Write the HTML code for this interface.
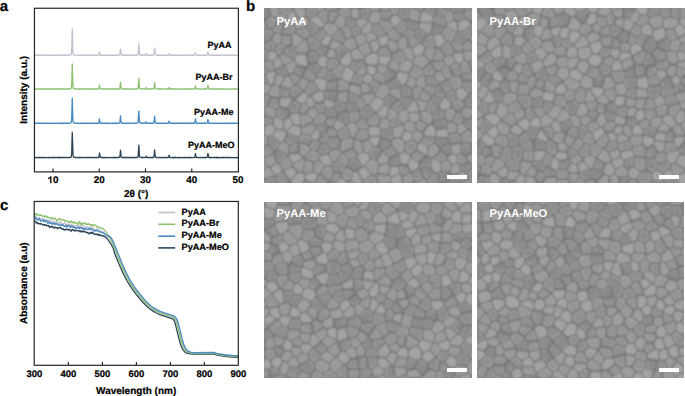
<!DOCTYPE html>
<html><head><meta charset="utf-8"><style>
html,body{margin:0;padding:0;background:#fff;}
body{width:685px;height:396px;position:relative;overflow:hidden;font-family:"Liberation Sans",sans-serif;text-rendering:geometricPrecision;}
svg{position:absolute;left:0;top:0;}
svg text{stroke:#000;stroke-width:0.22px;}
.sem{position:absolute;background:#8b8b8b;overflow:hidden;}
.sem .lab{position:absolute;left:12.5px;top:7.2px;color:#fff;font-weight:bold;font-size:11.2px;line-height:13px;white-space:nowrap;}
.sem .bar{position:absolute;background:#fff;width:20px;height:4px;}
</style></head><body>

<svg width="685" height="396" viewBox="0 0 685 396" font-family="Liberation Sans" font-weight="bold">
<text x="-0.3" y="10.7" font-size="15">a</text>
<text x="245.9" y="10.5" font-size="15">b</text>
<text x="0.1" y="210.1" font-size="15">c</text>
<path d="M34.50 55.04L34.59 55.40L34.68 55.17L35.24 55.27L35.33 54.93L35.79 55.28L36.44 55.08L36.63 55.24L36.90 55.04L37.27 55.27L37.74 55.15L37.83 55.42L37.92 55.12L38.11 55.33L38.75 55.09L39.68 55.18L39.77 55.40L39.86 55.14L40.05 55.33L40.33 55.14L40.42 55.36L40.70 55.11L40.79 55.37L41.16 55.07L41.25 55.29L41.53 55.09L41.81 55.34L41.90 55.06L42.45 55.26L42.64 55.09L42.73 55.32L43.10 55.15L43.29 55.34L43.47 55.10L44.12 55.26L44.58 54.99L44.86 55.36L45.14 55.16L45.23 55.38L45.32 55.10L45.51 55.30L45.97 55.03L46.06 55.21L46.34 55.06L46.80 55.26L46.89 55.08L47.45 55.27L47.63 55.00L48.00 55.30L49.76 55.06L49.85 55.36L49.95 55.13L50.96 55.24L51.06 55.02L51.43 55.23L51.98 55.07L52.54 55.29L53.00 55.07L53.37 55.32L53.83 55.11L54.85 55.37L55.22 55.09L55.31 55.35L55.68 55.15L55.87 55.34L56.79 55.24L56.88 55.05L57.07 55.27L57.35 55.01L57.44 55.21L57.81 55.01L58.27 55.29L58.36 55.05L58.64 55.27L59.10 55.10L59.94 55.22L60.12 55.04L60.21 55.21L60.49 55.09L60.58 55.34L60.95 55.07L61.32 55.31L61.51 55.04L61.60 55.26L61.69 55.04L62.06 55.37L63.17 55.06L63.36 55.27L63.64 55.11L64.38 55.30L64.84 55.19L64.93 54.94L65.12 55.23L65.49 55.08L65.67 55.42L65.95 55.05L66.13 55.26L66.23 55.04L66.32 55.25L66.50 55.05L66.97 55.22L67.24 54.96L67.43 55.22L67.89 55.04L68.17 55.33L68.35 54.99L68.63 55.20L70.20 54.81L70.48 54.99L71.31 54.08L71.59 52.59L72.33 28.85L72.98 52.74L73.26 54.12L73.63 54.62L74.46 55.05L75.11 54.98L75.20 55.19L75.29 55.02L75.38 55.20L76.77 55.03L77.42 55.21L77.79 54.95L78.07 55.34L78.44 55.10L78.53 55.29L78.99 55.09L79.18 55.28L80.01 55.04L80.56 55.28L80.84 55.05L81.58 55.22L81.95 55.03L82.41 55.28L83.15 55.07L83.99 55.29L84.17 55.05L84.63 55.31L84.73 55.06L85.65 55.33L85.74 55.09L86.11 55.27L86.30 55.05L86.58 55.46L86.76 55.11L87.78 55.23L87.96 54.99L88.15 55.37L88.80 55.09L88.89 55.28L88.98 55.11L89.54 55.27L90.55 55.10L90.83 55.30L91.02 55.14L91.11 55.33L91.57 55.00L92.13 55.38L92.22 55.13L93.33 55.23L93.42 55.07L93.88 55.29L94.07 55.11L94.53 55.30L95.27 55.05L95.92 55.35L96.20 55.05L96.57 55.24L96.94 54.97L98.23 55.22L98.69 55.06L98.88 54.67L99.53 51.63L100.08 54.77L100.54 55.21L100.64 54.95L100.73 55.34L100.91 54.96L101.19 55.24L101.28 55.04L101.38 55.26L101.75 55.09L101.84 55.28L102.30 55.10L103.32 55.27L103.50 55.07L103.97 55.31L104.34 55.06L104.89 55.34L105.08 55.06L105.63 55.29L105.91 55.03L106.09 55.28L106.74 55.15L106.93 55.33L107.02 55.09L107.20 55.32L107.94 55.20L108.13 55.43L108.50 55.14L110.16 55.28L110.72 55.02L110.90 55.32L111.00 55.07L111.37 55.32L111.64 55.07L112.11 55.35L112.75 55.07L113.77 55.31L114.42 55.08L114.70 55.36L114.88 55.09L115.62 55.30L116.27 55.08L116.64 55.26L116.73 55.06L116.82 55.32L117.66 55.03L117.93 55.24L118.03 55.07L118.58 55.21L118.67 54.98L118.86 55.19L119.88 54.68L120.52 48.95L121.36 54.96L121.45 54.70L121.73 55.08L122.28 55.18L123.02 55.25L123.11 55.02L123.39 55.21L123.58 55.02L123.85 55.22L123.95 55.02L124.13 55.23L124.22 55.07L124.96 55.25L125.06 55.01L125.80 55.30L126.17 55.14L126.26 55.34L126.35 54.93L126.44 55.25L126.72 55.11L126.91 55.42L127.09 55.12L127.37 55.37L127.46 55.09L127.92 55.27L128.29 55.08L128.76 55.29L128.85 55.10L129.59 55.15L129.77 55.36L130.42 55.08L131.44 55.32L131.62 55.08L131.90 55.31L132.46 55.07L133.29 55.30L133.57 55.06L134.12 55.34L134.58 55.07L136.16 55.06L136.25 55.23L136.43 54.99L136.62 55.25L137.27 55.07L137.45 54.76L137.54 54.94L138.10 54.09L138.84 43.43L139.49 54.11L140.04 55.05L140.13 54.84L140.69 55.15L141.06 54.93L141.15 55.22L141.34 55.02L141.61 55.23L141.80 55.01L142.35 55.22L142.91 54.99L143.09 55.25L143.19 55.08L144.76 55.26L145.31 54.94L145.96 53.55L146.52 54.90L146.89 55.24L147.07 55.03L147.44 55.22L148.00 55.08L148.09 55.29L148.37 55.07L148.55 55.34L148.64 55.14L149.20 55.12L149.29 55.29L149.38 54.99L149.57 55.20L149.85 54.98L150.03 55.20L150.59 55.04L150.96 55.32L151.14 55.11L151.79 55.30L151.88 55.04L151.97 55.22L153.18 54.89L153.36 55.14L153.45 54.90L153.64 55.01L154.10 53.52L154.66 48.14L155.21 54.12L155.49 54.90L156.51 55.17L156.97 54.93L157.25 55.23L157.43 55.03L157.62 55.25L157.89 55.10L158.82 55.28L159.10 55.10L160.02 55.35L160.11 55.12L160.39 55.27L160.67 55.11L160.76 55.30L160.85 55.12L161.78 55.27L162.24 55.08L162.43 55.28L163.07 55.00L163.72 55.38L163.81 55.08L163.91 55.28L165.29 55.24L165.48 55.06L166.31 55.26L166.96 55.13L167.05 55.30L167.33 55.04L167.42 55.27L167.61 55.11L167.70 55.31L168.07 55.30L168.53 54.96L168.99 53.84L169.18 53.84L169.83 55.15L170.20 55.06L170.75 55.33L171.12 55.05L171.31 55.27L171.49 55.06L171.58 55.26L171.86 55.07L173.34 55.26L173.71 55.10L173.90 55.40L174.36 55.07L174.45 55.26L176.58 55.12L176.76 55.32L176.86 55.07L177.50 55.31L177.87 55.04L178.24 55.28L178.52 55.08L178.89 55.30L179.08 55.08L180.19 55.27L180.46 55.08L181.02 55.33L182.13 55.10L182.50 55.34L182.78 55.06L182.87 55.40L183.24 55.18L183.61 55.32L183.89 55.13L183.98 55.33L184.72 55.02L185.00 55.20L185.64 55.01L185.74 55.26L185.83 55.05L187.03 55.34L187.40 55.08L187.68 55.38L187.77 55.15L188.14 55.28L188.33 55.04L188.79 55.18L188.88 55.01L189.34 55.39L189.53 55.07L189.99 55.27L190.08 55.05L190.36 55.41L190.45 55.07L190.73 55.27L191.19 55.01L191.38 55.22L191.56 55.08L191.93 55.26L192.12 55.06L192.21 55.27L193.23 55.19L193.32 55.36L193.41 55.04L193.60 55.25L194.80 54.98L195.45 52.56L195.91 54.52L196.19 55.11L196.47 55.02L196.56 55.22L197.95 55.07L198.04 55.24L198.13 55.03L198.32 55.24L199.15 55.09L199.61 55.31L199.89 55.05L200.07 55.31L200.26 55.13L200.63 55.33L200.81 55.02L201.00 55.31L201.37 55.15L201.83 55.35L202.48 55.26L202.66 55.03L204.24 55.35L204.51 55.02L205.25 55.29L205.62 55.03L205.72 55.32L206.09 55.02L206.18 55.26L207.29 54.87L207.94 51.96L208.58 54.88L208.86 55.06L208.95 54.86L209.05 55.18L209.32 55.08L209.51 55.31L209.60 55.03L211.08 55.24L211.27 55.03L211.82 55.32L212.10 55.12L212.19 55.31L212.28 55.07L212.93 55.38L213.30 55.12L213.86 55.33L215.15 55.08L215.24 55.33L216.08 55.07L216.17 55.30L216.35 54.89L216.72 55.41L216.82 55.07L217.00 55.31L217.09 55.10L217.28 55.28L217.83 55.31L218.02 55.09L218.48 55.27L218.57 55.06L218.94 55.31L219.04 55.04L219.22 55.26L219.87 55.31L220.42 55.05L220.52 55.27L221.07 55.16L221.26 55.37L221.81 55.10L222.46 55.26L223.11 55.02L223.20 55.19L224.49 55.08L224.96 55.28L225.33 55.04L225.42 55.30L226.90 55.10L226.99 55.40L227.73 55.09L228.38 55.30L228.56 55.16L228.66 55.39L228.93 55.14L229.30 55.38L229.67 55.13L229.95 55.31L230.51 55.10L230.78 55.24L231.15 54.97L231.52 55.28L232.17 55.25L232.26 55.05L232.54 55.31L232.63 55.03L233.10 55.23L233.19 55.04L233.56 55.40L233.93 55.02L234.02 55.25L234.67 55.08L235.78 55.29L235.96 55.10L236.06 55.30L238.00 55.18" fill="none" stroke="#c3c2cc" stroke-width="1.3" stroke-linejoin="round"/>
<path d="M34.50 88.97L35.15 89.07L35.24 88.85L35.61 89.21L35.89 88.89L35.98 89.16L36.16 88.84L36.90 89.08L37.00 88.87L37.09 89.13L37.27 88.75L37.55 89.07L38.01 88.85L38.29 89.03L38.85 88.88L39.77 89.08L39.86 88.92L40.14 89.19L40.60 88.97L40.88 89.16L40.97 88.89L41.71 89.01L41.81 88.84L41.90 89.15L42.08 88.92L42.36 89.14L42.45 88.90L42.55 89.15L42.92 88.88L43.29 89.14L43.38 88.93L44.03 89.09L44.12 88.92L44.30 89.21L44.67 88.80L44.86 89.11L45.23 88.90L46.06 89.11L46.52 88.89L46.89 89.18L47.08 88.95L47.91 89.02L48.00 88.80L48.47 89.11L48.65 88.88L48.74 89.11L49.02 88.88L49.11 89.08L49.39 88.87L49.85 89.06L49.95 88.83L50.32 89.14L50.69 88.86L51.24 89.18L51.52 88.82L51.61 89.07L52.35 88.89L52.54 89.11L52.91 88.90L53.65 89.11L54.02 89.07L54.11 88.80L54.29 89.06L54.48 88.89L54.57 89.22L54.76 88.95L55.59 88.92L56.14 89.16L56.61 88.78L56.88 89.06L57.53 88.93L57.62 89.15L57.81 88.92L57.99 89.15L58.09 88.95L58.83 88.92L59.01 89.11L59.20 88.83L59.29 89.09L60.03 88.93L60.12 89.13L60.21 88.94L60.58 89.07L60.68 88.91L60.86 89.12L61.51 88.82L61.60 89.11L61.97 88.82L62.06 89.05L62.90 88.94L63.17 89.21L63.27 88.91L64.38 89.13L64.56 88.92L64.65 89.09L65.30 88.83L65.58 89.08L67.06 88.80L67.24 89.09L67.71 88.79L68.08 89.10L68.17 88.79L68.45 89.05L69.00 88.74L69.19 89.01L69.93 88.92L70.02 88.63L70.20 88.90L70.57 88.49L70.67 88.74L71.41 87.82L71.68 85.22L72.24 64.00L72.98 86.52L73.44 88.33L73.81 88.69L74.64 88.69L74.74 88.96L74.83 88.64L75.11 88.99L75.38 88.79L76.31 89.03L76.86 88.77L76.96 88.97L77.79 89.04L78.25 88.82L78.53 89.12L78.71 88.93L79.08 89.10L79.27 88.82L79.36 89.07L79.45 88.85L79.64 89.09L80.10 88.85L80.56 89.14L80.84 88.96L80.93 89.13L81.12 88.87L81.21 89.14L81.30 88.95L81.77 89.11L81.86 88.88L82.32 89.12L83.06 88.84L83.15 89.05L83.99 88.96L84.08 89.18L84.17 88.88L84.63 89.11L84.82 88.88L85.10 89.04L85.37 88.87L85.65 89.15L86.11 88.73L86.21 88.98L86.58 88.88L86.85 89.17L87.13 88.88L87.22 89.10L87.59 88.86L88.15 89.05L88.24 88.83L88.80 89.13L89.17 88.89L89.26 89.14L89.72 88.88L90.00 89.09L90.09 88.83L90.37 88.82L90.55 89.17L90.83 88.83L90.92 89.11L92.22 89.01L92.31 88.83L92.50 89.08L93.14 88.91L93.61 89.13L94.72 88.94L94.90 89.22L94.99 88.91L95.46 88.76L95.55 88.96L96.38 89.08L96.66 88.84L96.94 89.07L97.49 88.78L97.86 88.95L97.95 88.75L98.23 89.05L98.88 88.43L99.53 85.02L99.99 88.06L100.36 88.87L100.64 88.72L101.47 89.09L101.75 88.84L102.30 89.11L102.39 88.92L103.13 89.07L103.23 88.90L103.50 89.15L103.69 88.80L104.06 89.21L104.24 88.90L104.43 89.17L104.52 88.89L104.98 89.08L105.63 88.91L105.72 89.19L105.91 88.91L106.28 89.09L106.46 88.86L107.11 88.83L107.76 89.15L108.22 88.80L108.41 89.11L109.24 88.95L109.33 89.23L109.79 88.84L111.09 89.20L111.18 88.87L112.20 89.15L112.85 88.87L113.31 88.92L113.40 89.14L113.59 88.84L113.68 89.12L113.96 88.87L114.23 89.09L114.42 88.91L115.25 89.09L115.62 88.80L115.71 89.07L116.08 89.13L116.27 88.91L116.73 89.04L117.38 88.83L117.84 89.09L118.40 88.68L118.77 89.03L118.95 88.71L119.04 88.94L119.23 88.73L119.41 88.97L119.78 88.51L119.97 87.57L120.52 82.03L121.17 88.06L121.54 88.81L121.91 88.77L122.00 89.00L122.93 88.84L123.58 89.10L124.22 88.83L124.96 89.02L125.15 88.84L126.07 89.07L126.17 88.78L126.26 89.02L126.81 88.86L127.55 89.13L128.02 88.90L128.11 89.08L129.03 89.09L129.31 88.85L129.40 89.09L130.14 88.95L130.24 89.12L130.33 88.94L130.42 89.17L130.51 88.85L131.72 89.13L131.81 88.86L132.27 89.16L132.55 88.84L133.01 89.07L133.57 88.82L134.31 89.10L135.60 88.82L136.43 89.04L136.99 88.72L137.27 88.93L137.73 88.75L138.19 87.36L138.75 78.09L139.49 88.03L140.04 88.82L140.41 88.72L140.78 88.94L140.87 88.71L140.97 88.95L141.71 88.83L142.35 89.09L143.09 89.00L143.19 88.76L143.28 89.04L143.93 88.80L144.30 89.07L144.48 88.81L144.85 89.12L144.94 88.81L145.04 89.03L145.50 88.71L146.05 87.59L146.52 88.78L146.70 88.97L147.35 88.88L147.44 89.18L147.72 88.79L148.00 89.06L150.68 88.86L150.86 89.13L151.14 88.83L151.23 89.02L151.97 88.80L152.16 89.13L152.53 88.74L152.71 89.00L153.55 88.62L153.64 88.84L154.10 87.46L154.56 82.32L155.21 87.91L155.49 88.66L155.86 88.70L155.95 88.97L157.71 88.88L158.08 89.09L158.54 88.82L158.82 89.17L159.19 88.89L159.47 89.21L159.56 88.92L160.21 88.82L160.39 89.10L160.58 88.89L161.13 89.15L161.41 88.92L161.78 89.11L161.96 88.77L162.06 89.08L163.81 88.91L163.91 89.10L164.18 88.84L164.55 89.08L165.39 88.87L165.48 89.08L165.76 88.90L166.13 89.12L166.22 88.92L166.31 89.13L166.50 88.90L166.68 89.11L167.05 88.85L167.24 89.09L167.42 88.92L167.70 89.10L168.25 88.81L168.35 89.00L169.18 87.53L169.46 88.53L169.92 89.11L170.20 88.73L170.29 89.17L170.94 88.81L171.03 89.04L171.21 88.85L171.31 89.09L171.49 88.90L171.68 89.10L171.86 88.84L171.95 89.02L173.16 88.89L173.62 89.10L174.08 88.87L174.17 89.11L174.27 88.92L174.45 89.11L174.73 88.90L175.10 89.14L176.21 88.88L176.49 89.12L176.86 88.88L177.32 89.14L177.69 89.01L177.78 89.21L177.97 88.96L178.06 89.19L178.80 88.90L182.22 89.13L182.68 88.85L183.98 89.09L184.07 88.93L184.90 89.05L185.27 88.80L185.55 89.12L187.12 88.89L187.31 89.23L187.59 88.93L188.05 89.05L188.51 88.83L188.88 89.09L190.08 88.83L190.92 89.13L191.01 88.79L191.19 89.15L191.29 88.96L191.47 89.16L191.84 88.90L191.93 89.05L192.49 88.88L192.67 89.10L192.77 88.84L193.23 89.00L193.88 88.81L194.34 89.08L194.80 88.66L195.45 85.88L196.10 88.70L196.28 88.63L196.47 88.93L196.65 88.79L196.84 89.01L197.30 88.75L197.67 89.02L197.85 88.86L199.24 89.04L199.33 88.88L200.07 89.09L200.35 88.86L200.91 89.10L202.02 88.96L202.29 89.17L203.68 88.90L203.87 89.06L204.24 88.94L204.33 89.21L204.51 88.84L204.70 89.13L204.88 88.79L205.07 89.06L205.44 88.88L205.62 89.14L205.90 88.82L206.36 89.08L206.46 88.84L207.20 88.71L207.94 85.29L208.58 88.55L209.51 89.11L209.88 88.91L211.27 89.03L211.45 88.78L212.10 89.06L212.19 88.81L212.65 89.13L212.75 88.84L213.02 89.08L213.39 88.83L213.95 89.13L214.78 88.92L214.97 89.11L215.06 88.90L215.15 89.11L216.08 89.05L216.17 88.89L216.35 89.12L216.72 88.83L216.82 89.04L217.65 88.87L217.74 89.14L217.83 88.91L218.30 89.14L218.39 88.90L218.85 89.10L219.13 88.87L219.41 89.14L219.59 88.87L220.05 89.14L220.15 88.85L220.42 89.00L220.52 88.84L220.89 89.10L222.00 88.89L223.20 89.08L223.29 88.84L223.75 89.15L224.31 88.86L224.86 89.06L225.88 88.93L226.07 89.18L226.53 88.89L226.62 89.07L227.92 89.08L228.47 88.89L228.75 89.14L230.51 88.96L230.69 89.14L230.97 88.86L231.43 89.13L232.36 88.90L232.45 89.16L233.00 88.95L233.47 89.21L234.21 88.83L234.48 89.09L235.04 88.83L235.22 89.09L236.52 88.84L236.98 89.19L237.07 88.88L237.72 88.85L238.00 89.13" fill="none" stroke="#8fc173" stroke-width="1.3" stroke-linejoin="round"/>
<path d="M34.50 123.18L34.78 123.44L34.96 123.14L35.24 123.46L35.33 123.07L35.52 123.42L35.79 123.17L36.90 123.42L37.27 123.12L37.55 123.31L38.01 123.17L38.11 123.36L38.48 123.17L39.31 123.37L39.59 123.16L39.86 123.43L40.05 123.21L40.23 123.37L40.88 123.15L41.25 123.36L41.34 123.17L41.44 123.41L42.08 123.19L42.18 123.45L42.92 123.12L43.19 123.39L43.29 123.21L43.93 123.41L44.40 123.15L44.77 123.37L45.23 123.18L46.43 123.44L46.80 123.22L48.37 123.40L48.65 123.16L49.11 123.41L49.21 123.20L49.76 123.22L49.85 123.43L50.13 123.42L50.32 123.11L50.41 123.40L50.59 123.21L51.61 123.26L51.89 123.48L52.44 123.20L52.81 123.44L53.00 123.19L53.18 123.38L54.48 123.19L54.85 123.40L55.68 123.37L55.87 123.01L56.24 123.40L56.33 123.19L56.88 123.40L57.44 123.24L57.53 123.42L58.18 123.23L58.36 123.43L58.46 123.24L58.55 123.42L58.64 123.16L59.01 123.34L59.57 123.09L59.84 123.35L59.94 123.14L60.40 123.36L60.68 123.23L60.77 123.46L60.86 123.21L61.05 123.50L61.32 123.17L61.42 123.51L61.60 123.28L62.06 123.41L62.71 123.15L62.80 123.42L62.99 123.23L63.17 123.50L63.45 123.09L63.91 123.51L64.47 123.15L64.56 123.39L65.86 123.10L65.95 123.38L66.50 123.08L66.60 123.45L66.69 123.20L66.97 123.40L67.24 123.15L67.43 123.32L67.52 123.08L68.35 123.38L68.45 123.15L68.82 123.29L69.09 123.06L69.56 123.26L69.74 123.03L70.67 122.95L71.31 122.33L71.68 119.42L72.24 98.08L72.98 120.94L73.26 122.27L74.09 123.06L74.37 122.85L74.46 123.18L74.64 122.99L75.48 123.29L75.85 123.28L75.94 123.06L76.03 123.36L77.79 123.12L78.16 123.38L78.25 123.13L78.62 123.34L80.29 123.21L80.38 123.37L80.56 123.10L80.66 123.32L82.41 123.23L82.51 123.46L83.52 123.13L83.80 123.36L84.54 123.19L84.82 123.46L85.00 123.08L85.10 123.35L85.28 123.16L85.74 123.42L85.93 123.16L86.02 123.36L86.21 123.21L86.76 123.43L87.32 123.14L88.24 123.41L88.33 123.15L88.43 123.39L88.52 123.15L88.80 123.18L88.89 123.43L88.98 123.16L89.44 123.42L89.54 123.15L90.09 123.36L90.74 123.19L90.92 123.37L91.29 123.19L92.77 123.38L92.96 123.15L93.42 123.40L93.51 123.19L94.62 123.35L94.81 123.20L95.36 123.41L95.46 123.17L96.10 123.40L96.20 123.18L96.47 123.35L96.57 123.15L96.66 123.39L96.75 123.12L97.40 123.33L97.86 123.10L98.14 123.28L98.23 123.06L98.60 123.29L99.06 121.78L99.43 118.85L99.99 122.28L100.45 123.23L101.75 123.19L102.12 123.39L102.58 123.11L102.86 123.45L103.04 123.13L103.41 123.44L103.78 123.14L104.06 123.46L104.43 123.14L105.08 123.20L105.26 123.42L105.45 123.06L106.09 123.45L106.56 123.17L107.02 123.34L107.11 123.13L107.20 123.38L107.48 123.17L107.57 123.38L107.94 123.22L108.04 123.50L108.22 123.27L108.68 123.44L108.78 123.22L108.87 123.49L109.70 123.20L110.26 123.50L110.35 123.32L111.55 123.37L111.83 123.17L112.11 123.38L112.38 123.27L112.48 123.49L112.66 123.26L112.75 123.41L113.12 123.19L113.22 123.40L113.59 123.16L113.86 123.48L113.96 123.25L114.14 123.40L114.42 123.17L114.79 123.34L115.07 123.19L115.25 123.51L115.44 123.23L116.18 123.18L117.38 123.35L117.56 123.10L118.03 123.33L118.49 123.05L118.67 123.29L119.69 122.91L119.88 122.39L120.52 115.72L121.08 121.87L121.63 123.24L121.82 123.03L122.56 123.45L122.65 123.20L123.11 123.12L123.39 123.42L123.67 123.21L124.78 123.40L124.87 123.18L125.43 123.40L125.98 123.15L126.17 123.41L126.35 123.16L126.44 123.33L127.18 123.18L127.37 123.46L127.46 123.16L127.65 123.39L128.02 123.16L128.20 123.35L128.85 123.22L128.94 123.42L129.13 123.12L129.40 123.52L129.59 123.20L129.87 123.39L130.33 123.18L130.98 123.41L131.25 123.20L131.72 123.43L133.01 123.14L133.84 123.19L133.94 123.38L134.86 123.17L135.23 123.33L135.69 123.10L135.97 123.38L136.06 123.16L137.45 123.03L138.01 122.48L138.84 111.00L139.58 122.49L140.13 123.08L140.60 122.94L141.52 123.35L141.71 123.08L142.26 123.50L142.35 123.20L142.91 123.14L143.46 123.42L143.56 123.12L143.83 123.39L143.93 123.16L144.76 123.31L145.04 123.06L145.13 123.24L145.50 122.99L145.96 121.76L146.79 123.36L147.07 123.06L147.81 123.32L148.00 123.11L148.55 123.35L149.29 123.15L149.75 123.40L150.12 123.18L150.59 123.45L150.77 123.20L150.86 123.41L150.96 123.20L151.51 123.14L152.34 123.38L152.90 123.02L152.99 123.33L153.45 122.94L153.73 123.00L154.10 121.59L154.56 116.21L155.30 122.59L155.95 123.20L156.88 123.34L157.15 123.17L157.43 123.42L157.62 123.19L158.26 123.25L158.54 123.50L158.91 123.22L159.65 123.16L159.74 123.38L160.39 123.17L161.22 123.30L161.32 123.11L161.87 123.38L163.07 123.26L163.26 123.52L163.54 123.15L163.91 123.38L164.37 123.19L164.46 123.39L164.65 123.14L164.92 123.34L165.02 123.12L165.29 123.44L166.03 123.14L166.22 123.43L166.59 123.18L166.87 123.42L167.24 123.40L167.33 123.15L168.07 123.30L168.16 123.10L168.44 123.18L169.09 121.06L169.83 123.23L170.01 123.03L170.20 123.31L170.38 123.05L171.03 123.45L171.49 123.17L171.77 123.33L172.05 123.17L172.14 123.36L172.60 123.14L173.16 123.44L173.34 123.13L173.71 123.45L173.99 123.19L174.27 123.43L175.19 123.14L175.56 123.49L175.65 123.23L176.12 123.42L176.58 123.22L176.76 123.46L177.50 123.17L178.24 123.45L178.34 123.20L178.61 123.26L178.89 123.49L179.35 123.19L179.45 123.38L179.54 122.97L179.72 123.39L180.00 123.19L180.28 123.39L180.46 123.17L181.20 123.42L181.48 123.16L181.67 123.39L182.31 123.23L182.41 123.45L182.50 123.11L182.68 123.42L182.96 123.19L183.15 123.35L183.70 123.23L183.79 123.48L183.98 123.20L184.53 123.46L184.63 123.27L184.90 123.47L185.18 123.22L185.37 123.43L185.55 123.15L186.11 123.42L186.29 123.22L187.22 123.36L187.59 123.16L187.68 123.36L188.23 123.23L188.33 123.42L188.51 123.16L188.70 123.36L189.16 123.21L189.25 123.48L189.44 123.27L189.62 123.49L189.81 123.25L190.18 123.41L190.45 123.01L190.55 123.35L191.01 123.19L191.10 123.43L191.38 123.16L191.75 123.39L191.84 123.21L191.93 123.41L192.58 123.13L192.67 123.35L192.77 123.16L193.14 123.35L193.23 123.12L193.51 123.36L193.78 123.11L193.88 123.37L194.80 122.87L195.45 118.96L196.19 122.98L196.37 123.19L196.47 122.92L196.56 123.23L197.58 123.11L197.67 123.37L198.22 123.17L199.15 123.40L199.43 123.15L199.52 123.39L199.89 123.18L200.91 123.37L201.00 123.17L201.18 123.49L201.37 123.22L201.83 123.41L202.48 123.14L202.94 123.47L204.14 123.11L204.33 123.37L204.70 123.12L204.88 123.40L205.25 123.15L205.44 123.40L205.53 123.10L205.72 123.29L205.90 123.07L206.83 123.21L207.20 123.03L207.47 122.17L207.84 119.56L208.03 119.60L208.49 122.61L208.95 123.30L209.42 123.11L209.69 123.39L210.16 123.13L210.80 123.41L211.27 123.44L211.54 123.19L212.56 123.41L212.93 123.09L213.02 123.39L213.58 123.14L213.67 123.38L214.97 123.26L215.06 123.46L215.15 123.18L215.52 123.41L216.54 123.17L217.56 123.41L217.74 123.16L217.83 123.35L218.48 123.40L219.22 123.13L221.07 123.39L221.63 123.36L221.72 123.10L222.09 123.44L222.46 123.25L222.55 123.45L222.83 123.20L223.01 123.41L223.57 123.19L223.85 123.42L224.68 123.38L224.77 123.18L225.14 123.48L225.23 123.26L225.60 123.42L225.88 123.14L225.97 123.38L226.44 123.19L226.53 123.40L226.71 123.18L227.08 123.40L227.82 123.15L228.10 123.47L228.38 123.17L228.47 123.37L228.56 123.21L229.49 123.41L230.04 123.17L230.41 123.50L230.88 123.15L231.34 123.34L231.52 123.13L231.89 123.54L232.36 123.23L232.91 123.36L233.28 123.13L233.47 123.39L234.11 123.21L234.30 123.44L234.76 123.15L235.32 123.39L235.59 123.13L235.69 123.44L236.70 123.18L236.98 123.40L238.00 123.37" fill="none" stroke="#4a8ac2" stroke-width="1.3" stroke-linejoin="round"/>
<path d="M34.50 157.67L34.78 157.45L35.24 157.71L35.61 157.46L35.98 157.80L36.07 157.55L36.26 157.72L37.00 157.48L37.55 157.65L37.83 157.51L38.20 157.75L39.03 157.43L39.59 157.71L39.68 157.44L39.77 157.73L40.51 157.47L40.79 157.73L41.16 157.45L41.62 157.75L41.99 157.47L42.36 157.67L42.64 157.54L42.73 157.74L42.82 157.56L43.66 157.70L43.75 157.49L43.84 157.79L43.93 157.49L44.12 157.64L44.21 157.46L44.49 157.64L44.77 157.48L45.78 157.58L45.88 157.78L45.97 157.61L46.06 157.79L46.25 157.55L48.37 157.66L48.47 157.41L48.84 157.75L49.21 157.50L49.58 157.70L49.67 157.48L50.13 157.68L50.87 157.53L50.96 157.78L51.24 157.49L51.70 157.46L51.80 157.63L52.44 157.47L53.18 157.64L53.37 157.44L53.55 157.68L53.83 157.49L53.92 157.71L54.11 157.45L54.29 157.69L54.48 157.48L55.87 157.67L56.33 157.40L56.70 157.70L57.07 157.38L57.44 157.71L58.09 157.49L58.18 157.68L58.36 157.47L58.55 157.65L58.64 157.38L58.73 157.82L59.01 157.55L59.10 157.70L59.38 157.50L59.47 157.74L59.84 157.44L60.40 157.65L60.86 157.39L60.95 157.72L61.42 157.59L61.51 157.34L61.88 157.65L61.97 157.39L62.16 157.71L62.43 157.47L62.90 157.65L63.45 157.43L63.64 157.65L64.75 157.47L65.30 157.68L66.13 157.50L66.32 157.70L67.52 157.42L68.63 157.62L70.02 157.31L70.11 157.50L70.67 157.03L70.76 157.21L71.22 156.85L71.41 156.28L71.68 153.65L72.24 132.17L73.07 155.82L73.72 157.30L73.81 157.02L74.09 157.31L75.20 157.51L75.38 157.36L75.66 157.67L75.75 157.35L76.40 157.61L76.68 157.36L77.05 157.69L77.42 157.47L77.51 157.63L78.81 157.47L79.27 157.75L79.45 157.46L79.55 157.71L79.73 157.48L79.82 157.70L80.84 157.47L81.49 157.71L81.95 157.48L82.32 157.74L82.97 157.48L83.25 157.70L84.36 157.44L84.54 157.69L84.91 157.49L85.84 157.71L86.95 157.51L87.13 157.73L87.96 157.44L88.24 157.71L88.89 157.48L89.54 157.68L89.63 157.43L89.72 157.74L90.28 157.44L90.55 157.67L90.65 157.36L90.83 157.67L91.11 157.52L91.29 157.73L91.85 157.50L92.13 157.64L92.22 157.45L92.96 157.66L93.05 157.45L93.24 157.63L93.70 157.52L93.98 157.78L94.07 157.55L94.62 157.67L94.90 157.51L94.99 157.69L95.09 157.35L95.27 157.71L96.66 157.45L96.75 157.64L97.31 157.44L98.42 157.57L98.97 156.63L99.53 152.87L100.17 157.15L100.73 157.62L101.19 157.45L101.38 157.78L101.47 157.41L101.65 157.69L102.76 157.51L102.95 157.72L103.32 157.49L103.41 157.68L103.60 157.40L103.87 157.73L104.43 157.48L104.89 157.70L104.98 157.47L105.26 157.74L105.72 157.42L105.82 157.68L106.00 157.43L107.20 157.74L108.04 157.51L108.13 157.69L110.81 157.51L111.46 157.71L112.57 157.46L113.03 157.73L113.40 157.43L113.86 157.74L113.96 157.45L114.14 157.66L114.88 157.48L115.07 157.82L115.34 157.37L115.44 157.59L115.90 157.66L116.08 157.47L116.18 157.68L117.29 157.47L117.56 157.70L118.03 157.39L118.21 157.62L118.86 157.36L118.95 157.50L119.32 157.24L119.60 157.34L119.88 156.66L120.52 150.06L121.08 156.16L121.36 157.14L121.91 157.53L122.19 157.64L122.56 157.33L122.65 157.67L123.39 157.38L123.48 157.58L124.13 157.63L124.32 157.44L124.50 157.64L125.24 157.48L125.33 157.71L125.80 157.43L126.44 157.47L126.54 157.67L126.72 157.41L126.91 157.67L127.18 157.48L127.74 157.69L128.66 157.49L129.13 157.77L129.22 157.51L129.77 157.65L129.87 157.44L130.61 157.73L130.88 157.51L131.25 157.67L131.62 157.48L131.81 157.75L131.99 157.50L132.73 157.68L133.01 157.40L133.20 157.74L133.47 157.57L133.57 157.73L133.66 157.51L134.03 157.68L134.31 157.44L134.40 157.60L134.95 157.48L135.05 157.70L135.14 157.43L136.06 157.58L136.25 157.35L136.43 157.54L137.08 157.19L137.17 157.50L137.64 157.16L137.73 157.35L138.10 156.41L138.84 145.09L139.49 156.30L139.76 157.17L139.86 157.04L140.13 157.34L140.60 157.30L140.97 157.56L141.71 157.43L142.17 157.67L142.63 157.43L143.28 157.63L143.56 157.41L144.85 157.68L145.50 157.28L146.05 156.07L146.33 156.98L146.98 157.66L147.35 157.45L147.53 157.64L147.72 157.37L147.81 157.61L148.46 157.44L149.01 157.71L149.48 157.51L149.66 157.76L150.22 157.41L151.05 157.70L152.07 157.46L152.16 157.76L152.34 157.47L152.81 157.61L152.90 157.43L153.64 157.35L154.10 155.80L154.56 149.99L155.30 156.88L155.67 157.41L156.41 157.55L156.78 157.40L158.26 157.61L158.91 157.43L160.76 157.73L161.78 157.50L161.96 157.73L162.24 157.45L162.52 157.70L163.17 157.52L163.63 157.73L164.28 157.59L164.37 157.35L165.02 157.70L165.11 157.43L165.20 157.72L165.66 157.46L165.85 157.75L166.40 157.50L166.68 157.69L166.87 157.38L166.96 157.64L167.05 157.49L167.33 157.68L167.88 157.32L168.16 157.57L168.62 156.87L169.09 155.22L169.64 157.25L170.01 157.63L170.20 157.42L170.66 157.74L171.12 157.49L171.86 157.67L173.06 157.45L173.34 157.76L173.53 157.52L173.62 157.86L173.71 157.51L174.08 157.74L174.54 157.45L174.64 157.73L174.82 157.39L175.28 157.66L175.75 157.39L175.84 157.72L176.39 157.49L177.13 157.75L177.41 157.50L177.60 157.74L178.24 157.48L179.08 157.78L179.26 157.52L179.82 157.51L179.91 157.71L180.09 157.47L180.28 157.71L181.48 157.54L182.13 157.72L182.31 157.51L183.70 157.71L183.98 157.40L184.44 157.71L184.72 157.44L184.90 157.66L185.37 157.46L185.83 157.71L186.66 157.50L187.40 157.73L187.86 157.49L188.14 157.70L188.42 157.45L188.70 157.77L188.88 157.49L189.16 157.73L189.34 157.51L189.90 157.71L190.64 157.49L191.47 157.68L191.56 157.43L191.75 157.71L191.84 157.54L192.30 157.68L193.23 157.41L193.51 157.65L194.80 157.26L195.45 153.51L196.00 156.95L196.37 157.53L197.02 157.44L197.39 157.63L197.58 157.44L197.76 157.69L198.41 157.70L198.87 157.49L199.15 157.69L199.80 157.47L199.98 157.67L200.54 157.40L200.63 157.74L200.72 157.53L201.37 157.62L201.46 157.46L201.92 157.71L202.66 157.47L203.40 157.79L203.50 157.44L204.51 157.69L204.61 157.44L205.16 157.73L205.44 157.40L205.53 157.68L205.62 157.49L206.36 157.61L206.55 157.37L206.73 157.55L206.92 157.31L207.10 157.41L207.38 156.97L207.94 153.47L208.58 157.15L209.14 157.65L209.79 157.39L209.88 157.77L210.06 157.50L210.62 157.58L210.71 157.37L210.80 157.59L211.73 157.65L211.91 157.43L212.01 157.73L212.28 157.51L212.93 157.65L213.86 157.44L214.13 157.65L214.23 157.44L214.32 157.62L214.50 157.48L214.60 157.82L214.69 157.62L215.06 157.71L215.24 157.40L215.71 157.68L216.17 157.48L216.45 157.76L216.54 157.39L216.72 157.62L217.09 157.41L217.83 157.72L218.11 157.50L218.30 157.71L218.39 157.45L218.48 157.76L218.57 157.36L219.31 157.79L219.41 157.56L219.78 157.72L220.33 157.49L220.61 157.76L221.53 157.68L221.81 157.44L221.90 157.68L222.37 157.46L222.83 157.73L222.92 157.46L223.48 157.48L223.57 157.74L223.66 157.49L224.68 157.67L225.14 157.46L225.70 157.69L225.79 157.39L226.07 157.74L226.71 157.50L226.99 157.71L227.27 157.43L227.36 157.68L228.29 157.49L228.47 157.75L228.75 157.43L228.84 157.70L229.40 157.45L230.41 157.75L231.25 157.48L231.52 157.71L231.71 157.56L232.45 157.74L233.00 157.53L233.47 157.73L234.02 157.51L234.21 157.73L234.58 157.51L234.67 157.72L235.78 157.54L235.87 157.77L236.15 157.44L237.26 157.73L237.72 157.48L237.81 157.79L238.00 157.49" fill="none" stroke="#2c4458" stroke-width="1.3" stroke-linejoin="round"/>
<rect x="34.45" y="8.25" width="203.95" height="163.65" fill="none" stroke="#262626" stroke-width="1.2"/>
<line x1="53.00" y1="171.9" x2="53.00" y2="168.4" stroke="#262626" stroke-width="1.15"/>
<line x1="99.25" y1="171.9" x2="99.25" y2="168.4" stroke="#262626" stroke-width="1.15"/>
<line x1="145.50" y1="171.9" x2="145.50" y2="168.4" stroke="#262626" stroke-width="1.15"/>
<line x1="191.75" y1="171.9" x2="191.75" y2="168.4" stroke="#262626" stroke-width="1.15"/>
<text x="99.25" y="183.2" font-size="9.8" text-anchor="middle">20</text>
<text x="145.50" y="183.2" font-size="9.8" text-anchor="middle">30</text>
<text x="191.75" y="183.2" font-size="9.8" text-anchor="middle">40</text>
<text x="238.00" y="183.2" font-size="9.8" text-anchor="middle">50</text>
<path transform="translate(47.55 183.2) scale(0.004785 -0.004785)" d="M818 0L537 0L537 1055L470 990L310 905L95 835L95 1085L300 1180L470 1300L590 1466L818 1466Z"/>
<text x="53.00" y="183.2" font-size="9.8">0</text>
<text x="136.2" y="197" font-size="10" text-anchor="middle">2θ (°)</text>
<text transform="translate(27.3 89.8) rotate(-90)" font-size="10" text-anchor="middle">Intensity (a.u.)</text>
<text x="231.4" y="48.0" font-size="9" text-anchor="end">PyAA</text>
<text x="232.4" y="80.0" font-size="9" text-anchor="end">PyAA-Br</text>
<text x="233.6" y="115.1" font-size="9" text-anchor="end">PyAA-Me</text>
<text x="234.4" y="147.9" font-size="9" text-anchor="end">PyAA-MeO</text>
<path d="M34.40 216.41L34.65 216.58L34.90 217.38L35.15 216.88L35.40 217.47L35.90 217.04L36.65 217.25L37.15 218.40L37.40 217.84L37.90 218.29L38.15 217.51L38.40 217.59L38.65 217.21L39.15 217.65L39.40 218.54L39.65 218.64L39.90 219.13L40.40 218.89L40.65 218.46L40.90 219.01L41.15 218.87L41.90 218.93L42.40 218.12L42.65 218.46L42.90 218.36L43.15 219.67L43.65 219.91L44.15 218.86L45.15 220.52L45.40 220.33L45.65 219.63L45.90 219.47L46.15 219.59L46.40 220.10L46.65 220.09L46.90 220.50L47.15 220.46L47.40 220.91L47.65 220.21L48.40 220.62L48.65 220.24L49.15 220.86L49.65 220.48L49.90 220.65L50.40 220.13L50.65 220.19L50.90 221.01L51.15 220.60L51.40 220.62L51.65 221.44L52.40 222.03L52.90 222.67L53.15 222.60L53.40 221.68L53.90 221.87L54.15 221.07L54.40 222.26L54.90 222.22L55.40 222.74L55.65 222.21L55.90 222.20L56.15 221.72L56.40 221.60L56.90 221.67L57.15 222.08L57.40 221.96L57.65 222.49L58.15 222.31L58.40 222.49L59.15 222.57L59.40 223.36L59.65 223.36L59.90 223.05L60.15 222.03L60.65 221.81L61.15 223.69L61.65 224.19L61.90 223.47L62.15 223.79L62.65 223.98L62.90 223.88L63.15 224.05L63.65 223.34L63.90 223.47L64.15 222.86L64.40 223.17L64.65 223.16L64.90 222.76L65.40 224.27L65.65 224.20L65.90 224.80L66.15 224.37L66.40 224.60L66.65 224.20L67.15 224.65L67.40 224.47L67.65 224.92L67.90 224.90L68.15 224.21L68.65 223.95L68.90 224.50L69.15 224.40L69.40 225.10L69.65 225.36L69.90 225.04L70.15 225.09L70.40 225.39L70.65 224.85L71.15 224.80L71.40 224.11L71.90 225.14L72.15 224.69L72.65 225.85L73.15 226.38L73.40 225.71L73.65 225.63L73.90 225.09L74.65 226.00L74.90 226.55L75.40 225.91L75.90 225.64L76.65 225.98L77.15 225.47L77.40 225.94L77.90 225.45L78.15 225.50L78.40 225.81L78.65 225.58L79.40 227.79L80.15 225.69L80.40 225.51L80.65 225.86L81.15 225.33L81.65 226.35L82.15 226.73L82.65 226.81L82.90 227.73L83.90 226.12L84.40 226.67L84.90 226.73L85.15 227.02L85.40 226.84L86.15 227.15L86.40 227.66L86.65 227.82L86.90 227.09L87.40 227.56L87.65 227.07L88.15 227.75L88.40 227.17L89.15 228.20L89.40 227.85L90.15 228.61L90.40 227.79L90.65 228.05L90.90 227.63L91.40 227.66L91.65 226.90L91.90 227.71L92.15 227.57L92.40 227.65L92.90 228.22L93.15 228.78L93.40 228.64L93.90 228.97L94.15 229.47L94.40 229.51L94.65 230.25L95.40 229.80L95.65 229.19L95.90 229.58L96.40 229.73L96.65 228.97L96.90 229.09L97.15 228.48L97.40 228.32L97.90 228.96L98.40 229.30L99.15 230.49L99.65 230.19L100.15 230.29L100.65 230.87L101.15 231.12L102.90 232.99L105.65 235.22L106.92 236.67L107.46 236.99L108.27 237.11L109.09 237.47L109.89 238.15L110.41 238.88L111.67 241.12L113.18 244.46L118.18 257.19L122.17 266.75L127.66 278.18L130.40 282.90L133.89 288.12L137.89 293.42L142.63 299.24L145.87 302.81L148.85 305.64L151.82 308.00L155.05 310.09L158.03 311.72L161.01 313.00L172.77 316.86L174.08 317.63L175.14 318.69L176.17 320.46L176.69 321.82L180.94 338.97L182.43 344.06L183.42 346.65L184.16 348.09L185.14 349.62L186.33 350.91L187.98 352.05L190.44 352.84L192.41 353.20L213.66 353.06L216.43 354.03L224.67 355.36L231.91 356.11L238.40 356.35" fill="none" stroke="#c3c2cc" stroke-width="1.3" stroke-linejoin="round"/>
<path d="M34.40 221.30L34.90 220.90L35.15 220.89L35.40 221.46L35.65 221.39L35.90 222.44L36.15 222.81L36.40 222.81L36.65 223.04L36.90 222.44L37.15 223.35L37.40 222.88L37.65 223.60L37.90 223.75L38.15 223.34L38.40 223.62L38.90 223.43L39.40 223.76L39.65 223.43L39.90 223.46L40.15 224.23L40.40 223.65L40.65 223.72L40.90 224.08L41.15 223.79L41.65 223.80L41.90 224.36L42.40 224.33L42.65 224.96L42.90 224.61L43.15 224.61L43.40 224.88L43.90 224.44L44.40 224.80L44.65 225.48L44.90 225.56L45.15 224.92L45.65 225.15L46.15 224.91L46.40 225.07L46.65 225.74L46.90 225.82L47.15 225.58L47.65 225.92L47.90 225.90L48.40 225.50L48.65 226.24L48.90 225.83L49.15 226.33L49.40 226.47L49.65 227.59L49.90 227.39L50.15 226.80L50.40 227.04L50.65 226.68L50.90 226.69L51.40 226.19L51.65 226.57L51.90 226.16L52.15 226.78L52.40 226.72L52.65 227.25L52.90 226.92L53.15 227.73L53.65 227.17L53.90 227.91L54.15 227.73L54.40 228.03L54.90 227.14L55.65 227.66L55.90 227.20L56.15 227.81L56.65 227.50L56.90 227.83L57.15 227.85L57.65 228.72L57.90 228.79L58.40 227.65L58.65 227.55L59.40 227.74L59.90 227.43L60.15 227.59L60.40 227.20L60.65 227.93L60.90 228.32L61.15 228.08L61.40 228.76L61.90 228.62L62.15 229.09L62.40 229.20L62.90 228.73L63.15 228.75L64.15 230.14L64.40 229.90L64.90 230.14L65.15 229.40L65.40 229.39L65.65 229.12L66.40 229.67L66.65 229.20L66.90 229.51L67.90 229.35L68.40 230.02L68.65 229.82L68.90 229.84L69.15 229.24L69.65 229.44L69.90 229.73L70.40 230.83L70.65 230.93L71.15 230.75L71.40 231.14L71.90 229.68L72.15 229.52L72.65 229.76L72.90 229.35L73.40 229.89L73.65 230.67L73.90 230.29L74.15 230.54L74.40 230.42L74.65 230.83L74.90 230.64L75.15 230.82L75.40 230.24L75.65 230.87L75.90 230.87L76.15 230.77L76.40 230.04L76.90 230.69L77.65 230.91L78.40 230.71L78.65 230.81L78.90 230.61L79.15 230.68L79.65 231.41L79.90 231.46L80.15 232.02L80.40 231.10L80.65 231.30L81.15 230.53L81.90 232.02L82.15 231.68L82.40 232.02L82.65 231.58L83.40 231.09L83.65 231.76L83.90 230.99L84.15 231.39L84.40 231.12L84.65 231.51L84.90 231.36L85.40 232.34L85.65 232.12L85.90 232.37L86.15 232.15L86.90 232.54L87.15 232.43L87.65 232.94L87.90 232.66L88.15 232.94L88.40 232.84L89.15 234.02L89.40 233.60L89.65 233.63L90.15 232.61L90.40 232.73L90.65 232.44L90.90 232.41L91.40 233.26L91.65 233.43L91.90 232.31L92.15 233.18L92.65 232.28L92.90 232.44L93.40 233.66L93.65 233.47L93.90 233.90L94.15 233.96L94.40 234.31L94.90 234.13L95.15 234.31L95.40 234.14L95.90 234.36L96.40 234.06L96.90 234.66L97.15 234.23L97.65 234.85L97.90 234.18L98.15 234.05L98.65 234.36L98.90 235.24L99.15 235.52L99.40 235.31L99.65 235.50L99.90 234.81L100.40 235.04L100.65 234.99L101.40 235.39L101.90 235.97L102.15 235.71L102.90 235.58L103.65 236.17L103.90 236.08L104.65 236.41L106.90 238.45L108.40 240.26L110.65 243.55L112.78 247.26L113.32 248.61L114.66 253.47L119.17 264.57L123.21 273.50L126.75 280.48L129.30 284.71L132.35 289.22L135.64 293.63L139.67 298.67L143.22 302.77L146.57 306.15L149.68 308.78L153.05 311.09L156.41 313.03L159.82 314.57L172.02 318.61L173.10 319.28L173.81 320.11L174.65 321.73L175.11 323.21L179.10 339.43L180.38 343.91L181.97 348.02L183.05 349.93L184.29 351.46L185.80 352.63L187.12 353.29L192.06 354.11L213.59 354.00L216.23 354.96L224.54 356.30L231.84 357.06L238.40 357.30" fill="none" stroke="#2c4458" stroke-width="1.3" stroke-linejoin="round"/>
<path d="M34.40 214.10L34.90 214.63L35.15 213.80L35.40 213.50L35.65 214.35L35.90 214.29L36.15 215.11L36.40 215.01L36.90 214.40L37.15 213.71L37.65 214.88L37.90 215.11L38.40 215.27L38.90 214.87L39.90 215.26L40.15 214.63L40.40 214.89L40.65 214.90L40.90 215.39L41.15 215.48L41.40 215.24L41.65 215.37L42.15 216.10L42.90 216.04L43.65 216.26L43.90 216.01L44.15 216.12L44.40 216.92L44.65 216.08L44.90 216.29L45.15 216.12L45.40 216.40L45.90 216.00L46.40 216.12L47.15 217.63L47.40 216.98L47.65 216.90L47.90 217.74L48.15 217.08L48.40 217.45L48.65 217.33L49.15 217.77L49.40 217.75L50.40 218.65L51.15 217.77L51.40 217.76L51.65 217.44L52.15 217.99L52.40 217.81L52.65 218.35L52.90 218.22L53.15 219.29L53.40 218.70L53.65 218.68L53.90 218.16L54.40 218.57L54.90 217.92L55.40 218.53L55.65 219.16L55.90 219.08L56.15 219.94L56.40 219.85L56.65 220.32L56.90 220.28L57.15 219.99L57.40 220.19L57.65 219.48L57.90 219.47L58.15 219.15L58.40 219.53L58.65 219.40L58.90 219.51L59.15 218.76L59.40 219.06L59.65 218.75L59.90 219.26L60.40 218.90L60.65 219.91L60.90 219.74L61.15 220.02L61.90 219.81L62.15 220.00L62.65 219.80L62.90 219.23L63.15 219.86L63.40 219.89L63.65 219.69L63.90 220.08L64.40 220.05L64.65 220.81L64.90 220.66L65.15 221.26L65.90 220.42L66.40 220.89L66.65 220.67L66.90 220.93L67.40 220.85L67.65 221.50L67.90 221.34L68.40 221.59L68.65 222.30L68.90 221.75L69.15 222.50L69.40 222.45L69.65 221.55L70.15 222.25L70.65 221.29L70.90 221.43L71.15 220.97L71.65 221.43L72.15 222.79L72.40 222.78L72.65 222.32L73.15 222.26L73.40 223.00L73.65 221.95L73.90 222.14L74.15 221.85L74.40 222.85L74.65 222.44L74.90 222.96L75.15 223.01L75.40 222.71L75.65 223.20L75.90 222.72L76.15 222.89L76.40 222.60L76.65 222.57L76.90 223.12L77.65 223.74L77.90 224.41L78.15 224.07L78.40 224.09L78.90 223.31L79.40 221.34L80.40 224.19L80.65 224.11L80.90 223.02L81.40 223.33L81.65 224.55L81.90 224.08L82.15 224.80L82.40 224.51L82.65 223.59L82.90 223.23L83.15 223.50L83.40 222.84L83.90 223.99L84.15 223.50L84.40 223.49L84.65 223.72L84.90 223.63L85.15 223.18L85.40 224.00L85.65 224.19L85.90 224.21L86.40 223.74L86.90 224.25L87.65 224.46L88.15 223.79L88.40 224.16L88.90 223.87L89.15 224.40L89.65 224.37L90.15 225.17L90.40 224.59L90.90 224.93L91.15 224.66L91.40 225.02L91.65 224.60L92.15 225.69L92.40 225.12L92.65 225.23L92.90 224.68L93.65 225.78L93.90 225.53L94.15 225.67L94.65 224.85L95.15 225.18L95.65 225.04L96.40 226.18L96.90 226.27L97.40 227.23L97.65 227.24L97.90 226.88L98.65 227.13L99.15 227.52L100.15 227.48L100.40 227.97L100.65 227.76L100.90 228.05L101.90 228.26L102.40 228.66L102.65 228.42L103.65 229.40L104.65 230.06L106.40 232.29L111.40 241.26L113.65 246.36L117.40 256.06L121.40 265.72L124.90 273.34L127.65 278.79L129.90 282.65L132.65 286.86L138.90 295.19L142.90 300.01L146.15 303.52L149.40 306.51L152.65 308.93L156.40 311.21L159.90 312.88L172.90 317.25L174.15 318.07L175.15 319.23L176.15 321.16L176.65 322.79L180.65 339.04L182.15 344.16L183.15 346.77L183.90 348.23L184.90 349.80L185.90 350.88L186.90 351.71L187.90 352.26L190.40 353.00L192.40 353.34L213.65 353.21L216.40 354.18L224.65 355.51L231.90 356.26L238.40 356.50" fill="none" stroke="#8fc173" stroke-width="1.3" stroke-linejoin="round"/>
<path d="M34.40 215.58L34.90 217.03L35.40 217.57L35.65 218.41L36.40 219.27L36.65 219.11L36.90 219.73L37.15 219.71L37.40 219.98L37.65 219.59L37.90 219.87L38.65 219.27L39.15 219.24L39.65 218.56L40.15 220.29L40.40 220.32L40.65 221.22L41.15 220.47L41.40 220.91L41.65 220.91L42.40 220.41L42.65 220.64L42.90 220.34L43.40 221.05L43.65 220.19L44.15 221.37L44.40 220.58L45.40 221.91L45.90 220.62L46.15 221.26L46.40 220.95L47.15 221.34L47.90 223.53L48.15 222.45L48.40 222.37L48.65 221.57L49.40 222.26L49.90 223.20L50.15 222.84L50.40 223.40L50.65 222.99L51.40 223.07L51.65 223.19L51.90 223.99L52.15 223.35L52.40 223.90L53.15 223.27L53.40 223.52L53.65 223.28L53.90 224.18L54.15 224.51L54.40 224.03L54.65 224.15L54.90 223.49L55.15 224.08L55.65 224.11L55.90 223.65L56.15 224.20L56.40 223.93L56.90 224.01L57.40 223.76L57.65 224.13L57.90 224.10L58.15 224.78L58.40 224.52L58.90 225.27L59.15 225.05L59.40 225.47L59.90 225.47L60.65 224.84L61.15 224.95L61.40 224.66L61.65 225.14L61.90 225.22L62.15 224.60L62.40 225.06L62.65 224.69L63.15 225.69L63.40 225.28L63.90 226.12L64.15 225.99L64.40 226.07L64.65 226.46L64.90 226.29L65.15 226.44L65.65 225.34L65.90 225.79L66.15 225.82L66.40 226.63L66.65 226.54L66.90 227.29L67.15 225.93L67.40 225.82L67.65 226.08L67.90 225.60L68.15 225.46L68.65 225.73L68.90 225.28L69.40 226.12L69.90 226.31L70.40 227.49L70.65 226.71L70.90 227.05L71.15 226.80L71.40 225.99L71.65 226.40L72.15 226.42L72.40 226.72L72.65 226.59L72.90 227.34L73.15 227.32L73.40 226.77L73.65 226.76L73.90 227.27L74.15 227.08L74.40 227.80L74.65 227.58L75.15 227.95L75.40 227.63L75.90 227.89L76.15 228.37L76.40 227.59L76.65 227.67L76.90 227.48L77.15 227.88L77.65 227.96L78.15 227.11L78.90 227.27L79.15 228.50L79.40 228.80L79.90 227.93L80.40 227.93L80.65 227.44L80.90 227.35L81.15 228.04L81.40 227.62L81.65 228.10L81.90 228.02L82.15 228.18L82.40 228.73L82.65 228.37L82.90 229.10L83.15 228.88L83.40 229.18L83.65 228.58L83.90 228.50L84.40 228.79L84.65 229.19L84.90 228.51L85.15 229.25L85.40 228.76L85.90 228.47L86.15 228.79L86.65 228.74L87.15 229.63L87.40 229.77L87.65 229.67L87.90 229.85L88.65 229.61L89.15 228.30L89.40 228.17L90.15 229.43L90.40 229.39L90.65 229.76L90.90 229.33L91.15 229.36L91.40 229.11L91.65 229.08L91.90 228.76L92.40 229.79L92.65 229.60L92.90 230.36L93.65 230.48L93.90 230.96L94.15 230.68L94.65 230.95L94.90 230.72L95.15 230.92L95.40 230.76L95.65 231.19L96.15 230.36L96.40 230.79L96.65 230.45L97.40 230.54L97.90 230.98L98.15 230.73L98.90 231.38L99.40 231.30L99.90 232.21L101.15 232.13L101.40 232.46L101.65 232.28L101.90 232.37L102.40 232.15L102.90 232.20L103.65 233.04L104.40 233.15L106.71 235.19L107.34 235.56L108.74 235.92L109.85 236.54L111.16 237.84L113.26 241.66L122.78 265.13L126.00 272.17L128.72 277.62L131.18 281.86L134.13 286.37L137.34 290.77L141.31 295.79L144.77 299.86L147.94 303.18L151.08 305.94L154.21 308.16L157.60 310.15L160.71 311.59L173.55 315.89L175.13 316.94L176.40 318.40L177.55 320.64L178.10 322.40L182.11 338.67L183.57 343.66L184.52 346.16L185.44 347.90L186.44 349.40L187.64 350.67L188.30 351.20L189.89 351.94L191.29 352.40L192.47 352.60L213.71 352.46L214.65 352.68L216.56 353.45L224.75 354.76L231.95 355.51L238.40 355.75" fill="none" stroke="#4a8ac2" stroke-width="1.3" stroke-linejoin="round"/>
<rect x="34.2" y="201.45" width="204.1" height="163.85" fill="none" stroke="#262626" stroke-width="1.2"/>
<line x1="68.40" y1="365.3" x2="68.40" y2="361.9" stroke="#262626" stroke-width="1.15"/>
<line x1="102.40" y1="365.3" x2="102.40" y2="361.9" stroke="#262626" stroke-width="1.15"/>
<line x1="136.40" y1="365.3" x2="136.40" y2="361.9" stroke="#262626" stroke-width="1.15"/>
<line x1="170.40" y1="365.3" x2="170.40" y2="361.9" stroke="#262626" stroke-width="1.15"/>
<line x1="204.40" y1="365.3" x2="204.40" y2="361.9" stroke="#262626" stroke-width="1.15"/>
<text x="34.40" y="377.0" font-size="9.5" text-anchor="middle">300</text>
<text x="68.40" y="377.0" font-size="9.5" text-anchor="middle">400</text>
<text x="102.40" y="377.0" font-size="9.5" text-anchor="middle">500</text>
<text x="136.40" y="377.0" font-size="9.5" text-anchor="middle">600</text>
<text x="170.40" y="377.0" font-size="9.5" text-anchor="middle">700</text>
<text x="204.40" y="377.0" font-size="9.5" text-anchor="middle">800</text>
<text x="238.40" y="377.0" font-size="9.5" text-anchor="middle">900</text>
<text x="136.2" y="393.9" font-size="10" text-anchor="middle">Wavelength (nm)</text>
<text transform="translate(27.3 283.2) rotate(-90)" font-size="10" text-anchor="middle">Absorbance (a.u)</text>
<line x1="158.2" y1="212.5" x2="175.2" y2="212.5" stroke="#c3c2cc" stroke-width="1.6"/>
<text x="181.5" y="214.6" font-size="9.2">PyAA</text>
<line x1="158.2" y1="224.3" x2="175.2" y2="224.3" stroke="#8fc173" stroke-width="1.6"/>
<text x="181.5" y="226.4" font-size="9.2">PyAA-Br</text>
<line x1="158.2" y1="236.2" x2="175.2" y2="236.2" stroke="#4a8ac2" stroke-width="1.6"/>
<text x="181.5" y="238.3" font-size="9.2">PyAA-Me</text>
<line x1="158.2" y1="247.9" x2="175.2" y2="247.9" stroke="#2c4458" stroke-width="1.6"/>
<text x="181.5" y="250.0" font-size="9.2">PyAA-MeO</text>
</svg>
<svg width="0" height="0" style="position:absolute"><defs><filter id="bl" x="0" y="0" width="1" height="1"><feGaussianBlur stdDeviation="0.8"/></filter></defs></svg>
<div class="sem" style="left:264px;top:8px;width:208px;height:174.6px"><svg width="209" height="175" style="position:absolute;left:0;top:0"><g filter="url(#bl)"><g transform="scale(0.5)"><rect x="-10" y="-10" width="440" height="380" fill="#959595"/><path fill="#8a8a8a" d="M314 322L333 319L342 329L326 343L321 341ZM324 296L327 296L335 300L333 319L314 322L310 320L310 309ZM348 330L352 349L354 350L370 346L373 331L371 329L354 326ZM351 285L367 296L375 291L373 273L369 270L351 281ZM351 281L369 270L367 260L343 259L342 270ZM414 289L413 271L396 269L395 270L393 290L405 295ZM420 259L417 268L430 275L442 270L444 263L435 252ZM415 322L431 330L432 333L429 341L417 347L408 342L406 329ZM393 326L406 329L415 322L413 311L408 308L393 314ZM414 366L417 347L429 341L437 356L429 371ZM251 299L248 311L252 316L269 316L272 312L270 292L268 291ZM415 218L423 232L411 243L409 243L398 230L401 222ZM237 286L236 286L227 278L234 258L254 265L253 273ZM416 169L422 174L427 189L418 201L402 196L398 186L411 170ZM254 265L260 260L256 241L253 239L234 244L233 256L234 258ZM196 351L202 358L201 382L194 382L180 367L187 354ZM338 226L336 232L344 243L365 240L368 228L362 222ZM377 163L363 171L361 178L374 189L386 181L383 165ZM358 180L349 200L348 200L333 183L336 177L339 175ZM238 183L241 193L250 199L253 199L269 183L250 171ZM300 183L284 202L282 202L270 183L275 177L296 179ZM336 211L338 226L362 222L360 205L349 200L348 200ZM236 286L227 278L219 278L208 291L213 302L225 305ZM205 194L191 205L194 218L205 222L222 209L210 194ZM408 107L423 100L430 103L434 120L417 126L416 126ZM179 326L166 318L166 318L170 303L185 298L195 317L186 326ZM244 151L251 162L275 159L277 156L263 138L245 149ZM245 149L263 138L266 129L248 121L240 133ZM281 155L295 161L296 179L275 177L275 159L277 156ZM166 318L166 318L144 307L137 309L133 315L139 327L155 330ZM350 153L363 171L361 178L358 180L339 175L344 157ZM169 166L168 188L182 189L191 176ZM164 190L163 204L168 208L190 204L182 189L168 188ZM147 210L145 218L146 221L165 233L165 233L171 229L168 208L163 204ZM414 29L440 36L441 42L431 53L417 50L411 38L414 30ZM406 64L397 74L378 65L385 49L388 47L392 48ZM126 271L116 271L110 264L113 249L124 248L132 259ZM146 183L142 186L140 200L147 210L163 204L164 190ZM123 202L119 210L125 219L145 218L147 210L140 200ZM122 228L130 238L124 248L113 249L105 241L104 235ZM312 70L301 56L303 45L309 40L328 53L316 71ZM134 282L126 271L116 271L106 287L112 295L129 291ZM40 266L52 274L69 267L69 258L45 250ZM361 38L338 30L334 52L337 54L356 51ZM380 24L388 28L402 20L400 9L378 8ZM123 164L120 167L122 181L142 186L146 183L148 169L145 167ZM22 286L18 292L25 308L31 311L48 296L48 294L27 283ZM73 193L60 183L58 183L48 201L53 211L70 210ZM282 24L287 21L310 29L309 40L303 45L287 41ZM373 3L378 -11L385 -16L397 -15L401 6L400 9L378 8ZM320 5L326 -8L347 -10L347 -9L344 14L340 17ZM31 198L25 203L23 217L39 224L51 217L53 211L48 201ZM39 91L44 77L56 74L63 79L67 91L60 101ZM8 272L22 286L27 283L33 269L16 256L8 258ZM127 148L122 141L128 123L135 124L147 143L147 144ZM106 110L88 113L85 92L92 86L103 87L110 95ZM2 81L-17 91L-18 100L-11 108L-3 109L6 104L8 86ZM23 336L23 336L0 343L8 359L27 358L28 355ZM124 96L131 80L129 77L114 73L103 87L110 95ZM114 119L103 134L86 118L88 113L106 110ZM85 118L66 114L59 129L76 138L76 138ZM151 105L146 101L143 84L158 72L169 85ZM208 24L193 19L191 4L207 -3L214 6ZM184 35L185 23L172 17L165 21L163 35L174 40ZM6 149L-14 156L-17 133L3 133ZM282 24L287 21L291 4L273 -4L267 13L278 24ZM-10 189L-25 180L-26 176L-15 159L-2 173ZM181 59L176 57L174 40L184 35L194 42L195 50ZM15 64L25 74L22 86L8 86L2 81L2 69ZM93 56L85 38L91 26L112 40L97 56ZM42 115L50 133L49 135L43 137L24 130L22 125L22 124L39 114ZM2 25L14 16L10 -1L7 -2L-10 10L-8 19ZM194 -19L207 -4L207 -3L191 4L183 0L185 -20ZM164 -15L180 -24L185 -20L183 0L174 4L162 -5ZM30 -1L24 -6L25 -23L32 -25L45 -20L47 -8Z"/><path fill="#8f8f8f" d="M355 310L365 303L367 296L351 285L338 299ZM326 343L342 329L348 330L352 349L335 359L331 358ZM293 293L280 287L282 269L297 264L308 271L305 283ZM392 351L393 349L387 332L373 331L370 346L376 352ZM429 295L432 291L430 275L417 268L413 271L414 289ZM295 329L300 347L302 349L321 341L314 322L310 320L295 328ZM331 358L335 359L344 372L337 386L336 386L322 380L321 366ZM369 270L367 260L370 252L386 250L393 255L396 269L395 270L373 273ZM295 329L276 334L272 331L269 316L272 312L287 314L295 328ZM314 268L320 256L343 259L343 259L342 270L328 277ZM391 208L385 208L376 226L387 233L398 230L401 222ZM413 311L429 301L439 311L431 330L415 322ZM419 205L442 216L437 233L423 232L415 218ZM402 196L398 186L386 181L374 189L374 199L385 208L391 208ZM416 169L422 174L443 165L444 161L428 148L422 148ZM197 346L216 333L223 334L228 353L220 359L202 358L196 351ZM256 241L253 239L251 225L267 218L278 232ZM282 202L268 210L253 199L269 183L270 183ZM377 163L363 171L350 153L350 152L364 143L369 143ZM130 347L131 347L142 349L152 365L139 377L137 376L124 357ZM397 146L420 146L422 148L416 169L411 170L395 158ZM322 205L327 187L333 183L348 200L336 211ZM420 146L417 126L434 120L437 122L442 133L428 148L422 148ZM397 146L392 136L394 133L416 126L417 126L420 146ZM378 137L371 117L383 109L392 112L394 133L392 136ZM151 280L155 264L147 256L132 259L126 271L134 282ZM165 233L173 259L155 264L147 256L147 247L165 233ZM372 68L380 89L377 94L362 96L353 79L365 68ZM323 137L320 134L317 122L332 107L335 107L344 126L338 135ZM350 153L344 157L325 153L323 137L338 135L350 152ZM116 271L106 287L93 283L90 276L96 265L110 264ZM90 276L70 268L69 267L69 258L75 250L92 255L96 265ZM287 41L303 45L301 56L287 62L277 56L276 53ZM269 83L256 92L255 95L256 100L271 111L285 103L275 84ZM221 171L234 152L219 142L210 152L217 168ZM282 24L287 41L276 53L261 40L278 24ZM118 188L105 190L101 198L109 211L119 210L123 202ZM53 347L38 327L23 336L28 355L53 348ZM69 267L52 274L50 292L69 289L70 268ZM53 348L28 355L27 358L29 366L43 372L56 360L57 354ZM411 38L392 48L406 64L410 63L417 50ZM316 71L328 53L334 52L337 54L345 79L322 79ZM172 151L182 129L182 129L197 137L198 150L193 155ZM110 165L99 146L91 147L80 167L89 176L94 176ZM170 117L182 129L182 129L203 111L201 104L178 105ZM251 299L237 286L253 273L268 291ZM365 32L363 36L361 38L338 30L338 29L340 17L344 14L360 16ZM52 177L58 183L60 183L79 167L64 154L60 154L51 162ZM315 7L320 5L326 -8L319 -21L299 -18L299 0ZM414 29L428 10L430 10L444 25L440 36ZM127 148L147 144L145 167L123 164ZM244 52L228 30L217 32L216 47L227 59ZM251 25L256 15L251 5L232 5L234 23ZM93 56L86 63L92 86L103 87L114 73L113 68L97 56ZM360 16L344 14L347 -9L370 4ZM153 111L135 124L128 123L124 119L128 101L146 101L151 105ZM-23 315L-2 302L-1 298L-10 285L-32 294ZM7 196L-1 199L-8 197L-10 189L-2 173L9 172L13 177ZM152 41L163 62L158 72L137 61L136 57L150 41ZM31 198L25 203L7 196L13 177L30 180ZM-8 197L-23 208L-24 214L-19 226L-8 226L2 215L-1 199ZM25 74L35 70L44 77L39 91L30 96L22 86ZM33 156L51 162L52 177L31 180L32 157ZM97 56L112 40L118 39L125 52L113 68ZM109 8L107 14L90 23L85 18L84 0L86 -2L100 -3ZM62 49L55 54L37 53L36 52L40 32L47 28L60 34L64 42ZM15 64L21 50L15 43L5 40L-11 51L-9 60L2 69ZM58 2L45 16L32 11L30 -1L47 -8L58 1ZM164 -15L150 -26L142 -25L136 -20L150 3L162 -5Z"/><path fill="#949494" d="M354 326L371 329L376 313L365 303L355 310ZM393 314L408 308L405 295L393 290L387 294L387 310ZM392 351L393 349L408 342L417 347L414 366L413 367L395 358ZM411 243L420 259L417 268L413 271L396 269L393 255L409 243ZM335 359L344 372L362 372L354 350L352 349ZM324 296L305 283L293 293L294 298L310 309ZM423 232L411 243L420 259L435 252L439 236L437 233ZM318 250L328 234L312 225L304 230L304 244ZM187 354L180 367L167 370L161 365L166 347L172 346ZM205 222L211 236L228 236L233 221L224 209L222 209ZM180 262L180 262L190 243L207 243L210 258L208 262L196 267ZM327 187L308 182L318 163L336 177L333 183ZM130 347L113 331L109 332L101 351L102 355L114 361L124 357ZM130 347L131 347L139 327L133 315L122 317L113 331ZM194 175L205 194L191 205L190 204L182 189L191 176ZM179 326L166 318L155 330L155 339L166 347L172 346ZM304 156L295 161L296 179L300 183L304 184L308 182L318 163L318 162ZM170 303L158 288L156 288L144 307L166 318ZM408 107L416 126L394 133L392 112L401 105ZM397 146L392 136L378 137L369 143L377 163L383 165L395 158ZM207 243L211 236L205 222L194 218L182 229L190 243ZM155 339L142 349L131 347L139 327L155 330ZM191 205L194 218L182 229L171 229L168 208L190 204ZM344 157L339 175L336 177L318 163L318 162L325 153ZM378 137L371 117L363 115L354 126L364 143L369 143ZM83 303L98 309L110 303L112 295L106 287L93 283L80 299L80 300ZM335 107L337 106L358 105L363 115L354 126L344 126ZM187 293L185 298L170 303L158 288L177 280ZM218 136L226 128L240 133L245 149L244 151L234 152L219 142ZM101 351L82 343L76 353L84 368L88 370L102 355ZM410 63L406 64L397 74L399 86L419 84L424 75ZM317 122L299 114L289 131L291 135L304 142L320 134ZM358 105L362 96L353 79L345 79L337 106ZM399 86L397 74L378 65L372 68L380 89L398 87ZM147 256L132 259L124 248L130 238L138 237L147 247ZM84 368L67 374L56 360L57 354L76 353ZM259 40L261 40L276 53L277 56L266 69L250 62L245 52ZM98 229L104 235L122 228L125 219L119 210L109 211L98 223ZM385 49L363 36L361 38L356 51L365 68L372 68L378 65ZM147 144L147 143L153 142L172 151L169 165L148 169L145 167ZM414 29L428 10L421 2L401 6L400 9L402 20L414 30ZM225 90L229 95L255 95L256 92L245 75L232 78ZM125 219L122 228L130 238L138 237L146 221L145 218ZM445 -13L421 -14L421 2L428 10L430 10L448 -4L447 -11ZM57 317L38 326L31 311L48 296L58 312ZM64 386L67 374L56 360L43 372L46 385L63 387ZM312 70L301 56L287 62L289 77L295 80ZM244 52L245 52L259 40L251 25L234 23L228 30ZM86 118L103 134L103 139L99 146L91 147L76 138L85 118ZM153 111L135 124L147 143L153 142L162 117ZM91 200L85 212L73 213L70 210L73 193L83 190ZM421 -14L415 -21L405 -21L397 -15L401 6L421 2ZM122 141L103 139L103 134L114 119L124 119L128 123ZM370 4L347 -9L347 -10L349 -16L360 -22L378 -11L373 3ZM6 104L17 107L22 124L22 125L7 128L-3 109ZM-15 275L-8 254L-2 253L8 258L8 272L-10 283ZM-10 285L-10 283L8 272L22 286L18 292L-1 298ZM37 53L55 54L56 74L44 77L35 70ZM76 138L64 154L60 154L49 135L50 133L59 129ZM174 40L163 35L152 41L163 62L176 57ZM148 6L150 12L140 30L127 29L129 7ZM93 56L85 38L64 42L62 49L81 63L86 63ZM36 52L40 32L26 28L15 43L21 50ZM162 -5L174 4L172 17L165 21L150 12L148 6L150 3ZM109 8L107 14L122 31L127 29L129 7L123 2ZM-3 109L-11 108L-20 130L-17 133L3 133L7 128ZM2 235L17 231L19 221L2 215L-8 226ZM150 3L148 6L129 7L123 2L124 -13L130 -19L136 -20ZM2 25L14 16L23 19L26 28L15 43L5 40ZM256 15L267 13L273 -4L273 -6L257 -7L251 5Z"/><path fill="#999999" d="M376 352L370 346L354 350L362 372L363 372L371 367ZM327 296L335 300L338 299L351 285L351 281L342 270L328 277ZM302 349L307 362L321 366L331 358L326 343L321 341ZM408 308L405 295L414 289L429 295L429 301L413 311ZM295 329L276 334L277 354L279 356L300 347ZM308 271L297 264L297 249L304 244L318 250L320 256L314 268ZM279 233L289 226L304 230L304 244L297 249L282 244ZM387 233L386 250L370 252L365 240L368 228L376 226ZM268 291L270 292L280 287L282 269L273 260L260 260L254 265L253 273ZM374 199L385 208L376 226L368 228L362 222L360 205ZM419 205L415 218L401 222L391 208L402 196L418 201ZM302 349L307 362L299 371L280 367L279 356L300 347ZM228 236L233 221L245 220L251 225L253 239L234 244ZM254 338L253 348L234 355L228 353L223 334L227 331L250 334ZM322 205L312 208L312 225L328 234L336 232L338 226L336 211ZM219 278L208 262L196 267L199 288L208 291ZM225 305L213 302L201 316L216 333L223 334L227 331L230 313ZM221 171L234 152L244 151L251 162L250 171L238 183L224 177ZM250 171L269 183L270 183L275 177L275 159L251 162ZM267 218L251 225L245 220L250 199L253 199L268 210ZM187 293L177 280L180 262L196 267L199 288ZM177 280L158 288L156 288L151 280L155 264L173 259L180 262L180 262ZM144 307L137 309L129 291L134 282L151 280L156 288ZM408 107L423 100L419 84L399 86L398 87L401 105ZM109 332L99 327L98 309L110 303L122 317L113 331ZM304 142L291 135L281 155L295 161L304 156ZM350 152L364 143L354 126L344 126L338 135ZM195 173L217 168L221 171L224 177L210 194L205 194L194 175ZM325 153L318 162L304 156L304 142L320 134L323 137ZM99 327L98 309L83 303L78 329L81 331ZM332 107L318 93L322 79L345 79L345 79L337 106L335 107ZM270 126L271 111L256 100L247 116L248 121L266 129ZM78 329L83 303L80 300L58 312L57 317L67 328ZM301 98L295 80L289 77L275 84L285 103L297 106ZM332 107L318 93L301 98L297 106L299 114L317 122ZM169 165L148 169L146 183L164 190L168 188L169 166ZM195 173L217 168L210 152L198 150L193 155ZM269 83L266 69L277 56L287 62L289 77L275 84ZM250 62L266 69L269 83L256 92L245 75ZM90 276L70 268L69 289L80 299L93 283ZM383 109L377 94L362 96L358 105L363 115L371 117ZM98 229L104 235L105 241L92 255L75 250L75 238ZM73 213L73 236L75 238L98 229L98 223L85 212ZM91 200L85 212L98 223L109 211L101 198ZM240 133L248 121L247 116L229 111L224 116L226 128ZM205 68L210 70L217 89L202 98L187 80L189 77ZM380 24L378 8L373 3L370 4L360 16L365 32ZM27 283L48 294L50 292L52 274L40 266L33 269ZM287 21L291 4L299 0L315 7L310 29L310 29ZM197 137L207 131L204 113L203 111L182 129ZM32 157L19 153L15 154L9 172L13 177L30 180L31 180ZM205 68L202 54L195 50L181 59L189 77ZM173 86L187 80L189 77L181 59L176 57L163 62L158 72L158 72L169 85ZM42 115L50 133L59 129L66 114L60 103ZM291 4L299 0L299 -18L296 -21L276 -16L273 -6L273 -4ZM7 196L-1 199L2 215L19 221L23 217L25 203ZM-8 254L-20 248L-22 233L-19 226L-8 226L2 235L-2 253ZM-2 302L6 317L11 318L25 308L18 292L-1 298ZM76 138L76 138L64 154L79 167L80 167L91 147ZM86 63L81 63L63 79L67 91L85 92L92 86ZM15 64L21 50L36 52L37 53L35 70L25 74ZM-23 315L-24 317L-23 319L-4 328L6 317L-2 302ZM165 21L163 35L152 41L150 41L140 30L150 12ZM2 69L-9 60L-25 75L-25 77L-17 91L2 81ZM9 172L15 154L6 149L-14 156L-16 158L-15 159L-2 173ZM150 41L136 57L125 52L118 39L122 31L127 29L140 30ZM30 96L39 91L60 101L60 103L42 115L39 114L30 96ZM86 -24L69 -22L67 -4L84 0L86 -2L87 -22ZM32 11L23 19L14 16L10 -1L24 -6L30 -1ZM0 -15L7 -2L-10 10L-23 -1L-24 -2L-4 -16Z"/><path fill="#9e9e9e" d="M373 331L387 332L393 326L393 314L387 310L376 313L371 329ZM387 332L393 349L408 342L406 329L393 326ZM373 273L395 270L393 290L387 294L375 291ZM398 230L387 233L386 250L393 255L409 243ZM312 208L290 209L289 226L304 230L312 225L312 208ZM273 260L282 244L279 233L278 232L256 241L260 260ZM248 311L252 316L250 334L227 331L230 313ZM322 205L312 208L312 208L304 184L308 182L327 187ZM220 359L221 376L202 383L201 382L202 358ZM419 205L442 216L447 212L447 210L439 190L427 189L418 201ZM278 232L267 218L268 210L282 202L284 202L290 209L289 226L279 233ZM234 355L241 371L229 381L221 376L220 359L228 353ZM251 299L248 311L230 313L225 305L236 286L237 286ZM114 361L111 377L91 377L88 370L102 355ZM429 74L446 92L430 103L423 100L419 84L424 75ZM190 243L182 229L171 229L165 233L173 259L180 262ZM299 114L289 131L270 126L271 111L285 103L297 106ZM172 151L169 165L169 166L191 176L194 175L195 173L193 155L172 151ZM198 150L210 152L219 142L218 136L207 131L197 137ZM105 190L101 198L91 200L83 190L89 176L94 176ZM309 40L328 53L334 52L338 30L338 29L310 29L310 29ZM210 70L217 89L225 90L232 78L226 62ZM118 188L123 202L140 200L142 186L122 181ZM178 105L201 104L202 98L187 80L173 86ZM33 156L43 137L49 135L60 154L51 162ZM33 156L43 137L24 130L19 153L32 157ZM227 59L226 62L210 70L205 68L202 54L216 47ZM30 96L17 107L22 124L39 114ZM216 47L202 54L195 50L194 42L209 27L217 32ZM228 30L234 23L232 5L232 5L214 6L208 24L209 27L217 32ZM165 233L146 221L138 237L147 247ZM6 317L11 318L23 336L0 343L-2 342L-4 328ZM214 6L207 -3L207 -4L221 -21L234 -12L232 5ZM146 101L128 101L124 96L131 80L143 84ZM109 8L123 2L124 -13L107 -16L100 -3ZM143 84L131 80L129 77L137 61L158 72L158 72ZM84 0L85 18L69 21L58 2L58 1L67 -4ZM69 -22L59 -33L45 -20L47 -8L58 1L67 -4ZM184 35L185 23L193 19L208 24L209 27L194 42ZM2 25L5 40L-11 51L-21 44L-26 32L-8 19ZM0 -15L7 -2L10 -1L24 -6L25 -23L15 -28ZM185 23L172 17L174 4L183 0L191 4L193 19ZM81 63L63 79L56 74L55 54L62 49Z"/><path fill="#a3a3a3" d="M342 329L333 319L335 300L338 299L355 310L354 326L348 330ZM367 296L375 291L387 294L387 310L376 313L365 303ZM324 296L327 296L328 277L314 268L308 271L305 283ZM307 362L299 371L300 381L315 387L322 380L321 366ZM392 351L376 352L371 367L387 370L395 358ZM310 309L310 320L295 328L287 314L294 298ZM277 354L258 353L255 374L259 380L272 380L280 367L279 356ZM343 259L344 243L365 240L370 252L367 260L343 259ZM343 259L344 243L336 232L328 234L318 250L320 256ZM253 348L258 353L255 374L241 371L234 355ZM277 354L258 353L253 348L254 338L272 331L276 334ZM293 293L280 287L270 292L272 312L287 314L294 298ZM297 264L297 249L282 244L273 260L282 269ZM210 258L233 256L234 244L228 236L211 236L207 243ZM395 358L413 367L403 383L390 379L387 370ZM254 338L272 331L269 316L252 316L250 334ZM245 220L233 221L224 209L241 193L250 199ZM197 346L216 333L201 316L195 317L186 326ZM166 347L161 365L152 365L142 349L155 339ZM422 174L443 165L450 181L439 190L427 189ZM197 346L186 326L179 326L172 346L187 354L196 351ZM224 177L238 183L241 193L224 209L222 209L210 194ZM124 357L137 376L130 382L114 380L111 377L114 361ZM304 184L300 183L284 202L290 209L312 208ZM395 158L383 165L386 181L398 186L411 170ZM213 302L201 316L195 317L185 298L187 293L199 288L208 291ZM361 178L374 189L374 199L360 205L349 200L358 180ZM137 309L133 315L122 317L110 303L112 295L129 291ZM270 126L289 131L291 135L281 155L277 156L263 138L266 129ZM109 332L99 327L81 331L82 343L101 351ZM401 105L398 87L380 89L377 94L383 109L392 112ZM417 50L410 63L424 75L429 74L433 68L431 53ZM365 68L353 79L345 79L345 79L337 54L356 51ZM82 343L76 353L57 354L53 348L53 347L67 328L78 329L81 331ZM318 93L322 79L316 71L312 70L295 80L301 98ZM110 264L113 249L105 241L92 255L96 265ZM234 258L233 256L210 258L208 262L219 278L227 278ZM73 236L59 233L44 247L45 250L69 258L75 250L75 238ZM80 300L80 299L69 289L50 292L48 294L48 296L58 312ZM414 30L402 20L388 28L388 47L392 48L411 38ZM118 188L105 190L94 176L110 165L120 167L122 181ZM73 213L70 210L53 211L51 217L59 233L73 236ZM247 116L229 111L229 95L255 95L256 100ZM83 190L73 193L60 183L79 167L80 167L89 176ZM218 136L226 128L224 116L204 113L207 131ZM201 104L203 111L204 113L224 116L229 111L229 95L225 90L217 89L202 98ZM67 328L57 317L38 326L38 327L53 347ZM127 148L122 141L103 139L99 146L110 165L120 167L123 164ZM21 379L12 381L2 369L8 359L27 358L29 366ZM162 117L153 142L172 151L172 151L182 129L170 117ZM380 24L388 28L388 47L385 49L363 36L365 32ZM244 52L245 52L250 62L245 75L232 78L226 62L227 59ZM31 180L30 180L31 198L48 201L58 183L52 177ZM310 29L338 29L340 17L320 5L315 7ZM60 101L67 91L85 92L88 113L86 118L85 118L66 114L60 103ZM24 243L17 231L19 221L23 217L39 224L39 243ZM23 336L23 336L11 318L25 308L31 311L38 326L38 327ZM8 258L16 256L24 243L17 231L2 235L-2 253ZM51 217L39 224L39 243L44 247L59 233ZM153 111L162 117L170 117L178 105L173 86L169 85L151 105ZM16 256L24 243L39 243L44 247L45 250L40 266L33 269ZM114 73L129 77L137 61L136 57L125 52L113 68ZM251 25L256 15L267 13L278 24L261 40L259 40ZM8 359L2 369L-14 370L-17 366L-13 347L-2 342L0 343ZM124 119L128 101L124 96L110 95L106 110L114 119ZM251 5L257 -7L249 -18L248 -19L234 -12L232 5L232 5ZM-23 319L-28 338L-13 347L-2 342L-4 328ZM8 86L6 104L17 107L30 96L30 96L22 86ZM22 125L24 130L19 153L15 154L6 149L3 133L7 128ZM90 23L107 14L122 31L118 39L112 40L91 26ZM32 11L23 19L26 28L40 32L47 28L45 16ZM85 38L91 26L90 23L85 18L69 21L60 34L64 42ZM58 2L69 21L60 34L47 28L45 16ZM100 -3L86 -2L87 -22L104 -20L107 -16Z"/><path fill="none" stroke="#b8b8b8" stroke-opacity="0.85" stroke-width="2.2" stroke-linejoin="round" stroke-linecap="round" d="M370 327L373 314L365 306L358 312L356 324L370 327M343 327L336 318L336 302L339 301L353 311L352 324L347 327L343 327M340 329L327 340L323 338L317 324L332 321M386 312L377 315L373 328L375 329L386 330L391 325M341 299L355 307L363 302L364 296L352 287M333 301L331 317L316 320L312 318M350 348L336 356L333 355L329 343L342 332L346 332M356 352L363 369L364 370L370 365L374 354L370 348M375 293L385 295L385 308L376 311M369 330L355 328L350 331L354 347M394 293L389 296L389 308L393 312L406 307M325 294L326 278L315 270L310 273L308 283L323 294L325 294M329 294L336 297L338 296L348 285L349 282L341 273L330 278L329 294M325 345L321 343L304 349L309 360L320 363L329 357M284 270L296 267L306 272L303 282L293 290L282 286L284 270M373 289L372 275L368 272L354 281M301 372L302 380L314 384L320 379M392 358L390 353L378 354M308 319L296 325L290 314L295 300L308 310L308 319M367 269L365 261L345 260L344 270M390 349L390 348L386 334L374 333L373 345M405 341L404 331L394 329L390 333M416 287L428 293L430 289L428 277L418 271M391 289L387 292L377 289L375 275L394 272L391 289M297 329L297 330L301 345L302 346L319 340M407 345L415 348L412 364L412 365L397 357L395 351M427 296L427 301L414 309L410 306L407 296M412 287L411 273L398 272L397 272L395 289M412 268L398 268L396 256L409 246L410 246L418 259L415 266L412 268M280 354L297 347L293 331M336 383L336 383L324 378L323 367M299 263L299 251L305 247L316 252M370 260L372 254L385 253L391 256L394 268M260 355L257 372L260 378L271 378L278 367M442 263L434 255L423 260L420 268L430 273M427 339L418 344L410 341L409 330L416 325L429 331M345 369L360 370L353 353M395 315L395 325L406 327L413 321L411 313M292 328L277 331L274 329L271 317L273 314M345 258L345 258L346 245L363 242L368 252L365 258M295 293L297 297L309 306M340 260L340 269L329 274L317 267L322 257L340 260M322 254L341 257L341 244L335 234M398 232L389 235L388 249M421 256L433 250L436 237L435 235L424 234L413 243M302 243L296 247L285 242L282 234L290 228L301 232M385 234L385 248L371 250L367 240L370 230M434 356L428 369L416 365L419 349L429 343M242 369L236 356L252 350L256 355M325 234L312 228L306 232L306 243M254 314L267 314L270 310L269 294L267 294M414 221L421 232L410 241L409 241L401 230M270 289L278 285L279 270L272 263L261 262M252 266L251 273L238 283L237 283M304 228L310 224L311 210L310 210L293 211L292 225L304 228M386 211L379 225L388 230L396 228L399 222L390 210L386 211M428 304L436 312L430 328L417 321L415 312L428 304M275 352L259 351L256 347L256 339L270 333L274 335M272 293L274 310L286 311L292 298M362 207L373 201L383 209L375 223M416 203L416 205L413 216L402 220M282 366L281 356L299 350L300 351M283 266L295 263L295 251M440 216L435 231L424 229L417 219M278 235L277 235L259 242L262 258L273 258L280 244M212 256L231 255L231 244L226 238L213 238M392 377L390 371L395 360L411 367M235 223L244 222L249 226L251 238L235 241M415 172L420 176L425 188L417 199L403 194M229 329L232 314L247 313L250 317L249 332M325 188L321 203L313 205L312 205L305 186L309 184M203 381L203 380L204 360L219 361L218 375L203 381M229 333L248 335L251 339L251 347L235 353M399 196L396 188L387 184L377 190M255 336L269 330L267 318L254 318L252 332L255 336M438 192L428 191L420 202L421 204L441 213L445 210L445 209M279 230L269 217L270 211L282 204L283 205L288 211L288 224M336 225L334 213L323 208L314 210M258 258L255 243L252 241L236 245L235 256L236 257L253 263L258 258M222 361L228 355L233 358L238 370M423 171L440 164L441 161L429 150M200 346L216 336L222 336L225 352L219 357L204 356L199 351L200 346M198 269L200 286L207 289L216 278L208 265M266 220L276 232L257 239L255 237L254 226L266 220M248 300L246 309L232 310L227 304L236 288L237 288L248 300M188 357L196 354L201 360L200 380M363 239L366 228L360 224L341 227M240 195L248 201L244 218L234 219M172 348L185 355L179 365L168 368L163 363L167 350L172 348M363 178L374 186L384 180L382 167L376 166L366 172M348 198L347 198L336 184L337 178L340 177L356 181L348 198M270 185L280 201L268 208L256 198L269 186L270 185M214 305L204 317L217 331L223 331L225 329L228 314L224 307L214 305M250 174L240 184L243 192L250 197L253 197M198 343L214 332L201 319M248 170L238 180L226 176L223 170L235 155L243 153L248 163L248 170M155 342L164 349L160 362L153 362L145 350L155 342M274 161L253 164L253 171L268 180L269 180L273 176M282 199L272 184L277 179L294 180L297 184L284 199L282 199M442 167L447 181L439 187L429 187L424 175L442 167M349 203L348 203L338 211L340 224L360 220L357 207M187 352L194 349L195 345L186 328L180 328L174 345M223 206L213 194L224 180L236 185L238 193L224 206L223 206M208 222L213 234L226 233L231 221L223 211L222 211M115 378L114 376L116 363L124 360L134 376L128 380L115 378M299 186L286 201L292 207L310 206M388 179L398 184L409 170L395 161L386 167L388 179M109 375L93 376L90 370L102 357L112 362M368 145L375 162L363 168L352 153M131 350L132 349L141 352L150 364M247 218L251 202L254 202L266 211L265 216L252 222L247 218M183 262L182 261L191 246L205 245L208 258L206 261M188 298L189 294L199 291L206 293L210 302L201 314L195 314M234 287L226 280L220 281L210 291L214 300L224 302M361 181L372 190L371 197L360 203L352 199L359 182M331 182L326 184L311 181L319 165L333 177M399 147L418 148L420 149L415 167L411 167L397 158L399 147M194 205L196 216L205 220L219 208L209 196L205 196L194 205M103 350L104 353L114 358L122 356M325 204L328 189L333 186L345 200L335 209L325 204M429 145L423 146L422 144L419 128L433 123L435 124L439 133M417 123L410 109L422 103L429 105M123 320L115 331L130 345L130 344L137 327L132 318L123 320M184 189L191 178L194 177L203 193L191 202L191 202L184 189M170 343L177 327L166 321L157 331L158 338L166 345M396 133L414 127L415 128L418 145M301 181L304 181L308 179L316 164L316 164L304 159M182 265L195 269L197 286L187 290M168 318L171 305L184 300L192 316M247 151L252 160L273 158L275 156L263 141M158 291L157 290L146 306L165 316L167 303L158 291M414 124L395 131L394 113L401 108L407 110M394 146L390 139L379 139L371 144L378 161L384 163L393 156L394 146M249 123L243 133L246 147M159 286L158 285L153 279L157 266L172 262L178 263L178 264L175 279M185 230L191 241L205 241L209 235M153 339L143 347L133 346M374 118L384 112L391 114L392 131L390 134L379 135M192 217L182 227L173 227L170 209L189 206L189 207M123 315L113 304L114 297L128 293L135 308L131 313M277 160L279 158L282 158L292 162L294 177L276 175L277 160M134 261L129 271L135 279L149 278M153 328L163 318L163 318L145 310L139 311L135 316L141 325L153 328M154 288L144 305L138 307L132 291M400 88L400 88L403 103L408 105L420 99L417 85L400 88M110 306L120 318L112 329L109 330L101 325M361 170L359 177L357 177L341 174L346 159L350 156M295 159L302 155L302 144L291 137M340 135L350 149L361 142L353 128M424 98L421 85L425 78L429 77L443 92M188 176L170 168L170 186L180 186L188 176M169 205L188 203L180 190L169 190L166 192L165 202M187 243L181 232L172 231L167 235L173 257M320 163L320 163L326 155L342 158L337 173M370 119L364 117L357 127L364 140L369 140L376 135M164 236L164 236L171 258L156 261L150 254L150 247L164 236M288 136L280 152L277 153L266 139M97 307L108 302L109 295L104 289L93 286L83 298M98 329L83 332L85 342L100 348L106 333M379 95L384 107L391 109L399 104L397 89M337 108L339 107L356 107L361 115L353 124L345 123L337 108M184 293L183 296L171 301L160 289M221 178L210 191L206 191L197 175L198 174M222 142L221 137L227 131L238 135L243 148M272 125L273 111L285 106L295 107L297 114L288 128M323 151L317 160L306 155L306 143L319 137L322 139M79 353L85 366L88 367L99 355L98 352M149 221L164 231L164 231L169 227L166 210M84 306L80 328L82 329L97 325L96 311L84 306M366 71L371 71L377 88L375 92L363 93L355 79L366 71M341 125L336 132L324 134L322 132L320 122M324 81L343 81L344 81L336 103L335 104L332 104M407 66L400 74L400 84L417 82L422 75M265 127L268 125L269 112L257 102M428 72L431 67L430 55L418 52M292 130L293 134L304 139L317 134L315 123L300 117M346 81L339 104L357 103M430 50L419 48L414 38L416 31L416 31L437 37L439 41L430 50M396 85L396 85L395 75L379 67L374 70M348 151L347 152L343 155L327 152L325 138L338 137L348 151M68 326L77 327L81 305L79 302L61 313L60 317M294 82L289 80L277 85L286 101L296 103L299 97L294 82M396 72L380 63L386 51L389 50L392 50L403 63M115 251L123 251L129 259L125 269L117 268L113 263M316 119L329 107L317 95L303 100L299 106L301 113M142 199L148 207L161 203L162 191L147 185L143 188L142 199M145 247L145 254L133 257L127 248M59 356L74 355L82 367M168 168L167 168L150 171L149 182L164 188L166 185M105 284L94 282L93 276L98 267L109 266M352 76L346 77L346 76L338 56L355 54M208 154L199 153L196 156L197 170M287 76L275 81L270 81L268 70L277 59L285 64M138 202L125 204L121 210L126 217L143 216L145 210L138 202M72 267L71 266L72 259L76 253L90 257L94 264M77 331L79 333L80 343L75 350L59 352L56 347L56 346L68 331M315 73L312 72L298 80L302 96L317 91L319 80L315 73M173 153L171 165L172 166L189 173L192 173L193 171M122 246L114 246L107 240L106 236L121 230M247 76L251 64L264 71L266 81M315 68L312 67L303 56L305 47L309 42L326 54M71 288L80 296L90 283L88 278L71 270M278 53L287 44L301 46L298 55L287 60M252 61L248 52L259 43L261 43M364 98L361 105L365 113L371 114L381 109L375 96L364 98M259 93L258 95L259 99L270 108L282 102L273 86L268 85M94 255L98 263L109 262L111 250L105 243M105 233L120 227L122 220L117 212L109 213L100 223L100 228L105 233M358 52L366 66L371 66L376 63L382 50L364 39L362 40L358 52M102 241L92 253L78 249L78 239M149 146L153 145L169 152L167 164M232 153L219 145L212 153L217 166L220 168L232 153M419 4L403 8L402 10L404 19M281 27L285 40L276 50L263 40L278 27L281 27M95 223L85 215L75 215L75 234L77 236M212 259L210 263L220 276L226 276L231 259L231 258L212 259M107 192L104 199L109 208L117 208L121 202L117 190M38 329L25 337L30 353L51 347M60 236L46 246L48 249L68 255L73 249M68 270L68 270L54 275L52 290M113 293L127 289L131 282L125 274L117 273L109 286L113 293M43 265L53 271L67 267L67 259L47 252M50 295L50 296L59 309L78 300L78 298M336 51L338 52L354 50L359 39M228 90L232 94L253 93L254 91M390 29L390 45L393 46L409 37L411 30L401 23M125 227L131 236L137 235L144 222L143 220M216 138L207 134L199 138L200 149L209 149L216 142L216 138M106 188L97 176L110 167L118 169M388 25L399 20L398 10L380 10L383 22M445 -4L445 -9L443 -12L423 -13L423 1L429 7L431 7M30 355L29 358L31 365L43 370M92 202L88 211L98 220L106 210L100 201M394 49L406 61L409 61L415 51L411 40L394 49M55 213L53 218L59 231L71 233L71 215L68 213L55 213M100 196L91 197L86 190L90 178L94 179M329 56L333 54L335 56L343 77L323 77L318 70L329 56M39 324L34 311L48 298L56 312L55 316L39 324M175 149L183 131L183 131L195 138L196 149L192 152M246 114L232 110L232 97L253 96M79 170L79 170L86 177L82 188L74 191M313 30L312 39L327 51L332 50L336 31L335 31L313 30M145 170L143 168L125 166L122 168L125 179M48 383L62 384L62 384L64 375L57 363L46 373M296 77L310 70L300 58L289 64M206 115L209 130L218 134L223 127M107 164L98 148L92 150L82 167L90 173M227 110L227 97L224 92L216 92L205 99L203 104L205 110M26 305L31 308L45 296L45 294L28 285M56 319L40 327L40 327M121 162L125 149L121 143L105 141L101 147L111 162L119 164M10 361L25 360L26 367L20 376L13 379M50 201L55 208L68 208L70 194L60 185L59 185L50 201M171 149L172 148L179 130L170 120L163 120L156 141M180 107L172 117L183 126L183 126L200 112L199 106M253 275L265 291L251 297L240 286M228 127L239 130L245 121L244 117M386 45L383 47L366 36L367 33L380 26M230 31L244 49L245 49L256 40L250 27L236 25L230 31M218 87L224 88L229 78L225 64L212 72L218 87M244 54L247 62L244 73L233 75M139 187L124 183L121 189L124 200L138 199L139 187M86 120L87 120L100 134L101 138L97 144M308 30L307 39L302 43L289 40L284 26M148 141L153 139L160 119L153 113L137 124L148 141M33 181L32 182L33 196L47 199M202 95L190 80L191 78L204 71L208 72M72 209L74 196L82 193L88 201M366 29L379 22L376 10L373 6L370 7L362 15L366 29M358 18L363 31L361 35L360 36L340 29L340 29L342 19L346 16L358 18M50 275L41 268L34 271L30 282L47 292L49 290M399 5L398 7L380 6L375 2L380 -10L385 -13L395 -13M180 103L199 103L200 97L188 83L176 87L180 103M317 9L313 27L336 28L337 17L321 7M76 167L64 157L60 157L53 164L54 175M406 -19L399 -14L402 4L419 0L418 -13L414 -18M114 121L122 121L126 124L121 139L105 137M62 103L62 102L68 93L84 94L86 112L84 116L83 116L68 112L62 103M343 12L340 15L323 4L328 -6M360 -20L376 -11L371 1L368 2L350 -9L349 -10L351 -15L360 -20M309 27L289 20L293 6L300 2M35 155L44 140L48 138L57 153L51 160L35 155M318 -19L301 -16L302 -1L315 5M33 200L27 204L26 216L39 221M21 223L24 220L37 225L37 241L24 241L20 231M56 77L61 80L65 90L59 98L42 90L46 79M35 325L35 326L24 334L24 334L13 318M202 114L185 128L197 135M430 12L441 25L438 34M125 163L129 150L145 146L144 165M10 260L10 272L21 283L26 281L30 270L17 258L10 260M128 146L124 140L129 125L135 126L145 142M16 234L4 237L1 252L9 256L15 253L21 244M226 57L241 51L228 33L219 34L218 47L226 57M29 178L30 159L20 155L16 156L12 171L15 175L29 178M41 241L44 244L56 233L50 220M22 151L32 154L32 154L41 139M211 68L207 67L204 56L215 50L224 60L223 61M93 89L102 89L107 95L105 108M8 126L-1 110L7 106L15 109L20 123L20 124L8 126M23 122L36 113L30 99L19 108L23 122M254 15L249 7L234 6L236 21M103 84L111 72L110 68L97 58L94 59L88 64L93 84M367 4L359 13L346 13L348 -7M172 88L168 87L154 105L155 110L162 115L169 115M38 246L42 248L43 250L39 263L33 267L19 255L26 245M195 53L184 59L190 74L203 67L200 56L195 53M150 111L135 121L130 121L126 118L130 103L145 103L149 106M4 103L6 88L1 84L-14 92L-15 100M22 339L3 343L10 357L25 356L26 353L22 339M197 49L196 42L209 30L215 34L213 46L203 52L197 49M210 24L211 26L218 30L227 28L232 22L231 7L231 7M-7 257L-2 256L6 260L5 271L-9 281L-13 273L-7 257M135 61L134 58L125 55L115 67L116 71L129 75M-22 312L-5 302L-4 298L-11 287M-8 188L-1 175L8 174L11 178L6 194L-1 196L-6 195M165 64L161 72L161 72L169 82L173 83M45 115L51 130L58 127L63 115L59 105L45 115M276 24L261 38L259 38L254 25L258 17L266 16M16 291L0 295L-8 285L-8 284M114 75L106 86L112 93L123 94M6 358L1 367L-12 368L-15 364L-11 349L-2 344L-1 345L6 358M290 2L297 -2L297 -16L295 -19L279 -14L275 -6L276 -5L290 2M44 75L38 69L38 55M74 138L64 152L60 152L51 136M91 114L105 112L111 119L102 132L88 118M147 223L141 237L148 244L162 233L147 223M1 200L4 214L18 219L21 216L23 204L8 199L1 200M67 116L62 129L75 135L75 135M0 340L-1 329L6 319L10 320L20 335M-18 246L-20 234L-18 228L-9 228L0 236M22 307L17 294L1 299L0 303L7 314L10 315L22 307M152 103L147 99L146 85L157 75L166 85M79 165L80 165L89 148L77 140M85 66L81 66L65 79L69 89M123 116L126 102L123 99L111 97L109 109L115 116L123 116M35 54L34 68L26 72L17 63L23 53L34 54M254 -7L248 -16L247 -16L236 -11L234 3M211 7L207 22L194 17L193 6L206 -1L211 7M151 44L161 61L157 70L140 60L139 56L150 44L151 44M3 317L-4 305L-21 315L-21 317L-21 318L-5 326L3 317M172 20L167 23L165 33L174 37L181 34L183 24M29 196L24 200L9 195M-13 345L-4 340L-6 330M152 39L151 39L143 30L151 15L163 23L161 34L152 39M-13 153L-15 134L1 135L3 147L-13 153M164 59L174 55L172 42L164 37L154 42M21 88L10 88L8 103L17 105L28 96M-23 76L-16 88L0 80L0 70L-10 62L-22 75L-23 76M215 3L209 -4L209 -4L221 -18L231 -11L230 3L215 3M270 14L279 22L282 22L285 19L289 6L274 -2L270 14M22 132L18 150L15 151L7 147L5 134L8 130L20 128L22 132M-1 215L-3 201L-8 199L-20 209L-22 214L-18 224M-2 170L7 170L13 155L4 151L-12 157L-13 158L-13 160M-11 186L-22 179L-23 176M129 99L127 95L132 83M192 50L182 56L178 55L176 41L184 38L192 43L192 50M31 93L24 85L27 76L35 73L42 78M138 32L148 41L135 54L126 50L121 39L124 33L128 31L138 32M49 163L50 175L32 178L34 159L34 159M93 27L93 24L107 17L120 31L116 37L111 38L93 27M122 -12L108 -13L103 -3L110 5L121 0M131 9L147 8L148 13M57 103L42 112L40 111L32 97L33 97L40 94M90 56L84 40L66 43L64 49M14 67L22 75L20 84L9 84L5 80L4 70L14 67M117 42L122 52L113 66L99 55M18 42L23 48L35 50M155 73L143 81L133 79L132 77M153 11L151 7L152 4L162 -2L172 5L170 16L164 19L153 11M87 17L86 2L88 0L99 0L107 8L105 13L91 21M83 17L69 18L60 3L60 2L67 -2L81 1M47 30L58 35L61 42L60 48L54 52L39 51L38 51L41 34L47 30M43 17L33 13L25 20L28 27L39 30L44 27L43 17M84 21L71 23L63 33L65 40L83 36M91 29L109 41L96 53L93 54L87 39L91 29M111 9L110 15L122 29L126 26L127 9L123 4L111 9M18 51L14 45L5 42L-8 51L-7 59M41 117L48 132L47 134L42 135L27 129L24 126M83 -2L85 -4L86 -20L85 -21L71 -20M50 -9L58 -2L65 -6L67 -20L59 -31L48 -19M193 21L205 25L207 27L194 39L186 34L187 24M1 131L4 127L-4 111L-11 110L-17 129L-15 131L1 131M0 26L2 39L-10 48L-19 42L-23 32M60 31L49 26L48 17L57 5M34 9L33 0L47 -5L55 1L55 2L45 13L34 9M8 -4L11 -3L22 -7L23 -21L14 -26L3 -15L8 -4M-6 226L3 233L15 230L17 222M130 5L125 0L126 -11L131 -16M9 1L6 0L-7 10L-6 17M102 -18L104 -15L99 -5M185 -1L186 -18L194 -17L204 -5M184 20L174 16L176 6L183 3L189 6M179 -21L183 -18L182 -2L174 1L165 -6L166 -14M12 0L23 -3L28 1L29 10L23 16L16 14L12 0M5 25L14 19L21 21L24 28L15 40M58 72L57 56L62 51L79 63L63 76L58 72M150 -23L144 -23L138 -19L150 0L160 -6L161 -15M-21 -3L-5 -14L-1 -13L5 -3L-10 7L-21 -2M258 -5L253 5L258 12L266 11L271 -3L271 -4L258 -5M43 -19L45 -9L31 -4L26 -7"/><path fill="none" stroke="#5e5e5e" stroke-opacity="0.45" stroke-width="3.6" stroke-linejoin="round" d="M130 238L122 228M130 238L124 248M105 241L104 235M105 241L113 249M124 248L113 249M104 235L122 228M393 290L405 295M393 290L395 270M413 271L396 269M413 271L414 289M395 270L396 269M405 295L414 289M430 275L417 268M417 268L413 271M414 289L429 295M2 215L19 221M2 215L-8 226M17 231L19 221M17 231L2 235M-8 226L2 235M69 289L50 292M69 289L70 268M50 292L52 274M52 274L69 267M70 268L69 267M106 287L93 283M106 287L116 271M96 265L90 276M96 265L110 264M93 283L90 276M110 264L116 271M92 255L75 250M92 255L96 265M69 258L75 250M69 258L69 267M70 268L90 276M105 241L92 255M113 249L110 264M80 299L93 283M80 299L69 289M429 341L417 347M417 347L414 366M431 330L415 322M417 347L408 342M408 342L406 329M406 329L415 322M429 301L413 311M415 322L413 311M405 295L408 308M413 311L408 308M233 221L245 220M233 221L224 209M241 193L224 209M241 193L250 199M250 199L245 220M250 199L253 199M253 199L268 210M245 220L251 225M251 225L267 218M268 210L267 218M417 268L420 259M435 252L420 259M370 252L386 250M370 252L365 240M386 250L387 233M368 228L365 240M368 228L376 226M376 226L387 233M368 228L362 222M365 240L344 243M344 243L336 232M336 232L338 226M362 222L338 226M-13 347L-2 342M-2 342L0 343M2 369L8 359M0 343L8 359M393 290L387 294M395 270L373 273M387 294L375 291M375 291L373 273M367 260L369 270M367 260L370 252M393 255L396 269M393 255L386 250M373 273L369 270M233 221L228 236M253 239L251 225M253 239L234 244M234 244L228 236M421 2L428 10M421 2L421 -14M397 -15L401 6M401 6L421 2M353 79L345 79M353 79L362 96M345 79L337 106M362 96L358 105M337 106L358 105M337 54L356 51M337 54L345 79M353 79L365 68M345 79L345 79M356 51L365 68M337 54L334 52M338 30L334 52M338 30L361 38M356 51L361 38M377 94L362 96M377 94L380 89M380 89L372 68M365 68L372 68M326 -8L320 5M344 14L347 -9M344 14L340 17M340 17L320 5M443 165L422 174M439 190L427 189M427 189L422 174M361 38L363 36M363 36L385 49M372 68L378 65M378 65L385 49M-14 156L6 149M-17 133L3 133M3 133L6 149M-15 159L-2 173M-2 173L-10 189M6 149L15 154M15 154L9 172M-2 173L9 172M2 215L-1 199M-1 199L-8 197M23 217L19 221M23 217L25 203M-1 199L7 196M25 203L7 196M9 172L13 177M13 177L7 196M17 231L24 243M39 224L39 243M39 224L23 217M39 243L24 243M69 258L45 250M52 274L40 266M45 250L40 266M39 224L51 217M39 243L44 247M44 247L59 233M59 233L51 217M25 203L31 198M13 177L30 180M30 180L31 198M51 217L53 211M53 211L48 201M48 201L31 198M124 248L132 259M116 271L126 271M132 259L126 271M387 294L387 310M408 308L393 314M387 310L393 314M406 329L393 326M393 314L393 326M408 342L393 349M393 349L387 332M393 326L387 332M387 310L376 313M376 313L371 329M387 332L373 331M371 329L373 331M224 209L222 209M211 236L228 236M211 236L205 222M222 209L205 222M269 183L270 183M269 183L253 199M268 210L282 202M270 183L282 202M270 183L275 177M275 177L296 179M282 202L284 202M284 202L300 183M296 179L300 183M312 225L312 208M312 225L304 230M304 230L289 226M289 226L290 209M290 209L312 208M312 208L312 208M290 209L284 202M300 183L304 184M312 208L304 184M138 237L146 221M138 237L130 238M122 228L125 219M146 221L145 218M145 218L125 219M393 255L409 243M420 259L411 243M409 243L411 243M387 233L398 230M409 243L398 230M376 226L385 208M385 208L374 199M362 222L360 205M360 205L374 199M0 343L23 336M8 359L27 358M27 358L28 355M23 336L23 336M28 355L23 336M23 336L11 318M31 311L38 326M31 311L25 308M38 326L38 327M25 308L11 318M38 327L23 336M27 358L29 366M48 296L31 311M48 296L58 312M38 326L57 317M58 312L57 317M80 299L80 300M48 294L50 292M48 294L48 296M58 312L80 300M106 287L112 295M110 303L112 295M110 303L98 309M98 309L83 303M80 300L83 303M221 376L220 359M201 382L202 358M202 358L220 359M378 8L380 24M378 8L373 3M373 3L370 4M370 4L360 16M360 16L365 32M365 32L380 24M402 20L400 9M402 20L388 28M400 9L378 8M388 28L380 24M401 6L400 9M378 -11L373 3M347 -9L370 4M344 14L360 16M338 30L338 29M363 36L365 32M340 17L338 29M388 28L388 47M388 47L385 49M299 -18L299 0M320 5L315 7M299 0L315 7M338 29L310 29M315 7L310 29M377 94L383 109M363 115L358 105M363 115L371 117M371 117L383 109M397 74L406 64M397 74L378 65M388 47L392 48M392 48L406 64M24 -6L10 -1M7 -2L10 -1M7 -2L0 -15M-10 10L7 -2M7 128L22 125M7 128L-3 109M17 107L6 104M17 107L22 124M22 124L22 125M-3 109L6 104M3 133L7 128M15 154L19 153M19 153L24 130M24 130L22 125M-11 108L-3 109M45 250L44 247M24 243L16 256M40 266L33 269M33 269L16 256M48 294L27 283M33 269L27 283M25 308L18 292M18 292L22 286M27 283L22 286M-2 253L-8 254M-2 253L8 258M8 258L8 272M8 272L-10 283M2 235L-2 253M16 256L8 258M22 286L8 272M60 183L58 183M60 183L73 193M53 211L70 210M58 183L48 201M70 210L73 193M75 238L73 236M75 238L98 229M73 236L73 213M98 223L98 229M98 223L85 212M85 212L73 213M75 250L75 238M59 233L73 236M104 235L98 229M70 210L73 213M109 211L119 210M109 211L98 223M125 219L119 210M51 162L33 156M51 162L52 177M52 177L31 180M31 180L32 157M32 157L33 156M60 154L51 162M60 154L49 135M43 137L49 135M43 137L33 156M60 183L79 167M60 154L64 154M58 183L52 177M79 167L64 154M30 180L31 180M19 153L32 157M24 130L43 137M-2 342L-4 328M11 318L6 317M-4 328L6 317M-4 328L-23 319M155 264L147 256M155 264L173 259M173 259L165 233M147 247L165 233M147 247L147 256M165 233L165 233M138 237L147 247M146 221L165 233M132 259L147 256M110 303L122 317M112 295L129 291M122 317L133 315M133 315L137 309M129 291L137 309M126 271L134 282M129 291L134 282M155 264L151 280M134 282L151 280M182 229L171 229M182 229L190 243M171 229L165 233M173 259L180 262M180 262L190 243M211 236L207 243M182 229L194 218M205 222L194 218M190 243L207 243M234 244L233 256M233 256L210 258M207 243L210 258M79 167L80 167M80 167L89 176M73 193L83 190M89 176L83 190M85 212L91 200M83 190L91 200M109 211L101 198M101 198L91 200M50 133L49 135M50 133L59 129M64 154L76 138M59 129L76 138M122 31L107 14M122 31L118 39M118 39L112 40M112 40L91 26M107 14L90 23M91 26L90 23M375 291L367 296M376 313L365 303M365 303L367 296M312 225L328 234M304 230L304 244M328 234L318 250M304 244L318 250M387 370L395 358M371 367L376 352M376 352L392 351M395 358L392 351M413 367L395 358M370 346L354 350M370 346L376 352M354 350L362 372M393 349L392 351M370 346L373 331M171 229L168 208M168 208L190 204M194 218L191 205M190 204L191 205M275 159L275 177M275 159L277 156M295 161L296 179M295 161L281 155M277 156L281 155M295 161L304 156M318 163L308 182M318 163L318 162M308 182L304 184M318 162L304 156M281 155L291 135M291 135L304 142M304 156L304 142M348 200L336 211M348 200L333 183M333 183L327 187M327 187L322 205M336 211L322 205M338 226L336 211M360 205L349 200M349 200L348 200M336 177L333 183M336 177L318 163M308 182L327 187M312 208L322 205M328 234L336 232M256 100L247 116M256 100L271 111M271 111L270 126M248 121L266 129M248 121L247 116M266 129L270 126M255 95L229 95M255 95L256 100M229 111L229 95M229 111L247 116M263 138L266 129M263 138L277 156M291 135L289 131M289 131L270 126M287 62L289 77M287 62L277 56M277 56L266 69M289 77L275 84M266 69L269 83M275 84L269 83M255 95L256 92M285 103L275 84M285 103L271 111M256 92L269 83M256 92L245 75M266 69L250 62M245 75L250 62M269 183L250 171M275 159L251 162M251 162L250 171M241 193L238 183M250 171L238 183M168 208L163 204M145 218L147 210M163 204L147 210M411 243L423 232M437 233L423 232M336 177L339 175M349 200L358 180M339 175L358 180M374 199L374 189M374 189L361 178M358 180L361 178M43 372L56 360M56 360L67 374M28 355L53 348M56 360L57 354M57 354L53 348M38 327L53 347M53 348L53 347M57 317L67 328M53 347L67 328M83 303L78 329M67 328L78 329M299 0L291 4M273 -4L291 4M310 29L310 29M291 4L287 21M310 29L287 21M334 52L328 53M328 53L309 40M310 29L309 40M380 89L398 87M397 74L399 86M398 87L399 86M91 147L76 138M91 147L99 146M99 146L103 139M76 138L85 118M103 139L103 134M103 134L86 118M85 118L86 118M80 167L91 147M76 138L76 138M59 129L66 114M66 114L85 118M-1 298L-2 302M-1 298L-10 285M-2 302L-23 315M18 292L-1 298M6 317L-2 302M158 288L170 303M158 288L156 288M156 288L144 307M144 307L166 318M166 318L170 303M151 280L156 288M137 309L144 307M196 267L180 262M196 267L199 288M180 262L177 280M177 280L187 293M199 288L187 293M180 262L180 262M208 262L210 258M208 262L196 267M158 288L177 280M185 298L170 303M185 298L187 293M89 176L94 176M101 198L105 190M94 176L105 190M99 146L110 165M94 176L110 165M140 30L150 12M140 30L150 41M150 41L152 41M152 41L163 35M163 35L165 21M150 12L165 21M125 52L136 57M125 52L118 39M127 29L140 30M127 29L122 31M136 57L150 41M136 57L137 61M137 61L158 72M158 72L163 62M163 62L152 41M191 4L183 0M191 4L207 -3M183 0L185 -20M207 -3L207 -4M44 77L56 74M44 77L35 70M56 74L55 54M55 54L37 53M35 70L37 53M15 43L26 28M15 43L21 50M26 28L40 32M40 32L36 52M21 50L36 52M-11 51L5 40M5 40L2 25M-8 19L2 25M14 16L2 25M14 16L23 19M15 43L5 40M26 28L23 19M10 -1L14 16M60 103L60 101M60 103L42 115M60 101L39 91M39 114L42 115M39 114L30 96M39 91L30 96M30 96L30 96M67 91L60 101M67 91L85 92M66 114L60 103M85 92L88 113M88 113L86 118M50 133L42 115M67 91L63 79M44 77L39 91M63 79L56 74M22 124L39 114M17 107L30 96M45 16L32 11M45 16L58 2M47 -8L58 1M47 -8L30 -1M30 -1L32 11M58 1L58 2M23 19L32 11M40 32L47 28M47 28L45 16M60 34L47 28M60 34L69 21M69 21L58 2M24 -6L30 -1M60 34L64 42M55 54L62 49M36 52L37 53M64 42L62 49M91 26L85 38M90 23L85 18M69 21L85 18M64 42L85 38M63 79L81 63M62 49L81 63M344 243L343 259M318 250L320 256M320 256L343 259M367 260L343 259M343 259L343 259M301 56L312 70M301 56L287 62M289 77L295 80M295 80L312 70M345 79L322 79M328 53L316 71M322 79L316 71M301 56L303 45M303 45L309 40M316 71L312 70M285 103L297 106M295 80L301 98M297 106L301 98M289 131L299 114M297 106L299 114M322 79L318 93M301 98L318 93M304 142L320 134M299 114L317 122M320 134L317 122M318 93L332 107M317 122L332 107M337 106L335 107M363 115L354 126M354 126L344 126M344 126L335 107M335 107L332 107M92 86L103 87M92 86L86 63M103 87L114 73M86 63L93 56M113 68L114 73M113 68L97 56M97 56L93 56M85 92L92 86M81 63L86 63M85 38L93 56M125 52L113 68M129 77L114 73M129 77L137 61M112 40L97 56M229 111L224 116M224 116L226 128M248 121L240 133M226 128L240 133M263 138L245 149M240 133L245 149M251 162L244 151M245 149L244 151M224 116L204 113M204 113L207 131M226 128L218 136M207 131L218 136M234 152L244 151M234 152L219 142M219 142L218 136M276 53L261 40M276 53L287 41M261 40L278 24M287 41L282 24M278 24L282 24M277 56L276 53M303 45L287 41M287 21L282 24M273 -4L267 13M267 13L278 24M229 95L225 90M245 75L232 78M232 78L225 90M222 209L210 194M191 205L205 194M210 194L205 194M238 183L224 177M210 194L224 177M234 152L221 171M224 177L221 171M210 152L219 142M210 152L217 168M217 168L221 171M110 95L106 110M110 95L124 96M124 96L128 101M128 101L124 119M106 110L114 119M114 119L124 119M88 113L106 110M103 87L110 95M129 77L131 80M131 80L124 96M103 134L114 119M142 186L140 200M142 186L122 181M140 200L123 202M123 202L118 188M122 181L118 188M119 210L123 202M147 210L140 200M105 190L118 188M120 167L110 165M120 167L122 181M182 189L190 204M182 189L168 188M163 204L164 190M168 188L164 190M142 186L146 183M164 190L146 183M401 222L415 218M401 222L391 208M415 218L419 205M391 208L402 196M402 196L418 201M418 201L419 205M398 230L401 222M423 232L415 218M385 208L391 208M442 216L419 205M398 186L402 196M398 186L386 181M386 181L374 189M427 189L418 201M57 354L76 353M76 353L84 368M131 347L139 327M131 347L142 349M139 327L155 330M142 349L155 339M155 330L155 339M133 315L139 327M166 318L166 318M155 330L166 318M152 365L142 349M161 365L166 347M155 339L166 347M430 103L423 100M419 84L423 100M419 84L424 75M424 75L429 74M406 64L410 63M419 84L399 86M424 75L410 63M127 29L129 7M150 12L148 6M129 7L148 6M174 4L183 0M174 4L172 17M172 17L185 23M191 4L193 19M193 19L185 23M234 -12L232 5M207 -3L214 6M232 5L214 6M193 19L208 24M214 6L208 24M22 86L8 86M22 86L25 74M25 74L15 64M8 86L2 81M2 81L2 69M2 69L15 64M6 104L8 86M30 96L22 86M35 70L25 74M21 50L15 64M-17 91L2 81M-9 60L2 69M67 -4L84 0M86 -2L84 0M86 -2L87 -22M85 18L84 0M58 1L67 -4M369 270L351 281M343 259L342 270M342 270L351 281M367 296L351 285M351 281L351 285M241 371L234 355M220 359L228 353M228 353L234 355M255 374L258 353M258 353L253 348M234 355L253 348M354 350L352 349M344 372L335 359M352 349L335 359M333 319L342 329M333 319L335 300M338 299L335 300M338 299L355 310M355 310L354 326M354 326L348 330M348 330L342 329M365 303L355 310M351 285L338 299M371 329L354 326M352 349L348 330M338 135L323 137M338 135L350 152M323 137L325 153M325 153L344 157M344 157L350 153M350 152L350 153M320 134L323 137M344 126L338 135M354 126L364 143M364 143L350 152M318 162L325 153M339 175L344 157M363 171L350 153M363 171L361 178M232 78L226 62M217 89L225 90M217 89L210 70M226 62L210 70M158 72L158 72M131 80L143 84M158 72L143 84M128 101L146 101M143 84L146 101M103 139L122 141M124 119L128 123M128 123L122 141M203 111L182 129M203 111L204 113M207 131L197 137M182 129L197 137M210 152L198 150M197 137L198 150M78 329L81 331M76 353L82 343M81 331L82 343M98 309L99 327M81 331L99 327M172 346L179 326M172 346L187 354M187 354L196 351M186 326L197 346M186 326L179 326M196 351L197 346M166 318L179 326M166 347L172 346M180 367L187 354M202 358L196 351M195 317L186 326M195 317L201 316M201 316L216 333M216 333L197 346M185 298L195 317M228 353L223 334M216 333L223 334M416 126L394 133M416 126L408 107M394 133L392 112M392 112L401 105M401 105L408 107M434 120L417 126M423 100L408 107M417 126L416 126M383 109L392 112M398 87L401 105M371 117L378 137M394 133L392 136M392 136L378 137M364 143L369 143M363 171L377 163M369 143L377 163M369 143L378 137M386 181L383 165M383 165L377 163M422 148L420 146M422 148L416 169M420 146L397 146M411 170L416 169M411 170L395 158M395 158L397 146M428 148L422 148M417 126L420 146M422 174L416 169M392 136L397 146M398 186L411 170M383 165L395 158M431 53L417 50M440 36L414 29M417 50L411 38M411 38L414 30M414 30L414 29M410 63L417 50M428 10L414 29M392 48L411 38M402 20L414 30M123 2L124 -13M123 2L109 8M107 -16L100 -3M100 -3L109 8M107 14L109 8M129 7L123 2M86 -2L100 -3M136 -20L150 3M150 3L162 -5M148 6L150 3M174 4L162 -5M172 17L165 21M185 23L184 35M208 24L209 27M209 27L194 42M194 42L184 35M163 62L176 57M163 35L174 40M176 57L174 40M174 40L184 35M257 -7L251 5M232 5L232 5M232 5L251 5M267 13L256 15M251 5L256 15M282 244L273 260M282 244L279 233M279 233L278 232M278 232L256 241M256 241L260 260M260 260L273 260M289 226L279 233M304 244L297 249M297 249L282 244M267 218L278 232M253 239L256 241M297 249L297 264M273 260L282 269M282 269L297 264M199 288L208 291M201 316L213 302M208 291L213 302M208 262L219 278M208 291L219 278M269 316L272 331M269 316L252 316M272 331L254 338M252 316L250 334M250 334L254 338M253 348L254 338M223 334L227 331M227 331L250 334M258 353L277 354M272 331L276 334M276 334L277 354M280 367L279 356M279 356L277 354M299 371L307 362M321 366L307 362M335 359L331 358M321 366L331 358M342 329L326 343M331 358L326 343M203 111L201 104M217 89L202 98M202 98L201 104M193 155L172 151M193 155L195 173M191 176L194 175M191 176L169 166M194 175L195 173M169 166L169 165M169 165L172 151M172 151L172 151M182 129L182 129M182 129L172 151M198 150L193 155M217 168L195 173M182 189L191 176M205 194L194 175M168 188L169 166M146 183L148 169M148 169L169 165M102 355L114 361M102 355L101 351M101 351L109 332M114 361L124 357M113 331L130 347M113 331L109 332M124 357L130 347M88 370L102 355M111 377L114 361M82 343L101 351M99 327L109 332M137 376L124 357M122 317L113 331M131 347L130 347M202 54L205 68M202 54L195 50M195 50L181 59M181 59L189 77M189 77L205 68M194 42L195 50M176 57L181 59M210 70L205 68M187 80L202 98M187 80L189 77M232 5L234 23M256 15L251 25M234 23L251 25M250 62L245 52M261 40L259 40M245 52L259 40M259 40L251 25M342 270L328 277M335 300L327 296M328 277L327 296M320 256L314 268M328 277L314 268M297 264L308 271M314 268L308 271M233 256L234 258M219 278L227 278M227 278L234 258M260 260L254 265M234 258L254 265M227 331L230 313M213 302L225 305M230 313L225 305M252 316L248 311M230 313L248 311M227 278L236 286M225 305L236 286M321 341L302 349M321 341L314 322M300 347L295 329M300 347L302 349M310 320L295 328M310 320L314 322M295 328L295 329M326 343L321 341M307 362L302 349M333 319L314 322M276 334L295 329M279 356L300 347M272 312L269 316M272 312L287 314M287 314L295 328M169 85L151 105M169 85L173 86M173 86L178 105M178 105L170 117M170 117L162 117M162 117L153 111M151 105L153 111M158 72L169 85M146 101L151 105M187 80L173 86M201 104L178 105M182 129L170 117M153 142L172 151M153 142L162 117M135 124L147 143M135 124L153 111M153 142L147 143M128 123L135 124M145 167L147 144M145 167L123 164M147 144L127 148M123 164L127 148M147 143L147 144M148 169L145 167M120 167L123 164M122 141L127 148M217 32L228 30M217 32L216 47M228 30L244 52M216 47L227 59M227 59L244 52M209 27L217 32M234 23L228 30M202 54L216 47M245 52L244 52M226 62L227 59M305 283L324 296M305 283L293 293M294 298L310 309M294 298L293 293M310 309L324 296M308 271L305 283M327 296L324 296M280 287L282 269M280 287L293 293M287 314L294 298M310 320L310 309M270 292L280 287M270 292L272 312M253 273L237 286M253 273L268 291M237 286L251 299M268 291L251 299M254 265L253 273M236 286L237 286M270 292L268 291M248 311L251 299"/><path fill="none" stroke="#5a5a5a" stroke-width="1.4" d="M130 238L122 228M130 238L124 248M105 241L104 235M105 241L113 249M124 248L113 249M104 235L122 228M393 290L405 295M393 290L395 270M413 271L396 269M413 271L414 289M395 270L396 269M405 295L414 289M430 275L417 268M417 268L413 271M414 289L429 295M2 215L19 221M2 215L-8 226M17 231L19 221M17 231L2 235M-8 226L2 235M69 289L50 292M69 289L70 268M50 292L52 274M52 274L69 267M70 268L69 267M106 287L93 283M106 287L116 271M96 265L90 276M96 265L110 264M93 283L90 276M110 264L116 271M92 255L75 250M92 255L96 265M69 258L75 250M69 258L69 267M70 268L90 276M105 241L92 255M113 249L110 264M80 299L93 283M80 299L69 289M429 341L417 347M417 347L414 366M431 330L415 322M417 347L408 342M408 342L406 329M406 329L415 322M429 301L413 311M415 322L413 311M405 295L408 308M413 311L408 308M233 221L245 220M233 221L224 209M241 193L224 209M241 193L250 199M250 199L245 220M250 199L253 199M253 199L268 210M245 220L251 225M251 225L267 218M268 210L267 218M417 268L420 259M435 252L420 259M370 252L386 250M370 252L365 240M386 250L387 233M368 228L365 240M368 228L376 226M376 226L387 233M368 228L362 222M365 240L344 243M344 243L336 232M336 232L338 226M362 222L338 226M-13 347L-2 342M-2 342L0 343M2 369L8 359M0 343L8 359M393 290L387 294M395 270L373 273M387 294L375 291M375 291L373 273M367 260L369 270M367 260L370 252M393 255L396 269M393 255L386 250M373 273L369 270M233 221L228 236M253 239L251 225M253 239L234 244M234 244L228 236M421 2L428 10M421 2L421 -14M397 -15L401 6M401 6L421 2M353 79L345 79M353 79L362 96M345 79L337 106M362 96L358 105M337 106L358 105M337 54L356 51M337 54L345 79M353 79L365 68M345 79L345 79M356 51L365 68M337 54L334 52M338 30L334 52M338 30L361 38M356 51L361 38M377 94L362 96M377 94L380 89M380 89L372 68M365 68L372 68M326 -8L320 5M344 14L347 -9M344 14L340 17M340 17L320 5M443 165L422 174M439 190L427 189M427 189L422 174M361 38L363 36M363 36L385 49M372 68L378 65M378 65L385 49M-14 156L6 149M-17 133L3 133M3 133L6 149M-15 159L-2 173M-2 173L-10 189M6 149L15 154M15 154L9 172M-2 173L9 172M2 215L-1 199M-1 199L-8 197M23 217L19 221M23 217L25 203M-1 199L7 196M25 203L7 196M9 172L13 177M13 177L7 196M17 231L24 243M39 224L39 243M39 224L23 217M39 243L24 243M69 258L45 250M52 274L40 266M45 250L40 266M39 224L51 217M39 243L44 247M44 247L59 233M59 233L51 217M25 203L31 198M13 177L30 180M30 180L31 198M51 217L53 211M53 211L48 201M48 201L31 198M124 248L132 259M116 271L126 271M132 259L126 271M387 294L387 310M408 308L393 314M387 310L393 314M406 329L393 326M393 314L393 326M408 342L393 349M393 349L387 332M393 326L387 332M387 310L376 313M376 313L371 329M387 332L373 331M371 329L373 331M224 209L222 209M211 236L228 236M211 236L205 222M222 209L205 222M269 183L270 183M269 183L253 199M268 210L282 202M270 183L282 202M270 183L275 177M275 177L296 179M282 202L284 202M284 202L300 183M296 179L300 183M312 225L312 208M312 225L304 230M304 230L289 226M289 226L290 209M290 209L312 208M312 208L312 208M290 209L284 202M300 183L304 184M312 208L304 184M138 237L146 221M138 237L130 238M122 228L125 219M146 221L145 218M145 218L125 219M393 255L409 243M420 259L411 243M409 243L411 243M387 233L398 230M409 243L398 230M376 226L385 208M385 208L374 199M362 222L360 205M360 205L374 199M0 343L23 336M8 359L27 358M27 358L28 355M23 336L23 336M28 355L23 336M23 336L11 318M31 311L38 326M31 311L25 308M38 326L38 327M25 308L11 318M38 327L23 336M27 358L29 366M48 296L31 311M48 296L58 312M38 326L57 317M58 312L57 317M80 299L80 300M48 294L50 292M48 294L48 296M58 312L80 300M106 287L112 295M110 303L112 295M110 303L98 309M98 309L83 303M80 300L83 303M221 376L220 359M201 382L202 358M202 358L220 359M378 8L380 24M378 8L373 3M373 3L370 4M370 4L360 16M360 16L365 32M365 32L380 24M402 20L400 9M402 20L388 28M400 9L378 8M388 28L380 24M401 6L400 9M378 -11L373 3M347 -9L370 4M344 14L360 16M338 30L338 29M363 36L365 32M340 17L338 29M388 28L388 47M388 47L385 49M299 -18L299 0M320 5L315 7M299 0L315 7M338 29L310 29M315 7L310 29M377 94L383 109M363 115L358 105M363 115L371 117M371 117L383 109M397 74L406 64M397 74L378 65M388 47L392 48M392 48L406 64M24 -6L10 -1M7 -2L10 -1M7 -2L0 -15M-10 10L7 -2M7 128L22 125M7 128L-3 109M17 107L6 104M17 107L22 124M22 124L22 125M-3 109L6 104M3 133L7 128M15 154L19 153M19 153L24 130M24 130L22 125M-11 108L-3 109M45 250L44 247M24 243L16 256M40 266L33 269M33 269L16 256M48 294L27 283M33 269L27 283M25 308L18 292M18 292L22 286M27 283L22 286M-2 253L-8 254M-2 253L8 258M8 258L8 272M8 272L-10 283M2 235L-2 253M16 256L8 258M22 286L8 272M60 183L58 183M60 183L73 193M53 211L70 210M58 183L48 201M70 210L73 193M75 238L73 236M75 238L98 229M73 236L73 213M98 223L98 229M98 223L85 212M85 212L73 213M75 250L75 238M59 233L73 236M104 235L98 229M70 210L73 213M109 211L119 210M109 211L98 223M125 219L119 210M51 162L33 156M51 162L52 177M52 177L31 180M31 180L32 157M32 157L33 156M60 154L51 162M60 154L49 135M43 137L49 135M43 137L33 156M60 183L79 167M60 154L64 154M58 183L52 177M79 167L64 154M30 180L31 180M19 153L32 157M24 130L43 137M-2 342L-4 328M11 318L6 317M-4 328L6 317M-4 328L-23 319M155 264L147 256M155 264L173 259M173 259L165 233M147 247L165 233M147 247L147 256M165 233L165 233M138 237L147 247M146 221L165 233M132 259L147 256M110 303L122 317M112 295L129 291M122 317L133 315M133 315L137 309M129 291L137 309M126 271L134 282M129 291L134 282M155 264L151 280M134 282L151 280M182 229L171 229M182 229L190 243M171 229L165 233M173 259L180 262M180 262L190 243M211 236L207 243M182 229L194 218M205 222L194 218M190 243L207 243M234 244L233 256M233 256L210 258M207 243L210 258M79 167L80 167M80 167L89 176M73 193L83 190M89 176L83 190M85 212L91 200M83 190L91 200M109 211L101 198M101 198L91 200M50 133L49 135M50 133L59 129M64 154L76 138M59 129L76 138M122 31L107 14M122 31L118 39M118 39L112 40M112 40L91 26M107 14L90 23M91 26L90 23M375 291L367 296M376 313L365 303M365 303L367 296M312 225L328 234M304 230L304 244M328 234L318 250M304 244L318 250M387 370L395 358M371 367L376 352M376 352L392 351M395 358L392 351M413 367L395 358M370 346L354 350M370 346L376 352M354 350L362 372M393 349L392 351M370 346L373 331M171 229L168 208M168 208L190 204M194 218L191 205M190 204L191 205M275 159L275 177M275 159L277 156M295 161L296 179M295 161L281 155M277 156L281 155M295 161L304 156M318 163L308 182M318 163L318 162M308 182L304 184M318 162L304 156M281 155L291 135M291 135L304 142M304 156L304 142M348 200L336 211M348 200L333 183M333 183L327 187M327 187L322 205M336 211L322 205M338 226L336 211M360 205L349 200M349 200L348 200M336 177L333 183M336 177L318 163M308 182L327 187M312 208L322 205M328 234L336 232M256 100L247 116M256 100L271 111M271 111L270 126M248 121L266 129M248 121L247 116M266 129L270 126M255 95L229 95M255 95L256 100M229 111L229 95M229 111L247 116M263 138L266 129M263 138L277 156M291 135L289 131M289 131L270 126M287 62L289 77M287 62L277 56M277 56L266 69M289 77L275 84M266 69L269 83M275 84L269 83M255 95L256 92M285 103L275 84M285 103L271 111M256 92L269 83M256 92L245 75M266 69L250 62M245 75L250 62M269 183L250 171M275 159L251 162M251 162L250 171M241 193L238 183M250 171L238 183M168 208L163 204M145 218L147 210M163 204L147 210M411 243L423 232M437 233L423 232M336 177L339 175M349 200L358 180M339 175L358 180M374 199L374 189M374 189L361 178M358 180L361 178M43 372L56 360M56 360L67 374M28 355L53 348M56 360L57 354M57 354L53 348M38 327L53 347M53 348L53 347M57 317L67 328M53 347L67 328M83 303L78 329M67 328L78 329M299 0L291 4M273 -4L291 4M310 29L310 29M291 4L287 21M310 29L287 21M334 52L328 53M328 53L309 40M310 29L309 40M380 89L398 87M397 74L399 86M398 87L399 86M91 147L76 138M91 147L99 146M99 146L103 139M76 138L85 118M103 139L103 134M103 134L86 118M85 118L86 118M80 167L91 147M76 138L76 138M59 129L66 114M66 114L85 118M-1 298L-2 302M-1 298L-10 285M-2 302L-23 315M18 292L-1 298M6 317L-2 302M158 288L170 303M158 288L156 288M156 288L144 307M144 307L166 318M166 318L170 303M151 280L156 288M137 309L144 307M196 267L180 262M196 267L199 288M180 262L177 280M177 280L187 293M199 288L187 293M180 262L180 262M208 262L210 258M208 262L196 267M158 288L177 280M185 298L170 303M185 298L187 293M89 176L94 176M101 198L105 190M94 176L105 190M99 146L110 165M94 176L110 165M140 30L150 12M140 30L150 41M150 41L152 41M152 41L163 35M163 35L165 21M150 12L165 21M125 52L136 57M125 52L118 39M127 29L140 30M127 29L122 31M136 57L150 41M136 57L137 61M137 61L158 72M158 72L163 62M163 62L152 41M191 4L183 0M191 4L207 -3M183 0L185 -20M207 -3L207 -4M44 77L56 74M44 77L35 70M56 74L55 54M55 54L37 53M35 70L37 53M15 43L26 28M15 43L21 50M26 28L40 32M40 32L36 52M21 50L36 52M-11 51L5 40M5 40L2 25M-8 19L2 25M14 16L2 25M14 16L23 19M15 43L5 40M26 28L23 19M10 -1L14 16M60 103L60 101M60 103L42 115M60 101L39 91M39 114L42 115M39 114L30 96M39 91L30 96M30 96L30 96M67 91L60 101M67 91L85 92M66 114L60 103M85 92L88 113M88 113L86 118M50 133L42 115M67 91L63 79M44 77L39 91M63 79L56 74M22 124L39 114M17 107L30 96M45 16L32 11M45 16L58 2M47 -8L58 1M47 -8L30 -1M30 -1L32 11M58 1L58 2M23 19L32 11M40 32L47 28M47 28L45 16M60 34L47 28M60 34L69 21M69 21L58 2M24 -6L30 -1M60 34L64 42M55 54L62 49M36 52L37 53M64 42L62 49M91 26L85 38M90 23L85 18M69 21L85 18M64 42L85 38M63 79L81 63M62 49L81 63M344 243L343 259M318 250L320 256M320 256L343 259M367 260L343 259M343 259L343 259M301 56L312 70M301 56L287 62M289 77L295 80M295 80L312 70M345 79L322 79M328 53L316 71M322 79L316 71M301 56L303 45M303 45L309 40M316 71L312 70M285 103L297 106M295 80L301 98M297 106L301 98M289 131L299 114M297 106L299 114M322 79L318 93M301 98L318 93M304 142L320 134M299 114L317 122M320 134L317 122M318 93L332 107M317 122L332 107M337 106L335 107M363 115L354 126M354 126L344 126M344 126L335 107M335 107L332 107M92 86L103 87M92 86L86 63M103 87L114 73M86 63L93 56M113 68L114 73M113 68L97 56M97 56L93 56M85 92L92 86M81 63L86 63M85 38L93 56M125 52L113 68M129 77L114 73M129 77L137 61M112 40L97 56M229 111L224 116M224 116L226 128M248 121L240 133M226 128L240 133M263 138L245 149M240 133L245 149M251 162L244 151M245 149L244 151M224 116L204 113M204 113L207 131M226 128L218 136M207 131L218 136M234 152L244 151M234 152L219 142M219 142L218 136M276 53L261 40M276 53L287 41M261 40L278 24M287 41L282 24M278 24L282 24M277 56L276 53M303 45L287 41M287 21L282 24M273 -4L267 13M267 13L278 24M229 95L225 90M245 75L232 78M232 78L225 90M222 209L210 194M191 205L205 194M210 194L205 194M238 183L224 177M210 194L224 177M234 152L221 171M224 177L221 171M210 152L219 142M210 152L217 168M217 168L221 171M110 95L106 110M110 95L124 96M124 96L128 101M128 101L124 119M106 110L114 119M114 119L124 119M88 113L106 110M103 87L110 95M129 77L131 80M131 80L124 96M103 134L114 119M142 186L140 200M142 186L122 181M140 200L123 202M123 202L118 188M122 181L118 188M119 210L123 202M147 210L140 200M105 190L118 188M120 167L110 165M120 167L122 181M182 189L190 204M182 189L168 188M163 204L164 190M168 188L164 190M142 186L146 183M164 190L146 183M401 222L415 218M401 222L391 208M415 218L419 205M391 208L402 196M402 196L418 201M418 201L419 205M398 230L401 222M423 232L415 218M385 208L391 208M442 216L419 205M398 186L402 196M398 186L386 181M386 181L374 189M427 189L418 201M57 354L76 353M76 353L84 368M131 347L139 327M131 347L142 349M139 327L155 330M142 349L155 339M155 330L155 339M133 315L139 327M166 318L166 318M155 330L166 318M152 365L142 349M161 365L166 347M155 339L166 347M430 103L423 100M419 84L423 100M419 84L424 75M424 75L429 74M406 64L410 63M419 84L399 86M424 75L410 63M127 29L129 7M150 12L148 6M129 7L148 6M174 4L183 0M174 4L172 17M172 17L185 23M191 4L193 19M193 19L185 23M234 -12L232 5M207 -3L214 6M232 5L214 6M193 19L208 24M214 6L208 24M22 86L8 86M22 86L25 74M25 74L15 64M8 86L2 81M2 81L2 69M2 69L15 64M6 104L8 86M30 96L22 86M35 70L25 74M21 50L15 64M-17 91L2 81M-9 60L2 69M67 -4L84 0M86 -2L84 0M86 -2L87 -22M85 18L84 0M58 1L67 -4M369 270L351 281M343 259L342 270M342 270L351 281M367 296L351 285M351 281L351 285M241 371L234 355M220 359L228 353M228 353L234 355M255 374L258 353M258 353L253 348M234 355L253 348M354 350L352 349M344 372L335 359M352 349L335 359M333 319L342 329M333 319L335 300M338 299L335 300M338 299L355 310M355 310L354 326M354 326L348 330M348 330L342 329M365 303L355 310M351 285L338 299M371 329L354 326M352 349L348 330M338 135L323 137M338 135L350 152M323 137L325 153M325 153L344 157M344 157L350 153M350 152L350 153M320 134L323 137M344 126L338 135M354 126L364 143M364 143L350 152M318 162L325 153M339 175L344 157M363 171L350 153M363 171L361 178M232 78L226 62M217 89L225 90M217 89L210 70M226 62L210 70M158 72L158 72M131 80L143 84M158 72L143 84M128 101L146 101M143 84L146 101M103 139L122 141M124 119L128 123M128 123L122 141M203 111L182 129M203 111L204 113M207 131L197 137M182 129L197 137M210 152L198 150M197 137L198 150M78 329L81 331M76 353L82 343M81 331L82 343M98 309L99 327M81 331L99 327M172 346L179 326M172 346L187 354M187 354L196 351M186 326L197 346M186 326L179 326M196 351L197 346M166 318L179 326M166 347L172 346M180 367L187 354M202 358L196 351M195 317L186 326M195 317L201 316M201 316L216 333M216 333L197 346M185 298L195 317M228 353L223 334M216 333L223 334M416 126L394 133M416 126L408 107M394 133L392 112M392 112L401 105M401 105L408 107M434 120L417 126M423 100L408 107M417 126L416 126M383 109L392 112M398 87L401 105M371 117L378 137M394 133L392 136M392 136L378 137M364 143L369 143M363 171L377 163M369 143L377 163M369 143L378 137M386 181L383 165M383 165L377 163M422 148L420 146M422 148L416 169M420 146L397 146M411 170L416 169M411 170L395 158M395 158L397 146M428 148L422 148M417 126L420 146M422 174L416 169M392 136L397 146M398 186L411 170M383 165L395 158M431 53L417 50M440 36L414 29M417 50L411 38M411 38L414 30M414 30L414 29M410 63L417 50M428 10L414 29M392 48L411 38M402 20L414 30M123 2L124 -13M123 2L109 8M107 -16L100 -3M100 -3L109 8M107 14L109 8M129 7L123 2M86 -2L100 -3M136 -20L150 3M150 3L162 -5M148 6L150 3M174 4L162 -5M172 17L165 21M185 23L184 35M208 24L209 27M209 27L194 42M194 42L184 35M163 62L176 57M163 35L174 40M176 57L174 40M174 40L184 35M257 -7L251 5M232 5L232 5M232 5L251 5M267 13L256 15M251 5L256 15M282 244L273 260M282 244L279 233M279 233L278 232M278 232L256 241M256 241L260 260M260 260L273 260M289 226L279 233M304 244L297 249M297 249L282 244M267 218L278 232M253 239L256 241M297 249L297 264M273 260L282 269M282 269L297 264M199 288L208 291M201 316L213 302M208 291L213 302M208 262L219 278M208 291L219 278M269 316L272 331M269 316L252 316M272 331L254 338M252 316L250 334M250 334L254 338M253 348L254 338M223 334L227 331M227 331L250 334M258 353L277 354M272 331L276 334M276 334L277 354M280 367L279 356M279 356L277 354M299 371L307 362M321 366L307 362M335 359L331 358M321 366L331 358M342 329L326 343M331 358L326 343M203 111L201 104M217 89L202 98M202 98L201 104M193 155L172 151M193 155L195 173M191 176L194 175M191 176L169 166M194 175L195 173M169 166L169 165M169 165L172 151M172 151L172 151M182 129L182 129M182 129L172 151M198 150L193 155M217 168L195 173M182 189L191 176M205 194L194 175M168 188L169 166M146 183L148 169M148 169L169 165M102 355L114 361M102 355L101 351M101 351L109 332M114 361L124 357M113 331L130 347M113 331L109 332M124 357L130 347M88 370L102 355M111 377L114 361M82 343L101 351M99 327L109 332M137 376L124 357M122 317L113 331M131 347L130 347M202 54L205 68M202 54L195 50M195 50L181 59M181 59L189 77M189 77L205 68M194 42L195 50M176 57L181 59M210 70L205 68M187 80L202 98M187 80L189 77M232 5L234 23M256 15L251 25M234 23L251 25M250 62L245 52M261 40L259 40M245 52L259 40M259 40L251 25M342 270L328 277M335 300L327 296M328 277L327 296M320 256L314 268M328 277L314 268M297 264L308 271M314 268L308 271M233 256L234 258M219 278L227 278M227 278L234 258M260 260L254 265M234 258L254 265M227 331L230 313M213 302L225 305M230 313L225 305M252 316L248 311M230 313L248 311M227 278L236 286M225 305L236 286M321 341L302 349M321 341L314 322M300 347L295 329M300 347L302 349M310 320L295 328M310 320L314 322M295 328L295 329M326 343L321 341M307 362L302 349M333 319L314 322M276 334L295 329M279 356L300 347M272 312L269 316M272 312L287 314M287 314L295 328M169 85L151 105M169 85L173 86M173 86L178 105M178 105L170 117M170 117L162 117M162 117L153 111M151 105L153 111M158 72L169 85M146 101L151 105M187 80L173 86M201 104L178 105M182 129L170 117M153 142L172 151M153 142L162 117M135 124L147 143M135 124L153 111M153 142L147 143M128 123L135 124M145 167L147 144M145 167L123 164M147 144L127 148M123 164L127 148M147 143L147 144M148 169L145 167M120 167L123 164M122 141L127 148M217 32L228 30M217 32L216 47M228 30L244 52M216 47L227 59M227 59L244 52M209 27L217 32M234 23L228 30M202 54L216 47M245 52L244 52M226 62L227 59M305 283L324 296M305 283L293 293M294 298L310 309M294 298L293 293M310 309L324 296M308 271L305 283M327 296L324 296M280 287L282 269M280 287L293 293M287 314L294 298M310 320L310 309M270 292L280 287M270 292L272 312M253 273L237 286M253 273L268 291M237 286L251 299M268 291L251 299M254 265L253 273M236 286L237 286M270 292L268 291M248 311L251 299"/></g></g></svg><div class="lab" style="top:8.0px">PyAA</div><div class="bar" style="left:183.0px;top:167.0px"></div></div>
<div class="sem" style="left:477px;top:8px;width:208px;height:174.6px"><svg width="209" height="175" style="position:absolute;left:0;top:0"><g filter="url(#bl)"><g transform="scale(0.5)"><rect x="-10" y="-10" width="440" height="380" fill="#959595"/><path fill="#8a8a8a" d="M55 172L44 160L28 166L38 187L42 188L49 187ZM29 133L32 143L20 157L11 154L6 146L19 130ZM-8 125L2 144L6 146L19 130L14 120ZM13 252L6 241L15 221L32 236L17 251ZM65 168L63 147L56 141L56 141L47 148L44 160L55 172ZM127 241L106 238L98 246L108 263L112 264L117 262ZM8 291L17 276L7 263L6 263L-9 283L-4 292ZM114 133L121 143L137 146L142 143L144 136L135 119L135 118L115 132ZM56 115L42 123L41 123L31 107L33 102L51 98L58 102ZM67 125L56 115L58 102L70 98L72 99L79 110L71 124ZM32 295L27 277L17 276L8 291L16 298ZM109 197L110 182L129 178L134 186L129 197L109 198ZM84 275L83 256L65 250L60 255L63 277L69 279ZM86 308L71 302L69 279L84 275L86 276L93 285L91 304ZM99 111L99 93L113 87L123 104L104 113ZM107 35L112 38L114 55L101 65L99 65L92 56L95 40ZM139 269L137 284L115 284L112 264L117 262ZM27 351L23 336L5 333L5 333L-1 353L19 360ZM187 214L174 200L180 189L195 183L205 190L197 213ZM46 361L42 355L27 351L19 360L19 370L28 379L42 377ZM111 314L110 308L113 306L129 306L138 318L132 326L122 327ZM73 74L68 77L70 98L72 99L92 88L89 78ZM148 63L156 80L167 75L170 62L164 56L151 58ZM96 354L84 361L82 367L90 379L98 382L107 379L110 375L109 361ZM168 230L185 221L190 236L178 250L171 247ZM202 259L202 239L209 233L219 237L223 247L208 262ZM145 317L159 327L158 337L137 339L132 326L138 318ZM67 125L56 141L56 141L42 123L56 115ZM233 157L233 141L247 133L254 136L250 159ZM23 -2L10 17L23 29L25 29L37 14L33 2ZM157 16L158 15L173 8L188 18L180 37L169 38L166 36ZM61 360L65 345L59 339L49 341L42 355L46 361ZM180 323L187 309L185 303L183 302L166 306L164 322ZM277 209L257 207L257 194L266 187L273 187L281 198ZM291 43L304 48L304 49L300 68L289 70L279 58ZM199 9L195 16L210 31L215 30L226 8L219 2ZM23 -2L19 -11L39 -25L47 -9L33 2ZM205 338L216 347L231 343L228 323L226 322L203 330ZM277 209L278 212L273 226L260 227L255 210L257 207ZM297 138L294 126L315 114L318 139ZM238 348L255 333L251 325L231 321L228 323L231 343ZM23 -2L19 -11L5 -17L4 -17L1 7L9 17L10 17ZM266 36L267 55L271 58L279 58L291 43L291 43L273 33ZM357 114L359 108L347 89L340 89L332 113L338 118ZM148 361L133 355L127 373L138 384L142 384ZM330 77L332 84L340 89L347 89L359 78L359 69L349 56L342 57ZM345 156L366 155L369 159L368 173L352 182L343 178L340 163ZM319 159L319 159L320 140L318 139L297 138L291 149L301 160ZM243 380L245 382L255 387L266 383L271 363L264 359L258 360ZM384 85L379 88L359 78L359 69L379 59L387 66ZM298 220L297 231L310 238L322 231L322 228L315 217L299 218ZM366 155L368 146L380 136L388 139L393 157L392 159L369 159ZM304 20L295 20L293 18L291 -4L294 -5L315 1L316 4ZM332 253L333 253L354 260L360 247L360 244L346 233L333 245ZM397 171L392 159L393 157L408 149L424 161L423 164ZM302 337L283 338L284 357L298 356L305 341ZM419 133L409 140L408 149L424 161L431 154L432 143ZM349 330L359 324L363 311L353 300L338 300L338 322ZM295 305L293 316L302 323L314 317L315 297ZM391 362L404 352L398 338L395 337L378 348ZM402 283L402 281L417 265L430 274L421 294L407 291ZM421 294L430 274L442 271L450 291L445 300L427 301Z"/><path fill="#8f8f8f" d="M2 201L9 185L10 185L23 191L22 211L14 216ZM80 184L82 175L103 173L110 182L109 197L96 203L91 201ZM109 197L96 203L97 219L105 226L120 217L109 198ZM86 276L108 263L98 246L94 246L83 256L84 275ZM89 131L94 113L99 111L104 113L115 132L114 133L104 138ZM5 97L21 84L26 86L33 102L31 107L17 113L5 100ZM69 279L63 277L53 280L44 300L56 311L71 302ZM86 276L108 263L112 264L115 284L114 285L93 285ZM129 241L129 241L147 235L156 250L149 263L145 264ZM86 308L71 302L56 311L56 314L63 325L84 327ZM-19 91L-7 88L0 70L-5 61L-15 61L-26 68L-27 84ZM159 133L144 136L142 143L158 156L173 147L173 146ZM154 193L152 189L134 186L129 197L138 212L140 212ZM-14 307L-12 329L5 333L5 333L7 316L-10 305ZM139 269L137 284L139 288L153 295L154 295L162 287L161 271L149 263L145 264ZM84 152L99 151L104 138L89 131L83 134L80 146ZM69 369L62 382L49 383L42 377L46 361L61 360ZM75 56L73 74L68 77L50 73L48 71L46 64L62 48L70 50ZM178 251L198 260L202 259L202 239L190 236L178 250ZM122 327L132 326L137 339L130 351L120 350L115 340ZM69 369L82 367L84 361L75 345L65 345L61 360ZM145 317L153 295L139 288L129 306L138 318ZM-24 -3L-12 -16L4 -17L1 7L-21 6ZM167 75L180 82L193 74L182 61L170 62ZM267 79L267 94L252 101L243 92L252 76L267 79ZM80 25L58 25L55 34L62 48L70 50L82 34ZM116 159L134 167L134 166L137 146L121 143ZM247 133L241 118L226 115L217 133L233 141ZM58 25L55 34L34 38L25 29L37 14L55 16ZM254 136L265 134L268 127L267 118L251 108L241 118L247 133ZM225 274L214 270L203 287L203 291L213 300L226 294ZM298 220L278 212L277 209L281 198L295 195L301 200L299 218ZM142 40L145 42L166 36L157 16L145 22ZM267 79L285 80L289 70L279 58L271 58L267 79ZM245 211L238 203L223 206L221 212L231 225L237 226ZM185 303L203 291L203 287L187 278L183 278L178 287L183 302ZM257 310L251 325L231 321L239 300L239 300ZM337 136L338 118L332 113L316 112L315 114L318 139L320 140ZM341 139L357 134L361 122L357 114L338 118L337 136ZM357 114L359 108L377 101L386 112L377 125L361 122ZM255 281L264 267L279 267L282 271L282 280L264 288ZM377 101L359 108L347 89L359 78L379 88ZM317 182L298 178L297 176L301 160L319 159L318 181ZM319 70L319 57L330 52L342 57L330 77ZM288 287L282 280L282 271L305 264L311 278L310 283ZM369 159L392 159L397 171L396 173L376 179L368 173ZM365 -6L343 -4L341 14L345 18L366 14L367 -4ZM367 -4L389 -8L390 -7L387 17L373 21L366 14ZM308 370L298 356L305 341L320 343L325 351ZM363 288L353 300L338 300L337 299L340 280L352 274ZM406 -7L405 22L404 23L387 17L390 -7L404 -8ZM396 173L376 179L377 193L383 198L403 191L403 191ZM332 354L346 352L350 345L349 330L338 322L327 327L320 343L325 351ZM367 368L373 349L350 345L346 352L354 368ZM373 330L386 321L388 313L380 306L363 311L359 324ZM431 201L414 205L419 225L430 227L435 203ZM427 74L424 89L420 91L404 86L408 70L426 73ZM389 241L397 257L392 268L379 268L378 250ZM391 362L390 373L406 380L418 369L412 355L404 352ZM440 102L426 113L425 119L443 127L450 118ZM447 334L443 327L420 321L418 323L416 327L423 343L435 346L445 341ZM418 369L431 371L435 346L423 343L412 355Z"/><path fill="#949494" d="M71 212L80 227L79 232L67 239L48 224L49 222L63 210ZM71 212L91 201L80 184L61 196L63 210ZM22 211L37 211L42 188L38 187L23 191ZM80 146L63 147L56 141L67 125L71 124L83 134ZM17 113L31 107L41 123L29 133L19 130L14 120ZM-19 91L-21 107L-12 115L5 100L5 97L-7 88ZM84 152L80 172L82 175L103 173L107 163L99 151ZM99 151L107 163L116 159L121 143L114 133L104 138ZM53 280L36 270L27 277L32 295L39 300L44 300ZM53 280L36 270L36 262L45 252L60 255L63 277ZM-10 305L-4 292L8 291L16 298L15 311L7 316ZM7 316L15 311L28 317L30 329L23 336L5 333ZM127 60L114 55L101 65L116 83L128 77L131 66ZM28 317L39 300L32 295L16 298L15 311ZM172 200L174 200L180 189L172 174L156 172L152 189L154 193ZM91 304L93 285L114 285L113 306L110 308ZM-21 340L-19 334L-12 329L5 333L-1 353L-6 355L-10 355ZM205 190L216 190L216 190L219 163L207 157L197 166L195 183ZM163 119L157 112L135 119L144 136L159 133ZM180 189L172 174L181 162L197 166L195 183ZM19 360L-1 353L-6 355L-3 377L-1 380L19 370ZM217 57L209 54L204 47L210 31L215 30L228 35L230 46ZM167 75L156 80L152 89L160 98L178 97L180 82ZM247 57L267 55L271 58L267 79L252 76L245 64ZM101 65L116 83L113 87L99 93L92 88L89 78L99 65ZM164 363L157 357L160 341L180 342L186 351L174 364ZM180 342L160 341L158 337L159 327L164 322L180 323L184 330ZM198 260L187 278L203 287L214 270L208 262L202 259ZM7 48L23 29L25 29L34 38L35 56L24 60ZM191 352L205 338L203 330L203 330L184 330L180 342L186 351ZM267 94L278 103L267 118L251 108L252 101ZM62 48L46 64L35 56L34 38L55 34ZM136 -5L148 -3L158 15L157 16L145 22L128 15L128 15ZM84 18L75 3L80 -7L88 -10L89 -9L104 12L102 15ZM237 226L231 225L219 237L223 247L230 249L247 238ZM237 269L230 249L223 247L208 262L214 270L225 274ZM245 52L249 39L261 34L266 36L267 55L247 57ZM238 203L223 206L216 190L216 190L239 184L241 188ZM252 281L238 269L237 269L225 274L226 294L239 300L239 300ZM191 352L204 369L208 369L210 368L216 347L205 338ZM55 16L37 14L33 2L47 -9L51 -8L59 6ZM289 70L300 68L307 74L306 89L288 87L285 80ZM252 281L238 269L257 248L258 249L264 267L255 281ZM273 226L260 227L251 239L257 248L258 249L272 247L279 234ZM273 187L280 175L274 159L255 164L254 170L266 187ZM257 207L255 210L245 211L238 203L241 188L257 194ZM233 365L210 368L216 347L231 343L238 348L238 348ZM291 149L278 153L265 134L268 127L292 125L294 126L297 138ZM316 112L332 113L340 89L332 84L310 96L310 99ZM345 18L344 30L327 37L319 32L327 14L341 14ZM269 9L278 20L273 33L266 36L261 34L257 17ZM257 17L261 34L249 39L239 28L240 14ZM319 32L327 37L330 52L319 57L304 49L304 48L316 33ZM322 231L333 245L346 233L345 226L337 220L322 228ZM319 70L307 74L300 68L304 49L319 57ZM403 60L403 61L387 66L379 59L377 42L394 41ZM333 203L335 205L357 202L358 198L352 182L343 178L341 180ZM406 -7L419 -6L432 8L429 16L405 22ZM358 198L377 193L383 198L382 212L369 220L361 216L357 202ZM308 373L309 375L326 383L332 383L332 354L325 351L308 370ZM357 202L361 216L345 226L337 220L335 205ZM419 124L400 117L397 133L409 140L419 133ZM338 322L338 300L337 299L316 296L315 297L314 317L327 327ZM310 283L311 278L330 272L340 280L337 299L316 296ZM341 139L357 134L368 146L366 155L345 156ZM408 202L395 219L382 212L383 198L403 191ZM374 288L377 291L402 283L402 281L392 268L379 268L377 269ZM380 306L377 291L374 288L363 288L353 300L363 311ZM443 327L447 304L445 300L427 301L420 321Z"/><path fill="#999999" d="M39 235L45 252L60 255L65 250L67 239L48 224ZM32 143L47 148L44 160L28 166L25 165L20 157ZM61 196L49 187L55 172L65 168L80 172L82 175L80 184ZM71 212L80 227L97 219L96 203L91 201ZM107 163L116 159L134 167L129 178L110 182L103 173ZM13 252L7 263L6 263L-13 257L-15 244L-11 238L6 241ZM-10 223L-13 227L-11 238L6 241L15 221L14 218ZM99 111L99 93L92 88L72 99L79 110L94 113ZM84 152L80 172L65 168L63 147L80 146ZM142 143L137 146L134 166L154 169L158 156ZM111 314L110 308L91 304L86 308L84 327L87 331L96 334ZM-15 61L-24 39L-17 29L-10 30L4 49L-5 61ZM173 146L173 147L181 162L197 166L207 157L206 148L183 138ZM30 329L37 329L56 314L56 311L44 300L39 300L28 317ZM109 198L129 197L138 212L126 219L120 217ZM142 40L145 42L151 58L148 63L131 66L127 60L136 41ZM0 70L17 76L24 60L7 48L4 49L-5 61ZM171 247L178 250L178 251L173 267L161 271L149 263L156 250ZM-7 88L5 97L21 84L17 76L0 70ZM142 40L145 22L128 15L124 33L136 41ZM183 278L187 278L198 260L178 251L173 267ZM209 233L202 239L190 236L185 221L187 214L197 213L206 218ZM107 35L112 38L124 33L128 15L128 15L109 9L104 12L102 15ZM131 66L128 77L142 90L152 89L156 80L148 63ZM-21 6L-23 18L-17 29L-10 30L9 17L1 7ZM178 97L181 101L181 119L163 119L157 112L160 98ZM164 363L157 357L148 361L142 384L145 386L160 382ZM75 3L59 6L51 -8L67 -19L80 -7ZM111 314L96 334L97 335L115 340L122 327ZM185 303L203 291L213 300L212 305L201 315L187 309ZM221 212L206 218L209 233L219 237L231 225ZM250 159L255 164L274 159L278 153L265 134L254 136ZM294 126L315 114L316 112L310 99L288 108L292 125ZM245 52L249 39L239 28L228 35L230 46ZM243 380L258 360L238 348L233 365L242 380ZM275 331L283 338L284 357L278 362L271 363L264 359L265 336ZM402 108L400 88L384 85L379 88L377 101L386 112L398 114ZM317 197L301 200L295 195L298 178L317 182ZM366 14L373 21L372 38L354 44L344 30L345 18ZM297 231L292 235L292 250L306 260L311 255L310 238ZM333 203L341 180L318 181L317 182L317 197L322 202ZM400 88L384 85L387 66L403 61L408 70L404 86ZM269 6L290 -4L274 -21L262 -5ZM398 114L386 112L377 125L380 136L388 139L397 133L400 117ZM269 9L278 20L293 18L291 -4L290 -4L269 6ZM424 181L403 191L396 173L397 171L423 164L427 175ZM308 373L288 376L278 362L284 357L298 356L308 370ZM311 255L306 260L305 264L311 278L330 272L333 253L332 253ZM277 322L293 316L302 323L302 337L283 338L275 331ZM332 354L346 352L354 368L347 381L334 384L332 383ZM346 233L360 244L371 227L369 220L361 216L345 226ZM441 52L442 34L436 30L418 41L418 50L428 57ZM432 8L442 3L448 -14L445 -21L431 -23L419 -6ZM389 241L389 241L400 232L406 232L417 254L416 256L397 257ZM425 119L443 127L443 132L432 143L419 133L419 124ZM428 57L418 50L403 60L403 61L408 70L426 73ZM406 232L419 225L430 227L436 232L431 247L417 254ZM398 338L416 327L418 323L396 310L388 313L386 321L395 337ZM430 274L417 265L416 256L417 254L431 247L447 264L447 264L442 271Z"/><path fill="#9e9e9e" d="M-5 174L9 185L10 185L25 165L20 157L11 154L-5 173ZM63 210L49 222L37 211L42 188L49 187L61 196ZM94 246L79 232L67 239L65 250L83 256ZM-12 115L-10 124L-8 125L14 120L17 113L5 100ZM70 98L68 77L50 73L51 98L58 102ZM104 113L123 104L131 107L135 118L115 132ZM153 223L140 212L138 212L126 219L129 241L147 235ZM152 89L142 90L131 107L135 118L135 119L157 112L160 98ZM181 119L163 119L159 133L173 146L183 138L185 123ZM157 223L172 200L154 193L140 212L153 223ZM181 119L181 101L202 98L207 103L198 120L185 123ZM75 56L73 74L89 78L99 65L92 56ZM17 76L24 60L35 56L46 64L48 71L26 86L21 84ZM157 223L168 230L171 247L156 250L147 235L153 223ZM202 98L201 82L224 76L230 91L221 105L207 103ZM27 351L23 336L30 329L37 329L49 341L42 355ZM225 71L224 76L201 82L193 74L209 54L217 57ZM115 340L120 350L109 361L96 354L97 335ZM128 77L142 90L131 107L123 104L113 87L116 83ZM89 131L94 113L79 110L71 124L83 134ZM233 157L226 162L219 163L207 157L206 148L214 134L217 133L233 141ZM157 223L172 200L174 200L187 214L185 221L168 230ZM59 339L49 341L37 329L56 314L63 325ZM221 212L206 218L197 213L205 190L216 190L223 206ZM245 52L230 46L217 57L225 71L245 64L247 57ZM84 18L102 15L107 35L95 40L82 34L80 25ZM180 37L186 44L204 47L210 31L195 16L188 18ZM82 34L70 50L75 56L92 56L95 40ZM148 361L133 355L130 351L137 339L158 337L160 341L157 357ZM87 331L75 345L65 345L59 339L63 325L84 327ZM96 334L87 331L75 345L84 361L96 354L97 335ZM198 120L214 134L217 133L226 115L221 105L207 103ZM226 162L219 163L216 190L239 184L239 183ZM120 350L130 351L133 355L127 373L110 375L109 361ZM266 187L254 170L239 183L239 184L241 188L257 194ZM180 82L178 97L181 101L202 98L201 82L193 74L193 74ZM108 -16L115 -9L109 9L104 12L89 -9ZM267 79L285 80L288 87L281 103L278 103L267 94ZM245 211L237 226L247 238L251 239L260 227L255 210ZM273 33L278 20L293 18L295 20L291 43ZM84 18L75 3L59 6L55 16L58 25L80 25ZM239 300L231 321L228 323L226 322L212 305L213 300L226 294ZM148 -3L158 15L173 8L174 -6L169 -13L161 -14ZM173 8L174 -6L192 -8L199 9L195 16L188 18ZM298 220L278 212L273 226L279 234L292 235L297 231ZM184 330L180 323L187 309L201 315L203 330ZM291 43L304 48L316 33L304 20L295 20L291 43ZM178 287L162 287L161 271L173 267L183 278ZM297 176L280 175L274 159L278 153L291 149L301 160ZM299 218L301 200L317 197L322 202L315 217ZM252 281L239 300L257 310L268 307L269 305L264 288L255 281ZM268 307L277 322L275 331L265 336L255 333L251 325L257 310ZM292 235L279 234L272 247L280 254L292 250ZM357 134L361 122L377 125L380 136L368 146ZM318 181L319 159L319 159L340 163L343 178L341 180ZM279 267L280 254L272 247L258 249L264 267ZM269 305L287 298L288 287L282 280L264 288ZM269 9L257 17L240 14L238 11L249 -8L262 -5L269 6ZM330 52L327 37L344 30L354 44L349 56L342 57ZM238 348L238 348L255 333L265 336L264 359L258 360ZM319 32L327 14L316 4L304 20L316 33ZM404 29L404 23L387 17L373 21L372 38L377 42L394 41ZM368 173L376 179L377 193L358 198L352 182ZM294 -5L302 -29L320 -23L323 -12L315 1ZM306 260L305 264L282 271L279 267L280 254L292 250ZM268 307L277 322L293 316L295 305L287 298L269 305ZM374 288L377 269L355 264L352 274L363 288ZM320 343L305 341L302 337L302 323L314 317L327 327ZM389 241L400 232L395 219L382 212L369 220L371 227ZM431 201L414 205L408 202L403 191L403 191L424 181ZM425 119L426 113L417 104L402 108L398 114L400 117L419 124ZM414 205L419 225L406 232L400 232L395 219L408 202ZM389 241L389 241L371 227L360 244L360 247L378 250ZM431 201L424 181L427 175L441 178L449 192L442 201L435 203ZM388 313L396 310L407 291L402 283L377 291L380 306ZM418 323L396 310L407 291L421 294L427 301L420 321ZM441 97L424 89L427 74L443 75L445 94Z"/><path fill="#a3a3a3" d="M10 185L25 165L28 166L38 187L23 191ZM14 216L22 211L37 211L49 222L48 224L39 235L32 236L15 221L14 218ZM2 201L14 216L14 218L-10 223L-13 203ZM2 201L9 185L-5 174L-12 178L-17 200L-13 203ZM17 251L36 262L45 252L39 235L32 236ZM-18 153L2 144L6 146L11 154L-5 173ZM98 246L94 246L79 232L80 227L97 219L105 226L106 238ZM-18 153L2 144L-8 125L-10 124L-27 136L-20 153ZM29 133L41 123L42 123L56 141L47 148L32 143ZM27 277L17 276L7 263L13 252L17 251L36 262L36 270ZM-13 257L-25 271L-21 277L-9 283L6 263ZM127 241L106 238L105 226L120 217L126 219L129 241L129 241ZM33 102L26 86L48 71L50 73L51 98ZM134 167L129 178L134 186L152 189L156 172L154 169L134 166ZM136 41L127 60L114 55L112 38L124 33ZM158 156L154 169L156 172L172 174L181 162L173 147ZM233 157L226 162L239 183L254 170L255 164L250 159ZM115 284L137 284L139 288L129 306L113 306L114 285ZM4 49L-10 30L9 17L10 17L23 29L7 48ZM185 123L183 138L206 148L214 134L198 120ZM151 58L164 56L169 38L166 36L145 42ZM170 62L164 56L169 38L180 37L186 44L182 61ZM243 92L230 91L221 105L226 115L241 118L251 108L252 101ZM182 61L186 44L204 47L209 54L193 74L193 74ZM164 322L159 327L145 317L153 295L154 295L166 306ZM225 71L224 76L230 91L243 92L252 76L245 64ZM166 306L154 295L162 287L178 287L183 302ZM237 269L230 249L247 238L251 239L257 248L238 269ZM174 364L186 351L191 352L204 369L192 378L183 377ZM203 330L201 315L212 305L226 322L203 330ZM240 14L239 28L228 35L215 30L226 8L238 11ZM132 -11L115 -9L109 9L128 15L136 -5ZM127 241L117 262L139 269L145 264L129 241ZM268 127L292 125L288 108L281 103L278 103L267 118ZM341 139L345 156L340 163L319 159L320 140L337 136ZM319 70L307 74L306 89L310 96L332 84L330 77ZM281 198L295 195L298 178L297 176L280 175L273 187ZM249 -8L245 -18L236 -20L218 -12L219 2L226 8L238 11ZM196 -15L213 -17L218 -12L219 2L199 9L192 -8ZM288 108L281 103L288 87L306 89L310 96L310 99ZM372 38L354 44L349 56L359 69L379 59L377 42ZM341 14L327 14L316 4L315 1L323 -12L340 -8L343 -4ZM287 298L295 305L315 297L316 296L310 283L288 287ZM310 238L311 255L332 253L333 245L322 231ZM418 41L436 30L429 16L405 22L404 23L404 29ZM408 149L393 157L388 139L397 133L409 140ZM333 253L354 260L355 264L352 274L340 280L330 272ZM441 97L424 89L420 91L417 104L426 113L440 102ZM315 217L322 202L333 203L335 205L337 220L322 228ZM418 41L404 29L394 41L403 60L418 50ZM427 175L423 164L424 161L431 154L450 158L453 167L441 178ZM377 269L379 268L378 250L360 247L354 260L355 264ZM350 345L373 349L374 348L373 330L359 324L349 330ZM391 362L390 373L379 379L379 378L367 368L373 349L374 348L378 348ZM417 104L420 91L404 86L400 88L402 108ZM378 348L374 348L373 330L386 321L395 337ZM392 268L402 281L417 265L416 256L397 257ZM398 338L416 327L423 343L412 355L404 352Z"/><path fill="none" stroke="#b8b8b8" stroke-opacity="0.85" stroke-width="2.2" stroke-linejoin="round" stroke-linecap="round" d="M13 184L25 167L27 168L36 186L23 189L13 184M9 182L10 182L23 166L18 159L10 156M30 167L39 185L42 186L48 185L53 173M59 198L61 209L49 219L39 210M23 213L36 214L46 222L46 224L38 233L31 233L17 222L16 219L17 217M51 222L63 212L69 215L78 227M2 203L12 215L11 217L-8 221L-11 204L2 203M-5 177L-11 181L-15 198L-12 201L0 198L7 186L-5 177M14 214L4 200L10 187L11 187L20 193L20 209M63 249L65 240L49 226L42 236L47 250L59 253L63 249M22 157L32 145L44 149L41 160L29 163L27 163M63 197L65 208L71 210L88 201L79 186L63 197M20 154L12 152L9 145L19 133L27 135M43 251L38 238L32 238L19 251L36 259M25 193L23 209L36 209L40 190L37 189M13 122L-6 126L3 141L6 143M83 185L84 177L102 175L107 183L107 196L96 201M80 176L78 183L62 194L51 186L57 173L65 170L78 173L80 176M4 148L8 154L-4 170L-16 153L1 146L4 148M96 222L103 228L103 237L97 244M90 204L73 213L81 225M-24 137L-19 151L-18 151L-1 143M98 205L98 217L105 224L118 216L109 200L108 200L98 205M17 249L14 250L9 241L15 224L29 236L17 249M46 145L34 141L32 134L41 125M82 254L91 246L79 234L69 241M49 149L46 159L55 169L63 166L61 148M58 141L68 128L71 127L81 134L78 144L65 145M19 115L30 109L38 122L28 131L21 128L17 120M85 257L85 273L87 274L106 262L97 249M116 260L125 243L107 240L100 247L109 260L112 262M2 100L2 97L-7 90L-17 92M116 161L131 167L127 176L111 179M104 163L98 154L85 154L82 171L84 173L101 171M5 243L11 252L6 261L5 261L-10 256M-11 227L-9 236L5 239L12 223L12 220M-6 123L12 119L15 113L4 103M104 135L92 130L95 115L100 113L104 115L112 130L112 131M10 263L15 254L18 254L34 262L34 269L26 275M114 135L105 140L102 150L107 160M-7 282L-3 289L8 289L15 276L7 265L6 266M21 86L25 88L31 101L29 105L18 110L8 100M-10 280L4 264L-13 259M140 141L142 135L135 121L134 121L117 132L117 133L123 142L136 144L140 141M29 279L33 293L39 298L43 298M41 120L34 107L36 103L50 100L56 103L54 114M46 255L58 257L61 275L52 278L39 270L39 263L46 255M56 309L69 300L68 281L62 279L54 283L46 299L56 309M113 283L112 283L95 284L89 276L108 265M126 239L108 237L107 227L120 220L125 221L127 239L127 239L126 239M131 242L131 242L146 238L154 250L147 260M64 323L82 325L83 309L71 305L58 312M97 109L97 95L91 91L75 100L81 108L93 111L97 109M60 103L70 101L71 102L76 110M53 96L58 99L68 97L67 79L51 76L53 96M13 299L13 309L6 313L-7 305L-2 294L8 294L13 299M18 279L11 290L17 296M107 113L122 107L129 109L133 118L116 129M65 148L79 148L81 153M145 233L150 223L140 214L138 214L129 220L130 239M112 183L128 180L132 187L127 195L111 196L111 196L112 183M-8 86L-3 71L-7 64L-15 64L-24 69M64 275L70 277L82 274L81 258L66 253L62 257L64 275M9 317L15 313L25 319L28 328L22 334M139 148L136 165L152 167L155 156L143 145L139 148M86 279L91 286L90 302L85 305L73 300L71 281L84 278M101 109L101 95L112 90L120 104L105 110M49 96L35 99L28 86M171 147L171 145L159 135L147 137L145 143L158 154M132 197L139 209L140 209L151 194L150 191L135 188M-9 308L-12 309L-10 327L4 331L4 331L4 317M116 80L127 75L128 66L125 62L115 58L104 65L116 80M30 298L18 300L17 310L27 315L37 301M133 107L137 116L137 116L155 111L157 99L151 91M89 329L96 332L108 315L108 310M152 170L136 168L135 169L132 177L136 184L150 187L153 172M179 121L165 121L162 132L174 143L181 136L182 124L179 121M143 211L153 221L156 220L169 202L154 195M186 121L183 117L183 103L201 100M90 59L77 57L75 72L89 75L97 65M-16 32L-10 33L1 48L-6 59M176 148L182 160L195 164L205 157L203 148L184 140L176 147M30 317L32 327L38 326L53 314L53 312L43 303L40 303L30 317M156 192L170 198L172 198L177 189L171 177M34 59L44 65L45 71L27 83L23 81M169 245L157 248L149 235L154 226M112 199L128 199L136 211L126 217L121 215M111 304L109 306L94 303L95 287L113 287L111 304M132 64L130 59L137 44L142 43L144 44L149 57M-3 351L-7 353L-10 352L-18 340L-17 335M4 51L-3 61L2 68L16 74L21 60L7 51L4 51M198 168L198 182L206 188L214 188L215 188L217 165M227 92L220 102L209 101L205 97L203 84L223 79L227 92M134 42L126 58L116 53L114 39L123 36L134 42M110 40L112 54L101 62L100 62M119 264L137 270L135 283L116 282M138 119L146 133L158 131M7 335L1 352L18 358L24 350L21 338M149 265L145 266L141 271L139 283L141 286L153 292L153 292L159 285M47 340L41 352L28 349L26 337M175 174L181 164L195 168L193 182L181 187L175 174M209 56L216 59L223 71L222 75L203 80L196 73M194 186L203 192L196 211L188 212L177 200L182 191M172 265L162 268L151 262L158 252L170 249M98 149L101 139L89 134L85 136L82 145M98 353L98 337L113 342L118 349M130 105L123 102L116 88L118 84L128 80L139 90L130 105M88 129L92 115L80 112L73 124M156 168L157 170L171 172L178 162M-4 87L5 94L18 83L15 78L1 73L-4 87M126 33L136 39L141 38M41 375L43 361L40 356L28 354L21 361L22 369M229 163L240 181L252 169L253 165L248 161L235 159L229 163M231 156L225 160L219 161L209 156L208 148L215 137L218 135M16 361L0 355L-4 357L-2 375M183 276L186 275L196 261M136 289L128 303L114 304L116 287L117 286M4 46L-7 31L9 19L9 19L21 30L7 46L4 46M185 137L205 145L211 134M174 202L185 215L183 220L169 228L159 222L172 203L174 202M113 314L113 310L115 308L127 308L135 317L130 324M70 79L72 96L73 97L89 88L87 79L74 76L70 79M207 232L201 236L191 234L187 222L189 216L197 216M157 77L165 73L168 63L163 59L153 60L151 64M107 362L96 357L86 363L84 367L91 377L98 379L105 378L107 374M47 363L59 362L66 370L60 380L50 380L45 376L47 363M153 56L163 54L167 40L164 38L148 43M172 244L170 231L184 223L187 236M106 13L104 16L108 33L112 35L122 31L126 16L126 16L110 12M71 72L67 75L52 72L50 70L49 64L62 51M132 68L131 77L142 87L150 87L154 79L147 66M197 258L200 258L200 240L190 239L180 250L180 250L197 258M210 52L207 46L211 34L215 32L226 37L227 45M40 329L55 316L60 326L58 336M-21 18L-16 27L-10 28L7 17L-1 9M219 210L207 216L199 212L206 193L215 193L220 206M220 57L227 69L243 63L245 57M209 259L203 257L204 240L209 236L217 239L220 247L209 259M178 83L167 78L158 81L155 88M85 20L100 17L104 34L94 38L84 33M184 45L181 58L171 60L167 55L170 40L179 39L184 45M182 36L188 42L203 44L208 32M82 37L73 49L77 54L90 54L93 41L82 37M117 339L123 329L131 328L135 339M63 359L70 367L80 365L81 360L75 348M265 57L269 60L265 77L253 74M156 339L158 342L155 356L148 358L135 354L133 351M67 343L62 338L64 327L82 328M88 333L78 345L85 359L95 352L95 337L95 336M144 314L151 296L139 290L132 305L138 315M156 327L156 336L139 337L134 326L139 320L145 319M208 105L201 120L214 132L217 130L224 115M220 165L218 188L237 183M111 361L120 352L128 353L130 356L126 371M65 126L56 139L56 139L44 124M159 111L161 100L176 99L179 102L179 117L164 117M101 67L113 82L111 86L99 91L94 86L92 78M162 343L178 344L184 351L173 362L166 361L160 357L162 343M242 184L244 187L256 192L264 186L254 172L242 184M193 76L183 83L180 96L182 99L201 96L199 83L193 76M235 142L246 136L252 138M182 330L178 340L162 339L160 336L161 328L166 324L178 324L182 330M-12 -14L2 -15L-1 5L-19 4L-22 -4M189 276L203 285L211 270L207 264L202 262L199 262M92 -8L107 -13L113 -8L108 7L104 9L92 -8M231 94L224 105L228 113L240 116L249 107M286 88L280 100L278 100L270 93L269 81M9 48L24 32L25 32L32 39L33 54M191 349L202 338L201 332L201 332L186 332M188 46L203 49L206 55L193 71L193 71L185 60M164 307L163 320L159 324L147 315L154 297L154 297M172 64L169 74L180 80L191 73L181 63L172 64M265 81L265 92L253 99L246 91L253 79M23 1L12 16L24 27L25 27L35 15M276 103L266 115L254 107L254 102M46 62L37 55L36 39M131 14L131 14L137 -2L147 0L155 14L155 15L145 19M89 -6L102 10L100 13L84 16L78 3L82 -5L88 -7M231 89L242 89L249 77L244 67M169 35L167 34L160 17L160 17M63 46L70 47L79 34L78 27L60 27L57 35L63 46M44 354L47 358L59 357L63 346L58 341M231 228L221 237L224 245L230 247L244 238L235 228L231 228M176 289L181 301L167 304L156 295L163 289M146 384L159 380L162 365L157 360M135 148L123 146L119 158M53 -7L67 -16L77 -6L73 1L60 4M235 267L229 251L223 250L211 262L216 268L225 271L235 267M110 317L99 333L99 334M260 36L264 38L265 54L249 55M201 313L190 308L188 303L203 294M208 219L211 231L218 234M220 132L233 138L244 132L239 120M250 241L254 249L239 266L238 266L233 250L246 240M218 191L237 186L239 189L236 201L224 204L218 191L218 191M53 33L36 36L27 29L38 17L53 18M239 297L249 281L238 271L237 271L227 275L228 292L239 297M247 235L250 236L257 227L254 213L246 213L239 226L247 235M169 307L166 320L180 320L185 309L183 305L182 304M191 376L184 375L176 365L187 353M249 132L254 134L263 132L266 127L265 119L252 110M272 189L278 197L276 207L259 206M302 49L302 50L299 66L290 68M209 365L214 349L205 340L193 353L204 367L208 367L209 365M212 307L223 322L205 328L204 328L203 317L212 307M237 13L238 16L237 26L229 33L217 29M291 20L293 22L290 41M205 287L206 290L213 297L224 293L223 276L214 273L205 287M57 16L60 23L78 24L81 18L74 5L61 8L57 16M53 14L39 13L36 2L47 -7L50 -5L57 6L53 14M281 211L280 209L282 199L294 197L299 201L298 216L296 217L281 211M299 71L304 75L304 87L290 85L287 79L291 72L299 71M255 278L252 278L241 268L256 251L257 251L261 267M131 -9L117 -7L111 8L128 12M215 301L226 297L237 301L230 319L228 320L226 319L215 306M163 35L156 18L147 24M252 158L257 162L272 157L275 152L265 136M172 6L172 -5L168 -11L162 -11L151 -2M142 262L129 243L128 244L120 261M176 8L176 -4L192 -6L196 9L193 14L188 16L176 8M280 232L290 233L294 230L296 221L280 214L275 226L280 232M276 235L271 228L261 230L253 239M278 174L273 161L257 166L257 170L266 184L272 184L278 174M269 77L269 78L283 78L287 70M223 9L218 4L201 10L197 16M25 -3L21 -11L38 -23L44 -9M188 311L198 317L201 328L186 328M303 45L314 33L303 22L296 23L293 41L293 41M237 205L225 208L223 212L231 223M255 206L253 208L246 208L241 203M229 341L227 325L224 324L206 331L207 337L217 345M164 285L163 272L173 269L181 278L176 285M279 155L291 152L298 160L296 174M309 102L291 109L294 124L295 124L313 114M270 125L290 124L286 109L280 105L279 105L269 117M186 301L201 291L200 288L187 280M230 346L236 349L236 349L232 363L212 366L219 348L230 346M276 213L271 223L261 225L257 211L259 209L275 210M270 129L291 127L292 128L294 138L290 147M316 137L299 136L296 127M339 160L322 158L322 141L337 138L340 141L343 155L339 160M249 326L232 323L230 324L232 341M327 78L319 73L309 76L308 88L312 94L329 84L327 78M318 110L331 111L338 91L331 87M10 14L20 -1L17 -9L6 -15L5 -14M328 16L340 16L343 20L342 29L328 34L322 31L328 16M250 322L233 319L240 302M295 178L282 177L276 186L282 195M289 44L274 36L268 38L269 54L273 56L278 55L289 44M314 215L301 216L303 201L316 199M253 283L242 299L257 307L266 305M268 309L275 322L273 329L265 333L256 331L253 324M318 114L317 116L320 136L321 138M342 137L355 132L358 123L355 116M244 50L247 39L239 31M280 236L274 246L281 252L290 249L290 237M362 124L375 127L378 136L368 143L360 134L362 124M221 1L227 6L237 8L246 -7L243 -16M347 92L341 92L335 112L339 116M255 361L239 350L235 366L242 377L243 378M272 31L266 33L263 32L259 19L268 12M138 381L141 381L147 362L133 357L130 373L138 381M320 179L321 161L321 161L338 164L341 177M341 87L347 87L357 77L357 70L348 58M265 265L278 265L278 255M212 -15L216 -11L217 0L200 7L195 -8L198 -13L212 -15M266 338L275 334L281 340L282 355M376 103L383 112L375 123L363 120L359 114L361 109M255 19L259 33L249 36L241 28L242 16M345 176L343 163L347 158L365 157L367 160L366 172L352 179L345 176M317 141L299 140L294 149L303 158L318 157L318 157L318 142L317 141M266 269L277 269L280 272L280 279L266 285L257 280L266 269M376 89L375 99L360 106M267 288L270 303L284 296M290 89L304 91L308 96L308 99M269 364L263 361L258 362L246 379L247 381L256 384L264 381M378 62L385 67L382 83L378 86M299 230L310 235L319 230L320 227L313 219M261 -3L266 6L266 9L256 15M351 45L347 54L342 55L333 51L329 38L344 33M306 48L306 47L316 35L319 35L325 38L328 50L319 54L306 48M400 107L398 90L385 88L381 90M300 181L315 183L315 196M347 30L348 20L365 17L371 23L370 36M390 157L371 157L369 154L371 147M301 177L300 176L302 162L318 161L316 179L315 180L301 177M324 231L333 242L343 233L343 227L336 222M313 2L314 5L303 17L296 18M262 357L257 357L241 348L240 348L254 335L263 338M375 43L371 40L356 46L351 55M319 4L318 1L325 -9L338 -7L341 -3L339 12L327 12L319 4M294 237L294 249L305 258L309 253M339 181L319 183L319 184L319 195L323 199L331 201M321 68L321 58L330 54L340 58L330 75L321 68M317 58L317 69L307 72M319 30L325 15L316 7L307 20L316 30M309 278L308 282L290 285L285 280L285 272L304 266L309 278M401 60L388 63L381 59L379 44L394 43L401 59L401 60M376 23L375 37L379 40L393 39L401 29M399 86L386 84L389 68L402 63L406 71L403 84L399 86M265 -5L270 3L287 -4L274 -18L265 -5M377 177L371 172L371 160L391 161L394 170L394 172L377 177M357 245L346 236L335 245L335 252L335 252M388 136L395 131L398 119L397 116M309 285L291 289L289 297L296 303L312 297L313 296L309 285M278 17L291 16L290 -2L288 -2L272 6L271 9L278 17M356 197L351 184L344 181L342 182L335 201L337 203L355 201L356 197M399 173L399 171L422 166L424 175L422 180L404 188L399 173M374 181L375 192L360 196L354 182L368 175M297 -6L303 -27L318 -21M306 369L306 372L289 374L281 363L285 359L297 359L306 369M343 12L347 16L364 13L365 -2M427 14L406 20L408 -5L419 -3L429 8M363 214L359 203L360 199L375 196L380 200M303 264L284 269L281 266L283 256M399 169L395 159L396 158L408 151M322 234L312 239L313 253L330 251L330 244L322 234M386 14L374 19L368 13L369 -2M406 28L418 39L433 30L427 17L407 23L406 24L406 28M324 354L311 370L311 373L312 374L325 381L330 381M312 276L328 270L331 255L330 254L313 257L309 261L308 264L312 276M359 216L346 223L339 218L337 207L355 204M416 132L417 126L401 119L400 132L409 137M271 307L278 319L291 315L292 306L286 300L271 306M318 298L317 299L316 316L327 324L336 320L336 302M300 355L306 343L318 345M406 147L394 155L390 140M284 335L278 330L279 323L292 319L300 324L300 335L284 335M332 271L334 255L351 261L352 265L350 272M303 342L300 339L285 339M333 356L345 354L351 369L346 379L335 382M367 222L361 219L348 226L348 232L360 242L368 227L367 222M335 297L317 294L313 283L313 279L329 275M411 141L411 148L423 159L429 152L429 144L419 136M435 33L421 42L420 49L429 54L439 51L440 36L435 33M356 266L354 274L363 285L373 286L375 271L356 266M351 298L339 298L339 297L342 282M419 103L426 111L438 101L438 98M441 1L445 -13L444 -19L432 -21M313 320L325 327L318 341L307 339L304 335L304 325L313 320M347 154L343 140L357 136L366 146M339 302L340 321L349 327L357 322L360 312L352 303L339 302M335 218L323 225L317 216L323 204L331 205M416 42L404 31L397 41L404 57L415 49L416 42M405 -5L404 20L403 21L389 15L392 -5L404 -6M395 216L384 211L385 200L401 194L405 203L395 216M400 190L395 175L378 181L379 192M393 220L382 215L372 221L373 226L388 238L398 231M432 156L447 159L450 166L440 176L429 173L426 164M361 249L356 260L357 263L375 268L377 266L376 252M409 200L405 192L405 192L423 183L429 200M402 116L418 122L423 118L423 113L416 106M329 329L322 343L327 349L333 352L344 350L348 344L347 331M366 366L370 350L352 347L348 353L354 366M311 316L313 300L297 307L296 315M391 242L391 241L400 234L405 235L415 252M413 208L417 224L406 230L401 229L398 219L408 205L413 208M376 286L379 289L400 283L399 280L391 270L380 270L379 271L376 286M426 121L440 128L440 132L431 141L421 133L421 126M352 331L352 344L371 347L372 346L371 331L360 327L352 331M365 312L361 323L373 327L384 320L386 314L379 308M381 348L391 359L402 351L397 340L395 339L381 348M386 241L371 229L362 244L363 246M441 199L435 200L432 198L426 183L428 178M364 290L355 300L364 309L378 304L375 292L373 290L364 290M406 60L406 61L410 68L425 71L426 58M405 293L401 286L380 292L382 304L389 310L395 308L405 293M416 207L420 223L430 225M420 89L407 85L410 72L424 75L425 75L422 87M427 275L419 292L409 289L405 283L405 281M430 245L418 251L408 233L420 228M389 321L396 334L399 335L414 327L415 323M391 266L381 266L380 252M419 255L431 250L444 263L444 264L440 270L430 271L420 264L418 257M374 351L375 350L379 351L388 362L388 371L379 376L379 376L370 367L374 351M393 362L392 372L405 377L415 369M419 319L417 320L399 310L409 294M440 104L428 114L428 118M428 299L423 293L431 276L441 274M415 102L418 92L405 88L402 90L403 106L415 102M420 325L419 328L424 341L434 344L443 340M379 346L376 346L375 331L386 323L393 337L379 346M414 258L399 259L394 268L403 278M444 302L428 303L422 320L442 325M419 367L430 368L433 348M441 77L443 92L440 95L426 89L428 76M420 343L411 352L406 350L401 339L415 330L420 343"/><path fill="none" stroke="#5e5e5e" stroke-opacity="0.45" stroke-width="3.6" stroke-linejoin="round" d="M419 -6L432 8M323 -12L315 1M315 1L294 -5M359 78L379 88M359 78L347 89M347 89L359 108M359 108L377 101M379 88L377 101M45 252L60 255M45 252L39 235M60 255L65 250M67 239L65 250M67 239L48 224M48 224L39 235M152 189L134 186M152 189L156 172M154 169L156 172M154 169L134 166M134 186L129 178M129 178L134 167M134 166L134 167M393 157L408 149M393 157L388 139M397 133L388 139M397 133L409 140M409 140L408 149M431 247L417 254M419 225L430 227M419 225L406 232M417 254L406 232M300 68L289 70M300 68L307 74M288 87L306 89M288 87L285 80M307 74L306 89M285 80L289 70M290 -4L291 -4M290 -4L274 -21M291 -4L294 -5M181 162L173 147M181 162L172 174M172 174L156 172M154 169L158 156M173 147L158 156M137 146L134 166M137 146L142 143M158 156L142 143M281 103L288 87M281 103L288 108M306 89L310 96M310 96L310 99M310 99L288 108M340 89L332 113M340 89L332 84M310 96L332 84M332 113L316 112M310 99L316 112M-9 283L6 263M6 263L-13 257M342 57L330 52M342 57L330 77M330 52L319 57M319 57L319 70M330 77L319 70M349 56L354 44M349 56L342 57M327 37L330 52M327 37L344 30M344 30L354 44M359 78L359 69M359 69L349 56M347 89L340 89M332 84L330 77M300 68L304 49M304 49L319 57M307 74L319 70M359 69L379 59M379 59L377 42M354 44L372 38M377 42L372 38M327 14L316 4M327 14L319 32M316 4L304 20M304 20L316 33M316 33L319 32M315 1L316 4M295 20L293 18M295 20L304 20M293 18L291 -4M304 48L304 49M304 48L316 33M327 37L319 32M379 59L387 66M379 88L384 85M387 66L384 85M403 61L408 70M403 61L387 66M408 70L404 86M384 85L400 88M404 86L400 88M377 125L386 112M377 125L380 136M380 136L388 139M386 112L398 114M397 133L400 117M400 117L398 114M377 101L386 112M400 88L402 108M398 114L402 108M420 91L417 104M420 91L404 86M402 108L417 104M48 71L50 73M48 71L26 86M50 73L51 98M26 86L33 102M51 98L33 102M20 157L32 143M20 157L11 154M6 146L11 154M6 146L19 130M32 143L29 133M19 130L29 133M28 166L25 165M28 166L44 160M25 165L20 157M47 148L44 160M47 148L32 143M42 123L41 123M42 123L56 141M41 123L29 133M47 148L56 141M32 236L15 221M32 236L17 251M15 221L6 241M6 241L13 252M17 251L13 252M45 252L36 262M36 262L17 251M39 235L32 236M7 263L13 252M7 263L6 263M-11 238L6 241M137 146L121 143M134 167L116 159M121 143L116 159M395 219L382 212M395 219L400 232M382 212L369 220M369 220L371 227M400 232L389 241M371 227L389 241M316 112L315 114M315 114L294 126M288 108L292 125M292 125L294 126M219 163L226 162M219 163L216 190M239 184L216 190M239 184L239 183M239 183L226 162M395 219L408 202M383 198L382 212M383 198L403 191M403 191L408 202M419 225L414 205M400 232L406 232M408 202L414 205M445 300L427 301M430 274L421 294M427 301L421 294M417 254L416 256M416 256L417 265M417 265L430 274M397 257L389 241M397 257L392 268M379 268L392 268M379 268L378 250M378 250L389 241M416 256L397 257M389 241L389 241M417 265L402 281M402 281L392 268M371 227L360 244M360 247L360 244M360 247L378 250M402 281L402 283M421 294L407 291M407 291L402 283M195 183L205 190M195 183L180 189M205 190L197 213M180 189L174 200M174 200L187 214M197 213L187 214M197 166L207 157M197 166L195 183M219 163L207 157M216 190L216 190M216 190L205 190M181 162L197 166M172 174L180 189M279 58L271 58M279 58L291 43M267 55L266 36M267 55L271 58M291 43L273 33M291 43L291 43M273 33L266 36M304 48L291 43M289 70L279 58M295 20L291 43M293 18L278 20M278 20L273 33M219 2L199 9M219 2L218 -12M199 9L192 -8M195 16L210 31M195 16L199 9M226 8L219 2M226 8L215 30M215 30L210 31M281 103L278 103M278 103L267 118M292 125L268 127M267 118L268 127M233 141L233 157M233 141L247 133M247 133L254 136M254 136L250 159M250 159L233 157M217 133L233 141M217 133L214 134M214 134L206 148M206 148L207 157M226 162L233 157M226 115L241 118M226 115L217 133M241 118L247 133M241 118L251 108M251 108L267 118M268 127L265 134M265 134L254 136M255 164L250 159M255 164L274 159M274 159L278 153M278 153L265 134M255 164L254 170M254 170L239 183M173 147L173 146M206 148L183 138M183 138L173 146M142 143L144 136M144 136L159 133M173 146L159 133M135 119L144 136M135 119L157 112M157 112L163 119M159 133L163 119M181 101L181 119M181 101L202 98M207 103L202 98M207 103L198 120M198 120L185 123M185 123L181 119M221 105L230 91M221 105L207 103M201 82L202 98M201 82L224 76M230 91L224 76M226 115L221 105M214 134L198 120M183 138L185 123M163 119L181 119M4 -17L1 7M1 7L-21 6M9 17L1 7M9 17L-10 30M10 17L23 -2M10 17L23 29M25 29L23 29M25 29L37 14M37 14L33 2M33 2L23 -2M19 -11L23 -2M9 17L10 17M47 -9L33 2M34 38L35 56M34 38L25 29M35 56L24 60M23 29L7 48M24 60L7 48M-10 30L4 49M7 48L4 49M195 16L188 18M186 44L180 37M186 44L204 47M204 47L210 31M188 18L180 37M174 -6L173 8M188 18L173 8M173 8L158 15M158 15L148 -3M161 -14L148 -3M34 38L55 34M35 56L46 64M46 64L62 48M55 34L62 48M7 263L17 276M17 276L8 291M-4 292L8 291M36 262L36 270M17 276L27 277M36 270L27 277M387 17L404 23M387 17L390 -7M405 22L404 23M405 22L406 -7M429 16L405 22M343 -4L341 14M341 14L345 18M345 18L366 14M366 14L367 -4M367 -4L365 -6M327 14L341 14M344 30L345 18M372 38L373 21M373 21L366 14M389 -8L367 -4M373 21L387 17M394 41L404 29M394 41L403 60M404 29L418 41M403 60L418 50M418 50L418 41M377 42L394 41M404 23L404 29M403 61L403 60M436 30L418 41M31 107L41 123M31 107L17 113M19 130L14 120M14 120L17 113M2 144L6 146M2 144L-8 125M14 120L-8 125M58 102L56 115M58 102L70 98M72 99L70 98M72 99L79 110M79 110L71 124M56 115L67 125M71 124L67 125M51 98L58 102M33 102L31 107M42 123L56 115M50 73L68 77M68 77L70 98M56 141L56 141M56 141L67 125M38 187L23 191M38 187L28 166M25 165L10 185M23 191L10 185M42 188L37 211M42 188L38 187M37 211L22 211M23 191L22 211M2 144L-18 153M11 154L-5 173M10 185L9 185M9 185L-5 174M120 217L105 226M120 217L109 198M96 203L109 197M96 203L97 219M97 219L105 226M109 198L109 197M138 212L129 197M138 212L126 219M129 197L109 198M126 219L120 217M129 197L134 186M129 178L110 182M110 182L109 197M79 232L94 246M79 232L67 239M65 250L83 256M83 256L94 246M42 188L49 187M44 160L55 172M49 187L55 172M63 147L56 141M63 147L65 168M55 172L65 168M138 212L140 212M152 189L154 193M140 212L154 193M174 200L172 200M154 193L172 200M135 118L115 132M135 118L131 107M131 107L123 104M123 104L104 113M115 132L104 113M135 119L135 118M121 143L114 133M115 132L114 133M99 93L99 111M99 93L113 87M113 87L123 104M104 113L99 111M99 93L92 88M92 88L72 99M79 110L94 113M94 113L99 111M110 182L103 173M116 159L107 163M103 173L107 163M369 220L361 216M361 216L345 226M360 244L346 233M345 226L346 233M185 221L190 236M185 221L187 214M197 213L206 218M202 239L190 236M202 239L209 233M206 218L209 233M206 218L221 212M219 237L209 233M219 237L231 225M231 225L221 212M216 190L223 206M223 206L221 212M359 108L357 114M332 113L338 118M338 118L357 114M377 125L361 122M361 122L357 114M315 114L318 139M294 126L297 138M318 139L297 138M278 153L291 149M297 138L291 149M380 136L368 146M361 122L357 134M368 146L357 134M283 338L302 337M283 338L284 357M284 357L298 356M298 356L305 341M305 341L302 337M361 216L357 202M345 226L337 220M337 220L335 205M335 205L357 202M383 198L377 193M377 193L358 198M357 202L358 198M392 159L397 171M392 159L393 157M424 161L423 164M424 161L408 149M423 164L397 171M376 179L377 193M376 179L396 173M403 191L403 191M403 191L396 173M441 178L427 175M427 175L424 181M424 181L431 201M424 161L431 154M423 164L427 175M403 191L424 181M396 173L397 171M414 205L431 201M280 254L272 247M280 254L279 267M272 247L258 249M258 249L264 267M264 267L279 267M238 11L249 -8M238 11L240 14M240 14L257 17M257 17L269 9M262 -5L269 6M269 6L269 9M226 8L238 11M228 35L215 30M228 35L239 28M239 28L240 14M249 39L239 28M249 39L261 34M261 34L257 17M278 20L269 9M266 36L261 34M290 -4L269 6M252 101L267 94M252 101L243 92M243 92L252 76M252 76L267 79M267 94L267 79M267 79L267 79M278 103L267 94M251 108L252 101M230 91L243 92M285 80L267 79M271 58L267 79M230 46L217 57M230 46L245 52M245 64L225 71M245 64L247 57M217 57L225 71M247 57L245 52M209 54L217 57M209 54L204 47M228 35L230 46M249 39L245 52M224 76L225 71M252 76L245 64M267 55L247 57M193 74L201 82M193 74L209 54M46 64L48 71M26 86L21 84M24 60L17 76M21 84L17 76M68 77L73 74M92 88L89 78M89 78L73 74M157 112L160 98M181 101L178 97M160 98L178 97M131 107L142 90M142 90L152 89M160 98L152 89M180 37L169 38M169 38L166 36M158 15L157 16M166 36L157 16M113 87L116 83M142 90L128 77M116 83L128 77M8 291L16 298M27 277L32 295M16 298L32 295M153 295L145 317M153 295L139 288M139 288L129 306M129 306L138 318M138 318L145 317M132 326L137 339M132 326L138 318M137 339L158 337M159 327L158 337M159 327L145 317M432 143L419 133M419 133L419 124M443 127L425 119M419 124L425 119M409 140L419 133M400 117L419 124M417 104L426 113M426 113L425 119M14 218L14 216M14 218L-10 223M14 216L2 201M-13 203L2 201M48 224L49 222M49 222L37 211M15 221L14 218M22 211L14 216M9 185L2 201M91 201L80 184M91 201L71 212M80 184L61 196M61 196L63 210M63 210L71 212M96 203L91 201M103 173L82 175M82 175L80 184M80 227L97 219M80 227L71 212M49 187L61 196M65 168L80 172M80 172L82 175M49 222L63 210M79 232L80 227M203 287L214 270M203 287L187 278M187 278L198 260M214 270L208 262M208 262L202 259M202 259L198 260M202 239L202 259M219 237L223 247M223 247L208 262M190 236L178 250M198 260L178 251M178 250L178 251M36 270L53 280M39 300L32 295M39 300L44 300M44 300L53 280M60 255L63 277M63 277L53 280M162 287L178 287M162 287L161 271M161 271L173 267M173 267L183 278M183 278L178 287M187 278L183 278M178 251L173 267M104 138L89 131M104 138L99 151M99 151L84 152M83 134L80 146M83 134L89 131M80 146L84 152M114 133L104 138M94 113L89 131M107 163L99 151M80 172L84 152M63 147L80 146M71 124L83 134M355 264L352 274M355 264L377 269M352 274L363 288M377 269L374 288M363 288L374 288M360 247L354 260M379 268L377 269M354 260L355 264M337 299L338 300M337 299L340 280M340 280L352 274M353 300L338 300M353 300L363 288M377 291L402 283M377 291L374 288M354 260L333 253M340 280L330 272M330 272L333 253M239 184L241 188M223 206L238 203M241 188L238 203M376 179L368 173M358 198L352 182M352 182L368 173M392 159L369 159M368 173L369 159M368 146L366 155M369 159L366 155M319 159L320 140M319 159L340 163M340 163L345 156M345 156L341 139M320 140L337 136M337 136L341 139M343 178L352 182M343 178L340 163M366 155L345 156M357 134L341 139M338 118L337 136M318 139L320 140M291 149L301 160M319 159L319 159M301 160L319 159M280 175L297 176M280 175L274 159M301 160L297 176M316 296L315 297M316 296L310 283M315 297L295 305M310 283L288 287M295 305L287 298M288 287L287 298M337 299L316 296M330 272L311 278M311 278L310 283M314 317L315 297M314 317L302 323M302 323L293 316M293 316L295 305M282 280L282 271M282 280L288 287M282 271L305 264M311 278L305 264M377 291L380 306M353 300L363 311M363 311L380 306M407 291L396 310M396 310L388 313M380 306L388 313M363 311L359 324M386 321L388 313M386 321L373 330M359 324L373 330M314 317L327 327M338 300L338 322M327 327L338 322M302 323L302 337M305 341L320 343M327 327L320 343M359 324L349 330M338 322L349 330M373 330L374 348M373 349L374 348M373 349L350 345M349 330L350 345M373 349L367 368M346 352L350 345M346 352L354 368M278 362L288 376M278 362L271 363M271 363L266 383M332 383L332 354M325 351L332 354M325 351L308 370M346 352L332 354M320 343L325 351M298 356L308 370M284 357L278 362M341 180L333 203M341 180L318 181M318 181L317 182M317 182L317 197M317 197L322 202M322 202L333 203M335 205L333 203M343 178L341 180M319 159L318 181M297 176L298 178M298 178L317 182M301 200L295 195M301 200L317 197M295 195L298 178M416 327L418 323M416 327L423 343M423 343L435 346M420 321L443 327M420 321L418 323M427 301L420 321M396 310L418 323M247 238L251 239M247 238L237 226M251 239L260 227M260 227L255 210M237 226L245 211M255 210L245 211M231 225L237 226M223 247L230 249M230 249L247 238M238 203L245 211M272 247L279 234M258 249L257 248M257 248L251 239M260 227L273 226M279 234L273 226M17 113L5 100M5 100L-12 115M21 84L5 97M5 100L5 97M-5 61L0 70M0 70L-7 88M4 49L-5 61M17 76L0 70M5 97L-7 88M89 78L99 65M116 83L101 65M99 65L101 65M193 74L180 82M193 74L182 61M180 82L167 75M182 61L170 62M170 62L167 75M193 74L193 74M178 97L180 82M186 44L182 61M152 89L156 80M156 80L167 75M164 56L170 62M164 56L169 38M164 56L151 58M166 36L145 42M145 42L151 58M156 80L148 63M151 58L148 63M128 77L131 66M148 63L131 66M114 55L101 65M114 55L127 60M131 66L127 60M16 298L15 311M39 300L28 317M15 311L28 317M44 300L56 311M56 311L56 314M56 314L37 329M37 329L30 329M28 317L30 329M105 226L106 238M94 246L98 246M106 238L98 246M113 306L114 285M113 306L129 306M139 288L137 284M137 284L115 284M114 285L115 284M408 70L426 73M418 50L428 57M426 73L428 57M420 91L424 89M424 89L427 74M426 73L427 74M424 89L441 97M427 74L443 75M426 113L440 102M156 250L171 247M156 250L147 235M171 247L168 230M168 230L157 223M147 235L153 223M153 223L157 223M149 263L161 271M149 263L156 250M178 250L171 247M185 221L168 230M172 200L157 223M126 219L129 241M129 241L147 235M140 212L153 223M56 314L63 325M37 329L49 341M49 341L59 339M63 325L59 339M110 375L109 361M82 367L84 361M84 361L96 354M109 361L96 354M130 351L133 355M130 351L120 350M127 373L133 355M109 361L120 350M56 311L71 302M63 277L69 279M71 302L69 279M114 285L93 285M115 284L112 264M108 263L112 264M108 263L86 276M93 285L86 276M83 256L84 275M69 279L84 275M98 246L108 263M84 275L86 276M283 338L275 331M264 359L271 363M264 359L265 336M265 336L275 331M293 316L277 322M275 331L277 322M255 333L251 325M255 333L238 348M251 325L231 321M231 321L228 323M228 323L231 343M231 343L238 348M187 309L180 323M187 309L185 303M183 302L166 306M183 302L185 303M166 306L164 322M164 322L180 323M203 291L213 300M203 291L185 303M201 315L187 309M201 315L212 305M213 300L212 305M154 295L166 306M154 295L162 287M178 287L183 302M203 291L203 287M154 295L153 295M159 327L164 322M203 330L205 338M203 330L203 330M203 330L184 330M205 338L191 352M184 330L180 342M180 342L186 351M186 351L191 352M226 322L228 323M226 322L203 330M216 347L231 343M216 347L205 338M201 315L203 330M212 305L226 322M180 323L184 330M204 369L191 352M216 347L210 368M160 341L158 337M160 341L180 342M280 254L292 250M279 234L292 235M292 250L292 235M282 271L279 267M305 264L306 260M292 250L306 260M346 233L333 245M333 253L332 253M333 245L332 253M306 260L311 255M332 253L311 255M257 194L257 207M257 194L266 187M257 207L277 209M266 187L273 187M273 187L281 198M281 198L277 209M241 188L257 194M255 210L257 207M254 170L266 187M278 212L273 226M278 212L277 209M280 175L273 187M295 195L281 198M423 343L412 355M412 355L418 369M73 74L75 56M99 65L92 56M92 56L75 56M62 48L70 50M70 50L75 56M117 262L127 241M117 262L139 269M145 264L139 269M145 264L129 241M129 241L127 241M106 238L127 241M112 264L117 262M137 284L139 269M149 263L145 264M129 241L129 241M-12 329L5 333M5 333L5 333M5 333L7 316M7 316L-10 305M15 311L7 316M30 329L23 336M23 336L5 333M-6 355L-3 377M-1 353L-6 355M-1 353L5 333M-1 353L19 360M19 370L19 360M49 341L42 355M23 336L27 351M42 355L27 351M19 360L27 351M75 345L87 331M75 345L65 345M63 325L84 327M65 345L59 339M84 327L87 331M71 302L86 308M84 327L86 308M113 306L110 308M93 285L91 304M110 308L91 304M91 304L86 308M213 300L226 294M231 321L239 300M226 294L239 300M214 270L225 274M226 294L225 274M230 249L237 269M225 274L237 269M257 248L238 269M238 269L237 269M258 360L243 380M258 360L238 348M238 348L233 365M264 359L258 360M265 336L255 333M238 348L238 348M133 355L148 361M142 384L148 361M130 351L137 339M160 341L157 357M157 357L148 361M322 228L322 231M322 228L315 217M322 231L310 238M315 217L299 218M310 238L297 231M297 231L298 220M299 218L298 220M337 220L322 228M333 245L322 231M322 202L315 217M311 255L310 238M301 200L299 218M292 235L297 231M278 212L298 220M404 352L391 362M404 352L398 338M395 337L398 338M395 337L378 348M378 348L391 362M412 355L404 352M390 373L391 362M416 327L398 338M386 321L395 337M374 348L378 348M145 22L142 40M145 22L128 15M128 15L124 33M124 33L136 41M136 41L142 40M157 16L145 22M145 42L142 40M114 55L112 38M127 60L136 41M112 38L124 33M37 14L55 16M51 -8L59 6M59 6L55 16M55 34L58 25M55 16L58 25M42 377L46 361M46 361L61 360M61 360L69 369M42 355L46 361M65 345L61 360M84 361L75 345M97 335L115 340M97 335L96 334M96 334L111 314M115 340L122 327M122 327L111 314M96 354L97 335M120 350L115 340M87 331L96 334M110 308L111 314M132 326L122 327M239 300L252 281M239 300L257 310M257 310L268 307M264 288L255 281M264 288L269 305M269 305L268 307M255 281L252 281M239 300L239 300M238 269L252 281M251 325L257 310M277 322L268 307M264 267L255 281M282 280L264 288M287 298L269 305M160 382L164 363M174 364L164 363M157 357L164 363M186 351L174 364M128 15L109 9M128 15L136 -5M109 9L115 -9M148 -3L136 -5M128 15L128 15M59 6L75 3M80 -7L75 3M109 9L104 12M104 12L89 -9M102 15L84 18M102 15L107 35M95 40L82 34M95 40L107 35M82 34L80 25M80 25L84 18M75 3L84 18M104 12L102 15M112 38L107 35M92 56L95 40M70 50L82 34M58 25L80 25"/><path fill="none" stroke="#5a5a5a" stroke-width="1.4" d="M419 -6L432 8M323 -12L315 1M315 1L294 -5M359 78L379 88M359 78L347 89M347 89L359 108M359 108L377 101M379 88L377 101M45 252L60 255M45 252L39 235M60 255L65 250M67 239L65 250M67 239L48 224M48 224L39 235M152 189L134 186M152 189L156 172M154 169L156 172M154 169L134 166M134 186L129 178M129 178L134 167M134 166L134 167M393 157L408 149M393 157L388 139M397 133L388 139M397 133L409 140M409 140L408 149M431 247L417 254M419 225L430 227M419 225L406 232M417 254L406 232M300 68L289 70M300 68L307 74M288 87L306 89M288 87L285 80M307 74L306 89M285 80L289 70M290 -4L291 -4M290 -4L274 -21M291 -4L294 -5M181 162L173 147M181 162L172 174M172 174L156 172M154 169L158 156M173 147L158 156M137 146L134 166M137 146L142 143M158 156L142 143M281 103L288 87M281 103L288 108M306 89L310 96M310 96L310 99M310 99L288 108M340 89L332 113M340 89L332 84M310 96L332 84M332 113L316 112M310 99L316 112M-9 283L6 263M6 263L-13 257M342 57L330 52M342 57L330 77M330 52L319 57M319 57L319 70M330 77L319 70M349 56L354 44M349 56L342 57M327 37L330 52M327 37L344 30M344 30L354 44M359 78L359 69M359 69L349 56M347 89L340 89M332 84L330 77M300 68L304 49M304 49L319 57M307 74L319 70M359 69L379 59M379 59L377 42M354 44L372 38M377 42L372 38M327 14L316 4M327 14L319 32M316 4L304 20M304 20L316 33M316 33L319 32M315 1L316 4M295 20L293 18M295 20L304 20M293 18L291 -4M304 48L304 49M304 48L316 33M327 37L319 32M379 59L387 66M379 88L384 85M387 66L384 85M403 61L408 70M403 61L387 66M408 70L404 86M384 85L400 88M404 86L400 88M377 125L386 112M377 125L380 136M380 136L388 139M386 112L398 114M397 133L400 117M400 117L398 114M377 101L386 112M400 88L402 108M398 114L402 108M420 91L417 104M420 91L404 86M402 108L417 104M48 71L50 73M48 71L26 86M50 73L51 98M26 86L33 102M51 98L33 102M20 157L32 143M20 157L11 154M6 146L11 154M6 146L19 130M32 143L29 133M19 130L29 133M28 166L25 165M28 166L44 160M25 165L20 157M47 148L44 160M47 148L32 143M42 123L41 123M42 123L56 141M41 123L29 133M47 148L56 141M32 236L15 221M32 236L17 251M15 221L6 241M6 241L13 252M17 251L13 252M45 252L36 262M36 262L17 251M39 235L32 236M7 263L13 252M7 263L6 263M-11 238L6 241M137 146L121 143M134 167L116 159M121 143L116 159M395 219L382 212M395 219L400 232M382 212L369 220M369 220L371 227M400 232L389 241M371 227L389 241M316 112L315 114M315 114L294 126M288 108L292 125M292 125L294 126M219 163L226 162M219 163L216 190M239 184L216 190M239 184L239 183M239 183L226 162M395 219L408 202M383 198L382 212M383 198L403 191M403 191L408 202M419 225L414 205M400 232L406 232M408 202L414 205M445 300L427 301M430 274L421 294M427 301L421 294M417 254L416 256M416 256L417 265M417 265L430 274M397 257L389 241M397 257L392 268M379 268L392 268M379 268L378 250M378 250L389 241M416 256L397 257M389 241L389 241M417 265L402 281M402 281L392 268M371 227L360 244M360 247L360 244M360 247L378 250M402 281L402 283M421 294L407 291M407 291L402 283M195 183L205 190M195 183L180 189M205 190L197 213M180 189L174 200M174 200L187 214M197 213L187 214M197 166L207 157M197 166L195 183M219 163L207 157M216 190L216 190M216 190L205 190M181 162L197 166M172 174L180 189M279 58L271 58M279 58L291 43M267 55L266 36M267 55L271 58M291 43L273 33M291 43L291 43M273 33L266 36M304 48L291 43M289 70L279 58M295 20L291 43M293 18L278 20M278 20L273 33M219 2L199 9M219 2L218 -12M199 9L192 -8M195 16L210 31M195 16L199 9M226 8L219 2M226 8L215 30M215 30L210 31M281 103L278 103M278 103L267 118M292 125L268 127M267 118L268 127M233 141L233 157M233 141L247 133M247 133L254 136M254 136L250 159M250 159L233 157M217 133L233 141M217 133L214 134M214 134L206 148M206 148L207 157M226 162L233 157M226 115L241 118M226 115L217 133M241 118L247 133M241 118L251 108M251 108L267 118M268 127L265 134M265 134L254 136M255 164L250 159M255 164L274 159M274 159L278 153M278 153L265 134M255 164L254 170M254 170L239 183M173 147L173 146M206 148L183 138M183 138L173 146M142 143L144 136M144 136L159 133M173 146L159 133M135 119L144 136M135 119L157 112M157 112L163 119M159 133L163 119M181 101L181 119M181 101L202 98M207 103L202 98M207 103L198 120M198 120L185 123M185 123L181 119M221 105L230 91M221 105L207 103M201 82L202 98M201 82L224 76M230 91L224 76M226 115L221 105M214 134L198 120M183 138L185 123M163 119L181 119M4 -17L1 7M1 7L-21 6M9 17L1 7M9 17L-10 30M10 17L23 -2M10 17L23 29M25 29L23 29M25 29L37 14M37 14L33 2M33 2L23 -2M19 -11L23 -2M9 17L10 17M47 -9L33 2M34 38L35 56M34 38L25 29M35 56L24 60M23 29L7 48M24 60L7 48M-10 30L4 49M7 48L4 49M195 16L188 18M186 44L180 37M186 44L204 47M204 47L210 31M188 18L180 37M174 -6L173 8M188 18L173 8M173 8L158 15M158 15L148 -3M161 -14L148 -3M34 38L55 34M35 56L46 64M46 64L62 48M55 34L62 48M7 263L17 276M17 276L8 291M-4 292L8 291M36 262L36 270M17 276L27 277M36 270L27 277M387 17L404 23M387 17L390 -7M405 22L404 23M405 22L406 -7M429 16L405 22M343 -4L341 14M341 14L345 18M345 18L366 14M366 14L367 -4M367 -4L365 -6M327 14L341 14M344 30L345 18M372 38L373 21M373 21L366 14M389 -8L367 -4M373 21L387 17M394 41L404 29M394 41L403 60M404 29L418 41M403 60L418 50M418 50L418 41M377 42L394 41M404 23L404 29M403 61L403 60M436 30L418 41M31 107L41 123M31 107L17 113M19 130L14 120M14 120L17 113M2 144L6 146M2 144L-8 125M14 120L-8 125M58 102L56 115M58 102L70 98M72 99L70 98M72 99L79 110M79 110L71 124M56 115L67 125M71 124L67 125M51 98L58 102M33 102L31 107M42 123L56 115M50 73L68 77M68 77L70 98M56 141L56 141M56 141L67 125M38 187L23 191M38 187L28 166M25 165L10 185M23 191L10 185M42 188L37 211M42 188L38 187M37 211L22 211M23 191L22 211M2 144L-18 153M11 154L-5 173M10 185L9 185M9 185L-5 174M120 217L105 226M120 217L109 198M96 203L109 197M96 203L97 219M97 219L105 226M109 198L109 197M138 212L129 197M138 212L126 219M129 197L109 198M126 219L120 217M129 197L134 186M129 178L110 182M110 182L109 197M79 232L94 246M79 232L67 239M65 250L83 256M83 256L94 246M42 188L49 187M44 160L55 172M49 187L55 172M63 147L56 141M63 147L65 168M55 172L65 168M138 212L140 212M152 189L154 193M140 212L154 193M174 200L172 200M154 193L172 200M135 118L115 132M135 118L131 107M131 107L123 104M123 104L104 113M115 132L104 113M135 119L135 118M121 143L114 133M115 132L114 133M99 93L99 111M99 93L113 87M113 87L123 104M104 113L99 111M99 93L92 88M92 88L72 99M79 110L94 113M94 113L99 111M110 182L103 173M116 159L107 163M103 173L107 163M369 220L361 216M361 216L345 226M360 244L346 233M345 226L346 233M185 221L190 236M185 221L187 214M197 213L206 218M202 239L190 236M202 239L209 233M206 218L209 233M206 218L221 212M219 237L209 233M219 237L231 225M231 225L221 212M216 190L223 206M223 206L221 212M359 108L357 114M332 113L338 118M338 118L357 114M377 125L361 122M361 122L357 114M315 114L318 139M294 126L297 138M318 139L297 138M278 153L291 149M297 138L291 149M380 136L368 146M361 122L357 134M368 146L357 134M283 338L302 337M283 338L284 357M284 357L298 356M298 356L305 341M305 341L302 337M361 216L357 202M345 226L337 220M337 220L335 205M335 205L357 202M383 198L377 193M377 193L358 198M357 202L358 198M392 159L397 171M392 159L393 157M424 161L423 164M424 161L408 149M423 164L397 171M376 179L377 193M376 179L396 173M403 191L403 191M403 191L396 173M441 178L427 175M427 175L424 181M424 181L431 201M424 161L431 154M423 164L427 175M403 191L424 181M396 173L397 171M414 205L431 201M280 254L272 247M280 254L279 267M272 247L258 249M258 249L264 267M264 267L279 267M238 11L249 -8M238 11L240 14M240 14L257 17M257 17L269 9M262 -5L269 6M269 6L269 9M226 8L238 11M228 35L215 30M228 35L239 28M239 28L240 14M249 39L239 28M249 39L261 34M261 34L257 17M278 20L269 9M266 36L261 34M290 -4L269 6M252 101L267 94M252 101L243 92M243 92L252 76M252 76L267 79M267 94L267 79M267 79L267 79M278 103L267 94M251 108L252 101M230 91L243 92M285 80L267 79M271 58L267 79M230 46L217 57M230 46L245 52M245 64L225 71M245 64L247 57M217 57L225 71M247 57L245 52M209 54L217 57M209 54L204 47M228 35L230 46M249 39L245 52M224 76L225 71M252 76L245 64M267 55L247 57M193 74L201 82M193 74L209 54M46 64L48 71M26 86L21 84M24 60L17 76M21 84L17 76M68 77L73 74M92 88L89 78M89 78L73 74M157 112L160 98M181 101L178 97M160 98L178 97M131 107L142 90M142 90L152 89M160 98L152 89M180 37L169 38M169 38L166 36M158 15L157 16M166 36L157 16M113 87L116 83M142 90L128 77M116 83L128 77M8 291L16 298M27 277L32 295M16 298L32 295M153 295L145 317M153 295L139 288M139 288L129 306M129 306L138 318M138 318L145 317M132 326L137 339M132 326L138 318M137 339L158 337M159 327L158 337M159 327L145 317M432 143L419 133M419 133L419 124M443 127L425 119M419 124L425 119M409 140L419 133M400 117L419 124M417 104L426 113M426 113L425 119M14 218L14 216M14 218L-10 223M14 216L2 201M-13 203L2 201M48 224L49 222M49 222L37 211M15 221L14 218M22 211L14 216M9 185L2 201M91 201L80 184M91 201L71 212M80 184L61 196M61 196L63 210M63 210L71 212M96 203L91 201M103 173L82 175M82 175L80 184M80 227L97 219M80 227L71 212M49 187L61 196M65 168L80 172M80 172L82 175M49 222L63 210M79 232L80 227M203 287L214 270M203 287L187 278M187 278L198 260M214 270L208 262M208 262L202 259M202 259L198 260M202 239L202 259M219 237L223 247M223 247L208 262M190 236L178 250M198 260L178 251M178 250L178 251M36 270L53 280M39 300L32 295M39 300L44 300M44 300L53 280M60 255L63 277M63 277L53 280M162 287L178 287M162 287L161 271M161 271L173 267M173 267L183 278M183 278L178 287M187 278L183 278M178 251L173 267M104 138L89 131M104 138L99 151M99 151L84 152M83 134L80 146M83 134L89 131M80 146L84 152M114 133L104 138M94 113L89 131M107 163L99 151M80 172L84 152M63 147L80 146M71 124L83 134M355 264L352 274M355 264L377 269M352 274L363 288M377 269L374 288M363 288L374 288M360 247L354 260M379 268L377 269M354 260L355 264M337 299L338 300M337 299L340 280M340 280L352 274M353 300L338 300M353 300L363 288M377 291L402 283M377 291L374 288M354 260L333 253M340 280L330 272M330 272L333 253M239 184L241 188M223 206L238 203M241 188L238 203M376 179L368 173M358 198L352 182M352 182L368 173M392 159L369 159M368 173L369 159M368 146L366 155M369 159L366 155M319 159L320 140M319 159L340 163M340 163L345 156M345 156L341 139M320 140L337 136M337 136L341 139M343 178L352 182M343 178L340 163M366 155L345 156M357 134L341 139M338 118L337 136M318 139L320 140M291 149L301 160M319 159L319 159M301 160L319 159M280 175L297 176M280 175L274 159M301 160L297 176M316 296L315 297M316 296L310 283M315 297L295 305M310 283L288 287M295 305L287 298M288 287L287 298M337 299L316 296M330 272L311 278M311 278L310 283M314 317L315 297M314 317L302 323M302 323L293 316M293 316L295 305M282 280L282 271M282 280L288 287M282 271L305 264M311 278L305 264M377 291L380 306M353 300L363 311M363 311L380 306M407 291L396 310M396 310L388 313M380 306L388 313M363 311L359 324M386 321L388 313M386 321L373 330M359 324L373 330M314 317L327 327M338 300L338 322M327 327L338 322M302 323L302 337M305 341L320 343M327 327L320 343M359 324L349 330M338 322L349 330M373 330L374 348M373 349L374 348M373 349L350 345M349 330L350 345M373 349L367 368M346 352L350 345M346 352L354 368M278 362L288 376M278 362L271 363M271 363L266 383M332 383L332 354M325 351L332 354M325 351L308 370M346 352L332 354M320 343L325 351M298 356L308 370M284 357L278 362M341 180L333 203M341 180L318 181M318 181L317 182M317 182L317 197M317 197L322 202M322 202L333 203M335 205L333 203M343 178L341 180M319 159L318 181M297 176L298 178M298 178L317 182M301 200L295 195M301 200L317 197M295 195L298 178M416 327L418 323M416 327L423 343M423 343L435 346M420 321L443 327M420 321L418 323M427 301L420 321M396 310L418 323M247 238L251 239M247 238L237 226M251 239L260 227M260 227L255 210M237 226L245 211M255 210L245 211M231 225L237 226M223 247L230 249M230 249L247 238M238 203L245 211M272 247L279 234M258 249L257 248M257 248L251 239M260 227L273 226M279 234L273 226M17 113L5 100M5 100L-12 115M21 84L5 97M5 100L5 97M-5 61L0 70M0 70L-7 88M4 49L-5 61M17 76L0 70M5 97L-7 88M89 78L99 65M116 83L101 65M99 65L101 65M193 74L180 82M193 74L182 61M180 82L167 75M182 61L170 62M170 62L167 75M193 74L193 74M178 97L180 82M186 44L182 61M152 89L156 80M156 80L167 75M164 56L170 62M164 56L169 38M164 56L151 58M166 36L145 42M145 42L151 58M156 80L148 63M151 58L148 63M128 77L131 66M148 63L131 66M114 55L101 65M114 55L127 60M131 66L127 60M16 298L15 311M39 300L28 317M15 311L28 317M44 300L56 311M56 311L56 314M56 314L37 329M37 329L30 329M28 317L30 329M105 226L106 238M94 246L98 246M106 238L98 246M113 306L114 285M113 306L129 306M139 288L137 284M137 284L115 284M114 285L115 284M408 70L426 73M418 50L428 57M426 73L428 57M420 91L424 89M424 89L427 74M426 73L427 74M424 89L441 97M427 74L443 75M426 113L440 102M156 250L171 247M156 250L147 235M171 247L168 230M168 230L157 223M147 235L153 223M153 223L157 223M149 263L161 271M149 263L156 250M178 250L171 247M185 221L168 230M172 200L157 223M126 219L129 241M129 241L147 235M140 212L153 223M56 314L63 325M37 329L49 341M49 341L59 339M63 325L59 339M110 375L109 361M82 367L84 361M84 361L96 354M109 361L96 354M130 351L133 355M130 351L120 350M127 373L133 355M109 361L120 350M56 311L71 302M63 277L69 279M71 302L69 279M114 285L93 285M115 284L112 264M108 263L112 264M108 263L86 276M93 285L86 276M83 256L84 275M69 279L84 275M98 246L108 263M84 275L86 276M283 338L275 331M264 359L271 363M264 359L265 336M265 336L275 331M293 316L277 322M275 331L277 322M255 333L251 325M255 333L238 348M251 325L231 321M231 321L228 323M228 323L231 343M231 343L238 348M187 309L180 323M187 309L185 303M183 302L166 306M183 302L185 303M166 306L164 322M164 322L180 323M203 291L213 300M203 291L185 303M201 315L187 309M201 315L212 305M213 300L212 305M154 295L166 306M154 295L162 287M178 287L183 302M203 291L203 287M154 295L153 295M159 327L164 322M203 330L205 338M203 330L203 330M203 330L184 330M205 338L191 352M184 330L180 342M180 342L186 351M186 351L191 352M226 322L228 323M226 322L203 330M216 347L231 343M216 347L205 338M201 315L203 330M212 305L226 322M180 323L184 330M204 369L191 352M216 347L210 368M160 341L158 337M160 341L180 342M280 254L292 250M279 234L292 235M292 250L292 235M282 271L279 267M305 264L306 260M292 250L306 260M346 233L333 245M333 253L332 253M333 245L332 253M306 260L311 255M332 253L311 255M257 194L257 207M257 194L266 187M257 207L277 209M266 187L273 187M273 187L281 198M281 198L277 209M241 188L257 194M255 210L257 207M254 170L266 187M278 212L273 226M278 212L277 209M280 175L273 187M295 195L281 198M423 343L412 355M412 355L418 369M73 74L75 56M99 65L92 56M92 56L75 56M62 48L70 50M70 50L75 56M117 262L127 241M117 262L139 269M145 264L139 269M145 264L129 241M129 241L127 241M106 238L127 241M112 264L117 262M137 284L139 269M149 263L145 264M129 241L129 241M-12 329L5 333M5 333L5 333M5 333L7 316M7 316L-10 305M15 311L7 316M30 329L23 336M23 336L5 333M-6 355L-3 377M-1 353L-6 355M-1 353L5 333M-1 353L19 360M19 370L19 360M49 341L42 355M23 336L27 351M42 355L27 351M19 360L27 351M75 345L87 331M75 345L65 345M63 325L84 327M65 345L59 339M84 327L87 331M71 302L86 308M84 327L86 308M113 306L110 308M93 285L91 304M110 308L91 304M91 304L86 308M213 300L226 294M231 321L239 300M226 294L239 300M214 270L225 274M226 294L225 274M230 249L237 269M225 274L237 269M257 248L238 269M238 269L237 269M258 360L243 380M258 360L238 348M238 348L233 365M264 359L258 360M265 336L255 333M238 348L238 348M133 355L148 361M142 384L148 361M130 351L137 339M160 341L157 357M157 357L148 361M322 228L322 231M322 228L315 217M322 231L310 238M315 217L299 218M310 238L297 231M297 231L298 220M299 218L298 220M337 220L322 228M333 245L322 231M322 202L315 217M311 255L310 238M301 200L299 218M292 235L297 231M278 212L298 220M404 352L391 362M404 352L398 338M395 337L398 338M395 337L378 348M378 348L391 362M412 355L404 352M390 373L391 362M416 327L398 338M386 321L395 337M374 348L378 348M145 22L142 40M145 22L128 15M128 15L124 33M124 33L136 41M136 41L142 40M157 16L145 22M145 42L142 40M114 55L112 38M127 60L136 41M112 38L124 33M37 14L55 16M51 -8L59 6M59 6L55 16M55 34L58 25M55 16L58 25M42 377L46 361M46 361L61 360M61 360L69 369M42 355L46 361M65 345L61 360M84 361L75 345M97 335L115 340M97 335L96 334M96 334L111 314M115 340L122 327M122 327L111 314M96 354L97 335M120 350L115 340M87 331L96 334M110 308L111 314M132 326L122 327M239 300L252 281M239 300L257 310M257 310L268 307M264 288L255 281M264 288L269 305M269 305L268 307M255 281L252 281M239 300L239 300M238 269L252 281M251 325L257 310M277 322L268 307M264 267L255 281M282 280L264 288M287 298L269 305M160 382L164 363M174 364L164 363M157 357L164 363M186 351L174 364M128 15L109 9M128 15L136 -5M109 9L115 -9M148 -3L136 -5M128 15L128 15M59 6L75 3M80 -7L75 3M109 9L104 12M104 12L89 -9M102 15L84 18M102 15L107 35M95 40L82 34M95 40L107 35M82 34L80 25M80 25L84 18M75 3L84 18M104 12L102 15M112 38L107 35M92 56L95 40M70 50L82 34M58 25L80 25"/></g></g></svg><div class="lab" style="top:8.0px">PyAA-Br</div><div class="bar" style="left:182.0px;top:167.0px"></div></div>
<div class="sem" style="left:264px;top:202px;width:208px;height:175.5px"><svg width="209" height="176" style="position:absolute;left:0;top:0"><g filter="url(#bl)"><g transform="scale(0.5)"><rect x="-10" y="-10" width="440" height="380" fill="#959595"/><path fill="#8a8a8a" d="M358 5L371 -10L360 -23L352 -25L340 -20L340 -1ZM355 50L340 42L345 27L352 25L363 35ZM393 82L377 76L376 66L397 59L403 65L403 71ZM410 96L395 89L393 82L403 71L419 83L419 89ZM406 -1L416 6L434 -2L428 -15L412 -18L406 -10ZM429 69L419 83L403 71L403 65L418 59ZM436 67L442 55L437 44L420 45L418 59L429 69ZM242 68L262 72L267 47L246 42L246 43L242 66ZM290 22L268 16L268 15L276 1L292 0L301 9L302 14ZM408 119L424 121L431 96L419 89L410 96L406 115ZM441 9L437 0L434 -2L416 6L417 22L417 23L429 22ZM282 68L292 75L294 86L270 92L267 91L265 74ZM278 113L270 92L294 86L299 89L301 106L300 108L279 114ZM242 68L262 72L265 74L267 91L250 98L238 77ZM219 27L207 15L216 -3L219 -3L235 8L234 18ZM388 159L378 160L367 170L377 186L382 187L395 179L393 162ZM300 185L286 191L280 172L284 165L302 174ZM415 219L418 211L420 209L445 211L448 216L440 235L423 235ZM324 231L342 238L348 236L346 219L335 213L325 219ZM394 224L388 207L389 204L402 200L418 211L415 219ZM254 171L253 169L256 156L271 150L284 163L284 165L280 172L265 177ZM346 219L362 208L367 212L371 226L356 240L348 236ZM391 264L399 246L389 233L372 251L388 264ZM180 134L195 127L197 128L202 136L196 154L196 154L180 154L178 152L176 147ZM324 231L342 238L333 254L319 255L318 254L320 233ZM154 129L145 119L130 117L124 126L125 139L132 145L147 144L153 137ZM92 90L114 89L117 79L116 77L102 69L87 80ZM179 209L191 202L193 196L183 183L168 195L175 207ZM247 193L237 204L245 215L255 213L262 200ZM296 249L318 254L320 233L300 230ZM102 69L116 77L124 58L121 48L108 46L99 54ZM219 222L215 240L197 242L189 229L204 214L210 214ZM267 47L262 72L265 74L282 68L283 55L271 45ZM91 27L77 33L73 43L80 53L99 54L108 46L104 35ZM419 263L400 274L391 264L399 246L416 246L420 259ZM56 15L68 19L77 33L73 43L52 46L46 37L46 27ZM132 145L125 166L127 168L154 165L154 164L147 144ZM153 137L176 147L178 152L154 164L147 144ZM156 175L163 194L151 201L136 189ZM273 244L255 236L245 239L251 260L261 261L274 246ZM395 302L411 308L414 314L405 327L387 325L384 311ZM55 121L75 131L77 129L80 118L73 105L59 109ZM92 200L105 191L123 211L110 218L93 208ZM48 202L54 207L65 209L77 192L75 187L60 184ZM380 332L383 347L376 353L364 353L359 340L371 331ZM48 125L55 121L75 131L71 139L48 145ZM37 176L41 201L48 202L60 184L56 178ZM314 314L308 317L303 333L316 348L318 347L329 335L326 323ZM241 336L239 346L250 359L263 350L259 329L258 329L255 328ZM358 377L376 376L378 373L376 353L364 353L357 362ZM160 230L140 235L140 250L147 254L164 250L165 248L165 235ZM190 372L170 374L169 373L165 354L167 352L190 354L194 360ZM286 313L289 311L308 317L303 333L286 337L283 331ZM84 3L82 3L66 -6L67 -19L90 -17L90 -16ZM1 57L0 57L-1 36L2 33L18 34L22 41L21 46ZM17 108L9 98L14 84L28 88L32 100ZM29 145L23 157L7 158L4 154L6 140L21 133ZM222 373L217 383L207 387L192 380L190 372L194 360L199 360ZM19 268L3 276L-13 268L-13 263L8 252L19 267ZM1 307L-22 310L-26 301L-16 288L2 294L2 295ZM215 276L209 272L196 282L195 283L205 296L217 291ZM71 331L72 325L90 315L102 322L102 335L93 343L73 337ZM42 298L33 311L27 309L20 291L22 289L36 288ZM3 311L-7 329L-25 320L-22 310L1 307ZM45 379L43 378L35 366L39 347L43 346L62 356L63 360ZM45 379L63 360L76 369L65 390L51 386ZM16 329L9 336L11 349L15 352L34 344L29 334ZM76 369L92 351L104 364L103 371L86 376Z"/><path fill="#8f8f8f" d="M437 44L440 38L429 22L417 23L416 42L420 45ZM361 106L375 94L374 81L353 84L351 100ZM340 172L329 158L330 150L344 143L352 148L355 169L353 171ZM406 115L389 109L387 100L395 89L410 96ZM364 111L380 116L382 132L370 137L359 125ZM330 150L329 158L313 167L305 151L317 141ZM421 171L438 179L441 188L424 194L414 181L419 172ZM353 171L355 169L367 170L377 186L360 200L354 195ZM325 219L335 213L334 197L327 190L314 197L307 209ZM210 64L195 50L204 38L216 36L221 44L219 58ZM431 158L421 171L438 179L445 168L440 159ZM389 233L394 224L415 219L423 235L416 246L399 246L389 233ZM256 156L271 150L272 144L257 126L244 132L244 143ZM195 50L189 51L180 31L191 22L204 38ZM192 99L208 104L211 114L197 128L195 127L187 113ZM285 134L279 114L278 113L259 123L257 126L272 144ZM162 98L164 100L171 116L169 122L154 129L145 119L154 101ZM154 129L169 122L180 134L176 147L153 137ZM299 229L306 209L307 209L325 219L324 231L320 233L300 230ZM299 229L306 209L291 204L279 216L278 223L279 223ZM180 154L196 154L199 173L183 180L178 174ZM278 223L279 216L264 199L262 200L255 213L261 223ZM139 94L126 105L130 117L145 119L154 101ZM100 113L91 95L92 90L114 89L118 100L100 113ZM291 253L290 265L310 279L317 274L319 255L318 254L296 249ZM255 236L245 239L245 239L240 226L245 215L255 213L261 223ZM105 123L124 126L125 139L101 147L98 137ZM392 289L400 279L415 288L411 308L395 302ZM197 242L189 229L185 227L165 235L165 248L192 252ZM220 221L240 226L245 239L222 247L215 240L219 222ZM447 323L451 316L440 297L439 297L421 314L432 326ZM209 269L192 254L192 252L197 242L215 240L222 247L222 249ZM449 349L449 358L431 366L418 348L430 340ZM227 297L217 291L215 276L239 272L242 282ZM368 298L355 297L344 311L352 319L362 319L371 306ZM154 165L127 168L129 182L135 189L136 189L156 175L157 174ZM228 310L205 311L202 308L205 296L217 291L227 297ZM84 3L82 3L68 19L77 33L91 27L94 11ZM157 174L156 175L163 194L168 195L183 183L183 180L178 174ZM229 311L227 327L215 336L208 332L205 311L228 310ZM123 211L124 211L135 189L129 182L105 190L105 191ZM344 311L344 311L326 323L329 335L343 339L348 337L352 319ZM216 343L199 360L194 360L190 354L191 335L208 332L215 336ZM190 334L186 312L187 310L202 308L205 311L208 332L191 335ZM47 146L49 154L61 163L68 162L75 149L71 139L48 145ZM170 273L169 272L148 280L154 299L162 299L175 289ZM75 243L71 256L49 253L48 252L56 232L70 231ZM51 5L53 5L66 -6L67 -19L63 -24L44 -23L43 -17ZM101 148L115 165L102 178L89 170L93 155ZM16 69L1 57L21 46L30 63ZM38 120L21 128L21 133L29 145L47 146L48 145L48 125ZM14 84L13 83L16 69L30 63L37 65L37 75L28 88ZM127 292L115 279L100 291L113 307L126 296ZM216 343L199 360L222 373L224 372L224 372L225 351ZM171 334L164 325L159 325L144 342L148 352L165 354L167 352ZM28 6L51 5L43 -17L26 -5ZM44 273L20 266L36 247L48 252L49 253L45 273ZM190 334L171 334L164 325L174 313L186 312ZM21 128L14 118L-7 118L-6 132L6 140L21 133ZM224 372L245 387L252 385L257 375L250 360L224 372ZM352 319L348 337L359 340L371 331L362 319ZM97 291L100 291L113 307L112 314L102 322L90 315L88 305ZM143 360L150 378L169 373L165 354L148 352ZM3 276L2 294L-16 288L-19 277L-13 268ZM118 343L118 356L128 364L143 360L148 352L144 342L132 335ZM285 344L270 352L276 370L291 362L292 353ZM71 331L52 331L43 346L62 356L73 337ZM103 371L114 385L119 386L122 383L128 364L118 356L104 364Z"/><path fill="#949494" d="M333 64L332 63L330 46L340 42L355 50L357 59L356 60ZM327 45L330 46L340 42L345 27L331 18L320 24ZM345 27L331 18L334 4L340 -1L358 5L359 9L352 25ZM347 102L328 98L326 88L336 77L352 83L353 84L351 100ZM304 51L306 60L314 68L332 63L330 46L327 45ZM301 9L292 0L295 -22L305 -24L314 -18L315 -4ZM343 131L344 143L352 148L368 142L370 137L359 125ZM285 134L272 144L271 150L284 163L299 150L292 136ZM340 172L327 187L327 190L334 197L354 195L353 171ZM235 8L219 -3L226 -18L241 -19L248 -2L247 -1ZM382 187L389 204L388 207L367 212L362 208L360 200L377 186ZM327 190L314 197L300 185L302 174L312 168L327 187ZM191 82L208 74L210 64L195 50L189 51L183 56L183 75ZM183 56L164 51L170 31L180 31L189 51ZM202 136L218 138L222 133L219 118L211 114L197 128ZM307 209L314 197L300 185L286 191L286 192L291 204L306 209ZM222 92L235 106L233 110L219 118L211 114L208 104ZM160 54L164 51L170 31L160 21L149 27L143 41L153 53ZM244 143L244 132L242 131L222 133L218 138L223 159L225 159ZM161 13L180 5L176 -15L170 -17L153 1ZM232 204L237 204L247 193L244 187L230 183L221 191ZM111 6L119 15L124 16L129 15L143 -3L139 -11L116 -8L112 -4ZM274 246L261 261L267 269L285 269L290 265L291 253ZM87 80L102 69L99 54L80 53L75 74ZM251 260L239 271L222 249L222 247L245 239L245 239ZM100 113L91 95L74 105L73 105L80 118ZM267 269L261 261L251 260L239 271L239 272L242 282L248 286L264 281ZM115 165L125 166L127 168L129 182L105 190L102 178ZM84 3L94 11L111 6L112 -4L90 -16ZM99 236L105 234L116 241L119 250L101 263L98 263L95 241ZM110 218L105 234L116 241L132 228L131 217L124 211L123 211ZM56 15L68 19L82 3L66 -6L53 5ZM184 270L192 254L192 252L165 248L164 250L169 272L170 273ZM281 289L285 269L267 269L264 281L274 290ZM47 146L49 154L35 174L31 173L23 157L29 145ZM31 205L16 183L15 183L3 196L7 210L10 212L29 208ZM344 356L343 339L348 337L359 340L364 353L357 362ZM95 241L98 263L94 264L73 260L71 256L75 243ZM190 334L171 334L167 352L190 354L191 335ZM58 289L72 290L78 283L70 268L54 278ZM19 267L20 266L36 247L29 235L24 235L8 249L8 252ZM8 252L8 249L-5 235L-11 234L-16 240L-14 262L-13 263ZM38 120L36 102L32 100L17 108L14 118L21 128ZM20 291L2 295L1 307L3 311L13 316L27 309ZM17 108L9 98L-3 99L-10 114L-7 118L14 118ZM102 335L118 343L118 356L104 364L92 351L93 343ZM-5 333L-14 349L-13 353L-8 355L11 349L9 336ZM4 154L-13 152L-14 139L-6 132L6 140ZM35 366L17 367L15 352L34 344L39 347ZM17 367L15 352L11 349L-8 355L2 373L11 375ZM122 383L147 385L150 378L143 360L128 364Z"/><path fill="#999999" d="M373 34L378 20L359 9L352 25L363 35ZM379 41L371 61L357 59L355 50L363 35L373 34ZM358 5L371 -10L377 -9L389 13L389 14L378 20L359 9ZM356 60L357 59L371 61L376 66L377 76L374 81L353 84L352 83ZM304 51L327 45L320 24L311 23L301 45L302 50ZM333 64L332 63L314 68L314 82L326 88L336 77ZM379 41L395 43L396 44L397 59L376 66L371 61ZM364 111L380 116L389 109L387 100L375 94L361 106ZM343 131L344 143L330 150L317 141L317 127L325 123L339 126ZM364 111L359 125L343 131L339 126L347 102L351 100L361 106ZM419 89L419 83L429 69L436 67L446 79L437 95L431 96ZM268 16L268 15L247 -1L235 8L234 18L246 30L267 17ZM370 137L382 132L393 137L388 159L378 160L368 142ZM424 121L428 124L444 120L448 104L437 95L431 96ZM340 172L329 158L313 167L312 168L327 187ZM259 123L249 101L250 98L267 91L270 92L278 113ZM244 -25L258 -29L267 -15L248 -2L241 -19ZM424 145L414 147L400 134L408 119L424 121L428 124L429 138ZM190 94L191 82L208 74L222 86L222 92L208 104L192 99ZM216 36L219 27L207 15L192 17L191 22L204 38ZM233 110L242 131L222 133L219 118ZM162 98L164 100L190 94L191 82L183 75L165 77L161 81ZM266 196L286 192L291 204L279 216L264 199ZM265 177L280 172L286 191L286 192L266 196ZM161 13L180 5L188 9L192 17L191 22L180 31L170 31L160 21ZM161 13L153 1L143 -3L129 15L149 27L160 21ZM253 169L230 165L225 159L244 143L256 156ZM143 76L142 67L124 58L116 77L117 79L138 81ZM104 35L108 46L121 48L128 43L124 16L119 15ZM273 244L279 223L299 229L300 230L296 249L291 253L274 246ZM247 193L262 200L264 199L266 196L265 177L254 171L244 187ZM210 214L204 214L191 202L193 196L211 188L215 191ZM48 58L52 46L73 43L80 53L75 74L69 77ZM179 209L185 227L189 229L204 214L191 202ZM339 281L331 297L344 311L344 311L355 297L346 283L340 280ZM281 289L289 295L308 287L310 279L290 265L285 269ZM340 280L346 283L367 275L360 256L343 265ZM211 188L193 196L183 183L183 180L199 173L208 178ZM274 290L264 302L253 300L248 286L264 281ZM136 189L135 189L124 211L131 217L150 212L151 201ZM392 289L374 287L368 298L371 306L384 311L395 302ZM432 326L421 314L414 314L405 327L408 342L416 347L418 348L430 340ZM405 327L408 342L389 349L383 347L380 332L387 325ZM215 276L209 272L209 269L222 249L239 271L239 272ZM28 6L23 16L46 27L56 15L53 5L51 5ZM75 149L93 155L89 170L80 174L68 162ZM286 313L269 310L258 329L259 329L283 331ZM209 272L209 269L192 254L184 270L196 282ZM196 282L184 270L170 273L175 289L183 293L195 283ZM46 27L46 37L22 41L18 34L23 16L23 16ZM53 88L66 81L69 77L48 58L37 65L37 75ZM195 283L183 293L187 310L202 308L205 296ZM100 113L80 118L77 129L98 137L105 123L100 113ZM41 201L31 205L29 208L34 228L49 226L54 207L48 202ZM45 273L49 253L71 256L73 260L70 268L54 278ZM78 283L70 268L73 260L94 264L90 283ZM3 -9L0 -12L-23 -7L-23 2L-5 13L-3 13L2 9ZM127 292L115 279L115 278L127 267L145 277L147 279ZM126 255L127 267L115 278L101 263L119 250ZM146 310L154 299L148 280L147 279L127 292L126 296L142 310ZM333 363L318 347L329 335L343 339L344 356ZM3 170L-15 176L-14 191L3 196L15 183ZM146 310L159 325L144 342L132 335L131 323L142 310ZM58 289L72 290L76 301L65 311L59 309L54 298ZM20 291L2 295L2 294L3 276L19 268L22 289ZM292 353L313 350L309 374L306 377L291 362ZM36 288L22 289L19 268L19 267L20 266L44 273ZM10 224L10 212L7 210L-17 218L-17 219L-11 234L-5 235ZM35 174L37 176L56 178L61 163L49 154ZM93 208L85 219L99 236L105 234L110 218ZM4 154L-13 152L-19 159L-17 173L-15 176L3 170L7 158ZM-1 36L2 33L-3 13L-5 13L-21 26L-22 35L-22 36ZM54 298L59 309L46 320L38 318L33 311L42 298ZM102 322L112 314L131 323L132 335L118 343L102 335ZM76 301L65 311L72 325L90 315L88 305ZM76 369L76 369L92 351L93 343L73 337L62 356L63 360Z"/><path fill="#9e9e9e" d="M311 23L302 14L301 9L315 -4L334 4L331 18L320 24ZM334 4L315 -4L314 -18L331 -25L340 -20L340 -1ZM418 59L403 65L397 59L396 44L416 42L420 45ZM375 94L374 81L377 76L393 82L395 89L387 100ZM397 23L417 22L416 6L406 -1L389 13L389 14ZM328 98L326 101L301 106L299 89L314 82L326 88ZM301 45L288 34L290 22L302 14L311 23ZM325 123L326 101L301 106L300 108L307 123L317 127ZM268 15L247 -1L248 -2L267 -15L270 -14L276 1ZM306 60L292 75L294 86L299 89L314 82L314 68ZM408 119L400 134L393 137L382 132L380 116L389 109L406 115ZM419 172L414 181L406 184L395 179L393 162L408 160ZM216 36L219 27L234 18L246 30L246 42L246 43L221 44ZM210 64L208 74L222 86L238 77L242 68L242 66L219 58ZM180 5L188 9L203 -9L197 -20L188 -22L176 -15ZM207 15L216 -3L203 -9L188 9L192 17ZM259 123L249 101L235 106L233 110L242 131L244 132L257 126ZM190 94L164 100L171 116L187 113L192 99ZM431 158L424 145L429 138L446 143L448 148L440 159ZM143 76L142 67L153 53L160 54L165 77L161 81ZM143 76L161 81L162 98L154 101L139 94L138 81ZM389 233L371 226L356 240L362 251L372 251L389 233ZM143 -3L139 -11L140 -19L162 -25L170 -17L153 1ZM244 187L230 183L230 165L253 169L254 171ZM389 233L371 226L367 212L388 207L394 224ZM333 254L343 265L360 256L362 251L356 240L348 236L342 238ZM420 259L416 246L423 235L440 235L449 247L443 259ZM187 113L195 127L180 134L169 122L171 116ZM94 11L91 27L104 35L119 15L111 6ZM149 27L143 41L128 43L124 16L129 15ZM392 289L400 279L400 274L391 264L388 264L370 277L374 287ZM319 255L317 274L339 281L340 280L343 265L333 254ZM208 178L199 173L196 154L196 154L223 159ZM388 264L372 251L362 251L360 256L367 275L370 277ZM229 311L244 312L253 300L248 286L242 282L227 297L228 310ZM389 349L399 371L401 372L403 372L416 347L408 342ZM92 200L77 192L65 209L74 221L85 219L93 208ZM49 98L53 88L66 81L74 105L73 105L59 109ZM244 312L255 328L258 329L269 310L264 302L253 300ZM160 230L140 235L132 228L131 217L150 212L158 220ZM140 235L140 250L126 255L119 250L116 241L132 228ZM429 372L431 366L418 348L416 347L403 372L420 377ZM179 209L185 227L165 235L160 230L158 220L175 207ZM175 289L162 299L174 313L186 312L187 310L183 293ZM285 344L286 337L303 333L316 348L313 350L292 353ZM283 331L286 337L285 344L270 352L263 350L259 329ZM383 347L376 353L378 373L399 371L389 349ZM-16 59L-5 60L0 57L-1 36L-22 36L-24 50ZM7 210L-17 218L-17 194L-14 191L3 196ZM241 336L239 346L225 351L216 343L215 336L227 327ZM335 375L357 378L358 377L357 362L344 356L333 363L332 370ZM38 120L36 102L49 98L59 109L55 121L48 125ZM142 310L131 323L112 314L113 307L126 296ZM291 362L306 377L306 377L298 386L280 382L275 374L276 370ZM16 69L13 83L-2 79L-5 60L0 57L1 57ZM9 98L-3 99L-9 86L-2 79L13 83L14 84ZM90 283L94 264L98 263L101 263L115 278L115 279L100 291L97 291ZM72 290L76 301L88 305L97 291L90 283L78 283ZM71 331L72 325L65 311L59 309L46 320L52 331ZM52 331L46 320L38 318L29 334L34 344L39 347L43 346Z"/><path fill="#a3a3a3" d="M379 41L395 43L397 23L389 14L378 20L373 34ZM416 42L417 23L417 22L397 23L395 43L396 44ZM384 -15L406 -10L406 -1L389 13L377 -9ZM333 64L356 60L352 83L336 77ZM347 102L328 98L326 101L325 123L339 126ZM302 50L283 55L271 45L273 42L288 34L301 45ZM276 1L270 -14L287 -26L295 -22L292 0ZM304 51L306 60L292 75L282 68L283 55L302 50ZM267 17L246 30L246 42L267 47L271 45L273 42ZM288 34L273 42L267 17L268 16L290 22ZM408 160L393 162L388 159L393 137L400 134L414 147ZM292 136L307 123L317 127L317 141L305 151L299 150ZM285 134L279 114L300 108L307 123L292 136ZM352 148L355 169L367 170L378 160L368 142ZM431 158L421 171L419 172L408 160L414 147L424 145ZM219 58L221 44L246 43L242 66ZM299 150L305 151L313 167L312 168L302 174L284 165L284 163ZM222 86L222 92L235 106L249 101L250 98L238 77ZM414 181L406 184L402 200L418 211L420 209L424 194ZM382 187L389 204L402 200L406 184L395 179ZM441 188L447 192L445 211L420 209L424 194ZM354 195L360 200L362 208L346 219L335 213L334 197ZM160 54L164 51L183 56L183 75L165 77ZM221 191L230 183L230 165L225 159L223 159L223 159L208 178L211 188L215 191ZM223 159L218 138L202 136L196 154L223 159ZM154 165L157 174L178 174L180 154L178 152L154 164ZM153 53L143 41L128 43L121 48L124 58L142 67ZM273 244L255 236L261 223L278 223L279 223ZM419 263L400 274L400 279L415 288L429 284L429 282ZM419 263L429 282L445 268L443 259L420 259ZM138 81L117 79L114 89L118 100L126 105L139 94ZM220 221L240 226L245 215L237 204L232 204ZM429 284L439 297L421 314L414 314L411 308L415 288ZM100 113L118 100L126 105L130 117L124 126L105 123ZM101 148L115 165L125 166L132 145L125 139L101 147ZM308 287L317 301L331 297L339 281L317 274L310 279ZM220 221L232 204L221 191L215 191L210 214L219 222ZM74 105L91 95L92 90L87 80L75 74L69 77L66 81ZM71 139L75 149L93 155L101 148L101 147L98 137L77 129L75 131ZM80 174L89 170L102 178L105 190L105 191L92 200L77 192L75 187ZM368 298L355 297L346 283L367 275L370 277L374 287ZM308 287L317 301L314 314L308 317L289 311L289 295ZM281 289L289 295L289 311L286 313L269 310L264 302L274 290ZM30 63L37 65L48 58L52 46L46 37L22 41L21 46ZM317 301L331 297L344 311L326 323L314 314ZM384 311L387 325L380 332L371 331L362 319L371 306ZM163 194L168 195L175 207L158 220L150 212L151 201ZM61 163L68 162L80 174L75 187L60 184L56 178ZM35 174L37 176L41 201L31 205L16 183L31 173ZM74 221L70 231L75 243L95 241L99 236L85 219ZM229 311L227 327L241 336L255 328L244 312ZM225 351L224 372L250 360L250 359L239 346ZM74 221L70 231L56 232L49 226L54 207L65 209ZM48 252L56 232L49 226L34 228L29 235L36 247ZM148 280L169 272L164 250L147 254L145 277L147 279ZM28 6L23 16L23 16L2 9L3 -9L15 -12L26 -5ZM276 370L275 374L257 375L250 360L250 359L263 350L270 352ZM36 102L32 100L28 88L37 75L53 88L49 98ZM18 34L23 16L2 9L-3 13L2 33ZM-26 76L-23 85L-9 86L-2 79L-5 60L-16 59ZM58 289L54 278L45 273L44 273L36 288L42 298L54 298ZM332 370L309 374L313 350L316 348L318 347L333 363ZM10 224L10 212L29 208L34 228L29 235L24 235ZM10 224L-5 235L8 249L24 235ZM146 310L159 325L164 325L174 313L162 299L154 299ZM31 173L16 183L15 183L3 170L7 158L23 157ZM13 316L3 311L-7 329L-5 333L9 336L16 329ZM27 309L13 316L16 329L29 334L38 318L33 311ZM140 250L147 254L145 277L127 267L126 255ZM-22 381L-13 383L2 373L-8 355L-13 353L-26 367L-24 379Z"/><path fill="none" stroke="#b8b8b8" stroke-opacity="0.85" stroke-width="2.2" stroke-linejoin="round" stroke-linecap="round" d="M379 22L375 33L380 39L394 41M371 32L375 21L360 12M363 38L371 36L377 42L370 59L359 56M399 25L397 41L398 42L415 40M387 12L387 13L377 18L361 9L360 5L372 -7L377 -7M419 25L419 40L421 43L435 43L437 38L429 25L419 25M340 44L353 51L355 58L354 59L335 62L334 61L332 47L340 44M330 44L338 40L342 28L331 20L322 26L328 42L330 44M341 1L356 6L356 10L351 23L345 24L333 17L336 5M331 5L328 17L319 22L312 21L304 14M358 62L359 61L370 63L374 67L375 75L372 79M352 -23L343 -18L342 -3L357 2L369 -10M338 -18L338 -3L333 1L318 -5L317 -17L330 -22M346 99L331 97L328 89L337 79L350 84L351 85M404 62L399 57L399 46L415 44L418 46L415 57L404 62M324 44L319 27L311 26L304 44L304 48M316 81L326 86L333 76L331 66M342 41L346 29L352 28M385 -13L404 -9L404 -2L390 10L379 -9M335 65L354 61L351 80M325 47L306 52L308 59L315 65L330 62L328 48M328 103L326 121L338 124L345 103L329 101L328 103M379 75L379 67L395 61L400 66L401 71M305 -21L312 -16L313 -5L302 6L294 -2M409 93L397 88L396 83L404 74L416 84L417 88M378 79L391 84L392 89L386 97L377 93L376 82L378 79M392 13L392 14L398 20L415 21L413 7L406 1L392 13M372 94L372 83L355 86L353 99L362 103L372 94M394 46L394 57L378 64L373 60L380 44M426 -13L413 -16L408 -9L409 -2L416 3L431 -3M326 98L324 100L303 104L301 90L314 85L323 90M406 71L405 66L417 61L427 69L418 81M301 43L290 33L292 24L301 17M284 52L274 45L275 42L288 37L299 45M364 106L366 110L379 114L386 108L384 101M435 65L439 55L436 47L422 47L420 58L429 66L435 65M341 132L342 141L331 148L319 140L319 129L326 125L337 128M243 65L244 66L261 70L265 48L247 45L247 45M341 124L348 104L351 103L359 108L361 112M323 122L324 103L303 107L302 110L309 121L316 125L323 122M435 70L444 79L436 93L431 93M287 -24L293 -20L290 -2L278 -1L272 -13M291 2L299 9L299 14L289 20L270 15L270 14L278 3L291 2M284 67L285 56L301 52L302 53L303 60M412 98L408 113L410 117L423 118M332 158L333 152L344 145L350 150L353 167L351 169L341 169M419 20L419 21L429 19L438 10M281 70L289 76L291 85L271 90L269 89M408 97L404 112L391 107L389 100L395 92L408 97M266 -12L268 -12L274 0L267 12L250 -1M269 43L270 41L267 19L248 31L249 42M274 39L269 19L270 18L287 23L286 33M300 87L312 81L312 69L305 63L294 75M248 2L237 9L237 18L247 28M393 134L384 130L382 117L390 111L404 116L406 119L399 132L393 134M371 143L372 138L381 134L391 138L387 156L378 157L371 143M437 98L432 98L426 119L429 121M315 169L327 185L338 172L328 160L315 168M406 158L394 159L390 157L394 139M297 107L280 112L280 111L272 93L293 88L297 91L298 105M408 162L416 172L412 180L406 182M300 147L294 137L307 126L315 129L315 140L305 148M244 42L223 42L219 36L221 28L234 21L243 31L244 41L244 42M292 134L286 132L281 115L299 111L304 123M353 146L366 141L368 137L359 127L346 132L346 142L353 146M276 112L259 120L251 101L253 99L266 93L268 94L276 112M248 -4L244 -19L246 -23L257 -27L264 -15M284 160L296 149L290 138L285 137M251 96L240 78L244 70L261 74L262 75M365 114L378 118L380 130L371 134L362 125M357 167L367 167L375 159M411 160L415 149L423 148L428 159L421 169M335 195L351 194L351 173L340 175L330 187L329 189M223 45L244 44L240 64L221 57L223 45M414 144L403 134L410 121L423 123M232 8L232 17L220 24L210 14L217 0L220 -1L232 8M245 -2L235 5L222 -4L228 -16M310 166L310 167L302 172L286 165L286 163L299 152M235 103L246 100L248 98L238 80L224 88L224 92L235 103M382 185L392 178L391 164L387 161L379 162L370 170M405 199L417 209L419 207L421 195L414 184L407 186L405 199M401 198L403 186L395 182L384 188L390 202L401 198M219 92L208 102L194 97L192 93L193 83L207 77L219 87M217 26L207 18L195 19L194 22L204 35L214 34M328 151L327 157L314 165L307 151L317 143L328 151M436 180L439 187L424 192L417 181M211 74L222 84L236 76L240 69L239 67L220 60M189 -20L178 -14L181 3L189 6L200 -9L196 -18M445 194L443 209L422 208L426 195L440 191M355 173L356 171L366 172L374 185M310 208L325 217L333 211L332 198L326 193L316 198M285 168L300 175L298 183M385 206L369 210L364 207L363 200M445 216L439 233L424 233L418 219L420 213L422 211L443 212M191 8L194 15L206 13M197 50L205 40L215 39L218 45L217 56M325 187L325 189L314 194L303 184M360 208L347 217L338 212L336 198M185 58L185 73L191 80L206 73L208 64L194 53M344 221L336 216L327 221L326 230M224 131L221 119L232 113L240 130L224 131M248 103L236 108L235 112L243 129L245 130L255 125L256 122L248 103M167 50L171 33L179 33L187 49L182 54M395 222L390 208L391 205L402 202L415 211L413 218M186 111L190 100L188 96L166 100L172 114L186 111M445 148L439 157L432 156L426 146L431 140M271 152L281 163L281 165L278 170L265 174L256 170L256 168M163 82L163 97L165 98L187 93L188 83L181 77L167 79M349 220L361 211L366 214L368 226L356 238L350 234L349 220M217 136L220 132L217 120L211 117L199 128L204 134L217 136M305 207L306 207L311 197L300 187M163 75L160 79L145 75L145 67L153 56M438 177L443 167L439 161L432 161M391 234L391 233L396 226L414 221L420 235L414 244L400 243L391 234M213 113L211 105L222 95L232 106M160 97L154 99L141 93L141 82L144 78L159 82L160 97M284 194L288 203L278 214M284 190L284 191L268 194L267 178M163 49L168 32L159 24L150 29L146 41M226 157L242 143L242 134L240 133L224 135L221 139L224 156L226 157M270 143L257 129L247 134L247 143L257 154L269 149L270 143M371 229L358 240L364 249L372 248L386 234L386 234M389 236L375 251L388 261L390 262M167 -16L153 -1L145 -5L142 -11L143 -17M232 167L251 170L252 172M166 74L162 55L166 54L180 58M373 225L369 213L387 210L391 223M335 253L344 263L358 255L359 251L354 242M162 11L178 3L175 -13M187 11L190 18L189 21L179 28L172 28L162 21L163 14M201 38L194 48L190 48L182 32L191 24L201 38M196 125L190 113L193 101L207 106L209 114L197 125L196 125M195 152L194 152L182 152L180 150L178 146L182 136L194 130M324 234L340 239L331 252L321 253L320 252L322 236M158 13L152 4L144 0L132 15L149 24L158 19L158 13M260 126L272 141L283 133L277 116L277 116M223 161L222 161L210 177L213 186L216 188L221 188L228 181L228 167L224 161L223 161M148 118L156 104L161 101L163 102M174 145L155 137L156 130L168 124M221 157L221 157L217 140L204 138L199 153M254 157L251 167L232 164L227 159M140 68L125 61L119 76L119 78L137 79L141 76M447 247L441 257L422 257L418 246L424 237L439 237M321 230L319 231L302 229L302 228L307 212L308 211M281 221L281 222L298 227L304 210L290 206M176 154L157 164L156 165L159 173L176 172L178 156L176 154M141 43L129 45L124 49L126 57M182 157L194 156L197 172M120 46L126 41L123 19L119 17L107 35L110 44L120 46M133 143L146 142L151 136L151 129L144 121L131 119L127 127L128 138L133 143M295 247L290 251L276 245L276 243L280 225L297 231M262 197L264 194L263 179L254 173L247 187L249 192M242 188L231 185L223 191L233 202M112 87L115 79L114 78L102 72L90 80M114 5L120 12L124 14L128 12L140 -2L137 -9L117 -6L114 -3L114 5M264 202L263 202L257 213L262 221M170 196L176 205L180 207L189 201L190 196M257 235L263 225L276 224M246 212L253 211L260 201L247 196L239 205L246 212M213 193L209 212L204 212L194 201M402 275L402 278L415 285L426 283M301 232L299 248L317 252L318 235M144 117L152 102L139 97L129 106L132 115M116 74L121 58L119 50L109 48M171 122L173 118L186 115L193 126M110 8L96 13L93 26M192 229L204 217L209 217L217 222L213 238M281 56L271 47L268 49L264 70L266 72L280 66L281 56M91 30L79 34L76 43L82 51L98 51L106 45L102 36M422 260L421 264L429 279L442 268M136 83L119 81L116 90L119 98L126 103M146 27L142 39L129 40L126 18L130 17L146 27M414 248L417 259L416 262L401 272L393 263L401 248M236 207L233 207L222 220L239 224L243 215M100 110L93 96L94 92L112 91M376 285L391 286L397 278L397 275L390 267L388 267L373 277L376 285M339 278L341 266L333 256L321 257L320 273L338 278L339 278M309 277L315 272L317 256L316 256L298 251L293 255L292 265M246 217L254 216L258 224L253 234L246 237L246 237M103 145L100 136L106 125M69 74L50 59L54 48L72 45L78 54L74 72M428 286L436 298L421 312L416 311L413 307L416 290L428 286M186 225L189 226L201 214L191 204L181 211L186 225M394 290L400 281L413 289L409 306L396 300M275 248L263 261L269 267L283 267L287 264L288 255L275 248M103 113L117 103L124 107L128 116L123 124L107 122M53 44L48 36L48 28L56 17L67 21L74 33L71 41M146 147L133 147L128 165L129 167L151 164L151 163L146 147M344 309L352 297L345 285L341 283L340 283L334 296M167 247L190 250L194 242L188 231L184 230M223 245L217 238L221 224L221 223L237 227L243 238L223 245M103 149L116 162L124 164L129 146M155 161L150 145L155 139L173 147L175 152M156 178L161 193L152 198L139 189L156 178M329 295L337 281L318 276L312 281L310 287L317 298L329 295M198 156L198 156L220 159L207 175L200 171L198 156M306 286L307 280L290 268L287 272M347 280L364 275L359 258L345 267L342 279L347 280M446 321L448 315L440 300L439 300L424 314L433 324L446 321M248 240L253 258L260 258L272 246L271 245M81 55L77 73L87 77L99 69L97 56M370 274L385 264L372 253L363 253M216 193L212 213L219 219L220 219M244 241L244 241L249 258L239 269L225 249L225 248L244 241M89 97L76 105L76 106M186 183L186 181L198 176L205 179L209 187L193 193M195 253L195 252L199 244L213 242L220 248M250 287L263 283L271 290L264 300M431 342L446 349L447 357L432 364L421 348L431 342M71 78L68 82L74 102L89 93L90 89M148 211L149 201L137 192L136 192L127 210M241 272L244 280L248 283L262 279L264 269L259 263M77 148L91 152L98 147L99 146L95 138L79 131L76 133M124 168L125 170L127 181L107 188M392 301L390 290L375 289L371 298L373 304M228 294L219 289L218 277L237 274L239 283M415 316L407 328L410 340L416 345L418 345L427 338L429 327L421 317L415 316M80 191L78 187L82 176L89 173L100 179L103 189L103 190L92 197M353 317L362 316L369 307L366 300L355 300L347 311L353 317M396 304L408 309L412 314L404 324L389 323L386 312L396 304M76 127L78 118L73 108L61 110L57 120L74 129M369 279L371 287L367 296L356 295L349 283L366 278L369 279M243 310L250 300L246 288L242 285L230 297L230 308L231 309M95 201L105 193L121 210L109 216L95 207M403 328L406 341L390 347L385 345L382 333L388 327M312 312L307 314L291 310L291 297L307 290M287 309L285 311L271 309L267 302L275 292L281 291M414 349L407 344L391 351L400 369M222 252L236 271L236 271L217 274M90 208L90 201L78 194L68 209L75 219L84 216M24 42L23 46L32 60L37 63M319 303L330 299L341 311L326 321M382 313L384 324L379 330L372 328L365 319L372 309L382 313M136 187L138 187L154 176L154 175L152 167L130 170L131 181L136 187M166 197L172 207L159 217L152 211M204 307L207 298L216 293L225 298L226 309L207 309L204 307M71 103L71 104L59 106L51 98L54 90L65 84L71 103M92 12L84 6L82 6L71 18M78 174L74 185L61 182L58 178L62 165L67 165L78 174M31 7L26 15L45 25L53 14M56 206L65 206L75 193L73 189L60 187L51 201M159 176L159 177L165 192L168 193M34 176L36 178L39 199L31 203L19 184M95 9L109 5L110 -3L92 -13M76 223L72 231L77 241L93 239L96 235M114 242L117 250L102 261L99 260M208 313L227 312L227 313L225 326L215 333L210 330M375 351L366 351L361 341L371 333L378 335M90 156L87 168L81 172L70 162L76 152M124 208L133 190L127 184L108 191M281 329L284 314L269 313L261 327L261 328L281 329M72 131L69 138L50 143M129 227L129 218L124 213L123 213L112 219M343 337L346 335L350 320L344 314M57 185L54 181L39 178L42 199L48 200L57 185M186 270L196 280L207 271M193 282L184 272L172 274L177 288L183 290L193 282L193 282M58 13L68 16L79 4L66 -4L55 6L58 13M263 305L254 302L247 312L255 325M44 36L23 38L20 33L24 18L25 18L43 27L44 36M243 314L231 313L229 326L241 334M149 215L156 221L157 229L141 233L134 227L133 218M121 249L119 241L131 230L138 236M324 325L314 317L309 319L305 333M406 371L420 375L427 370L429 366L418 350L416 350M40 75L52 85L64 80L66 76L48 61L39 67L40 75M171 271L182 268L190 255L190 253L167 250L166 251L170 270L171 271M257 331L254 330L244 337L242 345L250 356L261 348M283 271L268 271L266 280M195 285L185 294L189 308L200 306M162 228L161 220L174 210L178 211M247 360L248 358L239 349L227 352M193 337L207 334L213 337L213 344L199 357L196 358L192 353M71 221L68 229L57 230L51 225M200 310L204 313L206 330L192 332L191 331M66 160L73 150L69 141L51 146M83 119L80 128L97 135L102 123M184 310L185 308L181 295L175 292L165 300L175 311L184 310M155 297L162 297L172 289L169 275L167 275M47 228L36 230L31 236L37 245L47 250M33 207L32 208L35 225L48 224L51 208L47 204L41 204M365 356L359 362L360 375L374 374L376 371L375 356L365 356M302 336L313 347L311 349L294 351L288 344L289 338M68 234L73 243L70 254L51 251L50 251L57 235M64 -7L64 -17L61 -22L46 -21L45 -16L52 2L53 3M162 248L162 247L163 236L159 232M163 252L148 256L147 275L148 277L149 278L166 272M69 258L70 261L68 267L55 275L47 272L50 255M170 371L167 355L169 354L188 356L192 360M102 175L91 169L94 157M287 335L285 329L288 315L289 314L305 318M271 349L265 348L261 331L281 333M26 157L30 148L46 148L47 155L35 171M22 14L4 8L5 -7L16 -9L24 -4L26 5M397 369L388 352L384 350L378 355L379 371M269 354L274 369L273 372L258 373L252 361L253 359L263 352L269 354M47 97L37 100L33 98L30 88L38 78M88 -14L83 0L81 1L69 -7L69 -17L88 -15M79 281L73 268L74 262L92 266L88 281M3 57L20 48L28 62L16 66M2 55L1 38L3 35L16 36L19 41M28 204L16 186L15 186L5 196L9 208L11 209L27 206L28 204M-2 56L-3 38L-20 38L-21 50L-15 57L-6 58M-21 -6L-20 2L-5 11L-4 11L0 8M3 12L-1 15L3 31L16 32L20 17L3 12M144 279L127 289L118 279L118 278L127 270L143 277L144 279M-21 83L-10 84L-4 78L-6 62L-16 62M52 295L56 288L52 280L45 276L44 276L38 287L43 296M23 133L30 143L46 144L46 143L46 126L38 123L24 129M-15 195L-13 193L1 197L5 208M124 257L125 266L116 275L104 263M29 65L35 67L35 75L27 85M362 352L356 359L346 354L345 341L349 339L357 342L362 352M225 348L218 342L217 336L227 330L239 337L237 345M146 282L129 292L129 296L142 308M354 363L344 358L335 364L335 370L337 373L355 377L356 376M93 262L75 259L74 256L77 245M317 350L318 350L331 362L330 368L311 372L315 352L317 350M189 336L188 336L173 336L169 351L188 352L189 336M31 227L28 233L24 233L13 224M114 304L124 296L124 292M221 371L223 370L223 370L224 353M330 338L341 341L342 354L333 361L321 347M17 105L11 97L15 86M159 328L147 342L150 350L164 351M26 146L21 155L8 156L6 153L8 142L20 135M-12 177L-12 190L2 193L12 183L3 173M49 3L42 -15L28 -5L30 4L49 3M40 119L38 104L49 100L56 110M71 288L75 283L70 270L56 279M-2 235L8 247L21 236L10 226M46 254L47 254L44 271L43 271L23 266L36 250L46 254M114 313L116 307L126 299L140 310L130 321M282 381L278 374L279 371L291 364M185 314L188 332L172 332L167 325M192 372L196 362L199 362L220 373L215 381L207 385M172 313L162 302L155 301L148 310L159 322M29 173L16 181L15 181L6 170L8 160M19 264L20 264L33 248L28 238M134 333L134 323L142 313L145 312L157 325L144 339L134 333M-1 77L-3 62L1 60L1 60M11 85L7 95L-1 97L-7 87L0 82L11 84M6 252L6 249L-5 238L-10 237L-14 242L-13 259M65 309L60 307L56 298L59 291L71 292L73 301L65 309M19 288L18 290L4 293L4 293L4 278L18 270L19 288M7 255L17 266L16 267L3 274L-10 268L-10 263M-15 291L-1 295L0 296L-1 306L-20 308L-24 300M19 128L13 120L-5 119L-4 132L7 137L18 132L19 128M250 383L254 375L249 363L227 373L227 373L244 385L250 383M311 352L308 372L306 375L294 362M34 286L23 287L21 269L21 269L22 269M100 289L98 289L92 282L96 267L98 265L101 266L113 278M350 336L359 337L368 330M-9 232L-5 232L7 223L8 213L5 212L-14 218L-15 219L-9 232M17 117L22 125L36 119L35 104M54 177L59 164L49 156L38 173L39 175L54 177M87 303L94 291L88 286L79 286L75 290L77 299L87 303M107 219L94 210L88 219M102 319L92 314L90 305L97 294L100 294L111 307L110 313L102 319M19 293L4 297L3 306L5 310L13 313L24 309M12 116L14 108L7 100L-1 102L-8 113M213 277L209 274L198 282L198 283L205 294L215 289M-11 155L-16 160L-15 171L-13 173L1 169L4 159L2 156L-11 155M-20 34L-3 34L-1 32L-4 16L-6 16L-19 27L-20 33L-20 34M52 300L57 309L46 317L40 316L36 311L43 301L52 300M4 314L-5 328L-3 332L8 334M64 314L60 312L48 320L54 329M35 342L39 344L43 344L49 331L45 322L38 320M90 318L100 323L100 335L91 341L76 336L73 331L74 326M32 308L27 307L23 292L24 291M113 317L129 324L130 334L117 341L104 334L104 323L113 317M18 328L29 332L35 318L31 313L26 312L16 317M163 355L149 354L146 361L150 376L166 372M103 338L115 344L116 354L104 361L95 350M0 292L-15 286L-16 278L-12 271M142 343L133 338L120 344L121 355L129 362L141 358L145 352L142 343M145 255L144 275L129 266L129 256L139 253L145 255M-20 311L-1 309L1 312L-8 326L-22 320M88 314L85 306L76 304L68 311L73 322L88 314M-7 353L9 349L7 338L-5 336M272 353L277 368L289 360L290 354L285 347L272 353M-12 140L-6 135L4 141M37 349L33 364L19 365L18 353L32 346L37 349M0 373L-9 358L-13 356L-24 367L-22 377L-21 379L-13 381M44 376L37 366L40 349L44 349M65 356L66 359L76 366L76 366L90 351M71 338L69 332L53 332L46 345L62 354L71 338M15 365L14 354L11 352L-6 356L3 371L10 372L15 365M52 384L48 378L63 362L74 370L64 388L52 384M147 377L142 363L130 366L124 382L145 383L147 377M114 382L118 383L121 381L126 366L118 358L106 365L105 372M31 344L27 336L16 332L11 337M102 364L100 370L87 374L79 368"/><path fill="none" stroke="#5e5e5e" stroke-opacity="0.45" stroke-width="3.6" stroke-linejoin="round" d="M418 348L431 366M418 348L416 347M416 347L403 372M434 -2L416 6M416 6L406 -1M406 -10L406 -1M406 -1L389 13M389 13L377 -9M2 373L-8 355M416 6L417 22M389 13L389 14M417 22L397 23M389 14L397 23M-17 218L7 210M-14 191L3 196M3 196L7 210M416 347L408 342M399 371L389 349M408 342L389 349M378 373L376 353M376 353L383 347M389 349L383 347M417 22L417 23M417 23L429 22M-8 355L11 349M11 349L9 336M9 336L-5 333M203 -9L216 -3M216 -3L219 -3M219 -3L226 -18M248 -2L241 -19M248 -2L267 -15M219 -3L235 8M248 -2L247 -1M247 -1L235 8M295 -22L292 0M270 -14L276 1M292 0L276 1M247 -1L268 15M276 1L268 15M124 58L116 77M124 58L121 48M116 77L102 69M108 46L121 48M108 46L99 54M99 54L102 69M188 9L180 5M188 9L203 -9M176 -15L180 5M3 196L15 183M-15 176L3 170M15 183L3 170M10 212L29 208M10 212L7 210M15 183L16 183M16 183L31 205M29 208L31 205M116 241L119 250M116 241L132 228M119 250L126 255M126 255L140 250M140 250L140 235M132 228L140 235M101 263L119 250M101 263L115 278M127 267L115 278M127 267L126 255M145 277L127 267M145 277L147 254M147 254L140 250M169 373L165 354M150 378L143 360M165 354L148 352M148 352L143 360M143 360L128 364M144 342L132 335M144 342L148 352M118 356L128 364M118 356L118 343M132 335L118 343M144 342L159 325M165 354L167 352M159 325L164 325M164 325L171 334M167 352L171 334M118 356L104 364M104 364L103 371M118 343L102 335M92 351L104 364M92 351L93 343M93 343L102 335M131 323L132 335M131 323L112 314M112 314L102 322M102 335L102 322M56 232L49 226M56 232L48 252M29 235L34 228M29 235L36 247M34 228L49 226M36 247L48 252M357 362L358 377M357 362L344 356M344 356L333 363M333 363L332 370M376 353L364 353M364 353L357 362M343 339L344 356M343 339L348 337M364 353L359 340M348 337L359 340M343 339L329 335M329 335L318 347M318 347L333 363M313 350L309 374M313 350L316 348M316 348L318 347M222 133L242 131M222 133L219 118M242 131L233 110M219 118L233 110M211 114L219 118M211 114L197 128M218 138L202 136M218 138L222 133M197 128L202 136M359 340L371 331M383 347L380 332M371 331L380 332M8 249L-5 235M8 249L24 235M-5 235L10 224M24 235L10 224M10 212L10 224M29 235L24 235M34 228L29 208M-22 310L1 307M2 294L-16 288M2 294L2 295M2 295L1 307M-7 329L3 311M1 307L3 311M11 349L15 352M9 336L16 329M15 352L34 344M34 344L29 334M29 334L16 329M3 311L13 316M16 329L13 316M15 352L17 367M34 344L39 347M39 347L35 366M88 305L76 301M88 305L97 291M76 301L72 290M97 291L90 283M90 283L78 283M78 283L72 290M65 311L76 301M65 311L72 325M72 325L90 315M90 315L88 305M100 291L113 307M100 291L97 291M113 307L112 314M90 315L102 322M100 291L115 279M98 263L101 263M98 263L94 264M94 264L90 283M115 279L115 278M94 264L73 260M73 260L70 268M70 268L78 283M314 -18L315 -4M292 0L301 9M315 -4L301 9M188 9L192 17M216 -3L207 15M192 17L207 15M170 31L180 31M170 31L164 51M180 31L189 51M164 51L183 56M189 51L183 56M235 8L234 18M207 15L219 27M234 18L219 27M211 114L208 104M233 110L235 106M235 106L222 92M208 104L222 92M265 74L282 68M265 74L262 72M262 72L267 47M282 68L283 55M283 55L271 45M271 45L267 47M294 86L270 92M294 86L292 75M292 75L282 68M267 91L270 92M267 91L265 74M246 30L246 42M246 30L267 17M246 42L267 47M271 45L273 42M273 42L267 17M268 15L268 16M234 18L246 30M267 17L268 16M-5 13L-3 13M-3 13L2 9M2 9L3 -9M71 256L49 253M71 256L75 243M56 232L70 231M49 253L48 252M70 231L75 243M71 256L73 260M98 263L95 241M75 243L95 241M105 234L99 236M105 234L116 241M95 241L99 236M70 231L74 221M99 236L85 219M85 219L74 221M54 207L49 226M54 207L65 209M65 209L74 221M105 191L92 200M105 191L123 211M123 211L110 218M110 218L93 208M93 208L92 200M135 189L124 211M135 189L129 182M124 211L123 211M105 190L129 182M105 190L105 191M105 234L110 218M124 211L131 217M131 217L132 228M85 219L93 208M77 192L92 200M77 192L65 209M150 212L131 217M150 212L158 220M140 235L160 230M158 220L160 230M147 254L164 250M164 250L165 248M165 248L165 235M165 235L160 230M189 229L185 227M189 229L197 242M165 248L192 252M185 227L165 235M192 252L197 242M167 352L190 354M190 354L194 360M194 360L190 372M202 308L205 311M202 308L187 310M205 311L208 332M187 310L186 312M186 312L190 334M208 332L191 335M191 335L190 334M164 325L174 313M171 334L190 334M174 313L186 312M190 354L191 335M92 351L76 369M183 183L168 195M183 183L193 196M193 196L191 202M191 202L179 209M168 195L175 207M175 207L179 209M189 229L204 214M204 214L191 202M185 227L179 209M158 220L175 207M151 201L136 189M151 201L163 194M163 194L156 175M136 189L156 175M150 212L151 201M135 189L136 189M168 195L163 194M178 174L157 174M178 174L180 154M178 152L180 154M178 152L154 164M157 174L154 165M154 164L154 165M183 180L178 174M183 180L183 183M156 175L157 174M199 173L183 180M199 173L196 154M196 154L180 154M129 182L127 168M127 168L154 165M408 342L405 327M380 332L387 325M387 325L405 327M418 211L420 209M418 211L402 200M420 209L424 194M402 200L406 184M406 184L414 181M424 194L414 181M445 211L420 209M424 194L441 188M417 23L416 42M397 23L395 43M395 43L396 44M396 44L416 42M-13 263L8 252M-13 268L3 276M3 276L19 268M8 252L19 267M19 267L19 268M8 249L8 252M2 294L3 276M20 266L36 247M20 266L19 267M29 334L38 318M13 316L27 309M38 318L33 311M33 311L27 309M2 295L20 291M27 309L20 291M19 268L22 289M22 289L20 291M43 346L62 356M43 346L52 331M62 356L73 337M52 331L71 331M73 337L71 331M46 320L52 331M46 320L38 318M39 347L43 346M46 320L59 309M59 309L65 311M72 325L71 331M93 343L73 337M54 278L58 289M54 278L45 273M45 273L44 273M44 273L36 288M36 288L42 298M42 298L54 298M54 298L58 289M70 268L54 278M72 290L58 289M49 253L45 273M20 266L44 273M22 289L36 288M33 311L42 298M59 309L54 298M331 18L334 4M331 18L345 27M340 -1L358 5M340 -1L334 4M359 9L352 25M359 9L358 5M352 25L345 27M371 -10L358 5M340 -20L340 -1M315 -4L334 4M389 14L378 20M378 20L359 9M192 17L191 22M191 22L204 38M219 27L216 36M204 38L216 36M191 22L180 31M189 51L195 50M204 38L195 50M246 43L246 42M246 43L221 44M221 44L216 36M238 77L222 86M238 77L242 68M242 66L242 68M242 66L219 58M222 86L208 74M208 74L210 64M219 58L210 64M235 106L249 101M222 92L222 86M250 98L249 101M250 98L238 77M250 98L267 91M262 72L242 68M246 43L242 66M221 44L219 58M195 50L210 64M183 56L183 75M208 74L191 82M183 75L191 82M294 86L299 89M292 75L306 60M299 89L314 82M314 82L314 68M314 68L306 60M300 108L301 106M300 108L279 114M270 92L278 113M301 106L299 89M279 114L278 113M249 101L259 123M278 113L259 123M244 132L242 131M244 132L257 126M257 126L259 123M301 9L302 14M268 16L290 22M302 14L290 22M273 42L288 34M290 22L288 34M197 128L195 127M195 127L180 134M202 136L196 154M196 154L196 154M178 152L176 147M176 147L180 134M153 1L161 13M153 1L143 -3M143 -3L129 15M129 15L149 27M149 27L160 21M160 21L161 13M170 -17L153 1M180 5L161 13M139 -11L143 -3M124 16L129 15M124 16L128 43M143 41L128 43M143 41L149 27M170 31L160 21M-3 13L2 33M2 9L23 16M23 16L18 34M2 33L18 34M108 46L104 35M121 48L128 43M124 16L119 15M119 15L104 35M99 54L80 53M77 33L91 27M77 33L73 43M80 53L73 43M104 35L91 27M102 69L87 80M80 53L75 74M75 74L87 80M117 79L116 77M117 79L114 89M114 89L92 90M87 80L92 90M105 190L102 178M125 166L127 168M125 166L115 165M102 178L115 165M77 192L75 187M102 178L89 170M89 170L80 174M75 187L80 174M192 252L192 254M197 242L215 240M215 240L222 247M222 247L222 249M192 254L209 269M222 249L209 269M305 151L317 141M305 151L313 167M313 167L329 158M329 158L330 150M317 141L330 150M300 108L307 123M307 123L317 127M301 106L326 101M326 101L325 123M317 127L325 123M286 191L300 185M286 191L280 172M284 165L280 172M284 165L302 174M302 174L300 185M147 279L127 292M147 279L148 280M148 280L154 299M126 296L127 292M126 296L142 310M154 299L146 310M142 310L146 310M145 277L147 279M115 279L127 292M164 250L169 272M169 272L148 280M113 307L126 296M131 323L142 310M159 325L146 310M174 313L162 299M162 299L154 299M270 352L285 344M270 352L276 370M276 370L291 362M291 362L292 353M292 353L285 344M257 375L250 360M263 350L270 352M263 350L250 359M250 359L250 360M306 377L291 362M313 350L292 353M316 348L303 333M303 333L286 337M286 337L285 344M194 360L199 360M199 360L222 373M250 360L224 372M250 359L239 346M224 372L225 351M239 346L225 351M199 360L216 343M225 351L216 343M208 332L215 336M215 336L216 343M63 360L45 379M63 360L76 369M62 356L63 360M423 235L415 219M423 235L416 246M416 246L399 246M415 219L394 224M399 246L389 233M394 224L389 233M389 233L389 233M418 211L415 219M440 235L423 235M389 204L402 200M389 204L388 207M388 207L394 224M388 207L367 212M367 212L371 226M371 226L389 233M372 251L362 251M372 251L389 233M371 226L356 240M356 240L362 251M421 314L439 297M421 314L414 314M414 314L411 308M411 308L415 288M415 288L429 284M418 348L430 340M421 314L432 326M405 327L414 314M344 311L331 297M344 311L326 323M331 297L317 301M326 323L314 314M314 314L317 301M303 333L308 317M329 335L326 323M308 317L314 314M367 170L378 160M367 170L377 186M395 179L382 187M395 179L393 162M378 160L388 159M377 186L382 187M393 162L388 159M389 204L382 187M406 184L395 179M367 212L362 208M362 208L360 200M360 200L377 186M314 82L326 88M326 101L328 98M326 88L328 98M397 59L403 65M397 59L376 66M403 65L403 71M376 66L377 76M377 76L393 82M403 71L393 82M420 45L418 59M420 45L437 44M418 59L429 69M397 59L396 44M403 65L418 59M416 42L420 45M403 71L419 83M419 83L429 69M164 51L160 54M183 75L165 77M165 77L160 54M124 58L142 67M143 41L153 53M142 67L153 53M153 53L160 54M284 163L271 150M284 163L299 150M299 150L292 136M271 150L272 144M272 144L285 134M292 136L285 134M305 151L299 150M312 168L313 167M312 168L302 174M284 165L284 163M307 123L292 136M317 141L317 127M279 114L285 134M257 126L272 144M320 24L311 23M320 24L327 45M311 23L301 45M327 45L304 51M301 45L302 50M302 50L304 51M331 18L320 24M302 14L311 23M345 27L340 42M340 42L330 46M330 46L327 45M288 34L301 45M314 68L332 63M306 60L304 51M330 46L332 63M283 55L302 50M2 33L-1 36M-22 36L-1 36M68 19L82 3M68 19L56 15M66 -6L53 5M66 -6L82 3M53 5L56 15M46 37L46 27M46 37L22 41M23 16L23 16M22 41L18 34M23 16L46 27M77 33L68 19M46 37L52 46M52 46L73 43M46 27L56 15M112 -4L111 6M112 -4L90 -16M111 6L94 11M94 11L84 3M90 -16L84 3M116 -8L112 -4M119 15L111 6M91 27L94 11M82 3L84 3M54 207L48 202M75 187L60 184M60 184L48 202M31 205L41 201M48 202L41 201M367 275L370 277M367 275L360 256M372 251L388 264M360 256L362 251M370 277L388 264M399 246L391 264M388 264L391 264M348 337L352 319M371 331L362 319M362 319L352 319M344 311L344 311M352 319L344 311M162 299L175 289M187 310L183 293M183 293L175 289M169 272L170 273M175 289L170 273M192 254L184 270M170 273L184 270M202 308L205 296M183 293L195 283M205 296L195 283M184 270L196 282M195 283L196 282M209 269L209 272M196 282L209 272M259 329L283 331M259 329L258 329M258 329L269 310M269 310L286 313M283 331L286 313M286 337L283 331M263 350L259 329M308 317L289 311M289 311L286 313M239 346L241 336M215 336L227 327M227 327L241 336M258 329L255 328M255 328L241 336M356 240L348 236M362 208L346 219M348 236L346 219M367 275L346 283M346 283L340 280M360 256L343 265M343 265L340 280M346 283L355 297M331 297L339 281M355 297L344 311M340 280L339 281M218 138L223 159M196 154L223 159M223 159L223 159M199 173L208 178M223 159L208 178M193 196L211 188M208 178L211 188M429 282L419 263M443 259L420 259M420 259L419 263M415 288L400 279M400 279L400 274M400 274L419 263M416 246L420 259M400 274L391 264M355 169L367 170M355 169L352 148M378 160L368 142M368 142L352 148M382 132L370 137M382 132L393 137M393 137L388 159M368 142L370 137M374 81L377 76M374 81L375 94M395 89L393 82M395 89L387 100M387 100L375 94M371 61L357 59M371 61L379 41M363 35L355 50M363 35L373 34M355 50L357 59M373 34L379 41M395 43L379 41M376 66L371 61M352 25L363 35M340 42L355 50M378 20L373 34M431 96L419 89M431 96L424 121M419 89L410 96M410 96L406 115M424 121L408 119M406 115L408 119M419 83L419 89M444 120L428 124M428 124L424 121M395 89L410 96M387 100L389 109M389 109L406 115M382 132L380 116M393 137L400 134M400 134L408 119M380 116L389 109M393 162L408 160M400 134L414 147M414 147L408 160M414 181L419 172M408 160L419 172M438 179L421 171M419 172L421 171M171 116L164 100M171 116L187 113M164 100L190 94M187 113L192 99M192 99L190 94M195 127L187 113M180 134L169 122M169 122L171 116M208 104L192 99M191 82L190 94M145 119L154 129M145 119L130 117M147 144L132 145M147 144L153 137M130 117L124 126M124 126L125 139M132 145L125 139M153 137L154 129M125 166L132 145M154 164L147 144M176 147L153 137M169 122L154 129M161 81L143 76M161 81L162 98M154 101L162 98M154 101L139 94M139 94L138 81M138 81L143 76M165 77L161 81M142 67L143 76M164 100L162 98M145 119L154 101M126 105L130 117M126 105L139 94M117 79L138 81M126 105L118 100M114 89L118 100M352 83L356 60M352 83L336 77M356 60L333 64M336 77L333 64M353 84L352 83M353 84L374 81M357 59L356 60M332 63L333 64M326 88L336 77M52 46L48 58M75 74L69 77M69 77L48 58M-1 36L0 57M-5 60L0 57M-9 86L-2 79M-5 60L-2 79M43 -17L51 5M51 5L28 6M26 -5L28 6M53 5L51 5M23 16L28 6M89 170L93 155M115 165L101 148M93 155L101 148M125 139L101 147M101 147L101 148M80 174L68 162M93 155L75 149M68 162L75 149M374 287L392 289M374 287L368 298M371 306L368 298M371 306L384 311M384 311L395 302M395 302L392 289M370 277L374 287M400 279L392 289M355 297L368 298M362 319L371 306M387 325L384 311M411 308L395 302M245 239L245 239M245 239L222 247M222 249L239 271M239 271L251 260M245 239L251 260M209 272L215 276M239 271L239 272M239 272L215 276M205 296L217 291M217 291L215 276M317 301L308 287M289 311L289 295M289 295L308 287M317 274L339 281M317 274L310 279M310 279L308 287M348 236L342 238M343 265L333 254M342 238L333 254M317 274L319 255M333 254L319 255M225 159L230 165M225 159L244 143M230 165L253 169M244 143L256 156M256 156L253 169M244 132L244 143M223 159L225 159M271 150L256 156M264 199L262 200M264 199L266 196M262 200L247 193M266 196L265 177M265 177L254 171M254 171L244 187M244 187L247 193M286 192L291 204M286 192L266 196M291 204L279 216M279 216L264 199M255 213L262 200M255 213L245 215M245 215L237 204M237 204L247 193M286 192L286 191M280 172L265 177M253 169L254 171M230 165L230 183M230 183L244 187M334 197L327 190M334 197L354 195M354 195L353 171M327 187L340 172M327 187L327 190M353 171L340 172M360 200L354 195M346 219L335 213M335 213L334 197M355 169L353 171M312 168L327 187M329 158L340 172M300 185L314 197M314 197L327 190M330 150L344 143M352 148L344 143M291 204L306 209M314 197L307 209M306 209L307 209M335 213L325 219M307 209L325 219M342 238L324 231M325 219L324 231M318 254L319 255M318 254L320 233M320 233L324 231M359 125L343 131M359 125L364 111M339 126L343 131M339 126L347 102M351 100L347 102M351 100L361 106M361 106L364 111M370 137L359 125M344 143L343 131M380 116L364 111M325 123L339 126M328 98L347 102M353 84L351 100M375 94L361 106M429 138L424 145M424 145L431 158M428 124L429 138M414 147L424 145M421 171L431 158M21 46L1 57M21 46L30 63M1 57L16 69M30 63L16 69M22 41L21 46M0 57L1 57M48 58L37 65M37 65L30 63M-2 79L13 83M13 83L16 69M92 90L91 95M69 77L66 81M91 95L74 105M66 81L74 105M98 137L77 129M98 137L105 123M105 123L100 113M80 118L100 113M80 118L77 129M100 113L100 113M124 126L105 123M101 147L98 137M118 100L100 113M91 95L100 113M74 105L73 105M73 105L80 118M75 149L71 139M77 129L75 131M75 131L71 139M60 184L56 178M41 201L37 176M56 178L37 176M68 162L61 163M56 178L61 163M279 216L278 223M255 213L261 223M261 223L278 223M245 239L240 226M245 239L255 236M240 226L245 215M261 223L255 236M248 286L242 282M248 286L253 300M242 282L227 297M253 300L244 312M244 312L229 311M227 297L228 310M228 310L229 311M239 272L242 282M217 291L227 297M264 302L269 310M264 302L253 300M255 328L244 312M227 327L229 311M205 311L228 310M285 269L281 289M285 269L267 269M264 281L267 269M264 281L274 290M274 290L281 289M290 265L285 269M290 265L310 279M289 295L281 289M251 260L261 261M261 261L267 269M248 286L264 281M264 302L274 290M215 191L221 191M215 191L210 214M221 191L232 204M232 204L220 221M210 214L219 222M219 222L220 221M211 188L215 191M230 183L221 191M204 214L210 214M237 204L232 204M240 226L220 221M215 240L219 222M-9 86L-3 99M-3 99L-10 114M-13 152L4 154M-6 132L6 140M6 140L4 154M3 170L7 158M7 158L4 154M37 65L37 75M66 81L53 88M37 75L53 88M61 163L49 154M37 176L35 174M49 154L35 174M16 183L31 173M7 158L23 157M23 157L31 173M31 173L35 174M279 223L273 244M279 223L299 229M300 230L299 229M300 230L296 249M296 249L291 253M291 253L274 246M274 246L273 244M255 236L273 244M278 223L279 223M306 209L299 229M320 233L300 230M318 254L296 249M290 265L291 253M261 261L274 246M13 83L14 84M37 75L28 88M28 88L14 84M-3 99L9 98M14 84L9 98M28 88L32 100M9 98L17 108M32 100L17 108M-7 118L14 118M14 118L17 108M73 105L59 109M53 88L49 98M59 109L49 98M75 131L55 121M59 109L55 121M32 100L36 102M49 98L36 102M21 133L29 145M21 133L21 128M21 128L38 120M29 145L47 146M48 145L48 125M48 145L47 146M48 125L38 120M6 140L21 133M23 157L29 145M14 118L21 128M36 102L38 120M49 154L47 146M71 139L48 145M55 121L48 125"/><path fill="none" stroke="#5a5a5a" stroke-width="1.4" d="M418 348L431 366M418 348L416 347M416 347L403 372M434 -2L416 6M416 6L406 -1M406 -10L406 -1M406 -1L389 13M389 13L377 -9M2 373L-8 355M416 6L417 22M389 13L389 14M417 22L397 23M389 14L397 23M-17 218L7 210M-14 191L3 196M3 196L7 210M416 347L408 342M399 371L389 349M408 342L389 349M378 373L376 353M376 353L383 347M389 349L383 347M417 22L417 23M417 23L429 22M-8 355L11 349M11 349L9 336M9 336L-5 333M203 -9L216 -3M216 -3L219 -3M219 -3L226 -18M248 -2L241 -19M248 -2L267 -15M219 -3L235 8M248 -2L247 -1M247 -1L235 8M295 -22L292 0M270 -14L276 1M292 0L276 1M247 -1L268 15M276 1L268 15M124 58L116 77M124 58L121 48M116 77L102 69M108 46L121 48M108 46L99 54M99 54L102 69M188 9L180 5M188 9L203 -9M176 -15L180 5M3 196L15 183M-15 176L3 170M15 183L3 170M10 212L29 208M10 212L7 210M15 183L16 183M16 183L31 205M29 208L31 205M116 241L119 250M116 241L132 228M119 250L126 255M126 255L140 250M140 250L140 235M132 228L140 235M101 263L119 250M101 263L115 278M127 267L115 278M127 267L126 255M145 277L127 267M145 277L147 254M147 254L140 250M169 373L165 354M150 378L143 360M165 354L148 352M148 352L143 360M143 360L128 364M144 342L132 335M144 342L148 352M118 356L128 364M118 356L118 343M132 335L118 343M144 342L159 325M165 354L167 352M159 325L164 325M164 325L171 334M167 352L171 334M118 356L104 364M104 364L103 371M118 343L102 335M92 351L104 364M92 351L93 343M93 343L102 335M131 323L132 335M131 323L112 314M112 314L102 322M102 335L102 322M56 232L49 226M56 232L48 252M29 235L34 228M29 235L36 247M34 228L49 226M36 247L48 252M357 362L358 377M357 362L344 356M344 356L333 363M333 363L332 370M376 353L364 353M364 353L357 362M343 339L344 356M343 339L348 337M364 353L359 340M348 337L359 340M343 339L329 335M329 335L318 347M318 347L333 363M313 350L309 374M313 350L316 348M316 348L318 347M222 133L242 131M222 133L219 118M242 131L233 110M219 118L233 110M211 114L219 118M211 114L197 128M218 138L202 136M218 138L222 133M197 128L202 136M359 340L371 331M383 347L380 332M371 331L380 332M8 249L-5 235M8 249L24 235M-5 235L10 224M24 235L10 224M10 212L10 224M29 235L24 235M34 228L29 208M-22 310L1 307M2 294L-16 288M2 294L2 295M2 295L1 307M-7 329L3 311M1 307L3 311M11 349L15 352M9 336L16 329M15 352L34 344M34 344L29 334M29 334L16 329M3 311L13 316M16 329L13 316M15 352L17 367M34 344L39 347M39 347L35 366M88 305L76 301M88 305L97 291M76 301L72 290M97 291L90 283M90 283L78 283M78 283L72 290M65 311L76 301M65 311L72 325M72 325L90 315M90 315L88 305M100 291L113 307M100 291L97 291M113 307L112 314M90 315L102 322M100 291L115 279M98 263L101 263M98 263L94 264M94 264L90 283M115 279L115 278M94 264L73 260M73 260L70 268M70 268L78 283M314 -18L315 -4M292 0L301 9M315 -4L301 9M188 9L192 17M216 -3L207 15M192 17L207 15M170 31L180 31M170 31L164 51M180 31L189 51M164 51L183 56M189 51L183 56M235 8L234 18M207 15L219 27M234 18L219 27M211 114L208 104M233 110L235 106M235 106L222 92M208 104L222 92M265 74L282 68M265 74L262 72M262 72L267 47M282 68L283 55M283 55L271 45M271 45L267 47M294 86L270 92M294 86L292 75M292 75L282 68M267 91L270 92M267 91L265 74M246 30L246 42M246 30L267 17M246 42L267 47M271 45L273 42M273 42L267 17M268 15L268 16M234 18L246 30M267 17L268 16M-5 13L-3 13M-3 13L2 9M2 9L3 -9M71 256L49 253M71 256L75 243M56 232L70 231M49 253L48 252M70 231L75 243M71 256L73 260M98 263L95 241M75 243L95 241M105 234L99 236M105 234L116 241M95 241L99 236M70 231L74 221M99 236L85 219M85 219L74 221M54 207L49 226M54 207L65 209M65 209L74 221M105 191L92 200M105 191L123 211M123 211L110 218M110 218L93 208M93 208L92 200M135 189L124 211M135 189L129 182M124 211L123 211M105 190L129 182M105 190L105 191M105 234L110 218M124 211L131 217M131 217L132 228M85 219L93 208M77 192L92 200M77 192L65 209M150 212L131 217M150 212L158 220M140 235L160 230M158 220L160 230M147 254L164 250M164 250L165 248M165 248L165 235M165 235L160 230M189 229L185 227M189 229L197 242M165 248L192 252M185 227L165 235M192 252L197 242M167 352L190 354M190 354L194 360M194 360L190 372M202 308L205 311M202 308L187 310M205 311L208 332M187 310L186 312M186 312L190 334M208 332L191 335M191 335L190 334M164 325L174 313M171 334L190 334M174 313L186 312M190 354L191 335M92 351L76 369M183 183L168 195M183 183L193 196M193 196L191 202M191 202L179 209M168 195L175 207M175 207L179 209M189 229L204 214M204 214L191 202M185 227L179 209M158 220L175 207M151 201L136 189M151 201L163 194M163 194L156 175M136 189L156 175M150 212L151 201M135 189L136 189M168 195L163 194M178 174L157 174M178 174L180 154M178 152L180 154M178 152L154 164M157 174L154 165M154 164L154 165M183 180L178 174M183 180L183 183M156 175L157 174M199 173L183 180M199 173L196 154M196 154L180 154M129 182L127 168M127 168L154 165M408 342L405 327M380 332L387 325M387 325L405 327M418 211L420 209M418 211L402 200M420 209L424 194M402 200L406 184M406 184L414 181M424 194L414 181M445 211L420 209M424 194L441 188M417 23L416 42M397 23L395 43M395 43L396 44M396 44L416 42M-13 263L8 252M-13 268L3 276M3 276L19 268M8 252L19 267M19 267L19 268M8 249L8 252M2 294L3 276M20 266L36 247M20 266L19 267M29 334L38 318M13 316L27 309M38 318L33 311M33 311L27 309M2 295L20 291M27 309L20 291M19 268L22 289M22 289L20 291M43 346L62 356M43 346L52 331M62 356L73 337M52 331L71 331M73 337L71 331M46 320L52 331M46 320L38 318M39 347L43 346M46 320L59 309M59 309L65 311M72 325L71 331M93 343L73 337M54 278L58 289M54 278L45 273M45 273L44 273M44 273L36 288M36 288L42 298M42 298L54 298M54 298L58 289M70 268L54 278M72 290L58 289M49 253L45 273M20 266L44 273M22 289L36 288M33 311L42 298M59 309L54 298M331 18L334 4M331 18L345 27M340 -1L358 5M340 -1L334 4M359 9L352 25M359 9L358 5M352 25L345 27M371 -10L358 5M340 -20L340 -1M315 -4L334 4M389 14L378 20M378 20L359 9M192 17L191 22M191 22L204 38M219 27L216 36M204 38L216 36M191 22L180 31M189 51L195 50M204 38L195 50M246 43L246 42M246 43L221 44M221 44L216 36M238 77L222 86M238 77L242 68M242 66L242 68M242 66L219 58M222 86L208 74M208 74L210 64M219 58L210 64M235 106L249 101M222 92L222 86M250 98L249 101M250 98L238 77M250 98L267 91M262 72L242 68M246 43L242 66M221 44L219 58M195 50L210 64M183 56L183 75M208 74L191 82M183 75L191 82M294 86L299 89M292 75L306 60M299 89L314 82M314 82L314 68M314 68L306 60M300 108L301 106M300 108L279 114M270 92L278 113M301 106L299 89M279 114L278 113M249 101L259 123M278 113L259 123M244 132L242 131M244 132L257 126M257 126L259 123M301 9L302 14M268 16L290 22M302 14L290 22M273 42L288 34M290 22L288 34M197 128L195 127M195 127L180 134M202 136L196 154M196 154L196 154M178 152L176 147M176 147L180 134M153 1L161 13M153 1L143 -3M143 -3L129 15M129 15L149 27M149 27L160 21M160 21L161 13M170 -17L153 1M180 5L161 13M139 -11L143 -3M124 16L129 15M124 16L128 43M143 41L128 43M143 41L149 27M170 31L160 21M-3 13L2 33M2 9L23 16M23 16L18 34M2 33L18 34M108 46L104 35M121 48L128 43M124 16L119 15M119 15L104 35M99 54L80 53M77 33L91 27M77 33L73 43M80 53L73 43M104 35L91 27M102 69L87 80M80 53L75 74M75 74L87 80M117 79L116 77M117 79L114 89M114 89L92 90M87 80L92 90M105 190L102 178M125 166L127 168M125 166L115 165M102 178L115 165M77 192L75 187M102 178L89 170M89 170L80 174M75 187L80 174M192 252L192 254M197 242L215 240M215 240L222 247M222 247L222 249M192 254L209 269M222 249L209 269M305 151L317 141M305 151L313 167M313 167L329 158M329 158L330 150M317 141L330 150M300 108L307 123M307 123L317 127M301 106L326 101M326 101L325 123M317 127L325 123M286 191L300 185M286 191L280 172M284 165L280 172M284 165L302 174M302 174L300 185M147 279L127 292M147 279L148 280M148 280L154 299M126 296L127 292M126 296L142 310M154 299L146 310M142 310L146 310M145 277L147 279M115 279L127 292M164 250L169 272M169 272L148 280M113 307L126 296M131 323L142 310M159 325L146 310M174 313L162 299M162 299L154 299M270 352L285 344M270 352L276 370M276 370L291 362M291 362L292 353M292 353L285 344M257 375L250 360M263 350L270 352M263 350L250 359M250 359L250 360M306 377L291 362M313 350L292 353M316 348L303 333M303 333L286 337M286 337L285 344M194 360L199 360M199 360L222 373M250 360L224 372M250 359L239 346M224 372L225 351M239 346L225 351M199 360L216 343M225 351L216 343M208 332L215 336M215 336L216 343M63 360L45 379M63 360L76 369M62 356L63 360M423 235L415 219M423 235L416 246M416 246L399 246M415 219L394 224M399 246L389 233M394 224L389 233M389 233L389 233M418 211L415 219M440 235L423 235M389 204L402 200M389 204L388 207M388 207L394 224M388 207L367 212M367 212L371 226M371 226L389 233M372 251L362 251M372 251L389 233M371 226L356 240M356 240L362 251M421 314L439 297M421 314L414 314M414 314L411 308M411 308L415 288M415 288L429 284M418 348L430 340M421 314L432 326M405 327L414 314M344 311L331 297M344 311L326 323M331 297L317 301M326 323L314 314M314 314L317 301M303 333L308 317M329 335L326 323M308 317L314 314M367 170L378 160M367 170L377 186M395 179L382 187M395 179L393 162M378 160L388 159M377 186L382 187M393 162L388 159M389 204L382 187M406 184L395 179M367 212L362 208M362 208L360 200M360 200L377 186M314 82L326 88M326 101L328 98M326 88L328 98M397 59L403 65M397 59L376 66M403 65L403 71M376 66L377 76M377 76L393 82M403 71L393 82M420 45L418 59M420 45L437 44M418 59L429 69M397 59L396 44M403 65L418 59M416 42L420 45M403 71L419 83M419 83L429 69M164 51L160 54M183 75L165 77M165 77L160 54M124 58L142 67M143 41L153 53M142 67L153 53M153 53L160 54M284 163L271 150M284 163L299 150M299 150L292 136M271 150L272 144M272 144L285 134M292 136L285 134M305 151L299 150M312 168L313 167M312 168L302 174M284 165L284 163M307 123L292 136M317 141L317 127M279 114L285 134M257 126L272 144M320 24L311 23M320 24L327 45M311 23L301 45M327 45L304 51M301 45L302 50M302 50L304 51M331 18L320 24M302 14L311 23M345 27L340 42M340 42L330 46M330 46L327 45M288 34L301 45M314 68L332 63M306 60L304 51M330 46L332 63M283 55L302 50M2 33L-1 36M-22 36L-1 36M68 19L82 3M68 19L56 15M66 -6L53 5M66 -6L82 3M53 5L56 15M46 37L46 27M46 37L22 41M23 16L23 16M22 41L18 34M23 16L46 27M77 33L68 19M46 37L52 46M52 46L73 43M46 27L56 15M112 -4L111 6M112 -4L90 -16M111 6L94 11M94 11L84 3M90 -16L84 3M116 -8L112 -4M119 15L111 6M91 27L94 11M82 3L84 3M54 207L48 202M75 187L60 184M60 184L48 202M31 205L41 201M48 202L41 201M367 275L370 277M367 275L360 256M372 251L388 264M360 256L362 251M370 277L388 264M399 246L391 264M388 264L391 264M348 337L352 319M371 331L362 319M362 319L352 319M344 311L344 311M352 319L344 311M162 299L175 289M187 310L183 293M183 293L175 289M169 272L170 273M175 289L170 273M192 254L184 270M170 273L184 270M202 308L205 296M183 293L195 283M205 296L195 283M184 270L196 282M195 283L196 282M209 269L209 272M196 282L209 272M259 329L283 331M259 329L258 329M258 329L269 310M269 310L286 313M283 331L286 313M286 337L283 331M263 350L259 329M308 317L289 311M289 311L286 313M239 346L241 336M215 336L227 327M227 327L241 336M258 329L255 328M255 328L241 336M356 240L348 236M362 208L346 219M348 236L346 219M367 275L346 283M346 283L340 280M360 256L343 265M343 265L340 280M346 283L355 297M331 297L339 281M355 297L344 311M340 280L339 281M218 138L223 159M196 154L223 159M223 159L223 159M199 173L208 178M223 159L208 178M193 196L211 188M208 178L211 188M429 282L419 263M443 259L420 259M420 259L419 263M415 288L400 279M400 279L400 274M400 274L419 263M416 246L420 259M400 274L391 264M355 169L367 170M355 169L352 148M378 160L368 142M368 142L352 148M382 132L370 137M382 132L393 137M393 137L388 159M368 142L370 137M374 81L377 76M374 81L375 94M395 89L393 82M395 89L387 100M387 100L375 94M371 61L357 59M371 61L379 41M363 35L355 50M363 35L373 34M355 50L357 59M373 34L379 41M395 43L379 41M376 66L371 61M352 25L363 35M340 42L355 50M378 20L373 34M431 96L419 89M431 96L424 121M419 89L410 96M410 96L406 115M424 121L408 119M406 115L408 119M419 83L419 89M444 120L428 124M428 124L424 121M395 89L410 96M387 100L389 109M389 109L406 115M382 132L380 116M393 137L400 134M400 134L408 119M380 116L389 109M393 162L408 160M400 134L414 147M414 147L408 160M414 181L419 172M408 160L419 172M438 179L421 171M419 172L421 171M171 116L164 100M171 116L187 113M164 100L190 94M187 113L192 99M192 99L190 94M195 127L187 113M180 134L169 122M169 122L171 116M208 104L192 99M191 82L190 94M145 119L154 129M145 119L130 117M147 144L132 145M147 144L153 137M130 117L124 126M124 126L125 139M132 145L125 139M153 137L154 129M125 166L132 145M154 164L147 144M176 147L153 137M169 122L154 129M161 81L143 76M161 81L162 98M154 101L162 98M154 101L139 94M139 94L138 81M138 81L143 76M165 77L161 81M142 67L143 76M164 100L162 98M145 119L154 101M126 105L130 117M126 105L139 94M117 79L138 81M126 105L118 100M114 89L118 100M352 83L356 60M352 83L336 77M356 60L333 64M336 77L333 64M353 84L352 83M353 84L374 81M357 59L356 60M332 63L333 64M326 88L336 77M52 46L48 58M75 74L69 77M69 77L48 58M-1 36L0 57M-5 60L0 57M-9 86L-2 79M-5 60L-2 79M43 -17L51 5M51 5L28 6M26 -5L28 6M53 5L51 5M23 16L28 6M89 170L93 155M115 165L101 148M93 155L101 148M125 139L101 147M101 147L101 148M80 174L68 162M93 155L75 149M68 162L75 149M374 287L392 289M374 287L368 298M371 306L368 298M371 306L384 311M384 311L395 302M395 302L392 289M370 277L374 287M400 279L392 289M355 297L368 298M362 319L371 306M387 325L384 311M411 308L395 302M245 239L245 239M245 239L222 247M222 249L239 271M239 271L251 260M245 239L251 260M209 272L215 276M239 271L239 272M239 272L215 276M205 296L217 291M217 291L215 276M317 301L308 287M289 311L289 295M289 295L308 287M317 274L339 281M317 274L310 279M310 279L308 287M348 236L342 238M343 265L333 254M342 238L333 254M317 274L319 255M333 254L319 255M225 159L230 165M225 159L244 143M230 165L253 169M244 143L256 156M256 156L253 169M244 132L244 143M223 159L225 159M271 150L256 156M264 199L262 200M264 199L266 196M262 200L247 193M266 196L265 177M265 177L254 171M254 171L244 187M244 187L247 193M286 192L291 204M286 192L266 196M291 204L279 216M279 216L264 199M255 213L262 200M255 213L245 215M245 215L237 204M237 204L247 193M286 192L286 191M280 172L265 177M253 169L254 171M230 165L230 183M230 183L244 187M334 197L327 190M334 197L354 195M354 195L353 171M327 187L340 172M327 187L327 190M353 171L340 172M360 200L354 195M346 219L335 213M335 213L334 197M355 169L353 171M312 168L327 187M329 158L340 172M300 185L314 197M314 197L327 190M330 150L344 143M352 148L344 143M291 204L306 209M314 197L307 209M306 209L307 209M335 213L325 219M307 209L325 219M342 238L324 231M325 219L324 231M318 254L319 255M318 254L320 233M320 233L324 231M359 125L343 131M359 125L364 111M339 126L343 131M339 126L347 102M351 100L347 102M351 100L361 106M361 106L364 111M370 137L359 125M344 143L343 131M380 116L364 111M325 123L339 126M328 98L347 102M353 84L351 100M375 94L361 106M429 138L424 145M424 145L431 158M428 124L429 138M414 147L424 145M421 171L431 158M21 46L1 57M21 46L30 63M1 57L16 69M30 63L16 69M22 41L21 46M0 57L1 57M48 58L37 65M37 65L30 63M-2 79L13 83M13 83L16 69M92 90L91 95M69 77L66 81M91 95L74 105M66 81L74 105M98 137L77 129M98 137L105 123M105 123L100 113M80 118L100 113M80 118L77 129M100 113L100 113M124 126L105 123M101 147L98 137M118 100L100 113M91 95L100 113M74 105L73 105M73 105L80 118M75 149L71 139M77 129L75 131M75 131L71 139M60 184L56 178M41 201L37 176M56 178L37 176M68 162L61 163M56 178L61 163M279 216L278 223M255 213L261 223M261 223L278 223M245 239L240 226M245 239L255 236M240 226L245 215M261 223L255 236M248 286L242 282M248 286L253 300M242 282L227 297M253 300L244 312M244 312L229 311M227 297L228 310M228 310L229 311M239 272L242 282M217 291L227 297M264 302L269 310M264 302L253 300M255 328L244 312M227 327L229 311M205 311L228 310M285 269L281 289M285 269L267 269M264 281L267 269M264 281L274 290M274 290L281 289M290 265L285 269M290 265L310 279M289 295L281 289M251 260L261 261M261 261L267 269M248 286L264 281M264 302L274 290M215 191L221 191M215 191L210 214M221 191L232 204M232 204L220 221M210 214L219 222M219 222L220 221M211 188L215 191M230 183L221 191M204 214L210 214M237 204L232 204M240 226L220 221M215 240L219 222M-9 86L-3 99M-3 99L-10 114M-13 152L4 154M-6 132L6 140M6 140L4 154M3 170L7 158M7 158L4 154M37 65L37 75M66 81L53 88M37 75L53 88M61 163L49 154M37 176L35 174M49 154L35 174M16 183L31 173M7 158L23 157M23 157L31 173M31 173L35 174M279 223L273 244M279 223L299 229M300 230L299 229M300 230L296 249M296 249L291 253M291 253L274 246M274 246L273 244M255 236L273 244M278 223L279 223M306 209L299 229M320 233L300 230M318 254L296 249M290 265L291 253M261 261L274 246M13 83L14 84M37 75L28 88M28 88L14 84M-3 99L9 98M14 84L9 98M28 88L32 100M9 98L17 108M32 100L17 108M-7 118L14 118M14 118L17 108M73 105L59 109M53 88L49 98M59 109L49 98M75 131L55 121M59 109L55 121M32 100L36 102M49 98L36 102M21 133L29 145M21 133L21 128M21 128L38 120M29 145L47 146M48 145L48 125M48 145L47 146M48 125L38 120M6 140L21 133M23 157L29 145M14 118L21 128M36 102L38 120M49 154L47 146M71 139L48 145M55 121L48 125"/></g></g></svg><div class="lab" style="top:6.1px">PyAA-Me</div><div class="bar" style="left:183.0px;top:166.1px"></div></div>
<div class="sem" style="left:477px;top:202px;width:207.3px;height:175.5px"><svg width="208" height="176" style="position:absolute;left:0;top:0"><g filter="url(#bl)"><g transform="scale(0.5)"><rect x="-10" y="-10" width="440" height="380" fill="#959595"/><path fill="#8a8a8a" d="M335 247L329 241L334 229L348 226L354 231L352 243ZM294 174L290 188L278 192L272 188L268 171L285 164ZM285 164L268 171L263 169L260 157L269 145L285 150ZM272 188L252 194L246 188L246 178L263 169L268 171ZM304 145L308 140L306 120L286 125L291 145ZM380 149L386 136L400 133L405 153L400 158L383 154ZM218 259L231 249L230 246L217 236L200 247L201 249ZM425 315L422 309L427 297L443 297L449 313L439 320ZM427 297L443 297L449 288L448 280L435 275L427 278L424 291ZM353 338L358 336L362 317L341 314L337 320L337 332ZM235 168L246 178L246 188L229 196L224 194L220 176L227 167ZM139 322L128 314L127 295L141 294L152 312ZM251 104L253 119L251 122L230 125L227 107L229 104ZM122 277L126 294L127 295L141 294L153 279L153 277L142 268ZM168 361L175 382L173 384L148 378L148 374L160 360ZM153 277L153 279L170 296L184 284L181 270L171 263ZM113 376L109 369L115 349L118 348L133 358L133 360L124 377ZM321 77L336 82L348 77L344 60L336 54L324 60ZM211 104L201 114L185 99L203 85L206 85ZM184 124L178 122L173 107L183 99L185 99L201 114L201 114ZM272 30L264 8L285 3L293 9L296 17L279 31ZM195 55L194 53L174 49L171 50L173 76L188 73ZM316 13L320 -4L309 -10L293 9L296 17L300 19ZM237 -5L226 2L226 15L244 21L258 6ZM77 290L95 274L102 280L102 298L79 295L77 291ZM391 24L389 7L386 4L369 9L366 23L377 33L385 32ZM153 117L166 106L157 93L142 93L141 106L147 115ZM44 227L42 218L33 213L19 222L29 239L39 236ZM160 130L143 143L144 149L155 155L165 153L171 145L167 132ZM310 80L289 87L284 80L293 63L299 64ZM66 271L48 282L38 269L41 260L46 257L67 267ZM371 -19L379 -19L386 -9L386 4L369 9L358 1L357 -2ZM408 6L416 -2L426 -3L432 7L432 15L417 26L413 25ZM110 145L111 145L120 160L105 176L105 176L95 171L94 155L97 149ZM391 24L389 7L408 6L413 25L408 29ZM64 317L54 327L56 340L67 342L75 332L64 317ZM67 342L72 356L54 364L47 347L56 340ZM97 120L96 115L116 105L124 113L123 121L108 129ZM285 3L293 9L309 -10L305 -20L291 -21L284 -12ZM58 189L46 169L28 182L30 193L55 194ZM96 115L89 107L88 103L99 90L117 97L116 105ZM81 57L72 60L68 75L73 83L92 75L92 61ZM6 203L0 187L-16 189L-23 199L-23 201L-6 213L5 208ZM91 35L104 49L103 54L92 61L81 57L81 40ZM74 130L78 134L71 154L71 154L54 142L58 132ZM3 240L1 257L-7 261L-21 251L-21 249L-6 235L2 238ZM19 305L16 298L23 286L37 290L37 308L33 312ZM-5 164L-24 173L-16 189L0 187L3 180ZM17 273L15 265L1 257L-7 261L-12 275L-4 284ZM92 75L73 83L73 89L88 103L99 90L99 81ZM53 121L58 132L54 142L50 144L34 139L34 129L48 119ZM53 121L58 132L74 130L74 115L65 112ZM255 97L242 84L231 92L229 104L251 104ZM16 143L7 151L3 152L-8 129L8 124L12 127ZM17 101L6 82L-5 87L-9 100L-5 106L8 108ZM10 -24L9 -23L12 -5L26 0L31 -6L28 -25Z"/><path fill="#8f8f8f" d="M332 269L336 261L335 247L329 241L325 241L310 255L323 270ZM296 304L295 289L278 284L270 294L273 311L296 304ZM307 170L320 188L319 189L298 196L290 188L294 174ZM235 218L254 205L259 209L260 226L249 231L242 229ZM270 294L278 284L275 273L258 269L248 276L247 289ZM388 265L397 285L400 286L414 269L414 265L397 258ZM205 353L204 343L220 331L227 338L223 361ZM312 161L324 160L332 151L332 142L326 138L308 140L304 145ZM219 273L239 269L236 253L231 249L218 259ZM350 210L355 209L372 220L372 222L369 228L354 231L348 226ZM218 275L223 289L212 300L201 299L197 288L207 276ZM191 223L206 214L218 222L217 236L200 247L190 240ZM348 123L365 121L365 145L359 148L344 137ZM272 188L252 194L254 205L259 209L275 208L278 192ZM409 106L396 113L396 114L402 129L411 128L422 113ZM443 184L447 202L436 209L421 198L438 182ZM416 337L439 336L439 320L425 315L415 330ZM184 284L197 288L207 276L197 264L181 270ZM415 223L413 220L419 198L421 198L436 209L437 224L434 225ZM153 279L141 294L152 312L152 312L170 298L170 296ZM142 268L153 277L171 263L171 261L152 246L139 252ZM227 167L220 176L203 178L200 162L211 156L222 159ZM267 74L268 76L284 80L293 63L285 54L269 59ZM426 250L434 225L415 223L408 239L424 250ZM369 73L369 73L355 80L357 97L369 105L383 93ZM129 384L145 382L148 378L148 374L133 360L124 377ZM338 43L351 35L364 49L362 55L344 60L336 54ZM411 128L421 138L411 152L405 153L400 133L402 129ZM206 137L191 140L184 124L201 114L210 132ZM71 262L67 267L46 257L48 247L63 242ZM340 377L346 378L364 365L350 353L336 359L333 366ZM407 383L397 383L394 380L392 360L396 356L418 368L419 372ZM188 73L173 76L172 77L183 99L185 99L203 85ZM358 336L362 317L364 316L375 318L383 335L370 341ZM395 75L414 73L415 72L411 53L404 50L396 51L389 58L387 63ZM114 252L89 246L86 235L87 234L108 227L117 248ZM215 76L215 77L206 85L203 85L188 73L195 55L212 64ZM117 248L108 227L112 218L114 216L130 218L135 225L129 246ZM225 45L218 37L200 42L194 53L195 55L212 64ZM211 156L200 162L190 158L187 146L191 140L206 137ZM171 145L187 146L190 158L178 170L165 153ZM167 132L178 122L184 124L191 140L187 146L171 145ZM65 239L61 230L44 227L39 236L48 247L63 242ZM240 41L246 28L265 34L261 50L253 51ZM65 239L61 230L68 214L80 213L87 234L86 235ZM260 5L264 8L272 30L265 34L246 28L244 21L258 6ZM364 49L370 47L377 33L366 23L352 30L351 35ZM149 182L156 176L155 155L144 149L131 163L134 171L149 182ZM339 15L342 16L358 1L357 -2L345 -11L334 -10L330 -6ZM385 32L377 33L370 47L389 58L396 51ZM143 -3L163 4L166 11L163 20L154 26L137 7ZM194 18L190 27L179 30L163 20L166 11L182 7ZM138 88L141 74L149 68L170 78L157 93L142 93ZM165 153L178 170L177 174L156 176L155 155ZM64 317L77 308L90 318L91 329L88 333L75 332ZM1 373L0 358L5 351L13 351L25 363L26 364L15 379ZM186 -7L169 -14L163 4L166 11L182 7ZM30 331L40 346L25 363L13 351L23 333ZM103 54L117 66L114 74L99 81L92 75L92 61ZM54 327L34 324L30 331L40 346L47 347L56 340ZM50 144L54 142L71 154L68 162L47 166L45 163ZM4 319L19 305L33 312L34 324L30 331L23 333L5 323ZM21 165L31 158L45 163L47 166L46 169L28 182L20 176ZM133 33L154 27L154 26L137 7L132 9L126 20ZM142 -12L145 -16L166 -19L169 -14L163 4L143 -3ZM99 81L99 90L117 97L123 90L114 74ZM55 -6L54 4L66 18L69 19L79 2L69 -12ZM94 24L109 23L110 23L113 41L104 49L91 35ZM6 82L7 80L4 68L-13 61L-15 62L-17 79L-5 87ZM28 39L30 40L34 58L28 64L12 59L9 41ZM26 0L28 13L28 13L10 18L3 13L1 3L12 -5ZM92 22L92 2L79 2L69 19L70 19ZM9 40L0 41L-13 61L4 68L12 59L9 41Z"/><path fill="#949494" d="M280 267L279 249L293 243L304 255L297 268ZM315 215L320 212L319 189L298 196L299 203ZM275 273L280 267L279 249L271 245L258 251L258 269ZM303 282L297 268L280 267L275 273L278 284L295 289ZM315 307L322 296L333 297L340 304L341 314L337 320L318 315ZM394 238L374 246L369 228L372 222L390 228ZM297 328L289 333L276 323L272 311L273 311L296 304ZM273 311L270 294L247 289L242 295L256 313L272 311ZM312 161L324 160L333 177L332 185L320 188L307 170ZM336 261L356 262L360 251L352 243L335 247ZM278 192L275 208L284 219L285 219L299 203L298 196L290 188ZM255 249L258 251L271 245L269 230L260 226L249 231ZM212 300L201 299L194 309L196 320L220 323L223 317ZM218 222L233 217L235 218L242 229L230 246L217 236ZM338 112L348 123L344 137L332 142L326 138L325 122ZM235 218L254 205L252 194L246 188L229 196L233 217ZM384 182L396 200L412 194L410 178L402 173L384 182ZM399 241L397 258L388 265L381 264L374 246L374 246L394 238ZM402 129L400 133L386 136L376 121L396 114ZM426 250L436 254L435 275L427 278L414 269L414 265L424 250ZM424 291L427 278L414 269L400 286L402 289ZM166 326L162 336L151 341L139 329L139 322L152 312L152 312ZM318 315L337 320L337 332L328 340L318 340L309 329ZM244 145L230 139L222 159L227 167L235 168L246 153ZM276 323L260 336L271 347L288 340L289 333ZM179 214L182 200L201 195L206 201L206 214L191 223ZM201 195L199 183L178 177L175 191L182 200ZM222 159L211 156L206 137L210 132L227 130L230 139ZM129 246L135 225L152 227L157 233L152 246L139 252ZM443 84L443 81L435 71L415 72L414 73L414 88L428 94ZM313 52L309 39L309 39L326 33L338 43L336 54L324 60ZM113 254L95 271L95 274L102 280L122 277ZM268 76L284 80L289 87L288 99L279 106L262 95ZM269 59L285 54L287 47L279 31L272 30L265 34L261 50ZM231 92L215 77L206 85L211 104L227 107L229 104ZM409 93L391 90L386 93L396 113L409 106ZM415 72L411 53L424 48L437 57L435 71ZM82 259L71 262L67 267L66 271L77 290L95 274L95 271ZM122 277L102 280L102 298L104 300L126 294L122 277ZM333 297L340 304L357 294L353 282L340 280ZM350 353L353 338L358 336L370 341L371 362L368 366L364 365ZM92 348L115 349L109 369L96 368L90 351ZM134 196L124 192L122 184L134 171L149 182ZM446 31L446 31L450 35L449 49L437 57L424 48L427 38ZM226 46L239 68L241 68L253 51L240 41ZM408 29L413 25L417 26L427 38L424 48L411 53L404 50ZM226 46L225 45L218 37L219 23L226 15L244 21L246 28L240 41ZM326 33L338 43L351 35L352 30L342 16L339 15L328 21ZM160 130L153 117L147 115L135 132L135 135L143 143ZM154 27L157 47L171 50L174 49L179 30L163 20L154 26ZM170 78L157 93L166 106L173 107L183 99L172 77ZM170 78L149 68L152 52L157 47L171 50L173 76L172 77ZM113 254L95 271L82 259L89 246L114 252ZM64 317L53 306L37 308L33 312L34 324L54 327ZM95 171L88 175L70 167L68 162L71 154L71 154L94 155ZM126 20L132 9L117 0L109 6L109 23L110 23ZM5 323L-3 341L5 351L13 351L23 333ZM72 60L68 75L51 75L47 60L57 49ZM110 145L111 145L135 135L135 132L123 121L108 129ZM69 -12L79 2L92 2L93 2L96 -12L86 -21L72 -17ZM31 -6L53 -7L55 -6L54 4L39 15L28 13L26 0ZM53 121L65 112L61 98L48 96L43 107L48 119ZM97 149L94 155L71 154L78 134L85 134ZM4 68L12 59L28 64L28 76L7 80ZM54 4L66 18L50 31L39 15Z"/><path fill="#999999" d="M308 228L325 241L310 255L304 255L293 243L296 232ZM314 282L323 270L310 255L304 255L297 268L303 282ZM315 215L308 228L296 232L285 219L299 203ZM352 243L354 231L369 228L374 246L374 246L360 251ZM332 269L336 261L356 262L361 271L353 282L340 280ZM219 273L239 269L248 276L247 289L242 295L242 295L223 289L218 275ZM230 314L248 326L250 336L248 339L227 338L220 331L220 323L223 317ZM312 161L304 145L291 145L285 150L285 164L294 174L307 170ZM357 186L360 171L375 170L384 182L384 182L370 195L363 194ZM269 230L284 219L275 208L259 209L260 226ZM365 145L380 149L383 154L375 170L360 171L353 163L359 148ZM260 157L246 153L235 168L246 178L263 169ZM248 276L239 269L236 253L255 249L258 251L258 269ZM387 336L399 319L398 313L385 309L375 318L383 335ZM257 364L269 358L271 347L260 336L250 336L248 339L247 356L253 363ZM194 361L178 352L168 361L175 382L178 381L194 362ZM255 97L262 95L279 106L277 118L275 119L253 119L251 104ZM399 319L415 330L425 315L422 309L404 307L398 313ZM254 136L244 145L230 139L227 130L230 125L251 122ZM427 112L422 113L411 128L421 138L432 138L434 133L428 113ZM338 106L357 97L369 105L369 118L365 121L348 123L338 112ZM431 166L410 178L402 173L400 158L405 153L411 152ZM173 324L189 332L178 349L162 336L166 326ZM256 313L248 326L230 314L242 295L242 295ZM337 104L315 99L307 107L308 116L325 122L338 112L338 106ZM139 329L151 341L150 347L133 358L118 348L119 343ZM160 360L150 347L133 358L133 360L148 374ZM397 348L387 336L383 335L370 341L371 362L392 360L396 356ZM432 381L434 381L448 366L438 354L425 357L418 368L419 372ZM227 107L230 125L227 130L210 132L201 114L201 114L211 104ZM260 157L246 153L244 145L254 136L267 141L269 145ZM315 81L315 99L337 104L336 82L321 77ZM92 348L115 349L118 348L119 343L112 329L91 329L88 333ZM395 75L391 90L386 93L383 93L369 73L387 63ZM241 68L243 72L242 84L231 92L215 77L215 76L239 68ZM267 74L268 76L262 95L255 97L242 84L243 72ZM190 158L200 162L203 178L199 183L178 177L177 174L178 170ZM61 230L68 214L57 206L42 218L44 227ZM371 362L392 360L394 380L373 384L368 366ZM89 246L86 235L65 239L63 242L71 262L82 259ZM112 218L86 206L80 213L87 234L108 227ZM328 21L339 15L330 -6L320 -4L316 13ZM75 357L80 380L85 381L96 368L90 351ZM64 383L80 380L75 357L72 356L54 364L53 368ZM64 317L53 306L56 295L77 291L79 295L77 308L64 317ZM105 176L105 176L102 193L114 200L124 192L122 184ZM48 247L46 257L41 260L24 250L24 247L29 239L39 236ZM77 290L66 271L48 282L47 283L56 295L77 291ZM105 176L102 193L86 202L81 191L88 175L95 171ZM19 222L29 239L24 247L3 240L2 238L17 222ZM6 203L29 196L33 213L19 222L17 222L5 208ZM143 143L135 135L111 145L120 160L131 163L144 149ZM149 68L141 74L125 64L131 47L152 52ZM198 16L219 23L218 37L200 42L190 27L194 18ZM389 7L386 4L386 -9L406 -18L416 -2L408 6ZM103 54L117 66L125 64L131 47L129 42L113 41L104 49ZM24 247L24 250L15 265L1 257L3 240ZM70 167L68 162L47 166L46 169L58 189L64 186ZM226 2L226 15L219 23L198 16L205 -3L215 -5ZM240 -19L231 -26L216 -22L215 -5L226 2L237 -5ZM5 208L-6 213L-11 226L-6 235L2 238L17 222ZM-22 360L-27 353L-17 338L-3 341L5 351L0 358ZM133 33L126 20L110 23L113 41L129 42ZM48 96L42 86L36 84L19 101L27 109L43 107ZM37 308L53 306L56 295L47 283L37 290ZM94 24L91 35L81 40L73 36L70 19L92 22ZM3 13L1 3L-5 -1L-24 5L-20 16L-9 21ZM10 18L3 13L-9 21L-7 36L0 41L9 40Z"/><path fill="#9e9e9e" d="M328 214L320 212L315 215L308 228L325 241L329 241L334 229ZM322 296L333 297L340 280L332 269L323 270L314 282ZM269 230L271 245L279 249L293 243L296 232L285 219L284 219ZM315 307L296 304L296 304L297 328L309 329L318 315ZM297 328L289 333L288 340L292 347L309 353L318 340L309 329ZM388 265L397 285L380 293L377 292L371 272L381 264ZM350 210L355 209L363 194L357 186L338 190L340 205ZM332 142L332 151L351 163L353 163L359 148L344 137ZM408 239L399 241L394 238L390 228L397 215L413 220L415 223ZM242 295L230 314L223 317L212 300L223 289ZM378 208L370 195L384 182L396 200L393 206ZM285 150L269 145L267 141L275 119L277 118L286 125L291 145ZM383 154L400 158L402 173L384 182L375 170ZM427 297L422 309L404 307L402 289L424 291ZM196 320L220 323L220 331L204 343L191 331ZM376 121L386 136L380 149L365 145L365 121L369 118ZM383 93L369 105L369 118L376 121L396 114L396 113L386 93ZM189 332L191 331L204 343L205 353L194 361L178 352L178 349ZM308 116L306 120L286 125L277 118L279 106L288 99L307 107ZM242 229L249 231L255 249L236 253L231 249L230 246ZM269 385L286 377L287 371L285 367L269 358L257 364ZM413 220L419 198L412 194L396 200L393 206L397 215ZM162 336L151 341L150 347L160 360L168 361L178 352L178 349ZM178 306L173 324L166 326L152 312L170 298ZM152 227L156 207L157 205L175 215L164 232L157 233ZM414 88L414 73L395 75L391 90L409 93ZM292 347L285 367L287 371L312 365L309 353ZM310 80L299 64L313 52L324 60L321 77L315 81ZM431 166L438 182L421 198L419 198L412 194L410 178L431 166ZM128 314L115 320L104 308L104 300L126 294L127 295ZM300 19L296 17L279 31L287 47L309 39L309 39ZM313 52L309 39L287 47L285 54L293 63L299 64ZM156 207L157 205L159 197L149 182L149 182L134 196L137 207ZM337 104L336 82L348 77L355 80L357 97L338 106ZM152 227L156 207L137 207L130 218L135 225ZM79 295L77 308L90 318L104 308L104 300L102 298ZM226 46L225 45L212 64L215 76L239 68ZM160 130L153 117L166 106L173 107L178 122L167 132ZM391 24L408 29L404 50L396 51L385 32ZM342 16L358 1L369 9L366 23L352 30ZM454 -6L452 5L432 7L426 -3L432 -13L441 -16ZM345 -11L357 -2L371 -19L361 -29L352 -27ZM124 113L141 106L142 93L138 88L123 90L117 97L116 105ZM88 175L81 191L64 186L70 167ZM23 286L20 275L38 269L48 282L47 283L37 290ZM124 113L141 106L147 115L135 132L123 121ZM114 74L123 90L138 88L141 74L125 64L117 66ZM38 269L41 260L24 250L15 265L17 273L20 275ZM89 107L74 115L65 112L61 98L73 89L88 103ZM3 180L0 187L6 203L29 196L30 193L28 182L20 176ZM7 151L21 165L20 176L3 180L-5 164L-4 158L3 152ZM116 -17L142 -12L143 -3L137 7L132 9L117 0ZM57 47L49 35L30 40L34 58L47 60L57 49ZM1 373L0 358L-22 360L-22 376L-9 380ZM93 2L109 6L117 0L116 -17L116 -17L114 -18L96 -12ZM70 19L69 19L66 18L50 31L49 35L57 47L73 36ZM17 101L19 101L27 109L26 122L12 127L8 124L8 108ZM28 76L36 84L42 86L51 75L47 60L34 58L28 64ZM39 15L50 31L49 35L30 40L28 39L28 13L28 13ZM8 108L8 124L-8 129L-10 128L-13 124L-5 106ZM12 -5L1 3L-5 -1L-8 -16L-1 -23L9 -23ZM0 41L-13 61L-15 62L-18 61L-26 47L-23 38L-7 36Z"/><path fill="#a3a3a3" d="M315 307L322 296L314 282L303 282L295 289L296 304ZM356 262L361 271L371 272L381 264L374 246L360 251ZM353 282L361 271L371 272L377 292L364 297L357 294ZM363 194L370 195L378 208L372 220L355 209ZM272 311L276 323L260 336L250 336L248 326L256 313ZM350 210L348 226L334 229L328 214L340 205ZM340 205L338 190L332 185L320 188L319 189L320 212L328 214ZM357 186L360 171L353 163L351 163L333 177L332 185L338 190ZM390 228L372 222L372 220L378 208L393 206L397 215ZM375 318L364 316L364 297L377 292L380 293L385 309ZM398 313L404 307L402 289L400 286L397 285L380 293L385 309ZM224 363L247 356L248 339L227 338L223 361ZM218 222L233 217L229 196L224 194L206 201L206 214ZM194 361L205 353L223 361L224 363L224 367L215 379L204 378L194 362ZM340 304L341 314L362 317L364 316L364 297L357 294ZM332 151L351 163L333 177L324 160ZM224 363L247 356L253 363L242 383L224 367ZM175 215L164 232L181 243L190 240L191 223L179 214ZM178 306L194 309L196 320L191 331L189 332L173 324ZM267 141L275 119L253 119L251 122L254 136ZM184 284L197 288L201 299L194 309L178 306L170 298L170 296ZM219 273L218 259L201 249L197 264L207 276L218 275ZM171 263L181 270L197 264L201 249L200 247L190 240L181 243L171 261ZM288 340L271 347L269 358L285 367L292 347ZM310 80L289 87L288 99L307 107L315 99L315 81ZM397 348L387 336L399 319L415 330L416 337L414 340ZM139 322L139 329L119 343L112 329L115 320L128 314ZM424 250L414 265L397 258L399 241L408 239ZM397 348L414 340L425 357L418 368L396 356ZM201 195L199 183L203 178L220 176L224 194L206 201ZM325 122L326 138L308 140L306 120L308 116ZM157 233L164 232L181 243L171 261L152 246ZM113 254L122 277L122 277L142 268L139 252L129 246L117 248L114 252ZM350 353L353 338L337 332L328 340L336 359ZM432 138L440 156L431 166L431 166L411 152L421 138ZM149 182L156 176L177 174L178 177L175 191L159 197ZM253 51L261 50L269 59L267 74L243 72L241 68ZM414 340L416 337L439 336L442 340L438 354L425 357ZM318 340L328 340L336 359L333 366L315 368L312 365L309 353ZM175 215L157 205L159 197L175 191L182 200L179 214ZM326 33L309 39L300 19L316 13L328 21ZM29 196L30 193L55 194L57 206L42 218L33 213ZM130 218L114 216L114 200L124 192L134 196L137 207ZM428 94L414 88L409 93L409 106L422 113L427 112ZM362 55L369 73L369 73L387 63L389 58L370 47L364 49ZM362 55L369 73L355 80L348 77L344 60ZM446 31L427 38L417 26L432 15ZM263 -11L268 -15L284 -12L285 3L264 8L260 5ZM75 332L88 333L92 348L90 351L75 357L72 356L67 342ZM112 218L86 206L86 202L102 193L114 200L114 216ZM200 42L194 53L174 49L179 30L190 27ZM86 206L86 202L81 191L64 186L58 189L55 194L57 206L68 214L80 213ZM41 372L26 364L25 363L40 346L47 347L54 364L53 368ZM240 -19L237 -5L258 6L260 5L263 -11L246 -21ZM131 163L120 160L105 176L122 184L134 171ZM115 320L104 308L90 318L91 329L112 329ZM133 33L154 27L157 47L152 52L131 47L129 42ZM110 145L108 129L97 120L85 134L97 149ZM198 16L205 -3L192 -11L186 -7L182 7L194 18ZM-4 291L-4 284L17 273L20 275L23 286L16 298ZM81 40L81 57L72 60L57 49L57 47L73 36ZM16 143L7 151L21 165L31 158L29 143ZM4 319L-3 315L-4 291L-4 291L16 298L19 305ZM85 134L78 134L74 130L74 115L89 107L96 115L97 120ZM73 83L73 89L61 98L48 96L42 86L51 75L68 75ZM16 143L29 143L34 139L34 129L26 122L12 127ZM94 24L109 23L109 6L93 2L92 2L92 22ZM4 319L-3 315L-20 319L-22 326L-17 338L-3 341L5 323ZM17 101L19 101L36 84L28 76L7 80L6 82ZM29 143L31 158L45 163L50 144L34 139ZM48 119L34 129L26 122L27 109L43 107ZM10 18L9 40L9 41L28 39L28 13ZM-24 146L-24 148L-4 158L3 152L-8 129L-10 128Z"/><path fill="none" stroke="#b8b8b8" stroke-opacity="0.85" stroke-width="2.2" stroke-linejoin="round" stroke-linecap="round" d="M298 234L307 231L322 241L309 253L304 252M331 266L334 260L333 249L329 243L325 243L312 255L324 268L331 266M310 228L324 238L328 238L332 228M331 271L324 273L317 282L323 294L332 294M314 304L320 296L313 284L304 284L298 290L298 302L314 304M350 241L336 245L331 240L336 230L346 228M301 255L296 265L282 265L282 250M314 212L318 210L318 191L301 197L301 203L314 212M284 221L284 221L272 231L273 243L280 246L291 241M274 270L278 265L278 251L271 248M363 269L370 270L379 263L373 249L361 253M304 257L300 268L304 280L313 279M306 226L297 229L287 219L299 206M372 245L361 248L355 242L356 233L368 230L372 245M277 274L280 283L294 287L300 281M294 303L294 302L293 291L279 287L272 295L274 309M342 278L335 269L338 263L354 263M339 313L335 318L320 314L318 307L324 298M371 229L373 224L388 229L392 237M295 306L295 326L289 330L278 322L275 312L275 312M299 325L309 326L315 315L313 308L298 306M300 194L293 187L296 175L307 173L317 187L317 188L300 194M257 224L249 229L244 227L237 218L253 208M245 296L257 311L270 309L270 309L268 296L249 291M268 292L275 284L273 274L259 271L251 277M291 175L288 186L279 189L273 186L270 172L284 167L291 175M359 292L355 282L362 273L370 274L375 291L364 295M371 217L357 208L364 196L370 197M298 330L292 334L291 340L293 345L308 351M257 316L271 313L273 323L260 334L252 334L251 326M335 226L330 215L340 207L348 212M320 185L309 171L314 163L323 163M321 210L328 212L338 204L336 191M378 290L373 273L382 266L387 267L395 284L380 290M241 292L240 293L225 287L220 276L221 275L238 272L246 277M337 248L339 260L354 260L357 251L351 245M223 331L222 323L225 319L231 317L246 326M340 191L342 204L350 208L354 207M339 188L355 184L358 172L352 165L350 165L336 177L334 183M380 210L391 208L394 216L389 225L374 221L374 219L380 210M285 216L285 216L296 203L296 197L290 191L280 194M349 161L352 161L356 149L344 139L334 144M411 222L412 224L407 236L400 238M383 308L375 316L366 314L366 299M310 161L303 147L292 148L287 152L287 163L294 171M398 311L402 305L401 291L399 288M400 283L412 269L412 266L398 261L391 266L398 282L400 283M229 341L225 360L226 361L245 355L246 340L229 341M269 244L267 232L260 228L251 233L256 246L259 248L269 244M262 158L269 148L283 152L282 163L269 169L265 167L262 158M223 291L239 296L229 312M231 216L227 198L223 196L208 202M359 185L362 173L375 172L382 182L382 182M207 352L207 343L219 334M261 211L262 224L269 227M330 143L325 140L310 142L307 146L314 159L323 158L329 151M220 271L237 267L234 255L230 251M361 168L356 162L361 150L366 147L378 150L380 155M197 309L199 318L218 321L221 316L211 303L202 301M214 377L205 376L197 363L197 362L206 356L220 362L221 364L221 367M384 185L393 200L391 204L380 206M221 223L232 220L234 220L240 229L230 244L219 235L221 223M356 211L369 220L369 222L367 226L356 229L350 225L352 212M289 143L284 148L270 143L269 140L276 122L277 121L285 127L289 143M360 315L362 314L362 299L357 297L343 305L343 313M400 172L385 179L378 169L384 157L398 159L400 172M333 154L348 163L333 175M342 135L333 140L328 136L327 124L338 115L346 124M252 205L250 196L245 191L231 197L234 215L236 215L252 205M248 187L248 179L262 171L266 173M247 176L261 168L258 159L247 156L238 167M207 278L217 277L220 288L211 298L203 297M404 290L422 293L424 297L421 307L406 305M241 267L238 254L254 251L256 253L256 267L248 273M217 324L218 331L205 340L193 331M386 312L378 319L384 333L388 333M193 238L194 224L206 217L216 223L215 235L201 244M249 341L249 355L254 361L257 361L267 357M303 143L306 139L305 122L289 127M242 381L226 367L226 364L245 358L251 364M176 218L166 231L181 241L189 238L189 224M410 193L408 180L401 176L387 182L387 183L396 198M377 247L393 240L397 243L395 257L388 262L383 261L377 247M370 120L376 123L383 135L379 146M176 323L179 309L193 311L194 320L190 329M394 112L386 95L383 95L371 105L371 116L378 118L394 113M382 148L387 138L398 135L403 152M273 121L255 121L253 123L255 134L266 139L273 121M195 290L199 299L192 307L179 304L173 298L173 296L184 286M216 261L202 251L199 264L208 273M180 350L180 348L190 334L191 334L202 343M192 362L178 354L170 362L176 380L178 379M203 247L204 249L218 257L228 249M305 108L306 116L304 118L288 123L279 118L281 107L289 102M438 318L427 313L425 309L428 299M257 99L263 97L276 106L275 117M414 327L423 315L420 310L405 309M182 246L173 260L173 262L182 267L195 262L199 250L198 248L190 242M358 146L346 136L350 125L364 123L364 143L358 146M436 277L429 280L426 290L428 295L442 294L446 288M232 126L249 124L251 136L243 143M431 136L432 131L428 116L426 115L423 116L414 128L422 136L431 136M367 117L363 119L350 121L341 112L340 107L357 100M247 233L252 248L237 250L233 247L233 245L242 232L247 233M387 134L379 121L395 116L400 128L398 131L387 134M404 171L402 159L406 155L411 155L428 166L410 176L404 171M255 195L256 204L260 207L273 206L276 193M424 253L426 252L434 256L434 273L427 276L417 267M425 279L414 271L402 285L405 287M282 368L270 361L260 365L270 383L283 375M165 336L168 328L173 326L187 332L177 346L165 336M410 126L419 114L409 109L399 114L398 115M272 357L284 364L289 348L287 342L273 348L272 357M412 218L417 199L411 196L398 201L396 206L399 213M445 201L437 207L423 198L438 185M152 314L152 314L163 326L160 334L151 339L142 328L142 323L152 314M425 317L417 329L418 335L437 335L437 321L425 317M319 318L335 322L335 331L327 337L319 337L312 329M342 316L339 321L340 331L352 336M253 312L248 323L233 313L242 297L242 297M307 104L313 97L313 83L309 82M183 271L186 282L196 286L204 276L196 266L183 271M421 201L434 210L435 222L432 223L417 221L415 219M311 115L325 120L336 112L335 106L334 105L317 101M122 343L138 332L148 342L147 347M235 170L243 179L244 187L230 193L225 191M175 349L162 339L153 343L152 348L160 358L167 359L175 351L175 349M224 158L228 165L235 165L244 154L242 147M149 350L135 358L136 360L147 372L157 360M166 324L155 312L170 300L175 308M153 309L153 309L168 298L168 297M139 319L130 313L129 297L140 297M400 322L412 331L413 336L412 339L398 346L390 336L400 322M141 253L144 267L154 274L168 262L168 261M203 163L212 158L220 161L224 167M137 329L120 340L115 329L117 321M173 216L163 229L158 230L154 225L157 209L158 208M272 345L286 339L287 333M397 77L393 89L408 91L412 87L413 75L397 77M192 220L181 213L185 202L199 197L204 202L204 213M249 106L251 118L249 120L232 123L229 108L231 106M422 250L413 262L400 257L401 243L408 241L422 250M422 357L417 366L398 356L399 349M283 78L290 64L284 56L271 61M391 358L394 355L394 348L387 339L383 337L373 342M204 181L219 178L221 193L206 198L203 193L201 184M324 136L309 138L308 121L310 118L322 123M164 234L178 243L170 258L155 245M416 225L411 238L424 248M180 179L178 191L183 198L198 194L197 185L180 179M368 76L358 81L359 95L369 102M139 267L137 253L129 249L119 250L116 253M213 154L208 138L212 134L225 132L228 139L221 157L213 154M141 271L124 278L128 293L129 293L140 292M289 369L309 364L307 355L293 350L287 365L289 369M160 363L166 364L173 381L171 382L151 377M171 265L156 277L156 279L170 294L182 283M349 352L351 340L338 334L331 341L336 357M431 379L434 379L446 367L437 357L426 360L421 368M123 374L114 374L111 368L116 352L119 350M146 378L145 375L134 363L126 377L131 382L144 381M311 77L301 65L313 55L322 62M132 245L136 227L150 229L155 234L150 244L140 249M412 179L430 168L430 168L436 182L421 196L420 196L414 192M115 317L106 307L107 301L124 296M430 163L430 163L414 152L422 141L431 141L438 155M212 107L225 109L228 124L225 128L211 129L204 115L204 115L212 107M173 189L160 195L152 182L158 178L175 176L176 178M336 80L345 76L342 62L336 57L326 62L324 75L336 80M440 81L433 73L418 73L417 74L416 87L428 91L440 83L440 81M335 43L334 53L324 58L315 51L312 40L312 40M296 20L282 31L289 45L307 38L307 38M119 276L112 257L97 271M345 57L339 53L340 44L351 37L361 49L359 54M255 139L264 142L266 145L259 155L248 152M334 84L322 79L317 83L317 97L335 102L334 84M245 71L243 67L254 54L260 53L267 60M279 103L265 94L269 78L283 82L287 88L286 98L279 103M310 53L308 41L289 48L288 54L294 60L299 61M426 355L417 341L418 338L437 338L440 341M317 365L314 363L312 354L319 342L327 342L333 358L331 364L317 365M154 204L155 203L156 197L149 184L149 184L136 196L138 205L154 204M113 348L116 346L117 342L111 331L93 331M263 49L270 56L283 52L285 46L278 33M411 131L419 139L411 149L406 150M193 138L186 125L201 117L208 131L204 136L193 138M228 93L215 80L208 86L213 102M383 90L371 74L387 65L393 76L389 87L386 90M338 84L347 80L354 82L355 96M150 225L154 208L138 209M407 105L406 94L392 92L389 94L397 110M424 50L435 57L433 69L417 70L413 54M241 73L240 82L231 89L217 77L218 76L237 70M209 103L201 111L187 98L202 87L205 87M73 264L69 268L69 271L77 288L92 273M50 249L63 244L69 260M161 199L175 194L180 201L177 212L174 213L160 205M349 356L338 361L335 366L341 374M394 362L397 359L416 369L416 372L406 381L398 381M185 96L200 85L187 75L175 78L174 79M265 77L261 92L255 94L245 84L245 74M80 307L91 316L101 307L102 301L100 299M363 320L365 318L374 320L380 334L370 339L360 335L363 320M197 181L181 176L180 174L180 171L190 161L198 164L200 177L197 181M44 218L46 225L60 228L66 215M106 298L123 293L120 279L120 279L104 281L104 296L106 298M373 364L390 362L392 379L374 382M302 20L316 15L325 22L324 31M396 73L412 71L413 70L409 55L403 52L397 53L391 58L390 63M112 250L91 245L89 236L89 235L107 229M214 63L216 74L236 67M54 206L42 215L35 211L32 197L32 195L52 195M196 58L210 66L212 76L212 76M341 282L335 295L341 302L355 294M118 246L111 227L113 220L116 218M134 206L129 215L116 214L116 201L124 194L132 198L134 206M185 101L199 113L199 114L184 122L180 120M359 339L369 343L370 360L367 363L364 363M201 43L196 52L197 54L211 62L223 46M193 143L205 140L209 155L200 159M97 366L92 353L93 350L113 351M186 148L188 157L178 168M126 190L125 184L134 173M176 122L167 129L161 128L156 117M186 144L173 143L169 132L178 125L183 127L189 139M421 111L425 110L426 96L415 91M293 17L280 28L273 28L267 9L284 6L290 10M61 241L62 238L59 232L46 229M253 49L243 41L247 30L263 35L259 48L253 49M79 215L85 233L84 234L66 237L64 229L69 216L79 215M187 70L192 56L192 54L176 51L173 52M67 240L66 243L72 259L81 257L87 246L85 237L67 240M301 17L314 12L318 -2L308 -8L295 8L298 16M228 4L229 14L243 19L256 6L237 -2L228 4M448 37L447 48L438 54L427 47L429 39L445 33L445 33L448 37M260 8L263 10L270 28L264 32L248 26L247 21M366 51L364 56L369 71L369 71L385 62L386 58L371 49M361 57L366 73L355 78L349 75M240 43L228 47L239 65L240 66L251 52M109 218L87 208L83 214L88 232L106 226L109 218M411 51L405 48L409 31L413 28L416 29L424 38L422 46M226 43L221 36L221 25L227 17L242 23L244 29M369 45L375 33L366 25L354 31M330 22L328 32L338 40L349 33M154 157L144 152L134 164L136 170L149 179L149 179L154 174L154 157M342 13L356 1L355 -2L345 -8L336 -8M388 55L394 50L384 34M79 290L79 290L94 276L100 281L100 296L81 294L79 290M443 30L427 36L419 26M336 14L330 -4L321 -2L318 12M402 47L396 48L387 33M89 354L77 359L81 377M262 4L264 -9L269 -13L281 -11L283 2L266 5L262 4M75 335L87 335L89 348L87 350M143 141L158 130L152 119L147 118M112 201L112 214L110 216L89 206L89 203M367 11L364 21L353 27L345 16L358 3M74 359L71 359L57 365L56 368M193 51L177 47L181 32L190 29M441 -14L451 -6L450 3L434 5L428 -3M159 45L170 48L173 47L177 31L164 22L156 27M378 30L384 29L389 23L387 9L385 7L371 11L369 22M347 -12L357 -5L368 -19L360 -27L353 -25L347 -12M84 202L79 193L65 189L60 191L57 195L59 205L69 212L79 211L84 205L84 202M51 366L41 369L28 363L28 362L40 348L46 350L52 364L51 366M77 297L75 307L65 315L64 315L56 306L58 297M148 113L153 114L163 106L156 96L143 95M167 104L173 105L180 98L172 80M162 18L154 23L139 8L145 -1L161 5L163 11M120 185L106 178L106 178L105 192M22 223L30 236L38 234L42 227L40 220L33 216L22 223M125 111L138 105L139 94L136 90M39 239L46 248L44 255L40 258L27 250M146 148L156 152L164 151L168 145L165 134L160 132L145 143M287 79L293 65L298 66L308 79L290 85M64 267L63 270L48 279L41 269M370 7L361 0L360 -2L371 -16L378 -16M430 8L430 14L417 24L414 23M168 12L181 9L192 18L188 25L179 27L166 19L168 12M66 185L71 169L86 176L80 189M105 173L97 169L96 156L99 152L109 147M259 3L260 -10L247 -19L242 -17M170 52L171 74L171 75L169 75L152 68M85 259L91 248L111 253M143 76L149 71L167 78L156 91M157 174L157 157L165 155M74 289L65 273L50 283L50 284L57 293L74 290M67 318L78 310L88 320L89 328L87 331M95 174L103 178L100 191L87 200M17 224L19 225L27 238L22 245L6 239L5 238M131 171L130 164L121 162M2 359L6 354L13 354L23 363L23 364L14 376L3 371L2 359M8 204L28 198L30 213L19 220M131 160L141 149L140 144L134 138L114 146L122 158M45 283L37 288L26 285L23 276M104 311L93 319L93 328L110 327L112 320M135 35L152 29L155 46L150 50L134 46L132 42M150 54L147 67L141 71L128 63L133 49L150 54M193 27L196 20L199 19L217 24L216 36M391 8L407 8L411 24L406 27L393 23L391 8M51 308L39 310L36 313L36 323L52 325M57 338L66 340L72 332L64 320M391 5L389 3L389 -7L405 -15L414 -2L406 4L391 5M50 348L56 342L65 344M126 114L139 109L145 116L135 130L126 120L126 114M71 162L73 156L73 156L92 156L93 170M114 43L107 50L106 54L117 63L124 61L129 48L127 44M98 123L88 134L98 147M121 120L109 126L100 119L99 115M3 256L5 242L22 248L22 251L14 263L3 256M68 168L67 164L49 168L49 170L58 186L63 184L68 168M306 -10L303 -18L292 -19L286 -11L287 1M119 68L117 75L123 88L136 86L138 74M17 265L19 271L22 273L36 268L38 261L25 253M170 -11L165 3L168 8L180 5L184 -6M46 172L30 183L33 192L52 192L55 188M200 15L206 -1L215 -2L223 4L224 14M29 333L37 345L26 360L15 350M226 0L235 -7L238 -18L230 -24M94 62L103 57L114 66L112 73M33 332L41 343L47 345L53 339L52 329M4 210L-5 215L-8 226L-5 232L2 236L14 222L4 210M-24 352L-16 341L-5 343L2 351L-2 356L-20 358M51 146L55 145L68 154L66 161L48 164L47 162M114 105L97 112L91 106L91 103L100 93L114 98L114 105M70 74L74 81L90 74L90 62L81 60M187 -5L184 6L194 15L197 14L202 -2M-2 189L-14 191L-20 199L-20 201M6 319L19 308L31 313L31 324L28 329L23 330L8 322M67 110L63 99L73 91L86 103L86 106L74 113M101 53L92 58L83 55L83 42M70 152L57 142L60 134L73 133L76 136L71 151L70 152M-18 249L-6 237L0 240L1 241L-1 255M32 160L43 165L44 167L43 169M16 296L-2 290L-2 284L16 275L19 277L21 285M35 307L32 310L21 304L19 299M125 23L112 24L115 39L128 40M79 55L71 58L60 49L60 47L72 39M28 192L25 184L19 179L6 181L2 187L8 201L27 194L28 192M9 151L21 163L29 156L27 145L17 145M124 19L129 10L117 2L111 8L111 21M16 305L4 316L-2 313L-3 293L-3 293M-2 185L1 179L-5 166L-22 174L-14 187L-2 185M85 132L80 132L76 129L76 117L88 109L94 116M12 266L1 260L-6 263L-9 274L-3 282L14 272M4 177L-2 164L-1 159L3 154L7 154L19 165M119 -1L118 -15L140 -10L141 -3M134 31L151 26L152 25L137 10L133 11M88 100L97 89L97 82L91 77L76 84L76 88L88 100M0 340L6 349L12 349L21 334L6 325M66 77L71 84L71 88L61 96M161 1L145 -5L145 -11L147 -14L164 -18M32 137L32 130L26 124L15 128M69 61L66 73L53 73L49 61M95 22L107 21L107 7L94 4L93 5L94 20L95 22M-4 318L-17 320L-19 326L-16 336L-4 338L3 323L1 320M102 89L115 94L120 89L113 77L101 82M112 143L113 143L133 135L132 133L123 123M47 57L55 49L55 47L48 38M-19 374L-10 377L-2 372M42 105L46 97L41 88L36 87L22 101L28 107M115 -2L115 -15L114 -15L113 -15L99 -12M94 -12L86 -19L74 -16L72 -12M55 132L53 140L50 141L37 137L37 130M65 115L55 122L59 130L72 129L72 117M47 286L39 292L39 306L51 304L54 296M17 98L19 99L33 85L26 78L9 82M91 25L89 34L82 38L75 35M58 44L71 35L68 21L68 21M56 -4L57 4L66 16L69 16L77 2L69 -10L56 -4M242 86L233 93L231 103L249 102L252 97M10 122L10 109L17 104L19 104L24 110M35 141L31 145L33 156L44 161L48 145L35 141M108 25L111 39L104 46L94 35M11 129L13 141L7 148L3 149L-6 131L8 127L11 129M52 4L39 12L30 11L29 1L33 -4L51 -6M49 99L46 108L49 117L53 119L63 111L59 100L49 99M7 105L14 100L6 85L-3 89M30 65L30 75L36 82L42 83L49 74L45 62L35 61L30 65M80 137L85 137L95 149L92 153L73 152L80 137M26 65L26 74L9 78L7 68M29 37L29 15L30 15L38 17L47 30M6 124L-7 127L-9 126L-10 123M42 109L45 119L34 126L28 121L28 111L42 109M-5 84L4 81L5 79L2 70L-11 63L-13 64L-14 78L-5 84M29 42L32 56L28 61L14 57M10 38L11 39L26 37L27 15L11 21L10 38M-1 -20L8 -21L9 -6L1 0L-4 -3L-5 -14L-1 -20M63 18L50 28L42 15M5 12L3 3L12 -2L24 2L26 12L26 12L11 16L5 12M72 18L90 21L90 4L80 4M-18 14L-9 18L0 12L-1 4M-10 131L-22 146L-22 147L-5 155L0 150L-8 132L-10 131M2 16L-7 22L-5 34L0 38M27 -23L12 -22L11 -22L13 -7M8 43L8 43L1 43L-11 60M-22 40L-9 38L-2 42L-13 59L-15 59L-17 58"/><path fill="none" stroke="#5e5e5e" stroke-opacity="0.45" stroke-width="3.6" stroke-linejoin="round" d="M179 30L174 49M179 30L190 27M194 53L174 49M194 53L200 42M190 27L200 42M426 -3L432 -13M426 -3L416 -2M416 -2L406 -18M402 173L410 178M402 173L384 182M410 178L412 194M412 194L396 200M396 200L384 182M384 182L384 182M-6 235L2 238M1 257L3 240M1 257L-7 261M2 238L3 240M1 257L15 265M15 265L24 250M24 250L24 247M3 240L24 247M46 169L58 189M46 169L28 182M28 182L30 193M30 193L55 194M55 194L58 189M131 47L152 52M131 47L125 64M125 64L141 74M141 74L149 68M152 52L149 68M64 186L70 167M64 186L81 191M81 191L88 175M70 167L88 175M47 166L68 162M47 166L46 169M58 189L64 186M68 162L70 167M437 57L424 48M424 48L411 53M411 53L415 72M435 71L415 72M358 1L369 9M358 1L357 -2M386 -9L386 4M369 9L386 4M357 -2L371 -19M357 -2L345 -11M205 -3L192 -11M205 -3L198 16M182 7L186 -7M182 7L194 18M194 18L198 16M166 11L163 4M166 11L182 7M163 4L169 -14M179 30L163 20M163 20L166 11M190 27L194 18M200 42L218 37M218 37L219 23M219 23L198 16M426 -3L432 7M422 309L427 297M422 309L404 307M404 307L402 289M402 289L424 291M424 291L427 297M400 286L414 269M400 286L402 289M414 269L427 278M427 278L424 291M427 278L435 275M443 297L427 297M439 320L425 315M439 336L416 337M425 315L415 330M415 330L416 337M422 309L425 315M385 309L375 318M385 309L398 313M398 313L399 319M399 319L387 336M375 318L383 335M383 335L387 336M364 316L364 297M364 316L375 318M364 297L377 292M380 293L385 309M380 293L377 292M380 293L397 285M397 285L400 286M404 307L398 313M415 330L399 319M364 316L362 317M362 317L358 336M383 335L370 341M370 341L358 336M392 360L371 362M392 360L394 380M368 366L371 362M362 317L341 314M341 314L337 320M337 320L337 332M358 336L353 338M337 332L353 338M421 198L438 182M421 198L436 209M396 200L393 206M384 182L370 195M370 195L378 208M393 206L378 208M375 170L360 171M375 170L383 154M353 163L360 171M353 163L359 148M383 154L380 149M380 149L365 145M359 148L365 145M402 173L400 158M384 182L375 170M400 158L383 154M405 153L400 158M405 153L400 133M386 136L400 133M386 136L380 149M397 285L388 265M414 269L414 265M414 265L397 258M397 258L388 265M377 292L371 272M371 272L381 264M381 264L388 265M173 107L183 99M173 107L166 106M166 106L157 93M183 99L172 77M157 93L170 78M172 77L170 78M171 50L173 76M171 50L157 47M152 52L157 47M149 68L170 78M173 76L172 77M304 255L293 243M304 255L297 268M293 243L279 249M279 249L280 267M297 268L280 267M285 219L296 232M285 219L299 203M296 232L308 228M308 228L315 215M299 203L315 215M310 255L325 241M310 255L304 255M325 241L308 228M293 243L296 232M319 189L298 196M319 189L320 212M298 196L299 203M320 212L315 215M275 208L259 209M275 208L284 219M284 219L269 230M259 209L260 226M260 226L269 230M271 245L269 230M271 245L279 249M285 219L284 219M15 265L17 273M-4 284L17 273M33 213L19 222M33 213L29 196M29 196L6 203M17 222L19 222M17 222L5 208M5 208L6 203M30 193L29 196M55 194L57 206M42 218L57 206M42 218L33 213M2 238L17 222M24 247L29 239M29 239L19 222M-6 213L5 208M-16 189L0 187M0 187L6 203M47 166L45 163M68 162L71 154M54 142L71 154M54 142L50 144M45 163L50 144M20 176L3 180M20 176L21 165M21 165L7 151M3 180L-5 164M-5 164L-4 158M-4 158L3 152M3 152L7 151M0 187L3 180M28 182L20 176M45 163L31 158M31 158L21 165M-24 148L-4 158M141 74L138 88M157 93L142 93M142 93L138 88M88 175L95 171M71 154L71 154M71 154L94 155M94 155L95 171M81 191L86 202M86 202L102 193M102 193L105 176M95 171L105 176M417 26L427 38M417 26L432 15M427 38L446 31M424 48L427 38M416 -2L408 6M417 26L413 25M413 25L408 6M386 4L389 7M408 6L389 7M396 51L404 50M396 51L385 32M404 50L408 29M408 29L391 24M385 32L391 24M370 47L377 33M370 47L389 58M377 33L385 32M389 58L396 51M411 53L404 50M413 25L408 29M389 7L391 24M369 9L366 23M366 23L377 33M365 121L365 145M365 121L369 118M386 136L376 121M369 118L376 121M418 368L425 357M418 368L396 356M425 357L414 340M414 340L397 348M396 356L397 348M416 337L414 340M438 354L425 357M387 336L397 348M392 360L396 356M370 341L371 362M337 332L328 340M328 340L336 359M353 338L350 353M336 359L350 353M364 365L350 353M411 152L431 166M411 152L421 138M421 138L432 138M410 178L431 166M405 153L411 152M419 198L412 194M419 198L421 198M393 206L397 215M378 208L372 220M372 222L372 220M372 222L390 228M397 215L390 228M419 198L413 220M397 215L413 220M369 228L372 222M369 228L374 246M374 246L394 238M390 228L394 238M374 246L374 246M374 246L381 264M397 258L399 241M394 238L399 241M370 195L363 194M372 220L355 209M355 209L363 194M332 185L333 177M332 185L338 190M353 163L351 163M360 171L357 186M351 163L333 177M338 190L357 186M363 194L357 186M351 163L332 151M333 177L324 160M324 160L332 151M173 107L178 122M183 99L185 99M178 122L184 124M185 99L201 114M201 114L201 114M201 114L184 124M166 106L153 117M141 106L142 93M141 106L147 115M147 115L153 117M334 229L348 226M334 229L328 214M348 226L350 210M328 214L340 205M340 205L350 210M320 212L328 214M325 241L329 241M329 241L334 229M369 228L354 231M354 231L348 226M355 209L350 210M320 188L332 185M320 188L319 189M338 190L340 205M364 297L357 294M371 272L361 271M361 271L353 282M357 294L353 282M341 314L340 304M357 294L340 304M360 251L356 262M360 251L352 243M356 262L336 261M352 243L335 247M335 247L336 261M374 246L360 251M361 271L356 262M354 231L352 243M329 241L335 247M271 245L258 251M258 251L255 249M260 226L249 231M249 231L255 249M24 250L41 260M17 273L20 275M41 260L38 269M20 275L38 269M-5 -1L1 3M1 3L3 13M-9 21L3 13M-13 61L0 41M-7 36L0 41M-8 129L3 152M163 20L154 26M174 49L171 50M157 47L154 27M154 26L154 27M137 7L132 9M137 7L143 -3M132 9L117 0M143 -3L142 -12M117 0L116 -17M163 4L143 -3M154 26L137 7M29 239L39 236M42 218L44 227M39 236L44 227M46 257L41 260M46 257L48 247M39 236L48 247M68 214L61 230M68 214L57 206M44 227L61 230M34 129L26 122M34 129L34 139M34 139L29 143M29 143L16 143M26 122L12 127M12 127L16 143M31 158L29 143M50 144L34 139M7 151L16 143M-8 129L8 124M8 124L12 127M54 142L58 132M71 154L78 134M78 134L74 130M58 132L74 130M43 107L48 119M43 107L48 96M61 98L65 112M61 98L48 96M65 112L53 121M48 119L53 121M27 109L43 107M27 109L26 122M34 129L48 119M42 86L36 84M42 86L48 96M27 109L19 101M36 84L19 101M58 132L53 121M74 115L74 130M74 115L65 112M28 64L12 59M28 64L28 76M28 76L7 80M12 59L4 68M7 80L4 68M42 86L51 75M51 75L47 60M36 84L28 76M47 60L34 58M34 58L28 64M-5 87L6 82M6 82L17 101M-5 106L8 108M8 108L17 101M-13 61L4 68M7 80L6 82M19 101L17 101M8 124L8 108M109 6L93 2M109 6L117 0M96 -12L93 2M46 257L67 267M38 269L48 282M48 282L66 271M67 267L66 271M122 184L105 176M122 184L134 171M105 176L120 160M120 160L131 163M134 171L131 163M124 192L114 200M124 192L122 184M102 193L114 200M105 176L105 176M400 133L402 129M376 121L396 114M396 114L402 129M421 138L411 128M402 129L411 128M391 90L395 75M391 90L386 93M386 93L383 93M383 93L369 73M369 73L387 63M387 63L395 75M369 105L383 93M369 105L369 118M396 113L396 114M396 113L386 93M369 73L355 80M369 73L369 73M355 80L357 97M357 97L369 105M389 58L387 63M415 72L414 73M414 73L395 75M358 1L342 16M366 23L352 30M352 30L342 16M309 -10L320 -4M330 -6L320 -4M342 16L339 15M330 -6L339 15M309 -10L293 9M293 9L285 3M284 -12L285 3M205 -3L215 -5M219 23L226 15M226 15L226 2M215 -5L226 2M253 363L242 383M253 363L257 364M257 364L269 385M260 336L271 347M260 336L250 336M271 347L269 358M250 336L248 339M269 358L257 364M248 339L247 356M247 356L253 363M269 358L285 367M336 359L333 366M434 225L426 250M434 225L415 223M415 223L408 239M408 239L424 250M424 250L426 250M436 254L426 250M413 220L415 223M399 241L408 239M414 265L424 250M173 76L188 73M185 99L203 85M203 85L188 73M194 53L195 55M188 73L195 55M365 121L348 123M359 148L344 137M344 137L348 123M332 151L332 142M344 137L332 142M293 9L296 17M296 17L279 31M285 3L264 8M264 8L272 30M279 31L272 30M203 178L199 183M203 178L200 162M199 183L178 177M177 174L178 177M177 174L178 170M200 162L190 158M178 170L190 158M155 155L144 149M155 155L165 153M165 153L171 145M144 149L143 143M143 143L160 130M171 145L167 132M167 132L160 130M156 176L177 174M156 176L155 155M178 170L165 153M187 146L190 158M187 146L171 145M111 145L120 160M111 145L135 135M135 135L143 143M131 163L144 149M147 115L135 132M153 117L160 130M135 132L135 135M178 122L167 132M184 124L191 140M191 140L187 146M201 114L210 132M191 140L206 137M210 132L206 137M200 162L211 156M206 137L211 156M353 282L340 280M340 304L333 297M340 280L333 297M336 261L332 269M340 280L332 269M310 255L323 270M323 270L332 269M312 365L309 353M328 340L318 340M309 353L318 340M285 367L292 347M309 353L292 347M271 347L288 340M292 347L288 340M260 336L276 323M288 340L289 333M289 333L276 323M258 251L258 269M255 249L236 253M236 253L239 269M239 269L248 276M258 269L248 276M280 267L275 273M258 269L275 273M20 275L23 286M47 283L48 282M47 283L37 290M37 290L23 286M53 306L37 308M53 306L56 295M56 295L47 283M37 290L37 308M175 382L168 361M148 374L160 360M160 360L168 361M133 358L150 347M133 358L133 360M133 360L148 374M150 347L160 360M204 343L191 331M204 343L220 331M220 331L220 323M220 323L196 320M191 331L196 320M224 367L224 363M223 361L224 363M223 361L205 353M205 353L194 361M204 378L194 362M194 362L194 361M247 356L224 363M227 338L248 339M227 338L223 361M204 343L205 353M220 331L227 338M178 381L194 362M178 352L168 361M178 352L194 361M9 41L9 40M9 41L28 39M9 40L10 18M28 39L28 13M28 13L10 18M0 41L9 40M12 59L9 41M34 58L30 40M30 40L28 39M3 13L10 18M51 75L68 75M73 89L73 83M73 89L61 98M68 75L73 83M110 23L113 41M110 23L126 20M126 20L133 33M113 41L129 42M129 42L133 33M109 6L109 23M109 23L110 23M132 9L126 20M154 27L133 33M131 47L129 42M73 89L88 103M74 115L89 107M88 103L89 107M30 40L49 35M28 13L28 13M49 35L50 31M50 31L39 15M28 13L39 15M50 31L66 18M66 18L54 4M39 15L54 4M79 2L69 -12M79 2L92 2M93 2L92 2M79 2L69 19M69 19L66 18M54 4L55 -6M1 3L12 -5M28 13L26 0M12 -5L26 0M26 0L31 -6M118 348L133 358M118 348L119 343M151 341L150 347M151 341L139 329M119 343L139 329M104 308L115 320M104 308L90 318M91 329L112 329M91 329L90 318M112 329L115 320M68 214L80 213M86 202L86 206M80 213L86 206M61 230L65 239M87 234L80 213M87 234L86 235M86 235L65 239M48 247L63 242M63 242L65 239M67 267L71 262M63 242L71 262M396 113L409 106M411 128L422 113M422 113L409 106M391 90L409 93M409 106L409 93M414 73L414 88M409 93L414 88M369 73L362 55M355 80L348 77M348 77L344 60M344 60L362 55M370 47L364 49M352 30L351 35M351 35L364 49M364 49L362 55M258 6L237 -5M258 6L260 5M260 5L263 -11M226 15L244 21M244 21L258 6M226 2L237 -5M246 28L244 21M246 28L265 34M264 8L260 5M265 34L272 30M344 60L336 54M351 35L338 43M336 54L338 43M156 176L149 182M178 177L175 191M175 191L159 197M159 197L149 182M134 171L149 182M149 182L149 182M124 192L134 196M149 182L134 196M199 183L201 195M175 191L182 200M182 200L201 195M203 178L220 176M220 176L224 194M224 194L206 201M206 201L201 195M227 130L230 139M227 130L210 132M211 156L222 159M230 139L222 159M220 176L227 167M222 159L227 167M224 194L229 196M229 196L246 188M246 188L246 178M246 178L235 168M227 167L235 168M297 268L303 282M275 273L278 284M278 284L295 289M295 289L303 282M323 270L314 282M303 282L314 282M333 297L322 296M314 282L322 296M249 231L242 229M236 253L231 249M231 249L230 246M230 246L242 229M254 205L235 218M254 205L259 209M242 229L235 218M254 205L252 194M252 194L246 188M229 196L233 217M233 217L235 218M223 317L212 300M223 317L230 314M230 314L242 295M212 300L223 289M223 289L242 295M201 299L194 309M201 299L212 300M220 323L223 317M194 309L196 320M250 336L248 326M248 326L230 314M242 295L256 313M242 295L247 289M247 289L270 294M256 313L272 311M270 294L273 311M272 311L273 311M248 326L256 313M242 295L242 295M248 276L247 289M278 284L270 294M276 323L272 311M115 349L118 348M115 349L92 348M119 343L112 329M91 329L88 333M88 333L92 348M115 349L109 369M96 368L90 351M90 351L92 348M80 380L75 357M90 351L75 357M23 286L16 298M16 298L-4 291M-4 291L-3 315M-20 319L-3 315M33 312L19 305M33 312L34 324M34 324L30 331M19 305L4 319M23 333L5 323M23 333L30 331M5 323L4 319M37 308L33 312M16 298L19 305M-3 315L4 319M13 351L5 351M13 351L23 333M5 351L-3 341M-3 341L5 323M13 351L25 363M25 363L40 346M40 346L30 331M-17 338L-3 341M127 295L128 314M127 295L141 294M141 294L152 312M128 314L139 322M152 312L139 322M104 308L104 300M115 320L128 314M126 294L104 300M126 294L127 295M139 329L139 322M178 352L178 349M151 341L162 336M178 349L162 336M191 331L189 332M178 349L189 332M152 312L170 298M152 312L166 326M166 326L173 324M173 324L178 306M170 298L178 306M152 312L152 312M162 336L166 326M189 332L173 324M194 309L178 306M125 64L117 66M123 90L138 88M123 90L114 74M117 66L114 74M123 90L117 97M99 90L117 97M99 90L99 81M114 74L99 81M73 83L92 75M88 103L99 90M99 81L92 75M89 107L96 115M117 97L116 105M116 105L96 115M141 106L124 113M116 105L124 113M135 132L123 121M123 121L124 113M47 60L57 49M49 35L57 47M57 49L57 47M68 75L72 60M57 49L72 60M102 298L102 280M102 298L79 295M79 295L77 291M95 274L102 280M95 274L77 290M77 291L77 290M77 308L79 295M77 308L90 318M104 300L102 298M56 295L77 291M66 271L77 290M428 113L427 112M427 112L428 94M428 94L443 84M422 113L427 112M414 88L428 94M230 139L244 145M235 168L246 153M246 153L244 145M275 119L267 141M275 119L253 119M253 119L251 122M251 122L254 136M254 136L267 141M230 125L251 122M230 125L227 130M244 145L254 136M307 107L315 99M307 107L308 116M308 116L325 122M315 99L337 104M325 122L338 112M338 112L338 106M338 106L337 104M279 106L288 99M279 106L277 118M288 99L307 107M277 118L286 125M286 125L306 120M306 120L308 116M308 140L306 120M308 140L326 138M326 138L325 122M332 142L326 138M348 123L338 112M357 97L338 106M348 77L336 82M336 82L337 104M309 39L326 33M309 39L300 19M300 19L316 13M316 13L328 21M328 21L326 33M296 17L300 19M279 31L287 47M287 47L309 39M309 39L309 39M320 -4L316 13M339 15L328 21M338 43L326 33M299 64L310 80M299 64L313 52M324 60L313 52M324 60L321 77M321 77L315 81M315 81L310 80M293 63L299 64M293 63L284 80M284 80L289 87M289 87L310 80M287 47L285 54M285 54L293 63M309 39L313 52M336 54L324 60M336 82L321 77M315 99L315 81M288 99L289 87M201 114L211 104M203 85L206 85M206 85L211 104M230 125L227 107M211 104L227 107M195 55L212 64M206 85L215 77M215 77L215 76M212 64L215 76M218 37L225 45M212 64L225 45M279 106L262 95M284 80L268 76M262 95L268 76M296 304L297 328M296 304L296 304M296 304L315 307M309 329L297 328M309 329L318 315M318 315L315 307M289 333L297 328M273 311L296 304M295 289L296 304M322 296L315 307M318 340L309 329M337 320L318 315M230 246L217 236M233 217L218 222M217 236L218 222M206 201L206 214M206 214L218 222M5 351L0 358M0 358L-22 360M25 363L26 364M26 364L15 379M0 358L1 373M54 364L47 347M26 364L41 372M40 346L47 347M54 364L72 356M75 357L72 356M56 340L54 327M56 340L67 342M67 342L75 332M75 332L64 317M54 327L64 317M64 317L64 317M47 347L56 340M34 324L54 327M72 356L67 342M88 333L75 332M77 308L64 317M53 306L64 317M133 360L124 377M108 129L97 120M108 129L110 145M97 120L85 134M85 134L97 149M97 149L110 145M123 121L108 129M96 115L97 120M111 145L110 145M78 134L85 134M94 155L97 149M117 66L103 54M92 75L92 61M92 61L103 54M72 60L81 57M92 61L81 57M113 41L104 49M104 49L103 54M71 262L82 259M95 274L95 271M95 271L82 259M86 235L89 246M82 259L89 246M246 153L260 157M267 141L269 145M269 145L260 157M246 178L263 169M263 169L260 157M229 104L231 92M229 104L251 104M231 92L242 84M242 84L255 97M251 104L255 97M215 77L231 92M227 107L229 104M253 119L251 104M277 118L275 119M262 95L255 97M268 76L267 74M242 84L243 72M243 72L267 74M265 34L261 50M285 54L269 59M261 50L269 59M269 59L267 74M201 249L197 264M201 249L218 259M197 264L207 276M218 259L219 273M207 276L218 275M218 275L219 273M231 249L218 259M200 247L217 236M200 247L201 249M239 269L219 273M201 299L197 288M223 289L218 275M197 288L207 276M197 288L184 284M197 264L181 270M181 270L184 284M141 294L153 279M170 298L170 296M170 296L153 279M170 296L184 284M87 234L108 227M86 206L112 218M108 227L112 218M114 200L114 216M114 216L112 218M181 243L164 232M181 243L190 240M190 240L191 223M164 232L175 215M191 223L179 214M179 214L175 215M200 247L190 240M206 214L191 223M182 200L179 214M159 197L157 205M157 205L175 215M73 36L81 40M73 36L70 19M81 40L91 35M70 19L92 22M91 35L94 24M92 22L94 24M57 47L73 36M81 57L81 40M69 19L70 19M104 49L91 35M92 2L92 22M109 23L94 24M252 194L272 188M263 169L268 171M268 171L272 188M298 196L290 188M275 208L278 192M290 188L278 192M278 192L272 188M291 145L285 150M291 145L304 145M285 150L285 164M304 145L312 161M285 164L294 174M294 174L307 170M307 170L312 161M286 125L291 145M269 145L285 150M308 140L304 145M268 171L285 164M324 160L312 161M290 188L294 174M320 188L307 170M239 68L226 46M239 68L241 68M241 68L253 51M253 51L240 41M240 41L226 46M215 76L239 68M225 45L226 46M243 72L241 68M261 50L253 51M246 28L240 41M181 270L171 263M181 243L171 261M171 261L171 263M153 279L153 277M171 263L153 277M134 196L137 207M157 205L156 207M137 207L156 207M114 216L130 218M137 207L130 218M164 232L157 233M171 261L152 246M152 246L157 233M130 218L135 225M156 207L152 227M135 225L152 227M157 233L152 227M139 252L129 246M139 252L142 268M142 268L122 277M129 246L117 248M122 277L122 277M122 277L113 254M117 248L114 252M114 252L113 254M152 246L139 252M135 225L129 246M153 277L142 268M126 294L122 277M108 227L117 248M102 280L122 277M95 271L113 254M89 246L114 252"/><path fill="none" stroke="#5a5a5a" stroke-width="1.4" d="M179 30L174 49M179 30L190 27M194 53L174 49M194 53L200 42M190 27L200 42M426 -3L432 -13M426 -3L416 -2M416 -2L406 -18M402 173L410 178M402 173L384 182M410 178L412 194M412 194L396 200M396 200L384 182M384 182L384 182M-6 235L2 238M1 257L3 240M1 257L-7 261M2 238L3 240M1 257L15 265M15 265L24 250M24 250L24 247M3 240L24 247M46 169L58 189M46 169L28 182M28 182L30 193M30 193L55 194M55 194L58 189M131 47L152 52M131 47L125 64M125 64L141 74M141 74L149 68M152 52L149 68M64 186L70 167M64 186L81 191M81 191L88 175M70 167L88 175M47 166L68 162M47 166L46 169M58 189L64 186M68 162L70 167M437 57L424 48M424 48L411 53M411 53L415 72M435 71L415 72M358 1L369 9M358 1L357 -2M386 -9L386 4M369 9L386 4M357 -2L371 -19M357 -2L345 -11M205 -3L192 -11M205 -3L198 16M182 7L186 -7M182 7L194 18M194 18L198 16M166 11L163 4M166 11L182 7M163 4L169 -14M179 30L163 20M163 20L166 11M190 27L194 18M200 42L218 37M218 37L219 23M219 23L198 16M426 -3L432 7M422 309L427 297M422 309L404 307M404 307L402 289M402 289L424 291M424 291L427 297M400 286L414 269M400 286L402 289M414 269L427 278M427 278L424 291M427 278L435 275M443 297L427 297M439 320L425 315M439 336L416 337M425 315L415 330M415 330L416 337M422 309L425 315M385 309L375 318M385 309L398 313M398 313L399 319M399 319L387 336M375 318L383 335M383 335L387 336M364 316L364 297M364 316L375 318M364 297L377 292M380 293L385 309M380 293L377 292M380 293L397 285M397 285L400 286M404 307L398 313M415 330L399 319M364 316L362 317M362 317L358 336M383 335L370 341M370 341L358 336M392 360L371 362M392 360L394 380M368 366L371 362M362 317L341 314M341 314L337 320M337 320L337 332M358 336L353 338M337 332L353 338M421 198L438 182M421 198L436 209M396 200L393 206M384 182L370 195M370 195L378 208M393 206L378 208M375 170L360 171M375 170L383 154M353 163L360 171M353 163L359 148M383 154L380 149M380 149L365 145M359 148L365 145M402 173L400 158M384 182L375 170M400 158L383 154M405 153L400 158M405 153L400 133M386 136L400 133M386 136L380 149M397 285L388 265M414 269L414 265M414 265L397 258M397 258L388 265M377 292L371 272M371 272L381 264M381 264L388 265M173 107L183 99M173 107L166 106M166 106L157 93M183 99L172 77M157 93L170 78M172 77L170 78M171 50L173 76M171 50L157 47M152 52L157 47M149 68L170 78M173 76L172 77M304 255L293 243M304 255L297 268M293 243L279 249M279 249L280 267M297 268L280 267M285 219L296 232M285 219L299 203M296 232L308 228M308 228L315 215M299 203L315 215M310 255L325 241M310 255L304 255M325 241L308 228M293 243L296 232M319 189L298 196M319 189L320 212M298 196L299 203M320 212L315 215M275 208L259 209M275 208L284 219M284 219L269 230M259 209L260 226M260 226L269 230M271 245L269 230M271 245L279 249M285 219L284 219M15 265L17 273M-4 284L17 273M33 213L19 222M33 213L29 196M29 196L6 203M17 222L19 222M17 222L5 208M5 208L6 203M30 193L29 196M55 194L57 206M42 218L57 206M42 218L33 213M2 238L17 222M24 247L29 239M29 239L19 222M-6 213L5 208M-16 189L0 187M0 187L6 203M47 166L45 163M68 162L71 154M54 142L71 154M54 142L50 144M45 163L50 144M20 176L3 180M20 176L21 165M21 165L7 151M3 180L-5 164M-5 164L-4 158M-4 158L3 152M3 152L7 151M0 187L3 180M28 182L20 176M45 163L31 158M31 158L21 165M-24 148L-4 158M141 74L138 88M157 93L142 93M142 93L138 88M88 175L95 171M71 154L71 154M71 154L94 155M94 155L95 171M81 191L86 202M86 202L102 193M102 193L105 176M95 171L105 176M417 26L427 38M417 26L432 15M427 38L446 31M424 48L427 38M416 -2L408 6M417 26L413 25M413 25L408 6M386 4L389 7M408 6L389 7M396 51L404 50M396 51L385 32M404 50L408 29M408 29L391 24M385 32L391 24M370 47L377 33M370 47L389 58M377 33L385 32M389 58L396 51M411 53L404 50M413 25L408 29M389 7L391 24M369 9L366 23M366 23L377 33M365 121L365 145M365 121L369 118M386 136L376 121M369 118L376 121M418 368L425 357M418 368L396 356M425 357L414 340M414 340L397 348M396 356L397 348M416 337L414 340M438 354L425 357M387 336L397 348M392 360L396 356M370 341L371 362M337 332L328 340M328 340L336 359M353 338L350 353M336 359L350 353M364 365L350 353M411 152L431 166M411 152L421 138M421 138L432 138M410 178L431 166M405 153L411 152M419 198L412 194M419 198L421 198M393 206L397 215M378 208L372 220M372 222L372 220M372 222L390 228M397 215L390 228M419 198L413 220M397 215L413 220M369 228L372 222M369 228L374 246M374 246L394 238M390 228L394 238M374 246L374 246M374 246L381 264M397 258L399 241M394 238L399 241M370 195L363 194M372 220L355 209M355 209L363 194M332 185L333 177M332 185L338 190M353 163L351 163M360 171L357 186M351 163L333 177M338 190L357 186M363 194L357 186M351 163L332 151M333 177L324 160M324 160L332 151M173 107L178 122M183 99L185 99M178 122L184 124M185 99L201 114M201 114L201 114M201 114L184 124M166 106L153 117M141 106L142 93M141 106L147 115M147 115L153 117M334 229L348 226M334 229L328 214M348 226L350 210M328 214L340 205M340 205L350 210M320 212L328 214M325 241L329 241M329 241L334 229M369 228L354 231M354 231L348 226M355 209L350 210M320 188L332 185M320 188L319 189M338 190L340 205M364 297L357 294M371 272L361 271M361 271L353 282M357 294L353 282M341 314L340 304M357 294L340 304M360 251L356 262M360 251L352 243M356 262L336 261M352 243L335 247M335 247L336 261M374 246L360 251M361 271L356 262M354 231L352 243M329 241L335 247M271 245L258 251M258 251L255 249M260 226L249 231M249 231L255 249M24 250L41 260M17 273L20 275M41 260L38 269M20 275L38 269M-5 -1L1 3M1 3L3 13M-9 21L3 13M-13 61L0 41M-7 36L0 41M-8 129L3 152M163 20L154 26M174 49L171 50M157 47L154 27M154 26L154 27M137 7L132 9M137 7L143 -3M132 9L117 0M143 -3L142 -12M117 0L116 -17M163 4L143 -3M154 26L137 7M29 239L39 236M42 218L44 227M39 236L44 227M46 257L41 260M46 257L48 247M39 236L48 247M68 214L61 230M68 214L57 206M44 227L61 230M34 129L26 122M34 129L34 139M34 139L29 143M29 143L16 143M26 122L12 127M12 127L16 143M31 158L29 143M50 144L34 139M7 151L16 143M-8 129L8 124M8 124L12 127M54 142L58 132M71 154L78 134M78 134L74 130M58 132L74 130M43 107L48 119M43 107L48 96M61 98L65 112M61 98L48 96M65 112L53 121M48 119L53 121M27 109L43 107M27 109L26 122M34 129L48 119M42 86L36 84M42 86L48 96M27 109L19 101M36 84L19 101M58 132L53 121M74 115L74 130M74 115L65 112M28 64L12 59M28 64L28 76M28 76L7 80M12 59L4 68M7 80L4 68M42 86L51 75M51 75L47 60M36 84L28 76M47 60L34 58M34 58L28 64M-5 87L6 82M6 82L17 101M-5 106L8 108M8 108L17 101M-13 61L4 68M7 80L6 82M19 101L17 101M8 124L8 108M109 6L93 2M109 6L117 0M96 -12L93 2M46 257L67 267M38 269L48 282M48 282L66 271M67 267L66 271M122 184L105 176M122 184L134 171M105 176L120 160M120 160L131 163M134 171L131 163M124 192L114 200M124 192L122 184M102 193L114 200M105 176L105 176M400 133L402 129M376 121L396 114M396 114L402 129M421 138L411 128M402 129L411 128M391 90L395 75M391 90L386 93M386 93L383 93M383 93L369 73M369 73L387 63M387 63L395 75M369 105L383 93M369 105L369 118M396 113L396 114M396 113L386 93M369 73L355 80M369 73L369 73M355 80L357 97M357 97L369 105M389 58L387 63M415 72L414 73M414 73L395 75M358 1L342 16M366 23L352 30M352 30L342 16M309 -10L320 -4M330 -6L320 -4M342 16L339 15M330 -6L339 15M309 -10L293 9M293 9L285 3M284 -12L285 3M205 -3L215 -5M219 23L226 15M226 15L226 2M215 -5L226 2M253 363L242 383M253 363L257 364M257 364L269 385M260 336L271 347M260 336L250 336M271 347L269 358M250 336L248 339M269 358L257 364M248 339L247 356M247 356L253 363M269 358L285 367M336 359L333 366M434 225L426 250M434 225L415 223M415 223L408 239M408 239L424 250M424 250L426 250M436 254L426 250M413 220L415 223M399 241L408 239M414 265L424 250M173 76L188 73M185 99L203 85M203 85L188 73M194 53L195 55M188 73L195 55M365 121L348 123M359 148L344 137M344 137L348 123M332 151L332 142M344 137L332 142M293 9L296 17M296 17L279 31M285 3L264 8M264 8L272 30M279 31L272 30M203 178L199 183M203 178L200 162M199 183L178 177M177 174L178 177M177 174L178 170M200 162L190 158M178 170L190 158M155 155L144 149M155 155L165 153M165 153L171 145M144 149L143 143M143 143L160 130M171 145L167 132M167 132L160 130M156 176L177 174M156 176L155 155M178 170L165 153M187 146L190 158M187 146L171 145M111 145L120 160M111 145L135 135M135 135L143 143M131 163L144 149M147 115L135 132M153 117L160 130M135 132L135 135M178 122L167 132M184 124L191 140M191 140L187 146M201 114L210 132M191 140L206 137M210 132L206 137M200 162L211 156M206 137L211 156M353 282L340 280M340 304L333 297M340 280L333 297M336 261L332 269M340 280L332 269M310 255L323 270M323 270L332 269M312 365L309 353M328 340L318 340M309 353L318 340M285 367L292 347M309 353L292 347M271 347L288 340M292 347L288 340M260 336L276 323M288 340L289 333M289 333L276 323M258 251L258 269M255 249L236 253M236 253L239 269M239 269L248 276M258 269L248 276M280 267L275 273M258 269L275 273M20 275L23 286M47 283L48 282M47 283L37 290M37 290L23 286M53 306L37 308M53 306L56 295M56 295L47 283M37 290L37 308M175 382L168 361M148 374L160 360M160 360L168 361M133 358L150 347M133 358L133 360M133 360L148 374M150 347L160 360M204 343L191 331M204 343L220 331M220 331L220 323M220 323L196 320M191 331L196 320M224 367L224 363M223 361L224 363M223 361L205 353M205 353L194 361M204 378L194 362M194 362L194 361M247 356L224 363M227 338L248 339M227 338L223 361M204 343L205 353M220 331L227 338M178 381L194 362M178 352L168 361M178 352L194 361M9 41L9 40M9 41L28 39M9 40L10 18M28 39L28 13M28 13L10 18M0 41L9 40M12 59L9 41M34 58L30 40M30 40L28 39M3 13L10 18M51 75L68 75M73 89L73 83M73 89L61 98M68 75L73 83M110 23L113 41M110 23L126 20M126 20L133 33M113 41L129 42M129 42L133 33M109 6L109 23M109 23L110 23M132 9L126 20M154 27L133 33M131 47L129 42M73 89L88 103M74 115L89 107M88 103L89 107M30 40L49 35M28 13L28 13M49 35L50 31M50 31L39 15M28 13L39 15M50 31L66 18M66 18L54 4M39 15L54 4M79 2L69 -12M79 2L92 2M93 2L92 2M79 2L69 19M69 19L66 18M54 4L55 -6M1 3L12 -5M28 13L26 0M12 -5L26 0M26 0L31 -6M118 348L133 358M118 348L119 343M151 341L150 347M151 341L139 329M119 343L139 329M104 308L115 320M104 308L90 318M91 329L112 329M91 329L90 318M112 329L115 320M68 214L80 213M86 202L86 206M80 213L86 206M61 230L65 239M87 234L80 213M87 234L86 235M86 235L65 239M48 247L63 242M63 242L65 239M67 267L71 262M63 242L71 262M396 113L409 106M411 128L422 113M422 113L409 106M391 90L409 93M409 106L409 93M414 73L414 88M409 93L414 88M369 73L362 55M355 80L348 77M348 77L344 60M344 60L362 55M370 47L364 49M352 30L351 35M351 35L364 49M364 49L362 55M258 6L237 -5M258 6L260 5M260 5L263 -11M226 15L244 21M244 21L258 6M226 2L237 -5M246 28L244 21M246 28L265 34M264 8L260 5M265 34L272 30M344 60L336 54M351 35L338 43M336 54L338 43M156 176L149 182M178 177L175 191M175 191L159 197M159 197L149 182M134 171L149 182M149 182L149 182M124 192L134 196M149 182L134 196M199 183L201 195M175 191L182 200M182 200L201 195M203 178L220 176M220 176L224 194M224 194L206 201M206 201L201 195M227 130L230 139M227 130L210 132M211 156L222 159M230 139L222 159M220 176L227 167M222 159L227 167M224 194L229 196M229 196L246 188M246 188L246 178M246 178L235 168M227 167L235 168M297 268L303 282M275 273L278 284M278 284L295 289M295 289L303 282M323 270L314 282M303 282L314 282M333 297L322 296M314 282L322 296M249 231L242 229M236 253L231 249M231 249L230 246M230 246L242 229M254 205L235 218M254 205L259 209M242 229L235 218M254 205L252 194M252 194L246 188M229 196L233 217M233 217L235 218M223 317L212 300M223 317L230 314M230 314L242 295M212 300L223 289M223 289L242 295M201 299L194 309M201 299L212 300M220 323L223 317M194 309L196 320M250 336L248 326M248 326L230 314M242 295L256 313M242 295L247 289M247 289L270 294M256 313L272 311M270 294L273 311M272 311L273 311M248 326L256 313M242 295L242 295M248 276L247 289M278 284L270 294M276 323L272 311M115 349L118 348M115 349L92 348M119 343L112 329M91 329L88 333M88 333L92 348M115 349L109 369M96 368L90 351M90 351L92 348M80 380L75 357M90 351L75 357M23 286L16 298M16 298L-4 291M-4 291L-3 315M-20 319L-3 315M33 312L19 305M33 312L34 324M34 324L30 331M19 305L4 319M23 333L5 323M23 333L30 331M5 323L4 319M37 308L33 312M16 298L19 305M-3 315L4 319M13 351L5 351M13 351L23 333M5 351L-3 341M-3 341L5 323M13 351L25 363M25 363L40 346M40 346L30 331M-17 338L-3 341M127 295L128 314M127 295L141 294M141 294L152 312M128 314L139 322M152 312L139 322M104 308L104 300M115 320L128 314M126 294L104 300M126 294L127 295M139 329L139 322M178 352L178 349M151 341L162 336M178 349L162 336M191 331L189 332M178 349L189 332M152 312L170 298M152 312L166 326M166 326L173 324M173 324L178 306M170 298L178 306M152 312L152 312M162 336L166 326M189 332L173 324M194 309L178 306M125 64L117 66M123 90L138 88M123 90L114 74M117 66L114 74M123 90L117 97M99 90L117 97M99 90L99 81M114 74L99 81M73 83L92 75M88 103L99 90M99 81L92 75M89 107L96 115M117 97L116 105M116 105L96 115M141 106L124 113M116 105L124 113M135 132L123 121M123 121L124 113M47 60L57 49M49 35L57 47M57 49L57 47M68 75L72 60M57 49L72 60M102 298L102 280M102 298L79 295M79 295L77 291M95 274L102 280M95 274L77 290M77 291L77 290M77 308L79 295M77 308L90 318M104 300L102 298M56 295L77 291M66 271L77 290M428 113L427 112M427 112L428 94M428 94L443 84M422 113L427 112M414 88L428 94M230 139L244 145M235 168L246 153M246 153L244 145M275 119L267 141M275 119L253 119M253 119L251 122M251 122L254 136M254 136L267 141M230 125L251 122M230 125L227 130M244 145L254 136M307 107L315 99M307 107L308 116M308 116L325 122M315 99L337 104M325 122L338 112M338 112L338 106M338 106L337 104M279 106L288 99M279 106L277 118M288 99L307 107M277 118L286 125M286 125L306 120M306 120L308 116M308 140L306 120M308 140L326 138M326 138L325 122M332 142L326 138M348 123L338 112M357 97L338 106M348 77L336 82M336 82L337 104M309 39L326 33M309 39L300 19M300 19L316 13M316 13L328 21M328 21L326 33M296 17L300 19M279 31L287 47M287 47L309 39M309 39L309 39M320 -4L316 13M339 15L328 21M338 43L326 33M299 64L310 80M299 64L313 52M324 60L313 52M324 60L321 77M321 77L315 81M315 81L310 80M293 63L299 64M293 63L284 80M284 80L289 87M289 87L310 80M287 47L285 54M285 54L293 63M309 39L313 52M336 54L324 60M336 82L321 77M315 99L315 81M288 99L289 87M201 114L211 104M203 85L206 85M206 85L211 104M230 125L227 107M211 104L227 107M195 55L212 64M206 85L215 77M215 77L215 76M212 64L215 76M218 37L225 45M212 64L225 45M279 106L262 95M284 80L268 76M262 95L268 76M296 304L297 328M296 304L296 304M296 304L315 307M309 329L297 328M309 329L318 315M318 315L315 307M289 333L297 328M273 311L296 304M295 289L296 304M322 296L315 307M318 340L309 329M337 320L318 315M230 246L217 236M233 217L218 222M217 236L218 222M206 201L206 214M206 214L218 222M5 351L0 358M0 358L-22 360M25 363L26 364M26 364L15 379M0 358L1 373M54 364L47 347M26 364L41 372M40 346L47 347M54 364L72 356M75 357L72 356M56 340L54 327M56 340L67 342M67 342L75 332M75 332L64 317M54 327L64 317M64 317L64 317M47 347L56 340M34 324L54 327M72 356L67 342M88 333L75 332M77 308L64 317M53 306L64 317M133 360L124 377M108 129L97 120M108 129L110 145M97 120L85 134M85 134L97 149M97 149L110 145M123 121L108 129M96 115L97 120M111 145L110 145M78 134L85 134M94 155L97 149M117 66L103 54M92 75L92 61M92 61L103 54M72 60L81 57M92 61L81 57M113 41L104 49M104 49L103 54M71 262L82 259M95 274L95 271M95 271L82 259M86 235L89 246M82 259L89 246M246 153L260 157M267 141L269 145M269 145L260 157M246 178L263 169M263 169L260 157M229 104L231 92M229 104L251 104M231 92L242 84M242 84L255 97M251 104L255 97M215 77L231 92M227 107L229 104M253 119L251 104M277 118L275 119M262 95L255 97M268 76L267 74M242 84L243 72M243 72L267 74M265 34L261 50M285 54L269 59M261 50L269 59M269 59L267 74M201 249L197 264M201 249L218 259M197 264L207 276M218 259L219 273M207 276L218 275M218 275L219 273M231 249L218 259M200 247L217 236M200 247L201 249M239 269L219 273M201 299L197 288M223 289L218 275M197 288L207 276M197 288L184 284M197 264L181 270M181 270L184 284M141 294L153 279M170 298L170 296M170 296L153 279M170 296L184 284M87 234L108 227M86 206L112 218M108 227L112 218M114 200L114 216M114 216L112 218M181 243L164 232M181 243L190 240M190 240L191 223M164 232L175 215M191 223L179 214M179 214L175 215M200 247L190 240M206 214L191 223M182 200L179 214M159 197L157 205M157 205L175 215M73 36L81 40M73 36L70 19M81 40L91 35M70 19L92 22M91 35L94 24M92 22L94 24M57 47L73 36M81 57L81 40M69 19L70 19M104 49L91 35M92 2L92 22M109 23L94 24M252 194L272 188M263 169L268 171M268 171L272 188M298 196L290 188M275 208L278 192M290 188L278 192M278 192L272 188M291 145L285 150M291 145L304 145M285 150L285 164M304 145L312 161M285 164L294 174M294 174L307 170M307 170L312 161M286 125L291 145M269 145L285 150M308 140L304 145M268 171L285 164M324 160L312 161M290 188L294 174M320 188L307 170M239 68L226 46M239 68L241 68M241 68L253 51M253 51L240 41M240 41L226 46M215 76L239 68M225 45L226 46M243 72L241 68M261 50L253 51M246 28L240 41M181 270L171 263M181 243L171 261M171 261L171 263M153 279L153 277M171 263L153 277M134 196L137 207M157 205L156 207M137 207L156 207M114 216L130 218M137 207L130 218M164 232L157 233M171 261L152 246M152 246L157 233M130 218L135 225M156 207L152 227M135 225L152 227M157 233L152 227M139 252L129 246M139 252L142 268M142 268L122 277M129 246L117 248M122 277L122 277M122 277L113 254M117 248L114 252M114 252L113 254M152 246L139 252M135 225L129 246M153 277L142 268M126 294L122 277M108 227L117 248M102 280L122 277M95 271L113 254M89 246L114 252"/></g></g></svg><div class="lab" style="top:6.1px">PyAA-MeO</div><div class="bar" style="left:182.0px;top:166.1px"></div></div>
</body></html>
